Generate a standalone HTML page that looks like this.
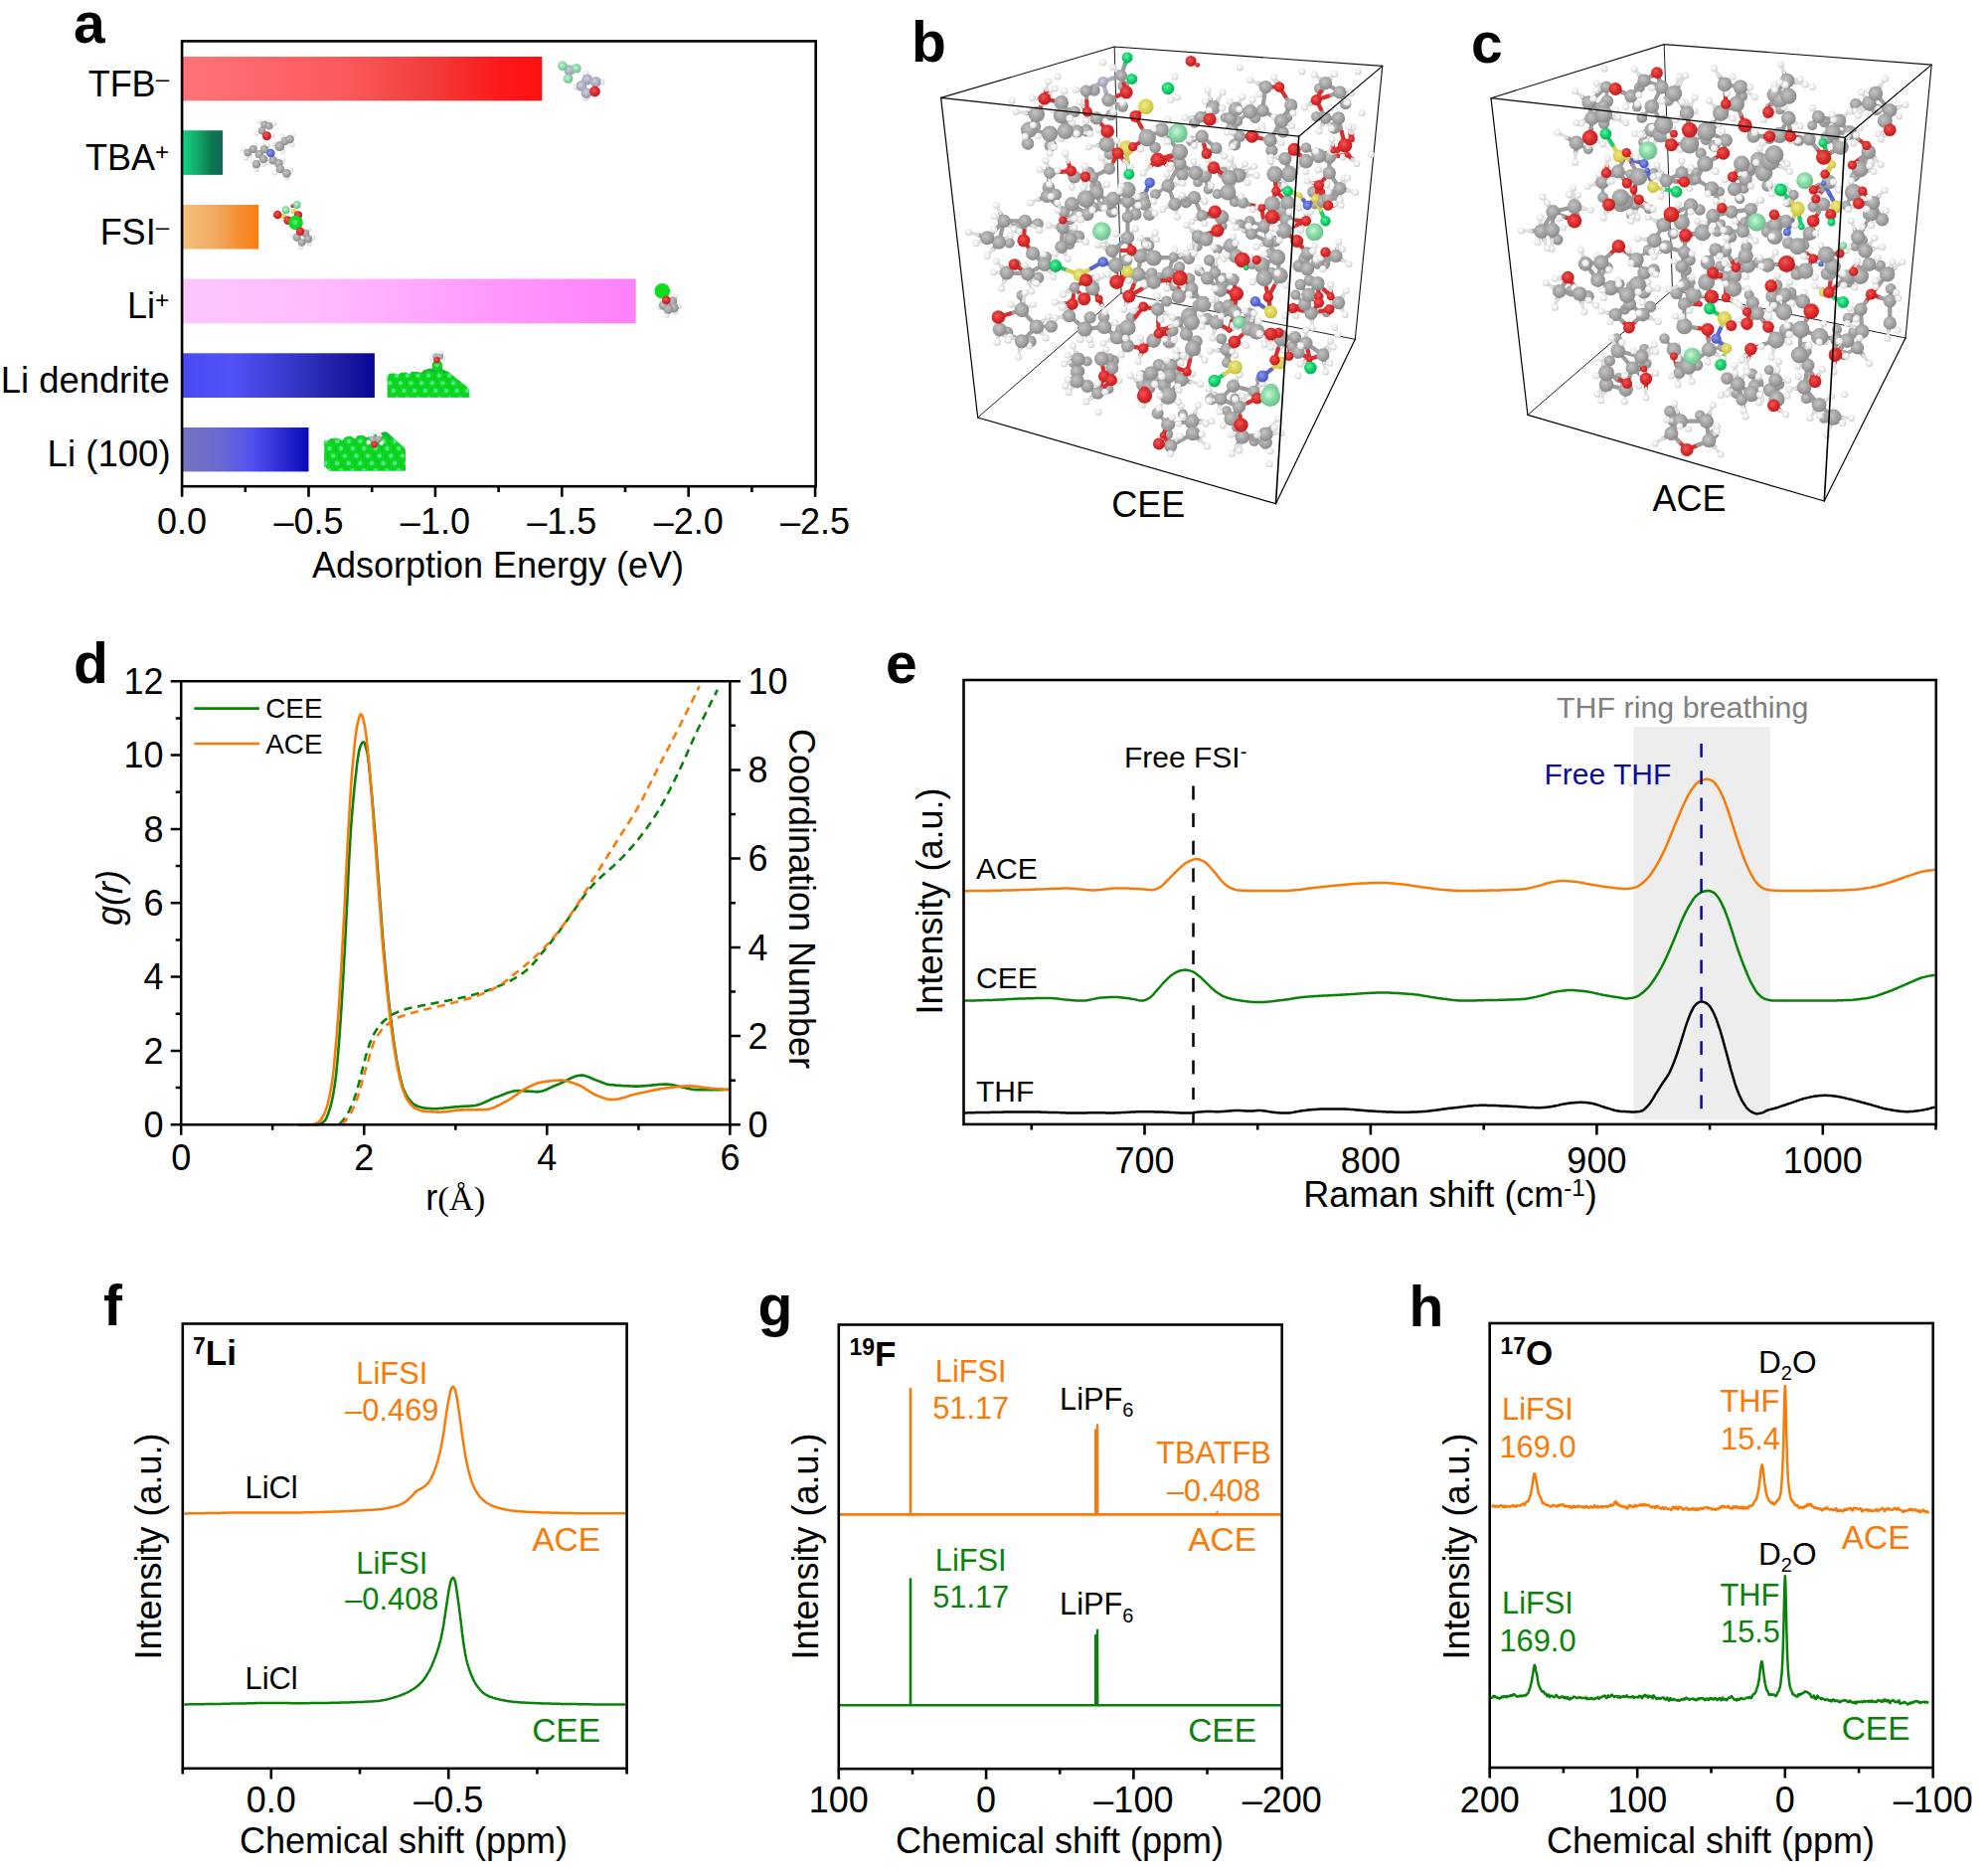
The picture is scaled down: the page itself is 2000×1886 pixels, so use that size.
<!DOCTYPE html>
<html lang="en">
<head>
<meta charset="utf-8">
<title>Figure</title>
<style>
html,body{margin:0;padding:0;background:#fff;}
body{width:2000px;height:1886px;overflow:hidden;}
svg{display:block;font-family:'Liberation Sans', sans-serif;}
</style>
</head>
<body>
<svg width="2000" height="1886" viewBox="0 0 2000 1886">
<rect width="2000" height="1886" fill="#fff"/>
<defs>
<linearGradient id="gTFB" x1="0" x2="1" y1="0" y2="0"><stop offset="0" stop-color="#ff7378"/><stop offset="0.45" stop-color="#fb5a5c"/><stop offset="0.7" stop-color="#f23a3a"/><stop offset="0.88" stop-color="#fd1a1a"/><stop offset="1" stop-color="#ff1010"/></linearGradient>
<linearGradient id="gTBA" x1="0" x2="1" y1="0" y2="0"><stop offset="0" stop-color="#12d684"/><stop offset="0.4" stop-color="#10a868"/><stop offset="0.7" stop-color="#0e7a50"/><stop offset="1" stop-color="#0e6858"/></linearGradient>
<linearGradient id="gFSI" x1="0" x2="1" y1="0" y2="0"><stop offset="0" stop-color="#f6c27e"/><stop offset="0.45" stop-color="#f2a860"/><stop offset="0.8" stop-color="#f58a28"/><stop offset="1" stop-color="#f87e10"/></linearGradient>
<linearGradient id="gLi" x1="0" x2="1" y1="0" y2="0"><stop offset="0" stop-color="#fdc6fd"/><stop offset="0.3" stop-color="#ffbcff"/><stop offset="0.7" stop-color="#ff98fc"/><stop offset="1" stop-color="#ff80fc"/></linearGradient>
<linearGradient id="gDen" x1="0" x2="1" y1="0" y2="0"><stop offset="0" stop-color="#4a4af2"/><stop offset="0.25" stop-color="#5252f8"/><stop offset="0.6" stop-color="#3434c6"/><stop offset="0.85" stop-color="#1a1aa0"/><stop offset="1" stop-color="#06069a"/></linearGradient>
<linearGradient id="gL100" x1="0" x2="1" y1="0" y2="0"><stop offset="0" stop-color="#7474c0"/><stop offset="0.3" stop-color="#6a6ad2"/><stop offset="0.55" stop-color="#5252f0"/><stop offset="0.8" stop-color="#2a2ad0"/><stop offset="1" stop-color="#0a0ab8"/></linearGradient>
</defs>
<rect x="183.1" y="57.0" width="362.2" height="44.3" fill="url(#gTFB)"/>
<rect x="183.1" y="131.2" width="40.9" height="44.7" fill="url(#gTBA)"/>
<rect x="183.1" y="206.0" width="77.1" height="44.5" fill="url(#gFSI)"/>
<rect x="183.1" y="280.5" width="456.5" height="44.8" fill="url(#gLi)"/>
<rect x="183.1" y="355.3" width="193.8" height="44.7" fill="url(#gDen)"/>
<rect x="183.1" y="430.0" width="127.4" height="44.4" fill="url(#gL100)"/>
<rect x="183.1" y="41.4" width="637.6" height="447.8" fill="none" stroke="#000" stroke-width="2.6"/>
<path d="M183.1 489.2L183.1 499.8M246.8 489.2L246.8 495.0M310.5 489.2L310.5 499.8M374.2 489.2L374.2 495.0M437.9 489.2L437.9 499.8M501.6 489.2L501.6 495.0M565.3 489.2L565.3 499.8M629.0 489.2L629.0 495.0M692.7 489.2L692.7 499.8M756.4 489.2L756.4 495.0M820.1 489.2L820.1 499.8" stroke="#000" stroke-width="2.6" fill="none"/>
<text x="183.1" y="537.2" font-size="36" text-anchor="middle">0.0</text>
<text x="310.5" y="537.2" font-size="36" text-anchor="middle">–0.5</text>
<text x="437.9" y="537.2" font-size="36" text-anchor="middle">–1.0</text>
<text x="565.3" y="537.2" font-size="36" text-anchor="middle">–1.5</text>
<text x="692.7" y="537.2" font-size="36" text-anchor="middle">–2.0</text>
<text x="820.1" y="537.2" font-size="36" text-anchor="middle">–2.5</text>
<text x="501.0" y="581.0" font-size="36" text-anchor="middle">Adsorption Energy (eV)</text>
<text x="170.0" y="96.6" font-size="36" text-anchor="end">TFB<tspan font-size="24" dy="-10">–</tspan></text>
<text x="170.0" y="171.0" font-size="36" text-anchor="end">TBA<tspan font-size="24" dy="-10">+</tspan></text>
<text x="170.0" y="245.6" font-size="36" text-anchor="end">FSI<tspan font-size="24" dy="-10">–</tspan></text>
<text x="170.0" y="320.0" font-size="36" text-anchor="end">Li<tspan font-size="24" dy="-10">+</tspan></text>
<text x="170.7" y="394.5" font-size="36.4" text-anchor="end">Li dendrite</text>
<text x="171.6" y="469.0" font-size="36.6" text-anchor="end">Li (100)</text>
<text x="74.0" y="43.0" font-size="57" font-weight="bold">a</text>
<circle cx="260.8" cy="122.0" r="2.5" fill="url(#aH)"/><circle cx="268.8" cy="122.0" r="2.5" fill="url(#aH)"/><circle cx="275.6" cy="124.8" r="2.5" fill="url(#aH)"/><circle cx="258.0" cy="134.0" r="2.5" fill="url(#aH)"/><circle cx="273.6" cy="136.4" r="2.5" fill="url(#aH)"/><circle cx="244.8" cy="150.0" r="2.5" fill="url(#aH)"/><circle cx="247.2" cy="158.8" r="2.5" fill="url(#aH)"/><circle cx="256.4" cy="145.6" r="2.5" fill="url(#aH)"/><circle cx="264.4" cy="146.4" r="2.5" fill="url(#aH)"/><circle cx="269.2" cy="146.8" r="2.5" fill="url(#aH)"/><circle cx="276.0" cy="144.4" r="2.5" fill="url(#aH)"/><circle cx="284.4" cy="136.8" r="2.5" fill="url(#aH)"/><circle cx="294.4" cy="136.0" r="2.5" fill="url(#aH)"/><circle cx="294.0" cy="145.2" r="2.5" fill="url(#aH)"/><circle cx="284.8" cy="152.0" r="2.5" fill="url(#aH)"/><circle cx="254.0" cy="162.0" r="2.5" fill="url(#aH)"/><circle cx="258.0" cy="170.4" r="2.5" fill="url(#aH)"/><circle cx="265.2" cy="165.2" r="2.5" fill="url(#aH)"/><circle cx="269.2" cy="163.6" r="2.5" fill="url(#aH)"/><circle cx="284.8" cy="160.8" r="2.5" fill="url(#aH)"/><circle cx="292.4" cy="171.2" r="2.5" fill="url(#aH)"/><circle cx="276.8" cy="174.0" r="2.5" fill="url(#aH)"/><circle cx="288.8" cy="178.8" r="2.5" fill="url(#aH)"/><circle cx="251.2" cy="156.0" r="2.5" fill="url(#aH)"/>
<circle cx="266.0" cy="125.2" r="3.8" fill="url(#aC)"/><circle cx="270.8" cy="126.8" r="3.8" fill="url(#aC)"/><circle cx="263.6" cy="131.6" r="3.8" fill="url(#aC)"/><circle cx="254.8" cy="150.0" r="4.1" fill="url(#aC)"/><circle cx="249.2" cy="153.6" r="3.8" fill="url(#aC)"/><circle cx="266.0" cy="150.4" r="4.1" fill="url(#aC)"/><circle cx="260.8" cy="155.2" r="4.1" fill="url(#aC)"/><circle cx="265.2" cy="160.0" r="4.3" fill="url(#aC)"/><circle cx="258.0" cy="165.2" r="4.1" fill="url(#aC)"/><circle cx="281.2" cy="147.2" r="4.9" fill="url(#aC)"/><circle cx="286.8" cy="142.0" r="4.3" fill="url(#aC)"/><circle cx="291.6" cy="140.0" r="4.3" fill="url(#aC)"/><circle cx="274.8" cy="161.2" r="4.3" fill="url(#aC)"/><circle cx="280.4" cy="164.4" r="4.3" fill="url(#aC)"/><circle cx="282.0" cy="170.0" r="4.3" fill="url(#aC)"/><circle cx="288.4" cy="174.4" r="4.3" fill="url(#aC)"/>
<circle cx="268.4" cy="136.8" r="4.5" fill="url(#aO)"/>
<circle cx="272.4" cy="154.0" r="4.3" fill="url(#aN)"/>
<circle cx="310.4" cy="230.4" r="2.5" fill="url(#aH)"/><circle cx="294.8" cy="237.2" r="2.5" fill="url(#aH)"/><circle cx="314.4" cy="239.2" r="2.5" fill="url(#aH)"/><circle cx="311.2" cy="245.2" r="2.5" fill="url(#aH)"/><circle cx="302.4" cy="248.8" r="2.5" fill="url(#aH)"/><circle cx="305.2" cy="242.8" r="2.5" fill="url(#aH)"/>
<circle cx="298.8" cy="238.8" r="4.1" fill="url(#aC)"/><circle cx="307.2" cy="234.8" r="4.1" fill="url(#aC)"/><circle cx="310.0" cy="240.4" r="4.1" fill="url(#aC)"/><circle cx="303.6" cy="244.0" r="3.8" fill="url(#aC)"/>
<circle cx="285.2" cy="217.2" r="2.7" fill="url(#aS)"/><circle cx="295.6" cy="212.4" r="2.7" fill="url(#aS)"/>
<circle cx="279.2" cy="216.0" r="4.3" fill="url(#aO)"/><circle cx="289.6" cy="221.6" r="4.3" fill="url(#aO)"/><circle cx="300.0" cy="216.4" r="4.1" fill="url(#aO)"/><circle cx="294.4" cy="207.2" r="1.9" fill="url(#aO)"/>
<circle cx="287.6" cy="211.2" r="3.9" fill="url(#aL)"/><circle cx="298.8" cy="206.0" r="3.9" fill="url(#aL)"/>
<circle cx="297.6" cy="224.0" r="7.3" fill="#10dc20"/>
<circle cx="296.8" cy="223.6" r="2.6" fill="#48e67c"/>
<circle cx="302.0" cy="232.8" r="4.3" fill="url(#aO)"/>
<circle cx="589.5" cy="74.1" r="3.2" fill="url(#aH)"/><circle cx="605.2" cy="82.4" r="3.2" fill="url(#aH)"/><circle cx="579.6" cy="87.2" r="3.2" fill="url(#aH)"/><circle cx="589.2" cy="98.4" r="3.2" fill="url(#aH)"/>
<circle cx="572.9" cy="70.7" r="5.4" fill="url(#aP)"/><circle cx="590.8" cy="80.0" r="5.4" fill="url(#aP)"/><circle cx="599.3" cy="82.4" r="5.4" fill="url(#aP)"/><circle cx="584.9" cy="86.4" r="5.4" fill="url(#aP)"/><circle cx="590.0" cy="93.6" r="5.4" fill="url(#aP)"/>
<circle cx="598.5" cy="92.0" r="5.4" fill="url(#aO)"/>
<circle cx="566.0" cy="66.4" r="4.8" fill="url(#aL)"/><circle cx="579.9" cy="68.8" r="4.8" fill="url(#aL)"/><circle cx="571.6" cy="79.2" r="4.8" fill="url(#aL)"/>
<circle cx="678.8" cy="299.2" r="3.0" fill="url(#aH)"/><circle cx="663.6" cy="308.8" r="3.0" fill="url(#aH)"/><circle cx="682.8" cy="308.0" r="3.0" fill="url(#aH)"/><circle cx="670.8" cy="316.8" r="3.0" fill="url(#aH)"/><circle cx="679.6" cy="313.6" r="3.0" fill="url(#aH)"/>
<circle cx="676.4" cy="303.2" r="4.8" fill="url(#aC)"/><circle cx="667.6" cy="307.2" r="4.8" fill="url(#aC)"/><circle cx="678.0" cy="309.6" r="4.8" fill="url(#aC)"/><circle cx="672.4" cy="311.2" r="4.8" fill="url(#aC)"/>
<circle cx="666.3" cy="292.8" r="7.8" fill="#10dc20"/>
<circle cx="670.3" cy="301.9" r="4.3" fill="url(#aO)"/>
<clipPath id="cpDen"><polygon points="389.7,378.5 391.9,375.8 396.9,375.5 400.5,377.1 403.3,374.9 408.2,374.6 411.9,376.2 414.1,374.0 419.6,373.7 423.2,374.9 426.8,372.1 431.3,370.8 434.8,370.3 435.0,366.3 437.7,364.3 442.2,364.3 445.1,366.7 445.1,371.2 451.3,374.0 458.5,380.3 467.6,387.1 472.1,392.5 472.3,399.8 389.7,399.8"/></clipPath><g clip-path="url(#cpDen)"><polygon points="389.7,378.5 391.9,375.8 396.9,375.5 400.5,377.1 403.3,374.9 408.2,374.6 411.9,376.2 414.1,374.0 419.6,373.7 423.2,374.9 426.8,372.1 431.3,370.8 434.8,370.3 435.0,366.3 437.7,364.3 442.2,364.3 445.1,366.7 445.1,371.2 451.3,374.0 458.5,380.3 467.6,387.1 472.1,392.5 472.3,399.8 389.7,399.8" fill="#12b440"/><circle cx="367.8" cy="378.0" r="5.3" fill="#0cd81c"/><circle cx="378.4" cy="378.0" r="5.3" fill="#0cd81c"/><circle cx="389.0" cy="378.0" r="5.3" fill="#0cd81c"/><circle cx="399.6" cy="378.0" r="5.3" fill="#0cd81c"/><circle cx="410.2" cy="378.0" r="5.3" fill="#0cd81c"/><circle cx="420.8" cy="378.0" r="5.3" fill="#0cd81c"/><circle cx="431.4" cy="378.0" r="5.3" fill="#0cd81c"/><circle cx="442.0" cy="378.0" r="5.3" fill="#0cd81c"/><circle cx="452.6" cy="378.0" r="5.3" fill="#0cd81c"/><circle cx="463.2" cy="378.0" r="5.3" fill="#0cd81c"/><circle cx="473.8" cy="378.0" r="5.3" fill="#0cd81c"/><circle cx="484.4" cy="378.0" r="5.3" fill="#0cd81c"/><circle cx="371.4" cy="385.6" r="5.3" fill="#0cd81c"/><circle cx="382.0" cy="385.6" r="5.3" fill="#0cd81c"/><circle cx="392.6" cy="385.6" r="5.3" fill="#0cd81c"/><circle cx="403.2" cy="385.6" r="5.3" fill="#0cd81c"/><circle cx="413.8" cy="385.6" r="5.3" fill="#0cd81c"/><circle cx="424.4" cy="385.6" r="5.3" fill="#0cd81c"/><circle cx="435.0" cy="385.6" r="5.3" fill="#0cd81c"/><circle cx="445.6" cy="385.6" r="5.3" fill="#0cd81c"/><circle cx="456.2" cy="385.6" r="5.3" fill="#0cd81c"/><circle cx="466.8" cy="385.6" r="5.3" fill="#0cd81c"/><circle cx="477.4" cy="385.6" r="5.3" fill="#0cd81c"/><circle cx="488.0" cy="385.6" r="5.3" fill="#0cd81c"/><circle cx="375.0" cy="393.2" r="5.3" fill="#0cd81c"/><circle cx="385.6" cy="393.2" r="5.3" fill="#0cd81c"/><circle cx="396.2" cy="393.2" r="5.3" fill="#0cd81c"/><circle cx="406.8" cy="393.2" r="5.3" fill="#0cd81c"/><circle cx="417.4" cy="393.2" r="5.3" fill="#0cd81c"/><circle cx="428.0" cy="393.2" r="5.3" fill="#0cd81c"/><circle cx="438.6" cy="393.2" r="5.3" fill="#0cd81c"/><circle cx="449.2" cy="393.2" r="5.3" fill="#0cd81c"/><circle cx="459.8" cy="393.2" r="5.3" fill="#0cd81c"/><circle cx="470.4" cy="393.2" r="5.3" fill="#0cd81c"/><circle cx="481.0" cy="393.2" r="5.3" fill="#0cd81c"/><circle cx="491.6" cy="393.2" r="5.3" fill="#0cd81c"/><circle cx="378.6" cy="400.8" r="5.3" fill="#0cd81c"/><circle cx="389.2" cy="400.8" r="5.3" fill="#0cd81c"/><circle cx="399.8" cy="400.8" r="5.3" fill="#0cd81c"/><circle cx="410.4" cy="400.8" r="5.3" fill="#0cd81c"/><circle cx="421.0" cy="400.8" r="5.3" fill="#0cd81c"/><circle cx="431.6" cy="400.8" r="5.3" fill="#0cd81c"/><circle cx="442.2" cy="400.8" r="5.3" fill="#0cd81c"/><circle cx="452.8" cy="400.8" r="5.3" fill="#0cd81c"/><circle cx="463.4" cy="400.8" r="5.3" fill="#0cd81c"/><circle cx="474.0" cy="400.8" r="5.3" fill="#0cd81c"/><circle cx="484.6" cy="400.8" r="5.3" fill="#0cd81c"/><circle cx="495.2" cy="400.8" r="5.3" fill="#0cd81c"/><circle cx="367.5" cy="377.7" r="2.2" fill="#52e486"/><circle cx="378.1" cy="377.7" r="2.2" fill="#52e486"/><circle cx="388.7" cy="377.7" r="2.2" fill="#52e486"/><circle cx="399.3" cy="377.7" r="2.2" fill="#52e486"/><circle cx="409.9" cy="377.7" r="2.2" fill="#52e486"/><circle cx="420.5" cy="377.7" r="2.2" fill="#52e486"/><circle cx="431.1" cy="377.7" r="2.2" fill="#52e486"/><circle cx="441.7" cy="377.7" r="2.2" fill="#52e486"/><circle cx="452.3" cy="377.7" r="2.2" fill="#52e486"/><circle cx="462.9" cy="377.7" r="2.2" fill="#52e486"/><circle cx="473.5" cy="377.7" r="2.2" fill="#52e486"/><circle cx="484.1" cy="377.7" r="2.2" fill="#52e486"/><circle cx="371.1" cy="385.3" r="2.2" fill="#52e486"/><circle cx="381.7" cy="385.3" r="2.2" fill="#52e486"/><circle cx="392.3" cy="385.3" r="2.2" fill="#52e486"/><circle cx="402.9" cy="385.3" r="2.2" fill="#52e486"/><circle cx="413.5" cy="385.3" r="2.2" fill="#52e486"/><circle cx="424.1" cy="385.3" r="2.2" fill="#52e486"/><circle cx="434.7" cy="385.3" r="2.2" fill="#52e486"/><circle cx="445.3" cy="385.3" r="2.2" fill="#52e486"/><circle cx="455.9" cy="385.3" r="2.2" fill="#52e486"/><circle cx="466.5" cy="385.3" r="2.2" fill="#52e486"/><circle cx="477.1" cy="385.3" r="2.2" fill="#52e486"/><circle cx="487.7" cy="385.3" r="2.2" fill="#52e486"/><circle cx="374.7" cy="392.9" r="2.2" fill="#52e486"/><circle cx="385.3" cy="392.9" r="2.2" fill="#52e486"/><circle cx="395.9" cy="392.9" r="2.2" fill="#52e486"/><circle cx="406.5" cy="392.9" r="2.2" fill="#52e486"/><circle cx="417.1" cy="392.9" r="2.2" fill="#52e486"/><circle cx="427.7" cy="392.9" r="2.2" fill="#52e486"/><circle cx="438.3" cy="392.9" r="2.2" fill="#52e486"/><circle cx="448.9" cy="392.9" r="2.2" fill="#52e486"/><circle cx="459.5" cy="392.9" r="2.2" fill="#52e486"/><circle cx="470.1" cy="392.9" r="2.2" fill="#52e486"/><circle cx="480.7" cy="392.9" r="2.2" fill="#52e486"/><circle cx="491.3" cy="392.9" r="2.2" fill="#52e486"/><circle cx="378.3" cy="400.5" r="2.2" fill="#52e486"/><circle cx="388.9" cy="400.5" r="2.2" fill="#52e486"/><circle cx="399.5" cy="400.5" r="2.2" fill="#52e486"/><circle cx="410.1" cy="400.5" r="2.2" fill="#52e486"/><circle cx="420.7" cy="400.5" r="2.2" fill="#52e486"/><circle cx="431.3" cy="400.5" r="2.2" fill="#52e486"/><circle cx="441.9" cy="400.5" r="2.2" fill="#52e486"/><circle cx="452.5" cy="400.5" r="2.2" fill="#52e486"/><circle cx="463.1" cy="400.5" r="2.2" fill="#52e486"/><circle cx="473.7" cy="400.5" r="2.2" fill="#52e486"/><circle cx="484.3" cy="400.5" r="2.2" fill="#52e486"/><circle cx="494.9" cy="400.5" r="2.2" fill="#52e486"/></g>
<clipPath id="cpL100"><polygon points="326.3,442.8 329.5,443.2 333.5,441.0 339.9,440.7 344.4,443.2 347.1,439.6 353.5,439.1 357.1,441.4 359.3,438.2 365.2,437.8 368.9,440.1 373.4,437.3 382.4,436.0 385.2,434.2 389.2,434.3 407.8,451.4 408.0,473.6 331.7,473.8 326.3,468.6"/></clipPath><g clip-path="url(#cpL100)"><polygon points="326.3,442.8 329.5,443.2 333.5,441.0 339.9,440.7 344.4,443.2 347.1,439.6 353.5,439.1 357.1,441.4 359.3,438.2 365.2,437.8 368.9,440.1 373.4,437.3 382.4,436.0 385.2,434.2 389.2,434.3 407.8,451.4 408.0,473.6 331.7,473.8 326.3,468.6" fill="#12b440"/><circle cx="304.8" cy="444.0" r="5.5" fill="#0cd81c"/><circle cx="316.4" cy="444.0" r="5.5" fill="#0cd81c"/><circle cx="328.0" cy="444.0" r="5.5" fill="#0cd81c"/><circle cx="339.6" cy="444.0" r="5.5" fill="#0cd81c"/><circle cx="351.2" cy="444.0" r="5.5" fill="#0cd81c"/><circle cx="362.8" cy="444.0" r="5.5" fill="#0cd81c"/><circle cx="374.4" cy="444.0" r="5.5" fill="#0cd81c"/><circle cx="386.0" cy="444.0" r="5.5" fill="#0cd81c"/><circle cx="397.6" cy="444.0" r="5.5" fill="#0cd81c"/><circle cx="409.2" cy="444.0" r="5.5" fill="#0cd81c"/><circle cx="420.8" cy="444.0" r="5.5" fill="#0cd81c"/><circle cx="432.4" cy="444.0" r="5.5" fill="#0cd81c"/><circle cx="308.6" cy="451.4" r="5.5" fill="#0cd81c"/><circle cx="320.2" cy="451.4" r="5.5" fill="#0cd81c"/><circle cx="331.8" cy="451.4" r="5.5" fill="#0cd81c"/><circle cx="343.4" cy="451.4" r="5.5" fill="#0cd81c"/><circle cx="355.0" cy="451.4" r="5.5" fill="#0cd81c"/><circle cx="366.6" cy="451.4" r="5.5" fill="#0cd81c"/><circle cx="378.2" cy="451.4" r="5.5" fill="#0cd81c"/><circle cx="389.8" cy="451.4" r="5.5" fill="#0cd81c"/><circle cx="401.4" cy="451.4" r="5.5" fill="#0cd81c"/><circle cx="413.0" cy="451.4" r="5.5" fill="#0cd81c"/><circle cx="424.6" cy="451.4" r="5.5" fill="#0cd81c"/><circle cx="436.2" cy="451.4" r="5.5" fill="#0cd81c"/><circle cx="312.4" cy="458.8" r="5.5" fill="#0cd81c"/><circle cx="324.0" cy="458.8" r="5.5" fill="#0cd81c"/><circle cx="335.6" cy="458.8" r="5.5" fill="#0cd81c"/><circle cx="347.2" cy="458.8" r="5.5" fill="#0cd81c"/><circle cx="358.8" cy="458.8" r="5.5" fill="#0cd81c"/><circle cx="370.4" cy="458.8" r="5.5" fill="#0cd81c"/><circle cx="382.0" cy="458.8" r="5.5" fill="#0cd81c"/><circle cx="393.6" cy="458.8" r="5.5" fill="#0cd81c"/><circle cx="405.2" cy="458.8" r="5.5" fill="#0cd81c"/><circle cx="416.8" cy="458.8" r="5.5" fill="#0cd81c"/><circle cx="428.4" cy="458.8" r="5.5" fill="#0cd81c"/><circle cx="440.0" cy="458.8" r="5.5" fill="#0cd81c"/><circle cx="316.2" cy="466.2" r="5.5" fill="#0cd81c"/><circle cx="327.8" cy="466.2" r="5.5" fill="#0cd81c"/><circle cx="339.4" cy="466.2" r="5.5" fill="#0cd81c"/><circle cx="351.0" cy="466.2" r="5.5" fill="#0cd81c"/><circle cx="362.6" cy="466.2" r="5.5" fill="#0cd81c"/><circle cx="374.2" cy="466.2" r="5.5" fill="#0cd81c"/><circle cx="385.8" cy="466.2" r="5.5" fill="#0cd81c"/><circle cx="397.4" cy="466.2" r="5.5" fill="#0cd81c"/><circle cx="409.0" cy="466.2" r="5.5" fill="#0cd81c"/><circle cx="420.6" cy="466.2" r="5.5" fill="#0cd81c"/><circle cx="432.2" cy="466.2" r="5.5" fill="#0cd81c"/><circle cx="443.8" cy="466.2" r="5.5" fill="#0cd81c"/><circle cx="320.0" cy="473.6" r="5.5" fill="#0cd81c"/><circle cx="331.6" cy="473.6" r="5.5" fill="#0cd81c"/><circle cx="343.2" cy="473.6" r="5.5" fill="#0cd81c"/><circle cx="354.8" cy="473.6" r="5.5" fill="#0cd81c"/><circle cx="366.4" cy="473.6" r="5.5" fill="#0cd81c"/><circle cx="378.0" cy="473.6" r="5.5" fill="#0cd81c"/><circle cx="389.6" cy="473.6" r="5.5" fill="#0cd81c"/><circle cx="401.2" cy="473.6" r="5.5" fill="#0cd81c"/><circle cx="412.8" cy="473.6" r="5.5" fill="#0cd81c"/><circle cx="424.4" cy="473.6" r="5.5" fill="#0cd81c"/><circle cx="436.0" cy="473.6" r="5.5" fill="#0cd81c"/><circle cx="447.6" cy="473.6" r="5.5" fill="#0cd81c"/><circle cx="304.5" cy="443.7" r="2.3" fill="#52e486"/><circle cx="316.1" cy="443.7" r="2.3" fill="#52e486"/><circle cx="327.7" cy="443.7" r="2.3" fill="#52e486"/><circle cx="339.3" cy="443.7" r="2.3" fill="#52e486"/><circle cx="350.9" cy="443.7" r="2.3" fill="#52e486"/><circle cx="362.5" cy="443.7" r="2.3" fill="#52e486"/><circle cx="374.1" cy="443.7" r="2.3" fill="#52e486"/><circle cx="385.7" cy="443.7" r="2.3" fill="#52e486"/><circle cx="397.3" cy="443.7" r="2.3" fill="#52e486"/><circle cx="408.9" cy="443.7" r="2.3" fill="#52e486"/><circle cx="420.5" cy="443.7" r="2.3" fill="#52e486"/><circle cx="432.1" cy="443.7" r="2.3" fill="#52e486"/><circle cx="308.3" cy="451.1" r="2.3" fill="#52e486"/><circle cx="319.9" cy="451.1" r="2.3" fill="#52e486"/><circle cx="331.5" cy="451.1" r="2.3" fill="#52e486"/><circle cx="343.1" cy="451.1" r="2.3" fill="#52e486"/><circle cx="354.7" cy="451.1" r="2.3" fill="#52e486"/><circle cx="366.3" cy="451.1" r="2.3" fill="#52e486"/><circle cx="377.9" cy="451.1" r="2.3" fill="#52e486"/><circle cx="389.5" cy="451.1" r="2.3" fill="#52e486"/><circle cx="401.1" cy="451.1" r="2.3" fill="#52e486"/><circle cx="412.7" cy="451.1" r="2.3" fill="#52e486"/><circle cx="424.3" cy="451.1" r="2.3" fill="#52e486"/><circle cx="435.9" cy="451.1" r="2.3" fill="#52e486"/><circle cx="312.1" cy="458.5" r="2.3" fill="#52e486"/><circle cx="323.7" cy="458.5" r="2.3" fill="#52e486"/><circle cx="335.3" cy="458.5" r="2.3" fill="#52e486"/><circle cx="346.9" cy="458.5" r="2.3" fill="#52e486"/><circle cx="358.5" cy="458.5" r="2.3" fill="#52e486"/><circle cx="370.1" cy="458.5" r="2.3" fill="#52e486"/><circle cx="381.7" cy="458.5" r="2.3" fill="#52e486"/><circle cx="393.3" cy="458.5" r="2.3" fill="#52e486"/><circle cx="404.9" cy="458.5" r="2.3" fill="#52e486"/><circle cx="416.5" cy="458.5" r="2.3" fill="#52e486"/><circle cx="428.1" cy="458.5" r="2.3" fill="#52e486"/><circle cx="439.7" cy="458.5" r="2.3" fill="#52e486"/><circle cx="315.9" cy="465.9" r="2.3" fill="#52e486"/><circle cx="327.5" cy="465.9" r="2.3" fill="#52e486"/><circle cx="339.1" cy="465.9" r="2.3" fill="#52e486"/><circle cx="350.7" cy="465.9" r="2.3" fill="#52e486"/><circle cx="362.3" cy="465.9" r="2.3" fill="#52e486"/><circle cx="373.9" cy="465.9" r="2.3" fill="#52e486"/><circle cx="385.5" cy="465.9" r="2.3" fill="#52e486"/><circle cx="397.1" cy="465.9" r="2.3" fill="#52e486"/><circle cx="408.7" cy="465.9" r="2.3" fill="#52e486"/><circle cx="420.3" cy="465.9" r="2.3" fill="#52e486"/><circle cx="431.9" cy="465.9" r="2.3" fill="#52e486"/><circle cx="443.5" cy="465.9" r="2.3" fill="#52e486"/><circle cx="319.7" cy="473.3" r="2.3" fill="#52e486"/><circle cx="331.3" cy="473.3" r="2.3" fill="#52e486"/><circle cx="342.9" cy="473.3" r="2.3" fill="#52e486"/><circle cx="354.5" cy="473.3" r="2.3" fill="#52e486"/><circle cx="366.1" cy="473.3" r="2.3" fill="#52e486"/><circle cx="377.7" cy="473.3" r="2.3" fill="#52e486"/><circle cx="389.3" cy="473.3" r="2.3" fill="#52e486"/><circle cx="400.9" cy="473.3" r="2.3" fill="#52e486"/><circle cx="412.5" cy="473.3" r="2.3" fill="#52e486"/><circle cx="424.1" cy="473.3" r="2.3" fill="#52e486"/><circle cx="435.7" cy="473.3" r="2.3" fill="#52e486"/><circle cx="447.3" cy="473.3" r="2.3" fill="#52e486"/></g>
<circle cx="439.9" cy="367.6" r="5.3" fill="#0cd81c"/><circle cx="439.6" cy="367.3" r="2.2" fill="#52e486"/>
<circle cx="436.8" cy="356.3" r="2.7" fill="url(#aH)"/><circle cx="444.0" cy="355.8" r="2.7" fill="url(#aH)"/><circle cx="434.0" cy="360.4" r="2.4" fill="url(#aH)"/><circle cx="445.8" cy="360.4" r="2.4" fill="url(#aH)"/>
<circle cx="438.6" cy="358.6" r="3.2" fill="url(#aC)"/><circle cx="442.7" cy="358.6" r="3.2" fill="url(#aC)"/>
<circle cx="439.5" cy="362.2" r="3.2" fill="url(#aO)"/>
<circle cx="373.8" cy="438.2" r="2.9" fill="url(#aH)"/><circle cx="381.5" cy="438.2" r="2.9" fill="url(#aH)"/><circle cx="370.7" cy="445.0" r="2.4" fill="url(#aH)"/><circle cx="383.8" cy="445.5" r="2.4" fill="url(#aH)"/>
<circle cx="375.2" cy="441.9" r="3.4" fill="url(#aC)"/><circle cx="380.6" cy="441.9" r="3.4" fill="url(#aC)"/>
<circle cx="376.6" cy="447.3" r="3.2" fill="url(#aO)"/>
<defs>
<radialGradient id="aC" cx="0.4" cy="0.38" r="0.68"><stop offset="0" stop-color="#c4c4c4"/><stop offset="0.55" stop-color="#a2a2a2"/><stop offset="1" stop-color="#848484"/></radialGradient>
<radialGradient id="aH" cx="0.42" cy="0.4" r="0.7"><stop offset="0" stop-color="#ffffff"/><stop offset="0.5" stop-color="#ececec"/><stop offset="1" stop-color="#c2c2c2"/></radialGradient>
<radialGradient id="aO" cx="0.4" cy="0.38" r="0.68"><stop offset="0" stop-color="#f25656"/><stop offset="0.5" stop-color="#dc2c2c"/><stop offset="1" stop-color="#b81c1c"/></radialGradient>
<radialGradient id="aF" cx="0.4" cy="0.38" r="0.68"><stop offset="0" stop-color="#5cf0a0"/><stop offset="0.5" stop-color="#14d26c"/><stop offset="1" stop-color="#08a854"/></radialGradient>
<radialGradient id="aL" cx="0.42" cy="0.4" r="0.68"><stop offset="0" stop-color="#c8f6d8"/><stop offset="0.5" stop-color="#86d8a4"/><stop offset="1" stop-color="#62b884"/></radialGradient>
<radialGradient id="aS" cx="0.42" cy="0.4" r="0.68"><stop offset="0" stop-color="#f0ea88"/><stop offset="0.6" stop-color="#d8d050"/><stop offset="1" stop-color="#c0b83c"/></radialGradient>
<radialGradient id="aN" cx="0.42" cy="0.4" r="0.68"><stop offset="0" stop-color="#8c98ec"/><stop offset="0.6" stop-color="#5868d0"/><stop offset="1" stop-color="#4050b0"/></radialGradient>
<radialGradient id="aP" cx="0.42" cy="0.4" r="0.68"><stop offset="0" stop-color="#d0d0e0"/><stop offset="0.6" stop-color="#a8a8c0"/><stop offset="1" stop-color="#9090a8"/></radialGradient>
</defs>
<path d="M1121.2 47.0L1128.0 294.8M1128.0 294.8L983.7 420.0M1128.0 294.8L1363.3 341.3" stroke="#222" stroke-width="1.0" fill="none" stroke-linecap="round"/>
<path d="M1121.2 47.0L1390.8 66.4M1390.8 66.4L1363.3 341.3M946.6 98.4L1121.2 47.0" stroke="#111" stroke-width="1.1" fill="none" stroke-linecap="round"/>
<path d="M1130.3 86.5L1128.0 75.8M1100.7 90.7L1092.6 91.5M1129.4 107.2L1114.9 100.6M1076.7 112.9L1067.8 103.2M1041.2 127.1L1042.9 115.0M1081.3 112.3L1067.8 116.3M1117.7 115.7L1103.1 118.9M1034.0 144.4L1035.1 130.7M1056.8 146.2L1056.0 134.6M1093.2 131.1L1083.5 132.0M1116.5 155.1L1113.6 145.1M1162.1 148.4L1154.1 138.6M1054.9 188.7L1056.0 173.9M1095.2 173.7L1080.9 177.8M1102.3 187.0L1099.2 177.8M1061.8 195.9L1053.4 197.4M1082.6 215.7L1078.3 205.3M1107.2 207.9L1103.1 193.5M1131.9 193.0L1120.1 200.0M1143.7 206.9L1150.2 198.7M1100.2 208.5L1093.9 215.7M1142.3 215.5L1134.5 218.3M1162.4 195.3L1175.0 186.9M1044.0 225.3L1031.2 222.3M1024.0 229.4L1010.2 222.3M1076.7 220.8L1070.4 213.1M1327.5 89.0L1333.5 83.6M1353.6 104.4L1347.9 92.8M1214.2 118.5L1220.4 108.5M1232.3 118.4L1243.2 109.8M1245.1 121.9L1257.6 112.4M1262.7 118.7L1270.1 111.1M1295.0 118.0L1298.8 105.9M1201.7 123.0L1207.9 117.6M1239.3 128.6L1238.0 118.9M1290.8 132.9L1289.0 121.6M1342.3 128.7L1346.6 118.9M1324.3 117.2L1333.5 118.9M1198.5 141.7L1209.2 137.2M1242.2 145.4L1247.2 137.2M1279.4 151.3L1277.9 141.2M1213.9 153.6L1223.6 149.0M1180.1 160.4L1187.0 152.9M1189.5 175.7L1187.0 164.7M1299.6 173.5L1292.9 159.5M1314.0 148.5L1326.9 156.9M1324.8 154.1L1337.4 158.2M1205.0 183.4L1202.7 173.9M1215.5 190.5L1211.9 176.5M1230.9 173.7L1245.9 176.5M1287.6 188.2L1282.5 175.2M1284.9 177.5L1296.9 175.2M1340.8 196.6L1347.9 189.6M1224.7 195.2L1235.4 193.5M1193.2 203.3L1201.4 198.7M1242.5 202.5L1250.4 203.9M1290.2 212.6L1295.6 203.9M1323.0 205.6L1336.1 200.0M1229.7 227.3L1228.9 218.3M1015.5 244.3L1005.0 243.8M1079.8 235.6L1069.1 228.8M1085.4 237.5L1076.9 240.5M1076.1 246.0L1067.8 248.4M1052.8 258.5L1039.0 254.9M1062.0 268.5L1050.8 266.0M1044.4 279.4L1033.8 275.2M1021.5 265.8L1012.9 274.5M1133.1 262.0L1122.7 266.7M1138.9 252.9L1134.5 239.2M1153.8 244.5L1147.6 257.5M1158.8 274.9L1145.0 275.9M1167.2 279.0L1160.6 283.7M1099.0 281.5L1099.2 290.2M1027.5 297.1L1027.9 311.8M1057.6 328.3L1042.9 328.8M1013.4 334.4L1005.7 331.4M1036.7 343.6L1027.9 343.2M1096.6 319.4L1091.3 330.8M1110.5 318.8L1110.9 328.8M1138.0 319.1L1134.5 329.5M1127.6 331.4L1124.0 339.3M1168.2 337.1L1160.6 342.6M1173.6 303.0L1164.6 311.2M1093.8 363.5L1084.8 361.5M1120.3 362.6L1108.3 360.9M1116.0 360.3L1118.8 370.0M1085.4 373.4L1083.5 383.1M1165.9 367.2L1158.0 375.3M1171.6 369.4L1176.3 377.9M1148.7 377.6L1148.9 387.0M1118.7 212.7L1116.2 203.9M1156.2 216.0L1151.5 205.2M1179.6 332.5L1176.3 343.9M1257.2 222.4L1272.0 227.5M1282.8 242.6L1291.6 232.0M1204.5 248.0L1205.3 237.9M1247.4 225.5L1258.9 235.3M1224.8 251.0L1238.0 247.1M1237.5 249.0L1243.2 257.5M1278.1 254.8L1285.1 258.9M1259.8 265.3L1269.4 266.7M1279.4 273.9L1287.7 277.2M1306.8 267.5L1315.2 254.9M1312.2 260.0L1315.2 270.6M1313.5 269.8L1325.6 264.1M1332.1 265.1L1343.9 257.5M1317.2 282.1L1325.6 285.0M1308.2 286.2L1316.5 296.8M1303.4 296.7L1312.6 305.9M1334.3 314.1L1346.6 304.6M1186.6 268.7L1175.2 274.5M1206.6 272.9L1214.5 279.8M1216.7 261.7L1222.3 274.5M1230.6 279.6L1240.6 281.1M1196.3 280.6L1198.8 290.2M1181.6 287.6L1185.7 298.1M1200.3 295.3L1210.5 305.9M1226.6 308.8L1235.4 307.2M1232.4 313.4L1241.9 313.8M1205.2 307.1L1196.2 317.7M1195.0 315.5L1198.8 324.2M1214.2 320.9L1223.6 324.2M1257.5 315.7L1256.3 330.8M1256.9 323.0L1264.2 333.4M1185.4 323.6L1193.5 336.0M1203.7 343.3L1200.1 350.4M1228.8 340.7L1234.1 351.7M1300.2 348.4L1306.0 354.3M1302.8 339.2L1313.9 345.2M1187.6 358.9L1177.8 367.4M1182.8 375.2L1188.3 381.8M1267.9 381.6L1261.6 393.6M1321.1 193.0L1330.9 202.6M1195.9 259.9L1180.5 258.9M1115.5 391.2L1104.4 395.5M1079.9 365.0L1083.5 373.9M1163.8 380.6L1155.4 389.6M1170.3 387.4L1175.0 398.1M1164.6 415.8L1175.0 426.9M1174.3 436.7L1177.7 448.5M1218.5 401.2L1228.2 401.4M1242.3 400.7L1246.5 409.2M1233.9 413.0L1238.7 421.0M1189.9 416.5L1199.4 423.6M1197.9 425.0L1200.1 436.0M1243.8 429.9L1249.8 439.3M1261.6 444.0L1273.3 445.2" stroke="#a4a4a4" stroke-width="3.6" stroke-linecap="round" fill="none"/>
<circle cx="1130.3" cy="86.5" r="5.8" fill="url(#aC)"/>
<circle cx="1100.7" cy="90.7" r="6.1" fill="url(#aC)"/>
<circle cx="1129.4" cy="107.2" r="5.6" fill="url(#aC)"/>
<circle cx="1076.7" cy="112.9" r="5.0" fill="url(#aC)"/>
<circle cx="1041.2" cy="127.1" r="6.0" fill="url(#aC)"/>
<circle cx="1081.3" cy="112.3" r="5.7" fill="url(#aC)"/>
<circle cx="1117.7" cy="115.7" r="5.6" fill="url(#aC)"/>
<circle cx="1034.0" cy="144.4" r="6.3" fill="url(#aC)"/>
<circle cx="1056.8" cy="146.2" r="6.3" fill="url(#aC)"/>
<circle cx="1093.2" cy="131.1" r="6.3" fill="url(#aC)"/>
<circle cx="1116.5" cy="155.1" r="5.6" fill="url(#aC)"/>
<circle cx="1162.1" cy="148.4" r="5.7" fill="url(#aC)"/>
<circle cx="1054.9" cy="188.7" r="6.4" fill="url(#aC)"/>
<circle cx="1095.2" cy="173.7" r="6.3" fill="url(#aC)"/>
<circle cx="1102.3" cy="187.0" r="6.1" fill="url(#aC)"/>
<circle cx="1061.8" cy="195.9" r="6.2" fill="url(#aC)"/>
<circle cx="1082.6" cy="215.7" r="5.0" fill="url(#aC)"/>
<circle cx="1107.2" cy="207.9" r="4.9" fill="url(#aC)"/>
<circle cx="1131.9" cy="193.0" r="5.3" fill="url(#aC)"/>
<circle cx="1143.7" cy="206.9" r="4.9" fill="url(#aC)"/>
<circle cx="1100.2" cy="208.5" r="5.5" fill="url(#aC)"/>
<circle cx="1142.3" cy="215.5" r="6.2" fill="url(#aC)"/>
<circle cx="1162.4" cy="195.3" r="5.4" fill="url(#aC)"/>
<circle cx="1044.0" cy="225.3" r="5.8" fill="url(#aC)"/>
<circle cx="1024.0" cy="229.4" r="5.6" fill="url(#aC)"/>
<circle cx="1076.7" cy="220.8" r="5.3" fill="url(#aC)"/>
<circle cx="1327.5" cy="89.0" r="5.5" fill="url(#aC)"/>
<circle cx="1353.6" cy="104.4" r="5.8" fill="url(#aC)"/>
<circle cx="1214.2" cy="118.5" r="5.9" fill="url(#aC)"/>
<circle cx="1232.3" cy="118.4" r="4.8" fill="url(#aC)"/>
<circle cx="1245.1" cy="121.9" r="5.2" fill="url(#aC)"/>
<circle cx="1262.7" cy="118.7" r="5.4" fill="url(#aC)"/>
<circle cx="1295.0" cy="118.0" r="5.3" fill="url(#aC)"/>
<circle cx="1201.7" cy="123.0" r="5.7" fill="url(#aC)"/>
<circle cx="1239.3" cy="128.6" r="6.1" fill="url(#aC)"/>
<circle cx="1290.8" cy="132.9" r="5.9" fill="url(#aC)"/>
<circle cx="1342.3" cy="128.7" r="6.1" fill="url(#aC)"/>
<circle cx="1324.3" cy="117.2" r="5.3" fill="url(#aC)"/>
<circle cx="1198.5" cy="141.7" r="5.2" fill="url(#aC)"/>
<circle cx="1242.2" cy="145.4" r="6.1" fill="url(#aC)"/>
<circle cx="1279.4" cy="151.3" r="6.1" fill="url(#aC)"/>
<circle cx="1213.9" cy="153.6" r="5.0" fill="url(#aC)"/>
<circle cx="1180.1" cy="160.4" r="5.4" fill="url(#aC)"/>
<circle cx="1189.5" cy="175.7" r="6.3" fill="url(#aC)"/>
<circle cx="1299.6" cy="173.5" r="6.2" fill="url(#aC)"/>
<circle cx="1314.0" cy="148.5" r="5.2" fill="url(#aC)"/>
<circle cx="1324.8" cy="154.1" r="5.6" fill="url(#aC)"/>
<circle cx="1205.0" cy="183.4" r="4.9" fill="url(#aC)"/>
<circle cx="1215.5" cy="190.5" r="4.9" fill="url(#aC)"/>
<circle cx="1230.9" cy="173.7" r="6.2" fill="url(#aC)"/>
<circle cx="1287.6" cy="188.2" r="5.1" fill="url(#aC)"/>
<circle cx="1284.9" cy="177.5" r="5.5" fill="url(#aC)"/>
<circle cx="1340.8" cy="196.6" r="6.2" fill="url(#aC)"/>
<circle cx="1224.7" cy="195.2" r="5.1" fill="url(#aC)"/>
<circle cx="1193.2" cy="203.3" r="6.1" fill="url(#aC)"/>
<circle cx="1242.5" cy="202.5" r="5.8" fill="url(#aC)"/>
<circle cx="1290.2" cy="212.6" r="5.6" fill="url(#aC)"/>
<circle cx="1323.0" cy="205.6" r="4.8" fill="url(#aC)"/>
<circle cx="1229.7" cy="227.3" r="4.9" fill="url(#aC)"/>
<circle cx="1015.5" cy="244.3" r="5.3" fill="url(#aC)"/>
<circle cx="1079.8" cy="235.6" r="5.4" fill="url(#aC)"/>
<circle cx="1085.4" cy="237.5" r="5.7" fill="url(#aC)"/>
<circle cx="1076.1" cy="246.0" r="5.1" fill="url(#aC)"/>
<circle cx="1052.8" cy="258.5" r="5.4" fill="url(#aC)"/>
<circle cx="1062.0" cy="268.5" r="5.4" fill="url(#aC)"/>
<circle cx="1044.4" cy="279.4" r="5.9" fill="url(#aC)"/>
<circle cx="1021.5" cy="265.8" r="5.9" fill="url(#aC)"/>
<circle cx="1133.1" cy="262.0" r="6.2" fill="url(#aC)"/>
<circle cx="1138.9" cy="252.9" r="5.2" fill="url(#aC)"/>
<circle cx="1153.8" cy="244.5" r="5.9" fill="url(#aC)"/>
<circle cx="1158.8" cy="274.9" r="5.7" fill="url(#aC)"/>
<circle cx="1167.2" cy="279.0" r="5.0" fill="url(#aC)"/>
<circle cx="1099.0" cy="281.5" r="5.0" fill="url(#aC)"/>
<circle cx="1027.5" cy="297.1" r="5.0" fill="url(#aC)"/>
<circle cx="1057.6" cy="328.3" r="6.3" fill="url(#aC)"/>
<circle cx="1013.4" cy="334.4" r="6.0" fill="url(#aC)"/>
<circle cx="1036.7" cy="343.6" r="6.0" fill="url(#aC)"/>
<circle cx="1096.6" cy="319.4" r="6.1" fill="url(#aC)"/>
<circle cx="1110.5" cy="318.8" r="5.8" fill="url(#aC)"/>
<circle cx="1138.0" cy="319.1" r="5.4" fill="url(#aC)"/>
<circle cx="1127.6" cy="331.4" r="5.6" fill="url(#aC)"/>
<circle cx="1168.2" cy="337.1" r="5.9" fill="url(#aC)"/>
<circle cx="1173.6" cy="303.0" r="5.6" fill="url(#aC)"/>
<circle cx="1093.8" cy="363.5" r="5.0" fill="url(#aC)"/>
<circle cx="1120.3" cy="362.6" r="5.5" fill="url(#aC)"/>
<circle cx="1116.0" cy="360.3" r="5.1" fill="url(#aC)"/>
<circle cx="1085.4" cy="373.4" r="5.9" fill="url(#aC)"/>
<circle cx="1165.9" cy="367.2" r="6.2" fill="url(#aC)"/>
<circle cx="1171.6" cy="369.4" r="4.8" fill="url(#aC)"/>
<circle cx="1148.7" cy="377.6" r="5.4" fill="url(#aC)"/>
<circle cx="1118.7" cy="212.7" r="6.4" fill="url(#aC)"/>
<circle cx="1156.2" cy="216.0" r="6.1" fill="url(#aC)"/>
<circle cx="1179.6" cy="332.5" r="6.0" fill="url(#aC)"/>
<circle cx="1257.2" cy="222.4" r="5.5" fill="url(#aC)"/>
<circle cx="1282.8" cy="242.6" r="5.9" fill="url(#aC)"/>
<circle cx="1204.5" cy="248.0" r="5.1" fill="url(#aC)"/>
<circle cx="1247.4" cy="225.5" r="5.2" fill="url(#aC)"/>
<circle cx="1224.8" cy="251.0" r="4.9" fill="url(#aC)"/>
<circle cx="1237.5" cy="249.0" r="5.4" fill="url(#aC)"/>
<circle cx="1278.1" cy="254.8" r="5.3" fill="url(#aC)"/>
<circle cx="1259.8" cy="265.3" r="5.7" fill="url(#aC)"/>
<circle cx="1279.4" cy="273.9" r="5.2" fill="url(#aC)"/>
<circle cx="1306.8" cy="267.5" r="6.3" fill="url(#aC)"/>
<circle cx="1312.2" cy="260.0" r="6.0" fill="url(#aC)"/>
<circle cx="1313.5" cy="269.8" r="5.8" fill="url(#aC)"/>
<circle cx="1332.1" cy="265.1" r="6.3" fill="url(#aC)"/>
<circle cx="1317.2" cy="282.1" r="5.6" fill="url(#aC)"/>
<circle cx="1308.2" cy="286.2" r="5.7" fill="url(#aC)"/>
<circle cx="1303.4" cy="296.7" r="5.1" fill="url(#aC)"/>
<circle cx="1334.3" cy="314.1" r="5.0" fill="url(#aC)"/>
<circle cx="1186.6" cy="268.7" r="5.7" fill="url(#aC)"/>
<circle cx="1206.6" cy="272.9" r="5.1" fill="url(#aC)"/>
<circle cx="1216.7" cy="261.7" r="5.7" fill="url(#aC)"/>
<circle cx="1230.6" cy="279.6" r="5.4" fill="url(#aC)"/>
<circle cx="1196.3" cy="280.6" r="6.0" fill="url(#aC)"/>
<circle cx="1181.6" cy="287.6" r="5.7" fill="url(#aC)"/>
<circle cx="1200.3" cy="295.3" r="5.0" fill="url(#aC)"/>
<circle cx="1226.6" cy="308.8" r="6.0" fill="url(#aC)"/>
<circle cx="1232.4" cy="313.4" r="5.5" fill="url(#aC)"/>
<circle cx="1205.2" cy="307.1" r="5.7" fill="url(#aC)"/>
<circle cx="1195.0" cy="315.5" r="5.6" fill="url(#aC)"/>
<circle cx="1214.2" cy="320.9" r="6.1" fill="url(#aC)"/>
<circle cx="1257.5" cy="315.7" r="6.3" fill="url(#aC)"/>
<circle cx="1256.9" cy="323.0" r="5.8" fill="url(#aC)"/>
<circle cx="1185.4" cy="323.6" r="5.6" fill="url(#aC)"/>
<circle cx="1203.7" cy="343.3" r="6.0" fill="url(#aC)"/>
<circle cx="1228.8" cy="340.7" r="5.5" fill="url(#aC)"/>
<circle cx="1300.2" cy="348.4" r="5.6" fill="url(#aC)"/>
<circle cx="1302.8" cy="339.2" r="6.3" fill="url(#aC)"/>
<circle cx="1187.6" cy="358.9" r="4.9" fill="url(#aC)"/>
<circle cx="1182.8" cy="375.2" r="5.7" fill="url(#aC)"/>
<circle cx="1267.9" cy="381.6" r="5.0" fill="url(#aC)"/>
<circle cx="1321.1" cy="193.0" r="6.0" fill="url(#aC)"/>
<circle cx="1195.9" cy="259.9" r="6.2" fill="url(#aC)"/>
<circle cx="1115.5" cy="391.2" r="5.0" fill="url(#aC)"/>
<circle cx="1079.9" cy="365.0" r="5.1" fill="url(#aC)"/>
<circle cx="1163.8" cy="380.6" r="5.5" fill="url(#aC)"/>
<circle cx="1170.3" cy="387.4" r="6.0" fill="url(#aC)"/>
<circle cx="1164.6" cy="415.8" r="6.0" fill="url(#aC)"/>
<circle cx="1174.3" cy="436.7" r="5.8" fill="url(#aC)"/>
<circle cx="1218.5" cy="401.2" r="6.1" fill="url(#aC)"/>
<circle cx="1242.3" cy="400.7" r="5.1" fill="url(#aC)"/>
<circle cx="1233.9" cy="413.0" r="4.8" fill="url(#aC)"/>
<circle cx="1189.9" cy="416.5" r="4.9" fill="url(#aC)"/>
<circle cx="1197.9" cy="425.0" r="5.9" fill="url(#aC)"/>
<circle cx="1243.8" cy="429.9" r="4.8" fill="url(#aC)"/>
<circle cx="1261.6" cy="444.0" r="5.1" fill="url(#aC)"/>
<path d="M1134.1 57.9L1131.0 66.8M1138.7 79.4L1133.3 77.6M1135.8 175.2L1134.5 162.1M1295.6 192.2L1301.4 194.1M1333.5 222.3L1328.3 211.1M1061.9 267.4L1074.0 271.9M1253.7 269.3L1251.7 265.4M1318.4 370.0L1318.1 365.4M1221.7 383.1L1232.1 376.2" stroke="#18d070" stroke-width="4.2" stroke-linecap="round" fill="none"/>
<path d="M1128.0 75.8L1131.0 66.8M1128.0 75.8L1133.3 77.6M1067.8 103.2L1059.3 101.3M1042.9 115.0L1046.9 107.2M1128.0 75.8L1130.6 84.3M1114.9 100.6L1124.0 96.7M1092.6 91.5L1093.3 101.9M1103.1 118.9L1098.5 115.7M1154.1 138.6L1148.2 127.8M1103.1 118.9L1108.7 125.5M1113.6 145.1L1113.9 138.6M1113.6 145.1L1119.1 149.7M1116.2 169.9L1120.4 162.1M1187.0 152.9L1175.8 156.9M1187.0 164.7L1175.8 162.7M1056.0 173.9L1066.8 172.9M1080.9 177.8L1079.2 174.8M1080.9 177.8L1086.4 177.8M1099.2 177.8L1095.6 177.8M1154.1 138.6L1146.9 143.1M1150.2 198.7L1153.5 191.2M1128.0 75.8L1118.8 79.0M1092.6 91.5L1101.1 86.9M1114.9 100.6L1112.3 91.5M1067.8 103.2L1067.8 109.8M1067.8 116.3L1067.8 109.8M1042.9 115.0L1039.0 122.9M1035.1 130.7L1039.0 122.9M1067.8 116.3L1069.8 124.2M1071.7 132.0L1069.8 124.2M1067.8 116.3L1075.6 124.2M1083.5 132.0L1075.6 124.2M1035.1 130.7L1045.6 132.7M1056.0 134.6L1045.6 132.7M1056.0 134.6L1063.9 133.3M1071.7 132.0L1063.9 133.3M1071.7 132.0L1077.6 132.0M1083.5 132.0L1077.6 132.0M1154.1 138.6L1161.3 134.6M1168.5 130.7L1161.3 134.6M1168.5 130.7L1177.7 141.8M1187.0 152.9L1177.7 141.8M1056.0 173.9L1054.7 185.6M1053.4 197.4L1054.7 185.6M1116.2 169.9L1107.7 173.9M1099.2 177.8L1107.7 173.9M1099.2 177.8L1101.1 185.6M1103.1 193.5L1101.1 185.6M1053.4 197.4L1061.9 205.3M1070.4 213.1L1061.9 205.3M1092.6 200.0L1085.4 202.6M1078.3 205.3L1085.4 202.6M1092.6 200.0L1097.9 196.8M1103.1 193.5L1097.9 196.8M1092.6 200.0L1093.3 207.9M1093.9 215.7L1093.3 207.9M1078.3 205.3L1086.1 210.5M1093.9 215.7L1086.1 210.5M1078.3 205.3L1074.3 209.2M1070.4 213.1L1074.3 209.2M1103.1 193.5L1109.6 198.7M1116.2 203.9L1109.6 198.7M1120.1 200.0L1127.3 195.4M1134.5 190.9L1127.3 195.4M1120.1 200.0L1127.3 201.3M1134.5 202.6L1127.3 201.3M1134.5 190.9L1134.5 196.8M1134.5 202.6L1134.5 196.8M1134.5 202.6L1142.3 200.7M1150.2 198.7L1142.3 200.7M1134.5 202.6L1134.5 210.5M1134.5 218.3L1134.5 210.5M1134.5 202.6L1125.3 203.3M1116.2 203.9L1125.3 203.3M1134.5 202.6L1143.0 203.9M1151.5 205.2L1143.0 203.9M1150.2 198.7L1150.8 202.0M1151.5 205.2L1150.8 202.0M1134.5 218.3L1134.5 228.8M1134.5 239.2L1134.5 228.8M1175.0 186.9L1181.0 175.8M1187.0 164.7L1181.0 175.8M1175.0 186.9L1178.4 196.1M1181.8 205.3L1178.4 196.1M1031.2 222.3L1020.7 222.3M1010.2 222.3L1020.7 222.3M1031.2 222.3L1030.5 232.1M1010.2 222.3L1001.7 230.7M993.2 239.2L1001.7 230.7M1010.2 222.3L1007.6 233.0M1005.0 243.8L1007.6 233.0M1070.4 213.1L1069.8 217.3M1273.3 87.5L1280.2 87.5M1298.8 105.9L1292.9 96.7M1333.5 83.6L1328.9 92.1M1347.9 92.8L1336.1 96.7M1333.5 118.9L1328.9 109.8M1220.4 108.5L1218.7 114.4M1207.9 117.6L1212.5 118.9M1247.2 137.2L1253.4 137.2M1277.9 141.2L1268.7 139.2M1292.9 159.5L1297.5 154.9M1313.9 162.1L1308.0 156.2M1346.6 118.9L1349.8 132.7M1326.9 156.9L1340.0 151.6M1337.4 158.2L1345.3 152.3M1209.2 137.2L1211.5 146.1M1223.6 149.0L1218.7 152.0M1211.9 176.5L1216.4 172.6M1236.7 179.1L1228.9 173.9M1337.4 173.9L1332.2 180.1M1336.1 200.0L1331.5 193.2M1330.9 202.6L1328.9 194.5M1282.5 175.2L1283.1 183.7M1279.9 205.3L1281.8 198.7M1295.6 203.9L1289.7 198.1M1336.1 200.0L1336.1 203.3M1330.9 202.6L1333.5 204.6M1228.9 218.3L1225.6 215.7M1209.2 217.0L1215.8 215.1M1279.9 205.3L1279.9 211.8M1272.0 227.5L1275.9 222.9M1294.2 220.9L1287.1 219.6M1291.6 232.0L1302.7 227.2M1294.2 220.9L1304.1 221.6M1250.4 203.9L1259.9 206.6M1279.9 205.3L1274.6 207.2M1272.0 227.5L1270.7 218.3M1187.0 152.9L1178.5 157.5M1187.0 164.7L1178.5 163.4M1337.4 158.2L1346.6 156.9M1326.9 156.9L1334.1 154.2M1337.4 158.2L1339.4 154.9M1273.3 87.5L1271.7 99.3M1270.1 111.1L1271.7 99.3M1333.5 83.6L1340.7 88.2M1347.9 92.8L1340.7 88.2M1220.4 108.5L1214.1 113.0M1207.9 117.6L1214.1 113.0M1243.2 109.8L1250.4 111.1M1257.6 112.4L1250.4 111.1M1243.2 109.8L1240.6 114.4M1238.0 118.9L1240.6 114.4M1257.6 112.4L1263.8 111.7M1270.1 111.1L1263.8 111.7M1270.1 111.1L1279.5 116.3M1289.0 121.6L1279.5 116.3M1298.8 105.9L1293.9 113.7M1289.0 121.6L1293.9 113.7M1238.0 118.9L1242.6 128.1M1247.2 137.2L1242.6 128.1M1289.0 121.6L1283.5 131.4M1277.9 141.2L1283.5 131.4M1346.6 118.9L1340.0 118.9M1333.5 118.9L1340.0 118.9M1209.2 137.2L1216.4 143.1M1223.6 149.0L1216.4 143.1M1187.0 152.9L1187.0 158.8M1187.0 164.7L1187.0 158.8M1187.0 164.7L1194.8 169.3M1202.7 173.9L1194.8 169.3M1292.9 159.5L1294.9 167.3M1296.9 175.2L1294.9 167.3M1313.9 162.1L1320.4 159.5M1326.9 156.9L1320.4 159.5M1326.9 156.9L1332.2 157.5M1337.4 158.2L1332.2 157.5M1337.4 158.2L1337.4 166.0M1337.4 173.9L1337.4 166.0M1202.7 173.9L1207.3 175.2M1211.9 176.5L1207.3 175.2M1236.7 179.1L1241.3 177.8M1245.9 176.5L1241.3 177.8M1236.7 179.1L1236.0 186.3M1235.4 193.5L1236.0 186.3M1245.9 176.5L1240.6 185.0M1235.4 193.5L1240.6 185.0M1282.5 175.2L1289.7 175.2M1296.9 175.2L1289.7 175.2M1337.4 173.9L1342.6 181.7M1347.9 189.6L1342.6 181.7M1347.9 189.6L1342.0 194.8M1336.1 200.0L1342.0 194.8M1235.4 193.5L1242.9 198.7M1250.4 203.9L1242.9 198.7M1201.4 198.7L1191.6 202.0M1181.8 205.3L1191.6 202.0M1201.4 198.7L1205.3 207.9M1209.2 217.0L1205.3 207.9M1279.9 205.3L1287.7 204.6M1295.6 203.9L1287.7 204.6M1228.9 218.3L1219.0 217.7M1209.2 217.0L1219.0 217.7M1228.9 218.3L1226.9 225.2M1039.0 254.9L1034.4 248.4M1033.8 275.2L1026.9 270.6M1012.9 274.5L1016.5 270.3M1099.2 290.2L1095.9 286.0M1080.9 288.9L1086.8 285.3M1122.7 266.7L1123.0 275.2M1145.0 275.9L1134.2 279.8M1145.0 275.9L1140.4 287.0M1160.6 283.7L1148.2 290.9M1099.2 290.2L1094.9 295.5M1080.9 288.9L1085.8 294.8M1080.9 288.9L1079.9 297.4M1075.6 317.7L1077.3 311.8M1134.5 329.5L1142.3 319.0M1164.6 311.2L1157.4 309.9M1027.9 311.8L1016.1 315.4M1005.7 331.4L1005.0 325.2M1118.8 252.3L1128.6 252.0M1134.5 239.2L1136.5 245.4M1147.6 257.5L1143.0 254.6M1069.1 228.8L1069.1 225.2M1160.6 342.6L1163.3 339.0M1164.6 311.2L1165.2 323.3M1176.3 343.9L1171.1 339.6M1134.5 347.8L1142.3 349.1M1160.6 342.6L1155.4 346.5M1108.3 360.9L1109.6 369.7M1118.8 370.0L1114.9 374.3M1104.4 395.5L1107.7 387.0M1118.8 370.0L1118.5 376.2M1104.4 395.5L1111.3 389.0M1158.0 375.3L1154.8 384.4M1148.9 387.0L1150.2 390.3M1099.2 290.2L1102.4 295.5M1160.6 283.7L1168.5 282.4M1175.2 274.5L1175.8 277.8M993.2 239.2L999.1 241.5M1005.0 243.8L999.1 241.5M1069.1 228.8L1073.0 234.7M1076.9 240.5L1073.0 234.7M1069.1 228.8L1068.4 238.6M1067.8 248.4L1068.4 238.6M1076.9 240.5L1072.4 244.5M1067.8 248.4L1072.4 244.5M1039.0 254.9L1044.9 260.5M1050.8 266.0L1044.9 260.5M1050.8 266.0L1042.3 270.6M1033.8 275.2L1042.3 270.6M1033.8 275.2L1023.3 274.9M1012.9 274.5L1023.3 274.9M1122.7 266.7L1120.8 259.5M1118.8 252.3L1120.8 259.5M1118.8 252.3L1126.6 245.8M1134.5 239.2L1126.6 245.8M1147.6 257.5L1154.1 258.5M1160.6 259.5L1154.1 258.5M1147.6 257.5L1146.3 266.7M1145.0 275.9L1146.3 266.7M1147.6 257.5L1151.5 252.3M1155.4 247.1L1151.5 252.3M1160.6 259.5L1158.0 253.3M1155.4 247.1L1158.0 253.3M1160.6 259.5L1170.6 259.2M1180.5 258.9L1170.6 259.2M1145.0 275.9L1152.8 279.8M1160.6 283.7L1152.8 279.8M1160.6 283.7L1167.9 279.1M1175.2 274.5L1167.9 279.1M1027.9 311.8L1035.4 320.3M1042.9 328.8L1035.4 320.3M1042.9 328.8L1035.4 336.0M1027.9 343.2L1035.4 336.0M1005.7 331.4L1016.8 337.3M1027.9 343.2L1016.8 337.3M1075.6 317.7L1083.5 324.2M1091.3 330.8L1083.5 324.2M1091.3 330.8L1101.1 329.8M1110.9 328.8L1101.1 329.8M1110.9 328.8L1117.5 334.1M1124.0 339.3L1117.5 334.1M1134.5 329.5L1129.3 334.4M1124.0 339.3L1129.3 334.4M1134.5 329.5L1134.5 338.6M1134.5 347.8L1134.5 338.6M1124.0 339.3L1129.3 343.5M1134.5 347.8L1129.3 343.5M1160.6 342.6L1165.3 337.3M1084.8 361.5L1084.1 372.3M1083.5 383.1L1084.1 372.3M1084.8 361.5L1084.1 367.7M1083.5 373.9L1084.1 367.7M1108.3 360.9L1113.6 365.4M1118.8 370.0L1113.6 365.4M1083.5 383.1L1088.7 385.7M1093.9 388.3L1088.7 385.7M1083.5 383.1L1083.5 378.5M1083.5 373.9L1083.5 378.5M1093.9 388.3L1099.2 391.9M1104.4 395.5L1099.2 391.9M1158.0 375.3L1153.5 381.1M1148.9 387.0L1153.5 381.1M1158.0 375.3L1156.7 382.4M1155.4 389.6L1156.7 382.4M1176.3 377.9L1177.1 372.6M1177.8 367.4L1177.1 372.6M1176.3 377.9L1182.3 379.8M1188.3 381.8L1182.3 379.8M1176.3 377.9L1175.7 388.0M1175.0 398.1L1175.7 388.0M1148.9 387.0L1150.2 392.6M1148.9 387.0L1152.1 388.3M1155.4 389.6L1152.1 388.3M1176.3 343.9L1173.2 338.0M1213.2 240.5L1219.0 236.3M1205.3 237.9L1215.1 235.0M1291.6 232.0L1298.2 237.3M1315.2 254.9L1309.9 248.7M1325.6 264.1L1329.6 258.9M1343.9 257.5L1338.7 255.6M1238.0 247.1L1243.9 254.3M1243.2 257.5L1246.5 259.5M1269.4 266.7L1266.8 264.1M1272.0 279.8L1268.1 270.6M1175.2 274.5L1181.1 277.2M1198.8 290.2L1192.9 285.0M1185.7 298.1L1186.3 288.9M1240.6 281.1L1242.3 288.3M1227.5 291.6L1235.7 293.5M1235.4 307.2L1239.6 301.4M1241.9 313.8L1242.9 304.6M1272.0 279.8L1274.0 289.3M1287.7 277.2L1281.8 288.0M1312.6 305.9L1306.7 307.9M1319.1 315.1L1309.9 312.5M1325.6 285.0L1326.3 291.6M1316.5 296.8L1321.7 297.4M1325.6 285.0L1332.2 291.6M1346.6 304.6L1342.6 301.4M1316.5 296.8L1321.7 300.7M1319.1 315.1L1323.0 309.9M1319.1 315.1L1328.3 313.1M1346.6 304.6L1342.0 307.9M1264.2 333.4L1271.4 334.7M1289.0 339.9L1283.8 338.0M1264.2 333.4L1275.3 334.1M1256.3 330.8L1249.1 337.3M1234.1 351.7L1238.0 347.8M1234.1 364.8L1238.0 354.3M1289.0 339.9L1285.7 351.1M1289.0 339.9L1292.9 349.1M1306.0 354.3L1301.4 356.3M1200.1 350.4L1197.1 362.2M1177.8 367.4L1186.0 370.7M1188.3 381.8L1191.3 377.9M1241.9 313.8L1239.3 322.9M1223.6 324.2L1230.2 328.2M1306.0 354.3L1311.9 357.6M1313.9 345.2L1315.8 353.0M1330.9 356.9L1324.3 358.9M1272.0 227.5L1265.5 231.4M1258.9 235.3L1265.5 231.4M1272.0 227.5L1274.0 235.3M1275.9 243.2L1274.0 235.3M1291.6 232.0L1292.9 226.5M1294.2 220.9L1292.9 226.5M1213.2 240.5L1209.2 239.2M1205.3 237.9L1209.2 239.2M1258.9 235.3L1267.4 239.2M1275.9 243.2L1267.4 239.2M1275.9 243.2L1280.5 251.0M1285.1 258.9L1280.5 251.0M1238.0 247.1L1240.6 252.3M1243.2 257.5L1240.6 252.3M1285.1 258.9L1277.2 262.8M1269.4 266.7L1277.2 262.8M1285.1 258.9L1286.4 268.0M1287.7 277.2L1286.4 268.0M1269.4 266.7L1270.7 273.2M1272.0 279.8L1270.7 273.2M1272.0 279.8L1279.9 278.5M1287.7 277.2L1279.9 278.5M1315.2 254.9L1315.2 262.8M1315.2 270.6L1315.2 262.8M1315.2 254.9L1320.4 259.5M1325.6 264.1L1320.4 259.5M1315.2 270.6L1320.4 267.4M1325.6 264.1L1320.4 267.4M1325.6 264.1L1334.8 260.8M1343.9 257.5L1334.8 260.8M1325.6 285.0L1321.1 290.9M1316.5 296.8L1321.1 290.9M1316.5 296.8L1314.5 301.4M1312.6 305.9L1314.5 301.4M1312.6 305.9L1315.8 310.5M1319.1 315.1L1315.8 310.5M1175.2 274.5L1177.8 266.7M1180.5 258.9L1177.8 266.7M1214.5 279.8L1218.4 277.2M1222.3 274.5L1218.4 277.2M1214.5 279.8L1221.0 285.7M1227.5 291.6L1221.0 285.7M1222.3 274.5L1224.9 283.0M1227.5 291.6L1224.9 283.0M1240.6 281.1L1234.1 286.3M1227.5 291.6L1234.1 286.3M1198.8 290.2L1192.2 294.2M1185.7 298.1L1192.2 294.2M1198.8 290.2L1204.7 298.1M1210.5 305.9L1204.7 298.1M1210.5 305.9L1203.4 311.8M1196.2 317.7L1203.4 311.8M1235.4 307.2L1238.7 310.5M1241.9 313.8L1238.7 310.5M1235.4 307.2L1229.5 315.7M1223.6 324.2L1229.5 315.7M1196.2 317.7L1197.5 321.0M1198.8 324.2L1197.5 321.0M1196.2 317.7L1194.8 326.9M1193.5 336.0L1194.8 326.9M1198.8 324.2L1196.2 330.1M1193.5 336.0L1196.2 330.1M1256.3 330.8L1260.2 332.1M1264.2 333.4L1260.2 332.1M1193.5 336.0L1196.8 343.2M1200.1 350.4L1196.8 343.2M1234.1 351.7L1234.1 358.3M1234.1 364.8L1234.1 358.3M1306.0 354.3L1309.9 349.8M1313.9 345.2L1309.9 349.8M1313.9 345.2L1322.4 351.1M1330.9 356.9L1322.4 351.1M1188.3 381.8L1181.7 390.0M1175.0 398.1L1181.7 390.0M1240.6 388.3L1251.1 390.9M1261.6 393.6L1251.1 390.9M1240.6 388.3L1234.4 394.9M1228.2 401.4L1234.4 394.9M1261.6 393.6L1263.2 397.2M1155.4 389.6L1153.5 393.9M1175.0 426.9L1170.5 436.7M1177.7 448.5L1171.8 447.5M1175.0 426.9L1172.5 432.5M1175.0 426.9L1187.2 425.3M1199.4 423.6L1187.2 425.3M1177.7 448.5L1173.8 443.2M1177.7 448.5L1188.9 442.3M1200.1 436.0L1188.9 442.3M1246.5 409.2L1247.5 418.4M1238.7 421.0L1243.6 424.3M1249.8 439.3L1249.1 433.4M1246.5 409.2L1255.7 405.0M1228.2 401.4L1237.4 405.3M1246.5 409.2L1237.4 405.3M1246.5 409.2L1242.6 415.1M1238.7 421.0L1242.6 415.1M1238.7 421.0L1244.2 430.2M1249.8 439.3L1244.2 430.2M1199.4 423.6L1199.8 429.8M1200.1 436.0L1199.8 429.8M1249.8 439.3L1261.6 438.0M1273.3 436.7L1261.6 438.0M1249.8 439.3L1261.6 442.3M1273.3 445.2L1261.6 442.3M1273.3 436.7L1273.3 441.0M1273.3 445.2L1273.3 441.0M1092.6 91.5L1087.4 90.8M1042.9 115.0L1032.5 113.7M1114.9 100.6L1117.5 106.5M1083.5 132.0L1090.0 133.3M1035.1 130.7L1033.1 134.0M1056.0 134.6L1056.0 144.4M1113.6 145.1L1104.4 146.4M1056.0 173.9L1054.1 167.7M1056.0 173.9L1050.8 172.2M1056.0 173.9L1059.9 172.6M1116.2 169.9L1112.3 164.4M1175.0 186.9L1174.4 181.1M1010.2 222.3L1006.3 214.4M1053.4 197.4L1044.9 200.7M1053.4 197.4L1055.4 197.4M1080.9 177.8L1079.6 183.0M1134.5 190.9L1131.2 188.9M1151.5 205.2L1156.1 203.9M1151.5 205.2L1156.7 209.8M1151.5 205.2L1148.2 205.9M1181.8 205.3L1175.8 207.9M1070.4 213.1L1067.1 212.4M1103.1 193.5L1108.3 189.6M1333.5 83.6L1327.9 79.4M1333.5 83.6L1338.1 79.0M1273.3 87.5L1265.5 83.9M1220.4 108.5L1217.7 99.6M1220.4 108.5L1225.3 100.6M1243.2 109.8L1246.5 103.6M1273.3 87.5L1270.1 91.1M1243.2 109.8L1240.3 105.9M1220.4 108.5L1216.4 105.2M1207.9 117.6L1200.1 118.0M1298.8 105.9L1299.8 109.8M1333.5 118.9L1330.2 125.5M1289.0 121.6L1294.2 124.2M1209.2 137.2L1205.3 141.8M1277.9 141.2L1283.5 142.5M1292.9 159.5L1285.7 158.8M1223.6 149.0L1227.5 152.9M1245.9 176.5L1241.9 168.0M1245.9 176.5L1249.1 170.6M1245.9 176.5L1253.7 171.9M1313.9 162.1L1313.9 167.3M1245.9 176.5L1255.0 176.5M1347.9 189.6L1351.8 184.3M1175.0 186.9L1182.3 185.6M1211.9 176.5L1215.1 181.7M1250.4 203.9L1249.5 200.7M1347.9 189.6L1355.7 191.5M1181.8 205.3L1183.1 211.8M993.2 239.2L983.8 236.3M993.2 239.2L996.5 235.0M1031.2 222.3L1038.4 226.8M1069.1 228.8L1061.9 227.8M1069.1 228.8L1075.0 228.8M1076.9 240.5L1084.8 241.9M1118.8 252.3L1111.6 249.4M1005.0 243.8L999.1 250.7M1012.9 274.5L1007.6 268.7M1067.8 248.4L1064.5 251.7M1067.8 248.4L1071.1 254.3M1039.0 254.9L1044.2 255.3M1033.8 275.2L1032.5 271.0M1050.8 266.0L1055.4 272.3M1012.9 274.5L1010.2 282.4M1033.8 275.2L1035.7 284.0M1027.9 311.8L1029.5 303.0M1042.9 328.8L1048.8 323.6M1075.6 317.7L1068.4 318.7M1042.9 328.8L1047.5 334.4M1027.9 343.2L1026.3 351.1M1027.9 343.2L1031.5 345.5M1084.8 361.5L1082.2 354.7M1091.3 330.8L1094.6 338.6M1124.0 339.3L1116.8 342.2M1084.8 361.5L1079.6 359.2M1084.8 361.5L1077.6 363.8M1083.5 383.1L1077.6 385.7M1134.5 347.8L1131.2 352.4M1148.9 387.0L1143.0 382.4M1177.8 367.4L1175.8 364.8M1093.9 215.7L1090.7 218.3M1116.2 203.9L1118.8 208.5M1116.2 203.9L1113.6 206.5M1134.5 239.2L1138.4 234.7M1134.5 239.2L1128.6 237.3M1155.4 247.1L1158.7 240.5M1155.4 247.1L1151.5 243.2M1155.4 247.1L1159.3 243.8M1160.6 283.7L1156.1 285.0M1099.2 290.2L1103.8 283.7M1134.5 329.5L1134.5 330.1M1205.3 237.9L1199.4 232.0M1209.2 217.0L1210.5 220.9M1205.3 237.9L1203.4 246.4M1180.5 258.9L1187.0 256.6M1180.5 258.9L1181.1 254.9M1222.3 274.5L1223.3 266.0M1214.5 279.8L1209.9 274.5M1198.8 290.2L1197.5 293.2M1240.6 281.1L1238.7 279.1M1272.0 279.8L1266.1 281.7M1227.5 291.6L1224.9 290.9M1343.9 257.5L1345.3 250.4M1343.9 257.5L1347.2 253.9M1343.9 257.5L1350.5 261.5M1346.6 304.6L1350.5 298.4M1346.6 304.6L1349.8 310.5M1330.9 356.9L1336.1 353.0M1330.9 356.9L1332.2 365.4M1330.9 356.9L1334.8 349.8M1319.1 315.1L1319.8 322.3M1256.3 330.8L1258.9 322.9M1241.9 313.8L1247.2 313.1M1223.6 324.2L1221.7 332.1M1198.8 324.2L1204.0 326.2M1234.1 351.7L1225.6 352.4M1177.8 367.4L1180.5 362.8M1200.1 350.4L1206.0 356.3M1177.8 367.4L1183.1 366.1M1188.3 381.8L1198.1 384.1M1228.2 401.4L1222.0 396.2M1164.6 311.2L1171.9 315.1M1294.2 220.9L1295.6 217.0M1238.0 247.1L1239.3 242.5M1258.9 235.3L1251.1 232.0M1258.9 235.3L1257.6 231.4M1295.6 203.9L1301.1 206.6M1287.7 277.2L1286.4 275.9M1325.6 264.1L1328.3 267.4M1313.9 345.2L1313.9 338.6M1313.9 345.2L1311.3 346.5M1083.5 383.1L1079.2 389.0M1104.4 395.5L1098.5 399.8M1104.4 395.5L1108.0 394.8M1175.0 398.1L1170.5 404.3M1177.7 448.5L1177.7 452.4M1175.0 398.1L1181.7 403.0M1199.4 423.6L1202.4 415.4M1246.5 409.2L1244.5 405.3M1175.0 426.9L1177.1 423.3M1199.4 423.6L1209.2 423.6M1200.1 436.0L1204.7 436.4M1200.1 436.0L1207.3 442.6M1249.8 439.3L1244.5 447.8M1273.3 445.2L1275.6 449.5M1273.3 436.7L1279.5 428.9M1273.3 436.7L1281.2 436.0M1128.0 75.8L1123.7 71.7M1128.0 75.8L1134.1 77.9M1067.8 103.2L1069.2 97.3M1035.1 130.7L1037.2 128.3M1083.5 132.0L1081.0 127.7M1067.8 116.3L1063.4 113.4M1035.1 130.7L1039.8 133.7M1071.7 132.0L1069.9 135.4M1056.0 134.6L1058.1 141.3M1067.8 116.3L1072.0 117.7M1083.5 132.0L1083.2 133.2M1113.6 145.1L1118.7 143.3M1168.5 130.7L1164.5 130.2M1168.5 130.7L1171.5 136.5M1168.5 130.7L1171.7 125.4M1056.0 173.9L1055.8 179.6M1093.9 215.7L1096.4 213.6M1093.9 215.7L1089.8 215.8M1092.6 200.0L1091.4 198.1M1150.2 198.7L1147.0 198.0M1134.5 190.9L1130.2 191.5M1010.2 222.3L1015.1 226.3M1010.2 222.3L1005.3 220.0M1070.4 213.1L1067.0 208.5M1347.9 92.8L1351.5 98.0M1347.9 92.8L1353.5 93.2M1257.6 112.4L1258.9 106.2M1243.2 109.8L1245.0 109.9M1289.0 121.6L1285.4 119.5M1220.4 108.5L1218.4 109.7M1247.2 137.2L1243.7 134.7M1220.4 108.5L1225.0 108.6M1333.5 118.9L1336.4 124.1M1333.5 118.9L1335.7 113.8M1209.2 137.2L1202.9 138.7M1247.2 137.2L1243.7 142.3M1247.2 137.2L1241.0 135.1M1296.9 175.2L1298.4 173.3M1326.9 156.9L1325.3 154.5M1326.9 156.9L1325.6 158.2M1211.9 176.5L1212.4 172.9M1202.7 173.9L1201.7 168.2M1202.7 173.9L1203.9 171.1M1235.4 193.5L1235.1 192.2M1236.7 179.1L1236.4 172.5M1245.9 176.5L1250.5 180.0M1296.9 175.2L1294.5 177.8M1282.5 175.2L1280.3 168.6M1313.9 162.1L1309.6 164.5M1337.4 173.9L1331.7 172.3M1347.9 189.6L1349.9 184.2M1236.7 179.1L1237.9 181.4M1181.8 205.3L1185.5 200.8M1201.4 198.7L1206.7 200.5M1295.6 203.9L1293.0 203.9M1347.9 189.6L1348.0 195.3M1228.9 218.3L1234.7 220.3M1209.2 217.0L1204.3 219.8M993.2 239.2L987.5 242.0M1005.0 243.8L1010.7 240.3M1033.8 275.2L1038.1 280.2M1012.9 274.5L1006.2 274.2M1118.8 252.3L1114.6 247.0M1155.4 247.1L1154.0 246.5M1147.6 257.5L1148.6 257.9M1155.4 247.1L1155.2 246.9M1145.0 275.9L1140.0 279.1M1080.9 288.9L1075.1 292.5M1027.9 311.8L1033.6 309.2M1027.9 311.8L1022.4 309.0M1005.7 331.4L1004.5 337.8M1027.9 343.2L1021.9 341.2M1005.7 331.4L1010.0 336.7M1091.3 330.8L1093.8 336.2M1091.3 330.8L1089.0 336.0M1110.9 328.8L1116.4 326.8M1134.5 347.8L1133.4 344.0M1176.3 343.9L1173.8 342.5M1164.6 311.2L1166.2 316.3M1164.6 311.2L1164.3 304.5M1108.3 360.9L1110.5 356.1M1148.9 387.0L1147.8 381.8M1176.3 377.9L1172.6 378.2M1188.3 381.8L1186.5 385.2M1155.4 389.6L1158.6 388.0M1176.3 343.9L1179.7 348.0M1275.9 243.2L1276.5 240.3M1294.2 220.9L1296.7 222.7M1272.0 227.5L1276.0 228.5M1291.6 232.0L1287.6 230.9M1213.2 240.5L1216.9 244.6M1205.3 237.9L1201.2 243.4M1275.9 243.2L1269.9 245.7M1291.6 232.0L1289.4 236.9M1291.6 232.0L1289.6 235.7M1243.2 257.5L1238.6 257.2M1238.0 247.1L1240.5 245.7M1243.2 257.5L1237.2 258.9M1272.0 279.8L1273.7 279.5M1287.7 277.2L1290.5 282.1M1325.6 264.1L1327.0 261.8M1315.2 254.9L1319.0 251.0M1325.6 264.1L1324.9 262.5M1315.2 254.9L1318.0 253.8M1222.3 274.5L1225.6 277.6M1210.5 305.9L1215.1 303.6M1227.5 291.6L1225.3 296.1M1198.8 324.2L1203.1 321.9M1241.9 313.8L1243.0 314.8M1223.6 324.2L1226.1 321.1M1210.5 305.9L1209.3 310.6M1198.8 324.2L1204.5 322.9M1264.2 333.4L1265.7 334.6M1264.2 333.4L1265.1 328.1M1176.3 343.9L1178.8 342.8M1200.1 350.4L1196.4 354.8M1200.1 350.4L1195.3 353.9M1330.9 356.9L1334.3 361.1M1188.3 381.8L1187.2 387.0M1240.6 388.3L1243.8 382.4M1246.5 409.2L1248.0 403.7M1261.6 393.6L1265.9 389.5M1234.1 351.7L1238.5 354.6M1234.1 351.7L1236.9 352.6M1336.1 200.0L1336.2 196.5M1083.5 383.1L1078.8 382.5M1148.9 387.0L1147.7 383.7M1175.0 398.1L1170.9 397.9M1175.0 398.1L1180.2 401.1M1175.0 426.9L1180.4 426.6M1228.2 401.4L1222.3 402.1M1261.6 393.6L1256.7 396.2M1228.2 401.4L1227.5 407.8M1238.7 421.0L1234.5 424.4M1199.4 423.6L1206.2 424.8M1199.4 423.6L1194.6 421.2M1177.7 448.5L1182.2 443.6M1249.8 439.3L1248.3 446.1M1249.8 439.3L1244.3 438.3M1273.3 436.7L1277.8 433.5M1273.3 436.7L1269.0 436.9" stroke="#9c9c9c" stroke-width="4.2" stroke-linecap="round" fill="none"/>
<path d="M1133.2 149.0L1134.5 162.1M1152.8 107.2L1147.6 112.1M1133.2 149.0L1128.9 151.6M1133.2 149.0L1136.5 148.4M1323.0 200.0L1325.0 193.2M1323.0 200.0L1329.6 203.3M1307.3 196.1L1301.4 194.1M1323.0 200.0L1328.3 211.1M1323.0 200.0L1319.1 203.3M1307.3 196.1L1311.3 201.3M1086.1 276.5L1089.4 279.1M1134.5 273.2L1128.9 278.5M1086.1 276.5L1074.0 271.9M1086.1 276.5L1097.9 270.0M1134.5 273.2L1122.1 268.3M1278.6 313.8L1277.2 306.3M1287.7 364.8L1285.1 363.5M1287.7 364.8L1292.3 361.5M1242.6 369.4L1232.1 376.2M1278.6 313.8L1270.7 308.6M1287.7 364.8L1278.9 371.7" stroke="#d8d050" stroke-width="4.2" stroke-linecap="round" fill="none"/>
<path d="M1050.8 99.3L1059.3 101.3M1050.8 99.3L1046.9 107.2M1133.2 92.8L1130.6 84.3M1133.2 92.8L1124.0 96.7M1093.9 112.4L1093.3 101.9M1093.9 112.4L1098.5 115.7M1142.3 117.0L1147.6 112.1M1142.3 117.0L1148.2 127.8M1114.2 132.0L1108.7 125.5M1114.2 132.0L1113.9 138.6M1124.7 154.2L1128.9 151.6M1124.7 154.2L1119.1 149.7M1124.7 154.2L1120.4 162.1M1164.6 160.8L1175.8 156.9M1164.6 160.8L1175.8 162.7M1077.6 171.9L1066.8 172.9M1077.6 171.9L1079.2 174.8M1092.0 177.8L1086.4 177.8M1092.0 177.8L1095.6 177.8M1139.7 147.7L1136.5 148.4M1139.7 147.7L1146.9 143.1M1029.9 241.9L1030.5 232.1M1069.1 221.6L1069.8 217.3M1287.1 87.5L1280.2 87.5M1287.1 87.5L1292.9 96.7M1324.3 100.6L1328.9 92.1M1324.3 100.6L1336.1 96.7M1324.3 100.6L1328.9 109.8M1217.1 120.2L1218.7 114.4M1217.1 120.2L1212.5 118.9M1259.6 137.2L1253.4 137.2M1259.6 137.2L1268.7 139.2M1302.1 150.3L1297.5 154.9M1302.1 150.3L1308.0 156.2M1353.1 146.4L1349.8 132.7M1353.1 146.4L1340.0 151.6M1353.1 146.4L1345.3 152.3M1213.8 154.9L1211.5 146.1M1213.8 154.9L1218.7 152.0M1221.0 168.6L1216.4 172.6M1221.0 168.6L1228.9 173.9M1326.9 186.3L1325.0 193.2M1326.9 186.3L1332.2 180.1M1326.9 186.3L1331.5 193.2M1326.9 186.3L1328.9 194.5M1283.8 192.2L1283.1 183.7M1283.8 192.2L1281.8 198.7M1283.8 192.2L1289.7 198.1M1336.1 206.6L1329.6 203.3M1336.1 206.6L1336.1 203.3M1336.1 206.6L1333.5 204.6M1222.3 213.1L1225.6 215.7M1222.3 213.1L1215.8 215.1M1279.9 218.3L1279.9 211.8M1279.9 218.3L1275.9 222.9M1279.9 218.3L1287.1 219.6M1313.9 222.3L1302.7 227.2M1313.9 222.3L1304.1 221.6M1269.4 209.2L1259.9 206.6M1269.4 209.2L1274.6 207.2M1269.4 209.2L1270.7 218.3M1170.0 162.1L1178.5 157.5M1170.0 162.1L1178.5 163.4M1355.7 155.6L1346.6 156.9M1341.3 151.6L1334.1 154.2M1341.3 151.6L1339.4 154.9M1224.9 232.0L1226.9 225.2M1029.9 241.9L1034.4 248.4M1020.1 266.0L1026.9 270.6M1020.1 266.0L1016.5 270.3M1092.6 281.7L1089.4 279.1M1092.6 281.7L1095.9 286.0M1092.6 281.7L1086.8 285.3M1123.4 283.7L1128.9 278.5M1123.4 283.7L1123.0 275.2M1123.4 283.7L1134.2 279.8M1135.8 298.1L1140.4 287.0M1135.8 298.1L1148.2 290.9M1090.7 300.7L1094.9 295.5M1090.7 300.7L1085.8 294.8M1078.9 305.9L1079.9 297.4M1078.9 305.9L1077.3 311.8M1150.2 308.6L1142.3 319.0M1150.2 308.6L1157.4 309.9M1004.4 319.0L1016.1 315.4M1004.4 319.0L1005.0 325.2M1138.4 251.7L1128.6 252.0M1138.4 251.7L1136.5 245.4M1138.4 251.7L1143.0 254.6M1069.1 221.6L1069.1 225.2M1165.9 335.4L1163.3 339.0M1165.9 335.4L1165.2 323.3M1165.9 335.4L1171.1 339.6M1150.2 350.4L1142.3 349.1M1150.2 350.4L1155.4 346.5M1110.9 378.5L1109.6 369.7M1110.9 378.5L1114.9 374.3M1110.9 378.5L1107.7 387.0M1118.1 382.4L1118.5 376.2M1118.1 382.4L1111.3 389.0M1151.5 393.6L1154.8 384.4M1151.5 393.6L1150.2 390.3M1105.7 300.7L1102.4 295.5M1176.3 281.1L1168.5 282.4M1176.3 281.1L1175.8 277.8M1170.0 332.1L1165.3 337.3M1151.5 398.1L1150.2 392.6M1170.0 332.1L1173.2 338.0M1224.9 232.0L1219.0 236.3M1224.9 232.0L1215.1 235.0M1304.7 242.5L1298.2 237.3M1304.7 242.5L1309.9 248.7M1333.5 253.6L1329.6 258.9M1333.5 253.6L1338.7 255.6M1249.8 261.5L1251.7 265.4M1249.8 261.5L1243.9 254.3M1249.8 261.5L1246.5 259.5M1264.2 261.5L1266.8 264.1M1264.2 261.5L1268.1 270.6M1187.0 279.8L1181.1 277.2M1187.0 279.8L1192.9 285.0M1187.0 279.8L1186.3 288.9M1243.9 295.5L1242.3 288.3M1243.9 295.5L1235.7 293.5M1243.9 295.5L1239.6 301.4M1243.9 295.5L1242.9 304.6M1275.9 298.7L1277.2 306.3M1275.9 298.7L1274.0 289.3M1275.9 298.7L1281.8 288.0M1300.8 309.9L1306.7 307.9M1300.8 309.9L1309.9 312.5M1326.9 298.1L1326.3 291.6M1326.9 298.1L1321.7 297.4M1338.7 298.1L1332.2 291.6M1338.7 298.1L1342.6 301.4M1326.9 304.6L1321.7 300.7M1326.9 304.6L1323.0 309.9M1337.4 311.2L1328.3 313.1M1337.4 311.2L1342.0 307.9M1278.6 336.0L1271.4 334.7M1278.6 336.0L1283.8 338.0M1286.4 334.7L1275.3 334.1M1241.9 343.9L1249.1 337.3M1241.9 343.9L1238.0 347.8M1241.9 343.9L1238.0 354.3M1282.5 362.2L1285.1 363.5M1282.5 362.2L1285.7 351.1M1296.9 358.3L1292.3 361.5M1296.9 358.3L1292.9 349.1M1296.9 358.3L1301.4 356.3M1194.2 373.9L1197.1 362.2M1194.2 373.9L1186.0 370.7M1194.2 373.9L1191.3 377.9M1236.7 332.1L1239.3 322.9M1236.7 332.1L1230.2 328.2M1317.8 360.9L1318.1 365.4M1317.8 360.9L1311.9 357.6M1317.8 360.9L1315.8 353.0M1317.8 360.9L1324.3 358.9M1264.8 400.7L1263.2 397.2M1151.5 398.1L1153.5 393.9M1165.9 446.5L1170.5 436.7M1165.9 446.5L1171.8 447.5M1170.0 438.0L1172.5 432.5M1170.0 438.0L1173.8 443.2M1248.5 427.5L1247.5 418.4M1248.5 427.5L1243.6 424.3M1248.5 427.5L1249.1 433.4M1264.8 400.7L1255.7 405.0M1050.8 99.3L1052.7 90.5M1050.8 99.3L1056.0 94.1M1050.8 99.3L1044.6 99.0M1093.9 112.4L1090.0 107.5M1133.2 92.8L1131.2 98.0M1093.9 112.4L1093.3 117.0M1114.2 132.0L1110.0 131.4M1077.6 171.9L1074.7 163.1M1092.0 177.8L1091.7 172.6M1124.7 154.2L1130.9 161.4M1164.6 160.8L1157.4 167.3M1287.1 87.5L1284.4 82.6M1359.6 139.9L1360.3 134.0M1259.6 137.2L1264.5 132.0M1341.3 151.6L1340.7 145.7M1355.7 155.6L1360.3 160.1M1170.0 162.1L1173.9 164.1M1326.9 186.3L1321.1 184.0M1336.1 206.6L1342.6 206.6M1269.4 209.2L1264.8 209.8M1313.9 222.3L1313.9 217.7M1078.9 305.9L1070.1 305.0M1135.8 298.1L1133.2 304.6M1150.2 308.6L1145.0 310.5M1105.7 300.7L1108.7 307.2M1150.2 350.4L1147.6 356.9M1176.3 281.1L1175.0 285.7M1123.4 283.7L1119.1 279.8M1150.2 350.4L1148.9 345.2M1187.0 279.8L1188.3 283.0M1338.7 298.1L1338.7 292.2M1300.8 309.9L1302.1 313.8M1300.8 309.9L1296.9 313.8M1236.7 332.1L1238.7 329.5M1241.9 343.9L1242.6 343.9M1241.9 343.9L1247.8 345.8M1278.6 336.0L1275.3 341.3M1170.0 332.1L1176.5 328.8M1313.9 222.3L1311.3 226.8M1313.9 222.3L1316.2 217.7M1326.9 304.6L1326.3 303.6M1337.4 311.2L1336.8 307.9M1151.5 398.1L1150.5 402.7M1118.1 382.4L1122.1 382.4M1170.0 438.0L1168.6 439.6M1050.8 99.3L1049.4 101.3M1139.7 147.7L1143.7 148.7M1092.0 177.8L1091.7 182.3M1092.0 177.8L1090.9 183.2M1069.1 221.6L1075.0 220.8M1029.9 241.9L1027.6 237.2M1217.1 120.2L1219.9 120.5M1324.3 100.6L1318.4 104.3M1359.6 139.9L1358.2 133.7M1259.6 137.2L1265.0 134.1M1213.8 154.9L1214.6 157.6M1170.0 162.1L1173.6 165.7M1341.3 151.6L1339.8 151.7M1341.3 151.6L1340.6 152.1M1355.7 155.6L1353.4 156.7M1283.8 192.2L1288.0 189.3M1326.9 186.3L1330.8 186.0M1269.4 209.2L1267.8 208.7M1224.9 232.0L1224.7 230.5M1123.4 283.7L1122.0 280.7M1138.4 251.7L1136.7 255.9M1092.6 281.7L1097.9 280.3M1090.7 300.7L1089.0 299.6M1078.9 305.9L1073.8 307.4M1110.9 378.5L1107.7 382.1M1264.2 261.5L1268.1 258.7M1264.2 261.5L1261.1 260.2M1326.9 304.6L1326.9 304.1M1187.0 279.8L1184.9 282.2M1236.7 332.1L1240.6 330.4M1278.6 336.0L1278.6 342.6M1296.9 358.3L1294.3 355.2M1241.9 343.9L1242.4 343.4M1317.8 360.9L1313.0 363.4M1194.2 373.9L1196.7 374.9M1336.1 206.6L1339.3 205.6" stroke="#d83030" stroke-width="4.2" stroke-linecap="round" fill="none"/>
<path d="M1156.7 183.7L1153.5 191.2M1315.2 206.6L1319.1 203.3M1315.2 206.6L1311.3 201.3M1109.6 263.4L1097.9 270.0M1109.6 263.4L1122.1 268.3M1262.9 303.3L1270.7 308.6M1270.1 378.5L1278.9 371.7" stroke="#5868d0" stroke-width="4.2" stroke-linecap="round" fill="none"/>
<path d="M1109.6 82.3L1118.8 79.0M1109.6 82.3L1101.1 86.9M1109.6 82.3L1112.3 91.5" stroke="#b0b0c4" stroke-width="4.2" stroke-linecap="round" fill="none"/>
<path d="M1054.7 81.7L1052.7 90.5M1061.3 88.9L1056.0 94.1M1082.2 90.2L1087.4 90.8M1038.4 98.7L1044.6 99.0M1086.1 102.6L1090.0 107.5M1129.3 103.2L1131.2 98.0M1022.0 112.4L1032.5 113.7M1120.1 112.4L1117.5 106.5M1092.6 121.6L1093.3 117.0M1096.6 134.6L1090.0 133.3M1105.7 130.7L1110.0 131.4M1031.2 137.2L1033.1 134.0M1056.0 154.2L1056.0 144.4M1071.7 154.2L1074.7 163.1M1095.3 147.7L1104.4 146.4M1052.1 161.4L1054.1 167.7M1045.6 170.6L1050.8 172.2M1063.9 171.3L1059.9 172.6M1091.3 167.3L1091.7 172.6M1108.3 158.8L1112.3 164.4M1137.1 168.6L1130.9 161.4M1150.2 173.9L1157.4 167.3M1173.7 175.2L1174.4 181.1M1002.4 206.6L1006.3 214.4M1036.4 203.9L1044.9 200.7M1057.3 197.4L1055.4 197.4M1078.3 188.3L1079.6 183.0M1128.0 186.9L1131.2 188.9M1160.6 202.6L1156.1 203.9M1162.0 214.4L1156.7 209.8M1145.0 206.6L1148.2 205.9M1169.8 210.5L1175.8 207.9M1063.9 211.8L1067.1 212.4M1113.6 185.6L1108.3 189.6M1322.4 75.1L1327.9 79.4M1342.6 74.5L1338.1 79.0M1281.8 77.7L1284.4 82.6M1257.6 80.4L1265.5 83.9M1215.1 90.8L1217.7 99.6M1230.2 92.8L1225.3 100.6M1249.8 97.4L1246.5 103.6M1266.8 94.7L1270.1 91.1M1237.4 101.9L1240.3 105.9M1212.5 101.9L1216.4 105.2M1192.2 118.3L1200.1 118.0M1300.8 113.7L1299.8 109.8M1326.9 132.0L1330.2 125.5M1360.9 128.1L1360.3 134.0M1299.5 126.8L1294.2 124.2M1269.4 126.8L1264.5 132.0M1201.4 146.4L1205.3 141.8M1289.0 143.8L1283.5 142.5M1340.0 139.9L1340.7 145.7M1278.6 158.2L1285.7 158.8M1231.5 156.9L1227.5 152.9M1238.0 159.5L1241.9 168.0M1252.4 164.7L1249.1 170.6M1261.6 167.3L1253.7 171.9M1364.9 164.7L1360.3 160.1M1313.9 172.6L1313.9 167.3M1177.8 166.0L1173.9 164.1M1315.2 181.7L1321.1 184.0M1264.2 176.5L1255.0 176.5M1355.7 179.1L1351.8 184.3M1189.6 184.3L1182.3 185.6M1218.4 186.9L1215.1 181.7M1248.5 197.4L1249.5 200.7M1363.6 193.5L1355.7 191.5M1349.2 206.6L1342.6 206.6M1260.2 210.5L1264.8 209.8M1184.4 218.3L1183.1 211.8M1313.9 213.1L1313.9 217.7M974.3 233.4L983.8 236.3M999.8 230.7L996.5 235.0M1045.6 231.4L1038.4 226.8M1054.7 226.8L1061.9 227.8M1080.9 228.8L1075.0 228.8M1092.6 243.2L1084.8 241.9M1104.4 246.4L1111.6 249.4M993.2 257.5L999.1 250.7M1002.4 262.8L1007.6 268.7M1061.3 254.9L1064.5 251.7M1074.3 260.2L1071.1 254.3M1049.5 255.6L1044.2 255.3M1031.2 266.7L1032.5 271.0M1059.9 278.5L1055.4 272.3M1007.6 290.2L1010.2 282.4M1037.7 292.9L1035.7 284.0M1031.2 294.2L1029.5 303.0M1061.3 304.0L1070.1 305.0M1054.7 318.4L1048.8 323.6M1061.3 319.7L1068.4 318.7M1052.1 339.9L1047.5 334.4M1024.6 358.9L1026.3 351.1M1035.1 347.8L1031.5 345.5M1130.6 311.2L1133.2 304.6M1139.7 312.5L1145.0 310.5M1111.6 313.8L1108.7 307.2M1079.6 347.8L1082.2 354.7M1097.9 346.5L1094.6 338.6M1109.6 345.2L1116.8 342.2M1074.3 356.9L1079.6 359.2M1070.4 366.1L1077.6 363.8M1071.7 388.3L1077.6 385.7M1128.0 356.9L1131.2 352.4M1137.1 377.9L1143.0 382.4M1145.0 363.5L1147.6 356.9M1173.7 362.2L1175.8 364.8M1087.4 220.9L1090.7 218.3M1121.4 213.1L1118.8 208.5M1110.9 209.2L1113.6 206.5M1142.3 230.1L1138.4 234.7M1122.7 235.3L1128.6 237.3M1162.0 234.0L1158.7 240.5M1147.6 239.2L1151.5 243.2M1163.3 240.5L1159.3 243.8M1173.7 290.2L1175.0 285.7M1151.5 286.3L1156.1 285.0M1108.3 277.2L1103.8 283.7M1114.9 275.9L1119.1 279.8M1134.5 330.8L1134.5 330.1M1147.6 339.9L1148.9 345.2M1193.5 226.2L1199.4 232.0M1211.9 224.8L1210.5 220.9M1201.4 254.9L1203.4 246.4M1193.5 254.3L1187.0 256.6M1181.8 251.0L1181.1 254.9M1224.3 257.5L1223.3 266.0M1205.3 269.3L1209.9 274.5M1189.6 286.3L1188.3 283.0M1196.2 296.1L1197.5 293.2M1236.7 277.2L1238.7 279.1M1260.2 283.7L1266.1 281.7M1222.3 290.2L1224.9 290.9M1346.6 243.2L1345.3 250.4M1350.5 250.4L1347.2 253.9M1357.0 265.4L1350.5 261.5M1338.7 286.3L1338.7 292.2M1354.4 292.2L1350.5 298.4M1353.1 316.4L1349.8 310.5M1341.3 349.1L1336.1 353.0M1333.5 373.9L1332.2 365.4M1338.7 342.6L1334.8 349.8M1320.4 329.5L1319.8 322.3M1303.4 317.7L1302.1 313.8M1261.6 315.1L1258.9 322.9M1252.4 312.5L1247.2 313.1M1292.9 317.7L1296.9 313.8M1240.6 326.9L1238.7 329.5M1243.2 343.9L1242.6 343.9M1219.7 339.9L1221.7 332.1M1209.2 328.2L1204.0 326.2M1217.1 353.0L1225.6 352.4M1253.7 347.8L1247.8 345.8M1272.0 346.5L1275.3 341.3M1183.1 358.3L1180.5 362.8M1211.9 362.2L1206.0 356.3M1188.3 364.8L1183.1 366.1M1207.9 386.4L1198.1 384.1M1215.8 390.9L1222.0 396.2M1183.1 325.6L1176.5 328.8M1179.2 319.0L1171.9 315.1M1296.9 213.1L1295.6 217.0M1308.6 231.4L1311.3 226.8M1240.6 237.9L1239.3 242.5M1243.2 228.8L1251.1 232.0M1256.3 227.5L1257.6 231.4M1306.7 209.2L1301.1 206.6M1318.4 213.1L1316.2 217.7M1285.1 274.5L1286.4 275.9M1330.9 270.6L1328.3 267.4M1325.6 302.7L1326.3 303.6M1336.1 304.6L1336.8 307.9M1313.9 332.1L1313.9 338.6M1308.6 347.8L1311.3 346.5M1075.0 394.8L1079.2 389.0M1092.6 404.0L1098.5 399.8M1111.6 394.2L1108.0 394.8M1149.5 407.3L1150.5 402.7M1165.9 410.5L1170.5 404.3M1126.0 382.4L1122.1 382.4M1167.2 441.3L1168.6 439.6M1177.7 456.3L1177.7 452.4M1188.3 407.9L1181.7 403.0M1205.3 407.3L1202.4 415.4M1242.6 401.4L1244.5 405.3M1179.2 419.7L1177.1 423.3M1219.0 423.6L1209.2 423.6M1209.2 436.7L1204.7 436.4M1214.5 449.1L1207.3 442.6M1239.3 456.3L1244.5 447.8M1277.9 453.7L1275.6 449.5M1285.7 421.0L1279.5 428.9M1289.0 435.4L1281.2 436.0M1119.5 67.6L1123.7 71.7M1140.3 80.0L1134.1 77.9M1070.6 91.5L1069.2 97.3M1039.4 125.8L1037.2 128.3M1048.0 103.3L1049.4 101.3M1078.5 123.5L1081.0 127.7M1059.0 110.6L1063.4 113.4M1044.4 136.7L1039.8 133.7M1068.1 138.9L1069.9 135.4M1060.3 147.9L1058.1 141.3M1076.2 119.1L1072.0 117.7M1083.0 134.5L1083.2 133.2M1123.8 141.5L1118.7 143.3M1160.5 129.7L1164.5 130.2M1147.6 149.7L1143.7 148.7M1174.5 142.4L1171.5 136.5M1174.9 120.0L1171.7 125.4M1091.4 186.9L1091.7 182.3M1055.6 185.4L1055.8 179.6M1098.9 211.4L1096.4 213.6M1089.7 188.5L1090.9 183.2M1085.6 215.9L1089.8 215.8M1090.2 196.2L1091.4 198.1M1143.8 197.4L1147.0 198.0M1126.0 192.1L1130.2 191.5M1081.0 219.9L1075.0 220.8M1025.2 232.5L1027.6 237.2M1020.0 230.4L1015.1 226.3M1000.4 217.7L1005.3 220.0M1063.7 204.0L1067.0 208.5M1355.2 103.2L1351.5 98.0M1359.1 93.6L1353.5 93.2M1222.7 120.7L1219.9 120.5M1260.1 100.0L1258.9 106.2M1246.7 109.9L1245.0 109.9M1281.8 117.5L1285.4 119.5M1312.6 107.9L1318.4 104.3M1216.4 110.9L1218.4 109.7M1240.3 132.1L1243.7 134.7M1229.7 108.7L1225.0 108.6M1339.4 129.3L1336.4 124.1M1356.9 127.6L1358.2 133.7M1337.9 108.6L1335.7 113.8M1196.5 140.2L1202.9 138.7M1240.2 147.3L1243.7 142.3M1234.8 133.0L1241.0 135.1M1270.4 131.0L1265.0 134.1M1215.4 160.3L1214.6 157.6M1177.2 169.3L1173.6 165.7M1299.9 171.3L1298.4 173.3M1323.7 152.2L1325.3 154.5M1338.2 151.7L1339.8 151.7M1339.9 152.5L1340.6 152.1M1324.3 159.5L1325.6 158.2M1351.1 157.9L1353.4 156.7M1212.9 169.4L1212.4 172.9M1200.7 162.5L1201.7 168.2M1205.0 168.3L1203.9 171.1M1234.7 191.0L1235.1 192.2M1236.0 166.0L1236.4 172.5M1255.1 183.5L1250.5 180.0M1292.2 180.3L1294.5 177.8M1278.2 161.9L1280.3 168.6M1305.3 166.9L1309.6 164.5M1292.3 186.4L1288.0 189.3M1326.1 170.8L1331.7 172.3M1334.7 185.7L1330.8 186.0M1351.9 178.8L1349.9 184.2M1239.1 183.6L1237.9 181.4M1189.2 196.3L1185.5 200.8M1212.0 202.2L1206.7 200.5M1266.3 208.2L1267.8 208.7M1290.4 203.9L1293.0 203.9M1348.1 201.0L1348.0 195.3M1240.6 222.3L1234.7 220.3M1224.6 228.9L1224.7 230.5M1199.3 222.6L1204.3 219.8M981.8 244.7L987.5 242.0M1016.4 236.9L1010.7 240.3M1042.4 285.1L1038.1 280.2M999.5 273.8L1006.2 274.2M1120.7 277.6L1122.0 280.7M1110.3 241.6L1114.6 247.0M1135.0 260.1L1136.7 255.9M1152.5 245.9L1154.0 246.5M1149.6 258.2L1148.6 257.9M1155.0 246.7L1155.2 246.9M1135.1 282.3L1140.0 279.1M1103.1 278.8L1097.9 280.3M1087.4 298.5L1089.0 299.6M1069.4 296.0L1075.1 292.5M1039.4 306.5L1033.6 309.2M1016.8 306.2L1022.4 309.0M1003.2 344.2L1004.5 337.8M1015.9 339.1L1021.9 341.2M1014.3 341.9L1010.0 336.7M1068.7 308.9L1073.8 307.4M1096.3 341.5L1093.8 336.2M1086.7 341.3L1089.0 336.0M1121.8 324.8L1116.4 326.8M1132.3 340.2L1133.4 344.0M1171.3 341.2L1173.8 342.5M1167.9 321.4L1166.2 316.3M1164.0 297.7L1164.3 304.5M1112.7 351.3L1110.5 356.1M1104.4 385.7L1107.7 382.1M1146.7 376.5L1147.8 381.8M1168.9 378.6L1172.6 378.2M1184.8 388.6L1186.5 385.2M1161.7 386.4L1158.6 388.0M1183.0 352.2L1179.7 348.0M1277.0 237.4L1276.5 240.3M1299.2 224.5L1296.7 222.7M1280.1 229.5L1276.0 228.5M1283.5 229.8L1287.6 230.9M1220.6 248.6L1216.9 244.6M1197.1 248.9L1201.2 243.4M1263.9 248.2L1269.9 245.7M1287.2 241.7L1289.4 236.9M1287.6 239.5L1289.6 235.7M1233.9 256.8L1238.6 257.2M1243.1 244.3L1240.5 245.7M1231.2 260.3L1237.2 258.9M1272.0 256.0L1268.1 258.7M1258.0 259.0L1261.1 260.2M1275.3 279.2L1273.7 279.5M1293.3 287.1L1290.5 282.1M1328.3 259.5L1327.0 261.8M1322.8 247.1L1319.0 251.0M1324.3 260.9L1324.9 262.5M1320.8 252.7L1318.0 253.8M1326.8 303.6L1326.9 304.1M1182.9 284.6L1184.9 282.2M1228.8 280.6L1225.6 277.6M1219.6 301.3L1215.1 303.6M1223.0 300.7L1225.3 296.1M1207.4 319.5L1203.1 321.9M1244.2 315.8L1243.0 314.8M1228.5 318.0L1226.1 321.1M1208.0 315.2L1209.3 310.6M1210.3 321.6L1204.5 322.9M1244.5 328.6L1240.6 330.4M1267.2 335.8L1265.7 334.6M1266.0 322.9L1265.1 328.1M1278.6 349.2L1278.6 342.6M1291.8 352.1L1294.3 355.2M1181.3 341.7L1178.8 342.8M1192.6 359.2L1196.4 354.8M1190.6 357.4L1195.3 353.9M1243.0 342.8L1242.4 343.4M1308.2 365.9L1313.0 363.4M1337.8 365.2L1334.3 361.1M1186.1 392.2L1187.2 387.0M1199.2 375.9L1196.7 374.9M1247.0 376.5L1243.8 382.4M1249.5 398.2L1248.0 403.7M1270.2 385.5L1265.9 389.5M1243.0 357.5L1238.5 354.6M1239.7 353.5L1236.9 352.6M1342.4 204.7L1339.3 205.6M1336.4 192.9L1336.2 196.5M1074.1 381.8L1078.8 382.5M1146.6 380.4L1147.7 383.7M1166.8 397.6L1170.9 397.9M1185.5 404.2L1180.2 401.1M1185.8 426.3L1180.4 426.6M1216.3 402.9L1222.3 402.1M1251.9 398.9L1256.7 396.2M1226.9 414.2L1227.5 407.8M1230.3 427.8L1234.5 424.4M1213.0 425.9L1206.2 424.8M1189.8 418.8L1194.6 421.2M1186.8 438.7L1182.2 443.6M1246.8 452.9L1248.3 446.1M1238.7 437.3L1244.3 438.3M1282.2 430.2L1277.8 433.5M1264.8 437.2L1269.0 436.9" stroke="#dedede" stroke-width="3.4" stroke-linecap="round" fill="none"/>
<circle cx="1180.5" cy="258.9" r="5.1" fill="url(#aC)"/>
<circle cx="1234.1" cy="364.8" r="5.1" fill="url(#aC)"/>
<circle cx="1080.9" cy="288.9" r="5.1" fill="url(#aC)"/>
<circle cx="1134.5" cy="218.3" r="5.9" fill="url(#aC)"/>
<circle cx="1148.9" cy="387.0" r="5.9" fill="url(#aC)"/>
<circle cx="1155.4" cy="247.1" r="5.9" fill="url(#aC)"/>
<circle cx="1247.2" cy="137.2" r="5.9" fill="url(#aC)"/>
<circle cx="1222.3" cy="274.5" r="5.9" fill="url(#aC)"/>
<circle cx="1056.0" cy="173.9" r="5.9" fill="url(#aC)"/>
<circle cx="1099.2" cy="177.8" r="5.9" fill="url(#aC)"/>
<circle cx="1070.4" cy="213.1" r="5.9" fill="url(#aC)"/>
<circle cx="1150.2" cy="198.7" r="5.9" fill="url(#aC)"/>
<circle cx="1261.6" cy="393.6" r="5.9" fill="url(#aC)"/>
<circle cx="1092.6" cy="91.5" r="5.9" fill="url(#aC)"/>
<circle cx="1333.5" cy="118.9" r="5.9" fill="url(#aC)"/>
<circle cx="1128.0" cy="75.8" r="5.9" fill="url(#aC)"/>
<circle cx="1116.2" cy="169.9" r="5.9" fill="url(#aC)"/>
<circle cx="1209.2" cy="217.0" r="5.9" fill="url(#aC)"/>
<circle cx="1223.6" cy="149.0" r="5.9" fill="url(#aC)"/>
<circle cx="1235.4" cy="307.2" r="5.9" fill="url(#aC)"/>
<circle cx="1250.4" cy="203.9" r="5.9" fill="url(#aC)"/>
<circle cx="1207.9" cy="117.6" r="5.9" fill="url(#aC)"/>
<circle cx="1275.9" cy="243.2" r="5.9" fill="url(#aC)"/>
<circle cx="1258.9" cy="235.3" r="5.9" fill="url(#aC)"/>
<circle cx="1228.2" cy="401.4" r="6.2" fill="url(#aC)"/>
<circle cx="1240.6" cy="281.1" r="6.2" fill="url(#aC)"/>
<circle cx="1104.4" cy="395.5" r="6.2" fill="url(#aC)"/>
<circle cx="1044.4" cy="136.7" r="3.3" fill="url(#aH)"/>
<circle cx="1240.6" cy="222.3" r="3.3" fill="url(#aH)"/>
<circle cx="1080.9" cy="177.8" r="6.6" fill="url(#aC)"/>
<circle cx="1346.6" cy="304.6" r="6.6" fill="url(#aC)"/>
<circle cx="1093.9" cy="215.7" r="6.6" fill="url(#aC)"/>
<circle cx="1083.5" cy="132.0" r="6.6" fill="url(#aC)"/>
<circle cx="1347.9" cy="92.8" r="6.6" fill="url(#aC)"/>
<circle cx="1337.4" cy="173.9" r="6.6" fill="url(#aC)"/>
<circle cx="1076.9" cy="240.5" r="6.6" fill="url(#aC)"/>
<circle cx="1134.5" cy="239.2" r="6.6" fill="url(#aC)"/>
<circle cx="1347.9" cy="189.6" r="6.6" fill="url(#aC)"/>
<circle cx="1164.6" cy="311.2" r="6.6" fill="url(#aC)"/>
<circle cx="1234.1" cy="351.7" r="6.6" fill="url(#aC)"/>
<circle cx="1134.5" cy="347.8" r="6.6" fill="url(#aC)"/>
<circle cx="1010.2" cy="222.3" r="6.6" fill="url(#aC)"/>
<circle cx="1319.1" cy="315.1" r="6.6" fill="url(#aC)"/>
<circle cx="1083.5" cy="373.9" r="6.6" fill="url(#aC)"/>
<circle cx="1069.1" cy="228.8" r="6.6" fill="url(#aC)"/>
<circle cx="1151.5" cy="205.2" r="6.6" fill="url(#aC)"/>
<circle cx="1053.4" cy="197.4" r="6.6" fill="url(#aC)"/>
<circle cx="1067.8" cy="248.4" r="6.6" fill="url(#aC)"/>
<circle cx="1325.6" cy="264.1" r="6.6" fill="url(#aC)"/>
<circle cx="1176.3" cy="343.9" r="6.6" fill="url(#aC)"/>
<circle cx="1103.1" cy="118.9" r="6.6" fill="url(#aC)"/>
<circle cx="1294.2" cy="220.9" r="6.6" fill="url(#aC)"/>
<circle cx="1031.2" cy="222.3" r="6.6" fill="url(#aC)"/>
<circle cx="1346.6" cy="118.9" r="6.6" fill="url(#aC)"/>
<circle cx="1201.4" cy="198.7" r="6.6" fill="url(#aC)"/>
<circle cx="1134.5" cy="202.6" r="6.6" fill="url(#aC)"/>
<circle cx="1114.9" cy="100.6" r="6.6" fill="url(#aC)"/>
<circle cx="1333.5" cy="83.6" r="6.6" fill="url(#aC)"/>
<circle cx="1298.8" cy="105.9" r="6.6" fill="url(#aC)"/>
<circle cx="1187.0" cy="164.7" r="6.6" fill="url(#aC)"/>
<circle cx="1238.0" cy="118.9" r="6.6" fill="url(#aC)"/>
<circle cx="1240.6" cy="388.3" r="6.6" fill="url(#aC)"/>
<circle cx="1313.9" cy="345.2" r="6.6" fill="url(#aC)"/>
<circle cx="1315.2" cy="254.9" r="6.6" fill="url(#aC)"/>
<circle cx="1273.3" cy="87.5" r="6.6" fill="url(#aC)"/>
<circle cx="1181.8" cy="205.3" r="6.6" fill="url(#aC)"/>
<circle cx="1343.9" cy="257.5" r="6.6" fill="url(#aC)"/>
<circle cx="1193.5" cy="336.0" r="6.6" fill="url(#aC)"/>
<circle cx="1277.9" cy="141.2" r="6.6" fill="url(#aC)"/>
<circle cx="1246.5" cy="409.2" r="6.6" fill="url(#aC)"/>
<circle cx="1118.8" cy="370.0" r="6.6" fill="url(#aC)"/>
<circle cx="1292.9" cy="159.5" r="6.6" fill="url(#aC)"/>
<circle cx="1209.2" cy="137.2" r="6.6" fill="url(#aC)"/>
<circle cx="1306.0" cy="354.3" r="6.6" fill="url(#aC)"/>
<circle cx="1330.9" cy="356.9" r="6.6" fill="url(#aC)"/>
<circle cx="1093.9" cy="388.3" r="6.6" fill="url(#aC)"/>
<circle cx="1273.3" cy="445.2" r="6.6" fill="url(#aC)"/>
<circle cx="1118.8" cy="252.3" r="6.6" fill="url(#aC)"/>
<circle cx="1177.7" cy="448.5" r="6.6" fill="url(#aC)"/>
<circle cx="1270.1" cy="111.1" r="6.6" fill="url(#aC)"/>
<circle cx="1214.5" cy="279.8" r="6.6" fill="url(#aC)"/>
<circle cx="1337.4" cy="158.2" r="6.6" fill="url(#aC)"/>
<circle cx="1272.0" cy="227.5" r="6.6" fill="url(#aC)"/>
<circle cx="1312.6" cy="305.9" r="6.6" fill="url(#aC)"/>
<circle cx="1330.9" cy="202.6" r="6.6" fill="url(#aC)"/>
<circle cx="1198.8" cy="290.2" r="6.6" fill="url(#aC)"/>
<circle cx="1175.0" cy="186.9" r="6.6" fill="url(#aC)"/>
<circle cx="1205.3" cy="237.9" r="6.6" fill="url(#aC)"/>
<circle cx="1075.6" cy="317.7" r="6.6" fill="url(#aC)"/>
<circle cx="1175.2" cy="274.5" r="6.6" fill="url(#aC)"/>
<circle cx="1177.8" cy="367.4" r="6.6" fill="url(#aC)"/>
<circle cx="1336.1" cy="200.0" r="6.6" fill="url(#aC)"/>
<circle cx="1085.6" cy="215.9" r="3.3" fill="url(#aH)"/>
<circle cx="1016.4" cy="236.9" r="3.4" fill="url(#aH)"/>
<circle cx="1278.6" cy="349.2" r="3.5" fill="url(#aH)"/>
<circle cx="1290.4" cy="203.9" r="3.4" fill="url(#aH)"/>
<circle cx="1142.3" cy="230.1" r="3.5" fill="url(#aH)"/>
<circle cx="1035.1" cy="347.8" r="3.5" fill="url(#aH)"/>
<circle cx="1222.7" cy="120.7" r="3.5" fill="url(#aH)"/>
<circle cx="1079.6" cy="347.8" r="3.5" fill="url(#aH)"/>
<circle cx="1095.3" cy="147.7" r="3.5" fill="url(#aH)"/>
<circle cx="1236.7" cy="277.2" r="3.5" fill="url(#aH)"/>
<circle cx="1360.9" cy="128.1" r="3.5" fill="url(#aH)"/>
<circle cx="1239.1" cy="183.6" r="3.4" fill="url(#aH)"/>
<circle cx="1074.3" cy="356.9" r="3.5" fill="url(#aH)"/>
<circle cx="1091.4" cy="186.9" r="3.4" fill="url(#aH)"/>
<circle cx="1309.9" cy="71.9" r="3.5" fill="url(#aH)"/>
<circle cx="1119.5" cy="67.6" r="3.4" fill="url(#aH)"/>
<circle cx="993.2" cy="257.5" r="3.5" fill="url(#aH)"/>
<circle cx="1234.7" cy="191.0" r="3.5" fill="url(#aH)"/>
<circle cx="1299.9" cy="171.3" r="3.7" fill="url(#aH)"/>
<circle cx="1049.5" cy="255.6" r="3.5" fill="url(#aH)"/>
<circle cx="1342.4" cy="204.7" r="3.3" fill="url(#aH)"/>
<circle cx="1350.5" cy="250.4" r="3.5" fill="url(#aH)"/>
<circle cx="1054.7" cy="226.8" r="3.5" fill="url(#aH)"/>
<circle cx="1151.5" cy="286.3" r="3.5" fill="url(#aH)"/>
<circle cx="1313.9" cy="213.1" r="3.5" fill="url(#aH)"/>
<circle cx="1128.0" cy="356.9" r="3.5" fill="url(#aH)"/>
<circle cx="1205.0" cy="168.3" r="3.7" fill="url(#aH)"/>
<circle cx="1340.0" cy="139.9" r="3.5" fill="url(#aH)"/>
<circle cx="1275.3" cy="279.2" r="3.7" fill="url(#aH)"/>
<circle cx="1215.1" cy="90.8" r="3.5" fill="url(#aH)"/>
<circle cx="1086.1" cy="102.6" r="3.5" fill="url(#aH)"/>
<circle cx="1070.4" cy="366.1" r="3.5" fill="url(#aH)"/>
<circle cx="1098.9" cy="211.4" r="3.6" fill="url(#aH)"/>
<circle cx="1183.0" cy="352.2" r="3.7" fill="url(#aH)"/>
<circle cx="1139.7" cy="312.5" r="3.5" fill="url(#aH)"/>
<circle cx="1181.8" cy="251.0" r="3.5" fill="url(#aH)"/>
<circle cx="1346.6" cy="243.2" r="3.5" fill="url(#aH)"/>
<circle cx="1038.4" cy="98.7" r="3.5" fill="url(#aH)"/>
<circle cx="1338.2" cy="151.7" r="3.5" fill="url(#aH)"/>
<circle cx="1086.7" cy="341.3" r="3.8" fill="url(#aH)"/>
<circle cx="1078.3" cy="188.3" r="3.5" fill="url(#aH)"/>
<circle cx="1300.8" cy="113.7" r="3.5" fill="url(#aH)"/>
<circle cx="1212.5" cy="101.9" r="3.5" fill="url(#aH)"/>
<circle cx="1033.8" cy="275.2" r="7.0" fill="url(#aC)"/>
<circle cx="1175.0" cy="426.9" r="7.0" fill="url(#aC)"/>
<circle cx="1005.0" cy="243.8" r="7.0" fill="url(#aC)"/>
<circle cx="1325.6" cy="285.0" r="7.0" fill="url(#aC)"/>
<circle cx="1027.9" cy="343.2" r="7.0" fill="url(#aC)"/>
<circle cx="1084.8" cy="361.5" r="7.0" fill="url(#aC)"/>
<circle cx="1199.4" cy="423.6" r="7.0" fill="url(#aC)"/>
<circle cx="1241.9" cy="313.8" r="7.0" fill="url(#aC)"/>
<circle cx="1005.7" cy="331.4" r="7.0" fill="url(#aC)"/>
<circle cx="1315.2" cy="270.6" r="7.0" fill="url(#aC)"/>
<circle cx="1039.0" cy="254.9" r="7.0" fill="url(#aC)"/>
<circle cx="1050.8" cy="266.0" r="7.0" fill="url(#aC)"/>
<circle cx="1012.9" cy="274.5" r="7.0" fill="url(#aC)"/>
<circle cx="993.2" cy="239.2" r="7.0" fill="url(#aC)"/>
<circle cx="1158.0" cy="375.3" r="7.0" fill="url(#aC)"/>
<circle cx="1351.9" cy="178.8" r="3.4" fill="url(#aH)"/>
<circle cx="1097.9" cy="346.5" r="3.5" fill="url(#aH)"/>
<circle cx="1048.0" cy="103.3" r="3.5" fill="url(#aH)"/>
<circle cx="1137.1" cy="168.6" r="3.5" fill="url(#aH)"/>
<circle cx="1325.6" cy="302.7" r="3.5" fill="url(#aH)"/>
<circle cx="1243.0" cy="357.5" r="3.4" fill="url(#aH)"/>
<circle cx="1165.9" cy="410.5" r="3.5" fill="url(#aH)"/>
<circle cx="1068.1" cy="138.9" r="3.8" fill="url(#aH)"/>
<circle cx="1278.6" cy="158.2" r="3.5" fill="url(#aH)"/>
<circle cx="1324.3" cy="159.5" r="3.5" fill="url(#aH)"/>
<circle cx="1239.7" cy="353.5" r="3.3" fill="url(#aH)"/>
<circle cx="1189.6" cy="286.3" r="3.5" fill="url(#aH)"/>
<circle cx="1003.2" cy="344.2" r="3.8" fill="url(#aH)"/>
<circle cx="1264.2" cy="176.5" r="3.5" fill="url(#aH)"/>
<circle cx="1096.6" cy="134.6" r="3.5" fill="url(#aH)"/>
<circle cx="1092.6" cy="121.6" r="3.5" fill="url(#aH)"/>
<circle cx="1348.1" cy="201.0" r="3.5" fill="url(#aH)"/>
<circle cx="1201.4" cy="254.9" r="3.5" fill="url(#aH)"/>
<circle cx="1108.3" cy="277.2" r="3.5" fill="url(#aH)"/>
<circle cx="1083.0" cy="134.5" r="3.6" fill="url(#aH)"/>
<circle cx="1244.2" cy="315.8" r="3.7" fill="url(#aH)"/>
<circle cx="1071.7" cy="154.2" r="3.5" fill="url(#aH)"/>
<circle cx="1339.4" cy="129.3" r="3.5" fill="url(#aH)"/>
<circle cx="1052.1" cy="161.4" r="3.5" fill="url(#aH)"/>
<circle cx="1292.3" cy="186.4" r="3.6" fill="url(#aH)"/>
<circle cx="1189.2" cy="196.3" r="3.4" fill="url(#aH)"/>
<circle cx="1045.6" cy="231.4" r="3.5" fill="url(#aH)"/>
<circle cx="1122.7" cy="235.3" r="3.5" fill="url(#aH)"/>
<circle cx="1278.2" cy="161.9" r="3.8" fill="url(#aH)"/>
<circle cx="1364.9" cy="164.7" r="3.5" fill="url(#aH)"/>
<circle cx="1266.8" cy="94.7" r="3.5" fill="url(#aH)"/>
<circle cx="1200.7" cy="162.5" r="3.6" fill="url(#aH)"/>
<circle cx="1305.3" cy="166.9" r="3.4" fill="url(#aH)"/>
<circle cx="1231.2" cy="260.3" r="3.5" fill="url(#aH)"/>
<circle cx="1167.9" cy="321.4" r="3.6" fill="url(#aH)"/>
<circle cx="1163.3" cy="240.5" r="3.5" fill="url(#aH)"/>
<circle cx="1281.8" cy="117.5" r="3.4" fill="url(#aH)"/>
<circle cx="1149.6" cy="258.2" r="3.4" fill="url(#aH)"/>
<circle cx="1137.1" cy="377.9" r="3.5" fill="url(#aH)"/>
<circle cx="1059.9" cy="278.5" r="3.5" fill="url(#aH)"/>
<circle cx="1162.0" cy="214.4" r="3.5" fill="url(#aH)"/>
<circle cx="1281.8" cy="77.7" r="3.5" fill="url(#aH)"/>
<circle cx="1109.6" cy="345.2" r="3.5" fill="url(#aH)"/>
<circle cx="1313.9" cy="162.1" r="7.3" fill="url(#aC)"/>
<circle cx="1116.2" cy="203.9" r="7.3" fill="url(#aC)"/>
<circle cx="1295.6" cy="203.9" r="7.3" fill="url(#aC)"/>
<circle cx="1078.3" cy="205.3" r="7.3" fill="url(#aC)"/>
<circle cx="1168.5" cy="130.7" r="7.3" fill="url(#aC)"/>
<circle cx="1099.2" cy="290.2" r="7.3" fill="url(#aC)"/>
<circle cx="1238.0" cy="247.1" r="7.3" fill="url(#aC)"/>
<circle cx="1223.6" cy="324.2" r="7.3" fill="url(#aC)"/>
<circle cx="1243.2" cy="257.5" r="7.3" fill="url(#aC)"/>
<circle cx="1228.9" cy="218.3" r="7.3" fill="url(#aC)"/>
<circle cx="1289.0" cy="121.6" r="7.3" fill="url(#aC)"/>
<circle cx="1042.9" cy="328.8" r="7.3" fill="url(#aC)"/>
<circle cx="1227.5" cy="291.6" r="7.3" fill="url(#aC)"/>
<circle cx="1108.3" cy="360.9" r="7.3" fill="url(#aC)"/>
<circle cx="1211.9" cy="176.5" r="7.3" fill="url(#aC)"/>
<circle cx="1145.0" cy="275.9" r="7.3" fill="url(#aC)"/>
<circle cx="1257.6" cy="112.4" r="7.3" fill="url(#aC)"/>
<circle cx="1155.4" cy="389.6" r="7.3" fill="url(#aC)"/>
<circle cx="1316.5" cy="296.8" r="7.3" fill="url(#aC)"/>
<circle cx="1067.8" cy="103.2" r="7.3" fill="url(#aC)"/>
<circle cx="1160.6" cy="342.6" r="7.3" fill="url(#aC)"/>
<circle cx="1120.1" cy="200.0" r="7.3" fill="url(#aC)"/>
<circle cx="1220.4" cy="108.5" r="7.3" fill="url(#aC)"/>
<circle cx="1147.6" cy="257.5" r="7.3" fill="url(#aC)"/>
<circle cx="1160.6" cy="283.7" r="7.3" fill="url(#aC)"/>
<circle cx="1188.3" cy="381.8" r="7.3" fill="url(#aC)"/>
<circle cx="1245.9" cy="176.5" r="7.3" fill="url(#aC)"/>
<circle cx="1185.7" cy="298.1" r="7.3" fill="url(#aC)"/>
<circle cx="1238.7" cy="421.0" r="7.3" fill="url(#aC)"/>
<circle cx="1202.7" cy="173.9" r="7.3" fill="url(#aC)"/>
<circle cx="1256.3" cy="330.8" r="7.3" fill="url(#aC)"/>
<circle cx="1103.1" cy="193.5" r="7.3" fill="url(#aC)"/>
<circle cx="1243.2" cy="109.8" r="7.3" fill="url(#aC)"/>
<circle cx="1249.8" cy="439.3" r="7.3" fill="url(#aC)"/>
<circle cx="1027.9" cy="311.8" r="7.3" fill="url(#aC)"/>
<circle cx="1326.9" cy="156.9" r="7.3" fill="url(#aC)"/>
<circle cx="1213.2" cy="240.5" r="7.3" fill="url(#aC)"/>
<circle cx="1176.3" cy="377.9" r="7.3" fill="url(#aC)"/>
<circle cx="1110.9" cy="328.8" r="7.3" fill="url(#aC)"/>
<circle cx="1200.1" cy="436.0" r="7.3" fill="url(#aC)"/>
<circle cx="1124.0" cy="339.3" r="7.3" fill="url(#aC)"/>
<circle cx="1273.3" cy="436.7" r="7.3" fill="url(#aC)"/>
<circle cx="1083.5" cy="383.1" r="7.3" fill="url(#aC)"/>
<circle cx="1164.0" cy="297.7" r="3.6" fill="url(#aH)"/>
<circle cx="1243.2" cy="228.8" r="3.5" fill="url(#aH)"/>
<circle cx="1061.3" cy="254.9" r="3.5" fill="url(#aH)"/>
<circle cx="1342.6" cy="329.5" r="3.5" fill="url(#aH)"/>
<circle cx="1183.1" cy="325.6" r="3.5" fill="url(#aH)"/>
<circle cx="1277.2" cy="466.8" r="3.5" fill="url(#aH)"/>
<circle cx="1211.9" cy="224.8" r="3.5" fill="url(#aH)"/>
<circle cx="1197.1" cy="248.9" r="3.3" fill="url(#aH)"/>
<circle cx="1108.3" cy="158.8" r="3.5" fill="url(#aH)"/>
<circle cx="1162.0" cy="234.0" r="3.5" fill="url(#aH)"/>
<circle cx="1289.0" cy="435.4" r="3.5" fill="url(#aH)"/>
<circle cx="1248.5" cy="197.4" r="3.5" fill="url(#aH)"/>
<circle cx="1207.4" cy="319.5" r="3.4" fill="url(#aH)"/>
<circle cx="1230.2" cy="92.8" r="3.5" fill="url(#aH)"/>
<circle cx="1318.4" cy="213.1" r="3.5" fill="url(#aH)"/>
<circle cx="1244.5" cy="328.6" r="3.6" fill="url(#aH)"/>
<circle cx="1199.3" cy="222.6" r="3.3" fill="url(#aH)"/>
<circle cx="1185.8" cy="426.3" r="3.3" fill="url(#aH)"/>
<circle cx="1337.8" cy="365.2" r="3.5" fill="url(#aH)"/>
<circle cx="1147.6" cy="239.2" r="3.5" fill="url(#aH)"/>
<circle cx="1366.2" cy="71.9" r="3.5" fill="url(#aH)"/>
<circle cx="1025.2" cy="232.5" r="3.3" fill="url(#aH)"/>
<circle cx="1171.3" cy="341.2" r="3.4" fill="url(#aH)"/>
<circle cx="1111.6" cy="313.8" r="3.5" fill="url(#aH)"/>
<circle cx="1188.3" cy="407.9" r="3.5" fill="url(#aH)"/>
<circle cx="1246.8" cy="452.9" r="3.6" fill="url(#aH)"/>
<circle cx="1229.7" cy="108.7" r="3.7" fill="url(#aH)"/>
<circle cx="1215.4" cy="160.3" r="3.5" fill="url(#aH)"/>
<circle cx="1075.0" cy="394.8" r="3.5" fill="url(#aH)"/>
<circle cx="1140.3" cy="80.0" r="3.4" fill="url(#aH)"/>
<circle cx="1114.9" cy="275.9" r="3.5" fill="url(#aH)"/>
<circle cx="1277.0" cy="237.4" r="3.7" fill="url(#aH)"/>
<circle cx="1208.0" cy="315.2" r="3.5" fill="url(#aH)"/>
<circle cx="1238.7" cy="437.3" r="3.4" fill="url(#aH)"/>
<circle cx="1322.4" cy="75.1" r="3.5" fill="url(#aH)"/>
<circle cx="1207.9" cy="386.4" r="3.5" fill="url(#aH)"/>
<circle cx="1134.5" cy="330.8" r="3.5" fill="url(#aH)"/>
<circle cx="1355.2" cy="103.2" r="3.6" fill="url(#aH)"/>
<circle cx="1249.8" cy="97.4" r="3.5" fill="url(#aH)"/>
<circle cx="1356.9" cy="127.6" r="3.6" fill="url(#aH)"/>
<circle cx="1285.7" cy="421.0" r="3.5" fill="url(#aH)"/>
<circle cx="974.3" cy="233.4" r="3.5" fill="url(#aH)"/>
<circle cx="981.8" cy="244.7" r="3.6" fill="url(#aH)"/>
<circle cx="1126.0" cy="382.4" r="3.5" fill="url(#aH)"/>
<circle cx="1322.8" cy="247.1" r="3.3" fill="url(#aH)"/>
<circle cx="1337.9" cy="108.6" r="3.6" fill="url(#aH)"/>
<circle cx="1211.9" cy="362.2" r="3.5" fill="url(#aH)"/>
<circle cx="1239.3" cy="456.3" r="3.5" fill="url(#aH)"/>
<circle cx="1078.5" cy="123.5" r="3.8" fill="url(#aH)"/>
<circle cx="1091.3" cy="330.8" r="7.6" fill="url(#aC)"/>
<circle cx="1122.7" cy="266.7" r="7.6" fill="url(#aC)"/>
<circle cx="1016.8" cy="306.2" r="3.5" fill="url(#aH)"/>
<circle cx="1320.4" cy="329.5" r="3.5" fill="url(#aH)"/>
<circle cx="1181.8" cy="77.1" r="3.5" fill="url(#aH)"/>
<circle cx="1055.6" cy="185.4" r="3.4" fill="url(#aH)"/>
<circle cx="1324.3" cy="260.9" r="3.8" fill="url(#aH)"/>
<circle cx="1092.6" cy="243.2" r="3.5" fill="url(#aH)"/>
<circle cx="1220.6" cy="248.6" r="3.4" fill="url(#aH)"/>
<circle cx="1145.0" cy="363.5" r="3.5" fill="url(#aH)"/>
<circle cx="1345.9" cy="336.7" r="3.5" fill="url(#aH)"/>
<circle cx="1292.2" cy="180.3" r="3.7" fill="url(#aH)"/>
<circle cx="1287.6" cy="239.5" r="3.7" fill="url(#aH)"/>
<circle cx="1160.5" cy="129.7" r="3.5" fill="url(#aH)"/>
<circle cx="1147.6" cy="339.9" r="3.5" fill="url(#aH)"/>
<circle cx="1240.2" cy="147.3" r="3.3" fill="url(#aH)"/>
<circle cx="1179.2" cy="319.0" r="3.5" fill="url(#aH)"/>
<circle cx="999.8" cy="230.7" r="3.5" fill="url(#aH)"/>
<circle cx="1231.5" cy="156.9" r="3.5" fill="url(#aH)"/>
<circle cx="1109.6" cy="62.7" r="3.5" fill="url(#aH)"/>
<circle cx="1312.6" cy="107.9" r="3.4" fill="url(#aH)"/>
<circle cx="1224.6" cy="228.9" r="3.7" fill="url(#aH)"/>
<circle cx="1054.7" cy="318.4" r="3.5" fill="url(#aH)"/>
<circle cx="1063.7" cy="204.0" r="3.3" fill="url(#aH)"/>
<circle cx="1260.2" cy="210.5" r="3.5" fill="url(#aH)"/>
<circle cx="1260.1" cy="100.0" r="3.7" fill="url(#aH)"/>
<circle cx="1277.9" cy="453.7" r="3.5" fill="url(#aH)"/>
<circle cx="1045.6" cy="170.6" r="3.5" fill="url(#aH)"/>
<circle cx="1113.6" cy="185.6" r="3.5" fill="url(#aH)"/>
<circle cx="1242.6" cy="401.4" r="3.5" fill="url(#aH)"/>
<circle cx="1129.3" cy="103.2" r="3.5" fill="url(#aH)"/>
<circle cx="1379.3" cy="155.6" r="3.5" fill="url(#aH)"/>
<circle cx="1174.9" cy="120.0" r="3.8" fill="url(#aH)"/>
<circle cx="1081.0" cy="219.9" r="3.7" fill="url(#aH)"/>
<circle cx="1024.6" cy="358.9" r="3.5" fill="url(#aH)"/>
<circle cx="1216.4" cy="110.9" r="3.5" fill="url(#aH)"/>
<circle cx="1015.9" cy="339.1" r="3.5" fill="url(#aH)"/>
<circle cx="1155.0" cy="246.7" r="3.6" fill="url(#aH)"/>
<circle cx="1121.4" cy="213.1" r="3.5" fill="url(#aH)"/>
<circle cx="1145.0" cy="206.6" r="3.5" fill="url(#aH)"/>
<circle cx="1061.3" cy="304.0" r="3.5" fill="url(#aH)"/>
<circle cx="1105.7" cy="130.7" r="3.5" fill="url(#aH)"/>
<circle cx="1299.2" cy="224.5" r="3.8" fill="url(#aH)"/>
<circle cx="1260.2" cy="283.7" r="3.5" fill="url(#aH)"/>
<circle cx="1226.9" cy="414.2" r="3.4" fill="url(#aH)"/>
<circle cx="1022.0" cy="112.4" r="3.5" fill="url(#aH)"/>
<circle cx="1306.7" cy="209.2" r="3.5" fill="url(#aH)"/>
<circle cx="1253.7" cy="347.8" r="3.5" fill="url(#aH)"/>
<circle cx="1213.0" cy="425.9" r="3.6" fill="url(#aH)"/>
<circle cx="1247.0" cy="376.5" r="3.8" fill="url(#aH)"/>
<circle cx="1342.6" cy="74.5" r="3.5" fill="url(#aH)"/>
<circle cx="1210.3" cy="321.6" r="3.8" fill="url(#aH)"/>
<circle cx="1031.2" cy="294.2" r="3.5" fill="url(#aH)"/>
<circle cx="1054.7" cy="81.7" r="3.5" fill="url(#aH)"/>
<circle cx="1216.3" cy="402.9" r="3.7" fill="url(#aH)"/>
<circle cx="1243.2" cy="343.9" r="3.5" fill="url(#aH)"/>
<circle cx="1212.9" cy="169.4" r="3.3" fill="url(#aH)"/>
<circle cx="1189.8" cy="418.8" r="3.4" fill="url(#aH)"/>
<circle cx="1103.1" cy="278.8" r="3.8" fill="url(#aH)"/>
<circle cx="1326.9" cy="132.0" r="3.5" fill="url(#aH)"/>
<circle cx="1258.0" cy="259.0" r="3.7" fill="url(#aH)"/>
<circle cx="1184.4" cy="98.0" r="3.5" fill="url(#aH)"/>
<circle cx="1061.3" cy="88.9" r="3.5" fill="url(#aH)"/>
<circle cx="1252.4" cy="312.5" r="3.5" fill="url(#aH)"/>
<circle cx="1143.8" cy="197.4" r="3.7" fill="url(#aH)"/>
<circle cx="1059.0" cy="110.6" r="3.3" fill="url(#aH)"/>
<circle cx="1105.1" cy="414.5" r="3.5" fill="url(#aH)"/>
<circle cx="1212.0" cy="202.2" r="3.7" fill="url(#aH)"/>
<circle cx="1236.0" cy="166.0" r="3.4" fill="url(#aH)"/>
<circle cx="1192.2" cy="118.3" r="3.5" fill="url(#aH)"/>
<circle cx="1036.4" cy="203.9" r="3.5" fill="url(#aH)"/>
<circle cx="1349.2" cy="206.6" r="3.5" fill="url(#aH)"/>
<circle cx="1112.7" cy="351.3" r="3.4" fill="url(#aH)"/>
<circle cx="1181.3" cy="341.7" r="3.7" fill="url(#aH)"/>
<circle cx="1074.1" cy="381.8" r="3.5" fill="url(#aH)"/>
<circle cx="1251.9" cy="398.9" r="3.5" fill="url(#aH)"/>
<circle cx="1177.8" cy="166.0" r="3.5" fill="url(#aH)"/>
<circle cx="1247.2" cy="67.9" r="3.5" fill="url(#aH)"/>
<circle cx="1042.9" cy="115.0" r="8.1" fill="url(#aC)"/>
<circle cx="1134.5" cy="329.5" r="8.1" fill="url(#aC)"/>
<circle cx="1279.9" cy="205.3" r="8.1" fill="url(#aC)"/>
<circle cx="1236.7" cy="179.1" r="8.1" fill="url(#aC)"/>
<circle cx="1056.0" cy="134.6" r="8.1" fill="url(#aC)"/>
<circle cx="1196.2" cy="317.7" r="8.1" fill="url(#aC)"/>
<circle cx="1160.6" cy="259.5" r="8.1" fill="url(#aC)"/>
<circle cx="1035.1" cy="130.7" r="8.1" fill="url(#aC)"/>
<circle cx="1287.7" cy="277.2" r="8.1" fill="url(#aC)"/>
<circle cx="1113.6" cy="145.1" r="8.1" fill="url(#aC)"/>
<circle cx="1269.4" cy="266.7" r="8.1" fill="url(#aC)"/>
<circle cx="1198.8" cy="324.2" r="8.1" fill="url(#aC)"/>
<circle cx="1296.9" cy="175.2" r="8.1" fill="url(#aC)"/>
<circle cx="1187.0" cy="152.9" r="8.1" fill="url(#aC)"/>
<circle cx="1289.0" cy="339.9" r="8.1" fill="url(#aC)"/>
<circle cx="1134.5" cy="190.9" r="8.1" fill="url(#aC)"/>
<circle cx="1235.4" cy="193.5" r="8.1" fill="url(#aC)"/>
<circle cx="1264.2" cy="333.4" r="8.1" fill="url(#aC)"/>
<circle cx="1282.5" cy="175.2" r="8.1" fill="url(#aC)"/>
<circle cx="1200.1" cy="350.4" r="8.1" fill="url(#aC)"/>
<circle cx="1067.8" cy="116.3" r="8.1" fill="url(#aC)"/>
<circle cx="1210.5" cy="305.9" r="8.1" fill="url(#aC)"/>
<circle cx="1291.6" cy="232.0" r="8.1" fill="url(#aC)"/>
<circle cx="1071.7" cy="132.0" r="8.1" fill="url(#aC)"/>
<circle cx="1285.1" cy="258.9" r="8.1" fill="url(#aC)"/>
<circle cx="1052.1" cy="339.9" r="3.5" fill="url(#aH)"/>
<circle cx="1135.1" cy="282.3" r="3.5" fill="url(#aH)"/>
<circle cx="1037.7" cy="292.9" r="3.5" fill="url(#aH)"/>
<circle cx="1002.4" cy="262.8" r="3.5" fill="url(#aH)"/>
<circle cx="1308.2" cy="365.9" r="3.6" fill="url(#aH)"/>
<circle cx="1147.6" cy="149.7" r="3.8" fill="url(#aH)"/>
<circle cx="1261.6" cy="167.3" r="3.5" fill="url(#aH)"/>
<circle cx="1287.2" cy="241.7" r="3.5" fill="url(#aH)"/>
<circle cx="1007.6" cy="290.2" r="3.5" fill="url(#aH)"/>
<circle cx="1341.3" cy="349.1" r="3.5" fill="url(#aH)"/>
<circle cx="1002.4" cy="206.6" r="3.5" fill="url(#aH)"/>
<circle cx="1173.7" cy="290.2" r="3.5" fill="url(#aH)"/>
<circle cx="1090.2" cy="196.2" r="3.6" fill="url(#aH)"/>
<circle cx="1185.5" cy="404.2" r="3.7" fill="url(#aH)"/>
<circle cx="1192.6" cy="359.2" r="3.6" fill="url(#aH)"/>
<circle cx="1266.0" cy="322.9" r="3.7" fill="url(#aH)"/>
<circle cx="1296.9" cy="213.1" r="3.5" fill="url(#aH)"/>
<circle cx="1353.1" cy="316.4" r="3.5" fill="url(#aH)"/>
<circle cx="1219.7" cy="339.9" r="3.5" fill="url(#aH)"/>
<circle cx="1132.3" cy="340.2" r="3.4" fill="url(#aH)"/>
<circle cx="1120.7" cy="277.6" r="3.3" fill="url(#aH)"/>
<circle cx="1082.2" cy="90.2" r="3.5" fill="url(#aH)"/>
<circle cx="1330.9" cy="270.6" r="3.5" fill="url(#aH)"/>
<circle cx="1355.7" cy="179.1" r="3.5" fill="url(#aH)"/>
<circle cx="1196.5" cy="140.2" r="3.3" fill="url(#aH)"/>
<circle cx="999.5" cy="273.8" r="3.6" fill="url(#aH)"/>
<circle cx="1237.4" cy="101.9" r="3.5" fill="url(#aH)"/>
<circle cx="1068.7" cy="308.9" r="3.8" fill="url(#aH)"/>
<circle cx="1217.1" cy="353.0" r="3.5" fill="url(#aH)"/>
<circle cx="1188.3" cy="364.8" r="3.5" fill="url(#aH)"/>
<circle cx="1269.4" cy="126.8" r="3.5" fill="url(#aH)"/>
<circle cx="1149.5" cy="407.3" r="3.5" fill="url(#aH)"/>
<circle cx="1222.3" cy="290.2" r="3.5" fill="url(#aH)"/>
<circle cx="1063.9" cy="171.3" r="3.5" fill="url(#aH)"/>
<circle cx="1285.1" cy="274.5" r="3.5" fill="url(#aH)"/>
<circle cx="1338.7" cy="342.6" r="3.5" fill="url(#aH)"/>
<circle cx="1201.4" cy="146.4" r="3.5" fill="url(#aH)"/>
<circle cx="1339.9" cy="152.5" r="3.8" fill="url(#aH)"/>
<circle cx="1209.2" cy="436.7" r="3.5" fill="url(#aH)"/>
<circle cx="1205.3" cy="269.3" r="3.5" fill="url(#aH)"/>
<circle cx="1243.1" cy="244.3" r="3.6" fill="url(#aH)"/>
<circle cx="1313.9" cy="172.6" r="3.5" fill="url(#aH)"/>
<circle cx="1326.1" cy="170.8" r="3.7" fill="url(#aH)"/>
<circle cx="1214.5" cy="449.1" r="3.5" fill="url(#aH)"/>
<circle cx="1196.2" cy="296.1" r="3.5" fill="url(#aH)"/>
<circle cx="1183.1" cy="358.3" r="3.5" fill="url(#aH)"/>
<circle cx="1087.4" cy="298.5" r="3.6" fill="url(#aH)"/>
<circle cx="1243.0" cy="342.8" r="3.4" fill="url(#aH)"/>
<circle cx="1370.1" cy="113.7" r="3.5" fill="url(#aH)"/>
<circle cx="1000.4" cy="217.7" r="3.3" fill="url(#aH)"/>
<circle cx="1228.8" cy="280.6" r="3.5" fill="url(#aH)"/>
<circle cx="1359.1" cy="93.6" r="3.8" fill="url(#aH)"/>
<circle cx="1223.0" cy="300.7" r="3.7" fill="url(#aH)"/>
<circle cx="1039.4" cy="125.8" r="3.4" fill="url(#aH)"/>
<circle cx="1152.5" cy="245.9" r="3.5" fill="url(#aH)"/>
<circle cx="1326.8" cy="303.6" r="3.5" fill="url(#aH)"/>
<circle cx="1063.9" cy="211.8" r="3.5" fill="url(#aH)"/>
<circle cx="1074.3" cy="260.2" r="3.5" fill="url(#aH)"/>
<circle cx="1018.1" cy="101.3" r="3.5" fill="url(#aH)"/>
<circle cx="1308.6" cy="347.8" r="3.5" fill="url(#aH)"/>
<circle cx="1130.6" cy="311.2" r="3.5" fill="url(#aH)"/>
<circle cx="1104.4" cy="385.7" r="3.4" fill="url(#aH)"/>
<circle cx="1270.4" cy="131.0" r="3.4" fill="url(#aH)"/>
<circle cx="1061.3" cy="319.7" r="3.5" fill="url(#aH)"/>
<circle cx="1313.9" cy="332.1" r="3.5" fill="url(#aH)"/>
<circle cx="1280.1" cy="229.5" r="3.4" fill="url(#aH)"/>
<circle cx="1039.4" cy="306.5" r="3.3" fill="url(#aH)"/>
<circle cx="1272.0" cy="279.8" r="8.5" fill="url(#aC)"/>
<circle cx="1293.3" cy="287.1" r="3.4" fill="url(#aH)"/>
<circle cx="1252.4" cy="164.7" r="3.5" fill="url(#aH)"/>
<circle cx="1186.8" cy="438.7" r="3.6" fill="url(#aH)"/>
<circle cx="1246.7" cy="109.9" r="3.4" fill="url(#aH)"/>
<circle cx="1199.2" cy="375.9" r="3.7" fill="url(#aH)"/>
<circle cx="1173.7" cy="362.2" r="3.5" fill="url(#aH)"/>
<circle cx="1177.2" cy="169.3" r="3.4" fill="url(#aH)"/>
<circle cx="1219.0" cy="423.6" r="3.5" fill="url(#aH)"/>
<circle cx="1306.0" cy="377.9" r="3.5" fill="url(#aH)"/>
<circle cx="1161.7" cy="386.4" r="3.6" fill="url(#aH)"/>
<circle cx="1267.2" cy="335.8" r="3.7" fill="url(#aH)"/>
<circle cx="1255.1" cy="183.5" r="3.5" fill="url(#aH)"/>
<circle cx="1169.8" cy="210.5" r="3.5" fill="url(#aH)"/>
<circle cx="1354.4" cy="292.2" r="3.5" fill="url(#aH)"/>
<circle cx="1177.8" cy="100.6" r="3.5" fill="url(#aH)"/>
<circle cx="1056.0" cy="154.2" r="3.5" fill="url(#aH)"/>
<circle cx="1351.1" cy="157.9" r="3.4" fill="url(#aH)"/>
<circle cx="1205.3" cy="407.3" r="3.5" fill="url(#aH)"/>
<circle cx="1063.9" cy="77.1" r="3.5" fill="url(#aH)"/>
<circle cx="1209.2" cy="328.2" r="3.5" fill="url(#aH)"/>
<circle cx="1146.7" cy="376.5" r="3.6" fill="url(#aH)"/>
<circle cx="1167.2" cy="441.3" r="3.5" fill="url(#aH)"/>
<circle cx="1263.9" cy="248.2" r="3.8" fill="url(#aH)"/>
<circle cx="1150.2" cy="173.9" r="3.5" fill="url(#aH)"/>
<circle cx="1338.7" cy="286.3" r="3.5" fill="url(#aH)"/>
<circle cx="1249.5" cy="398.2" r="3.4" fill="url(#aH)"/>
<circle cx="1042.4" cy="285.1" r="3.7" fill="url(#aH)"/>
<circle cx="1020.0" cy="230.4" r="3.4" fill="url(#aH)"/>
<circle cx="1184.4" cy="218.3" r="3.5" fill="url(#aH)"/>
<circle cx="1240.6" cy="237.9" r="3.5" fill="url(#aH)"/>
<circle cx="1240.6" cy="326.9" r="3.5" fill="url(#aH)"/>
<circle cx="1264.8" cy="437.2" r="3.7" fill="url(#aH)"/>
<circle cx="1328.3" cy="259.5" r="3.5" fill="url(#aH)"/>
<circle cx="1031.2" cy="266.7" r="3.5" fill="url(#aH)"/>
<circle cx="1177.7" cy="456.3" r="3.5" fill="url(#aH)"/>
<circle cx="1303.4" cy="317.7" r="3.5" fill="url(#aH)"/>
<circle cx="1184.8" cy="388.6" r="3.4" fill="url(#aH)"/>
<circle cx="1135.0" cy="260.1" r="3.8" fill="url(#aH)"/>
<circle cx="1186.1" cy="392.2" r="3.6" fill="url(#aH)"/>
<circle cx="1173.7" cy="175.2" r="3.5" fill="url(#aH)"/>
<circle cx="1292.9" cy="317.7" r="3.5" fill="url(#aH)"/>
<circle cx="1272.0" cy="346.5" r="3.5" fill="url(#aH)"/>
<circle cx="1308.6" cy="231.4" r="3.5" fill="url(#aH)"/>
<circle cx="1070.6" cy="91.5" r="3.8" fill="url(#aH)"/>
<circle cx="1111.6" cy="394.2" r="3.5" fill="url(#aH)"/>
<circle cx="1104.4" cy="246.4" r="3.5" fill="url(#aH)"/>
<circle cx="1092.6" cy="200.0" r="8.8" fill="url(#aC)"/>
<circle cx="1154.1" cy="138.6" r="8.8" fill="url(#aC)"/>
<circle cx="1175.0" cy="398.1" r="8.8" fill="url(#aC)"/>
<circle cx="1110.9" cy="209.2" r="3.5" fill="url(#aH)"/>
<circle cx="1323.7" cy="152.2" r="3.6" fill="url(#aH)"/>
<circle cx="1080.9" cy="228.8" r="3.5" fill="url(#aH)"/>
<circle cx="1289.0" cy="143.8" r="3.5" fill="url(#aH)"/>
<circle cx="1234.8" cy="133.0" r="3.5" fill="url(#aH)"/>
<circle cx="1233.9" cy="256.8" r="3.5" fill="url(#aH)"/>
<circle cx="1014.3" cy="341.9" r="3.8" fill="url(#aH)"/>
<circle cx="1069.4" cy="296.0" r="3.7" fill="url(#aH)"/>
<circle cx="1128.0" cy="186.9" r="3.5" fill="url(#aH)"/>
<circle cx="1126.0" cy="192.1" r="3.7" fill="url(#aH)"/>
<circle cx="1272.0" cy="256.0" r="3.4" fill="url(#aH)"/>
<circle cx="1121.8" cy="324.8" r="3.5" fill="url(#aH)"/>
<circle cx="1182.9" cy="284.6" r="3.5" fill="url(#aH)"/>
<circle cx="1190.6" cy="357.4" r="3.6" fill="url(#aH)"/>
<circle cx="1060.3" cy="147.9" r="3.5" fill="url(#aH)"/>
<circle cx="1291.8" cy="352.1" r="3.7" fill="url(#aH)"/>
<circle cx="1110.3" cy="241.6" r="3.8" fill="url(#aH)"/>
<circle cx="1363.6" cy="193.5" r="3.5" fill="url(#aH)"/>
<circle cx="1315.2" cy="181.7" r="3.5" fill="url(#aH)"/>
<circle cx="1123.8" cy="141.5" r="3.4" fill="url(#aH)"/>
<circle cx="1087.4" cy="220.9" r="3.5" fill="url(#aH)"/>
<circle cx="1057.3" cy="197.4" r="3.5" fill="url(#aH)"/>
<circle cx="1091.3" cy="167.3" r="3.5" fill="url(#aH)"/>
<circle cx="1336.4" cy="192.9" r="3.4" fill="url(#aH)"/>
<circle cx="1096.3" cy="341.5" r="3.7" fill="url(#aH)"/>
<circle cx="1333.5" cy="373.9" r="3.5" fill="url(#aH)"/>
<circle cx="1224.3" cy="257.5" r="3.5" fill="url(#aH)"/>
<circle cx="1160.6" cy="202.6" r="3.5" fill="url(#aH)"/>
<circle cx="1193.5" cy="226.2" r="3.5" fill="url(#aH)"/>
<circle cx="1071.7" cy="388.3" r="3.5" fill="url(#aH)"/>
<circle cx="1283.5" cy="229.8" r="3.4" fill="url(#aH)"/>
<circle cx="1092.6" cy="404.0" r="3.5" fill="url(#aH)"/>
<circle cx="1228.5" cy="318.0" r="3.4" fill="url(#aH)"/>
<circle cx="1219.6" cy="301.3" r="3.8" fill="url(#aH)"/>
<circle cx="1031.2" cy="137.2" r="3.5" fill="url(#aH)"/>
<circle cx="1166.8" cy="397.6" r="3.6" fill="url(#aH)"/>
<circle cx="1266.3" cy="208.2" r="3.7" fill="url(#aH)"/>
<circle cx="1357.0" cy="265.4" r="3.5" fill="url(#aH)"/>
<circle cx="1120.1" cy="112.4" r="3.5" fill="url(#aH)"/>
<circle cx="1076.2" cy="119.1" r="3.8" fill="url(#aH)"/>
<circle cx="1257.6" cy="80.4" r="3.5" fill="url(#aH)"/>
<circle cx="1270.2" cy="385.5" r="3.5" fill="url(#aH)"/>
<circle cx="1261.6" cy="315.1" r="3.5" fill="url(#aH)"/>
<circle cx="1256.3" cy="227.5" r="3.5" fill="url(#aH)"/>
<circle cx="1215.8" cy="390.9" r="3.5" fill="url(#aH)"/>
<circle cx="1193.5" cy="254.3" r="3.5" fill="url(#aH)"/>
<circle cx="1238.0" cy="159.5" r="3.5" fill="url(#aH)"/>
<circle cx="1174.5" cy="142.4" r="3.7" fill="url(#aH)"/>
<circle cx="1320.8" cy="252.7" r="3.7" fill="url(#aH)"/>
<circle cx="1240.3" cy="132.1" r="3.6" fill="url(#aH)"/>
<circle cx="1189.6" cy="184.3" r="3.5" fill="url(#aH)"/>
<circle cx="1089.7" cy="188.5" r="3.5" fill="url(#aH)"/>
<circle cx="1299.5" cy="126.8" r="3.5" fill="url(#aH)"/>
<circle cx="1146.6" cy="380.4" r="3.5" fill="url(#aH)"/>
<circle cx="1336.1" cy="304.6" r="3.5" fill="url(#aH)"/>
<circle cx="1334.7" cy="185.7" r="3.7" fill="url(#aH)"/>
<circle cx="1282.2" cy="430.2" r="3.6" fill="url(#aH)"/>
<circle cx="1179.2" cy="419.7" r="3.5" fill="url(#aH)"/>
<circle cx="1218.4" cy="186.9" r="3.5" fill="url(#aH)"/>
<circle cx="1230.3" cy="427.8" r="3.6" fill="url(#aH)"/>
<circle cx="1168.9" cy="378.6" r="3.8" fill="url(#aH)"/>
<circle cx="1109.6" cy="82.3" r="5.2" fill="url(#aP)"/>
<circle cx="1307.3" cy="196.1" r="2.9" fill="url(#aS)"/>
<circle cx="1323.0" cy="200.0" r="3.9" fill="url(#aS)"/>
<circle cx="1134.5" cy="273.2" r="5.9" fill="url(#aS)"/>
<circle cx="1086.1" cy="276.5" r="6.5" fill="url(#aS)"/>
<circle cx="1278.6" cy="313.8" r="6.5" fill="url(#aS)"/>
<circle cx="1287.7" cy="364.8" r="6.5" fill="url(#aS)"/>
<circle cx="1242.6" cy="369.4" r="7.2" fill="url(#aS)"/>
<circle cx="1152.8" cy="107.2" r="7.8" fill="url(#aS)"/>
<circle cx="1133.2" cy="149.0" r="7.8" fill="url(#aS)"/>
<circle cx="1315.2" cy="206.6" r="4.6" fill="url(#aN)"/>
<circle cx="1156.7" cy="183.7" r="5.2" fill="url(#aN)"/>
<circle cx="1109.6" cy="263.4" r="5.2" fill="url(#aN)"/>
<circle cx="1262.9" cy="303.3" r="5.2" fill="url(#aN)"/>
<circle cx="1270.1" cy="378.5" r="5.9" fill="url(#aN)"/>
<circle cx="1204.7" cy="65.3" r="2.4" fill="url(#aO)"/>
<circle cx="1176.3" cy="281.1" r="2.6" fill="url(#aO)"/>
<circle cx="1236.7" cy="332.1" r="2.6" fill="url(#aO)"/>
<circle cx="1317.8" cy="360.9" r="2.6" fill="url(#aO)"/>
<circle cx="1355.7" cy="155.6" r="2.9" fill="url(#aO)"/>
<circle cx="1341.3" cy="151.6" r="2.9" fill="url(#aO)"/>
<circle cx="1359.6" cy="139.9" r="3.3" fill="url(#aO)"/>
<circle cx="1170.0" cy="332.1" r="3.3" fill="url(#aO)"/>
<circle cx="1170.0" cy="438.0" r="3.3" fill="url(#aO)"/>
<circle cx="1269.4" cy="209.2" r="3.9" fill="url(#aO)"/>
<circle cx="1170.0" cy="162.1" r="3.9" fill="url(#aO)"/>
<circle cx="1069.1" cy="221.6" r="3.9" fill="url(#aO)"/>
<circle cx="1105.7" cy="300.7" r="3.9" fill="url(#aO)"/>
<circle cx="1338.7" cy="298.1" r="3.9" fill="url(#aO)"/>
<circle cx="1139.7" cy="147.7" r="4.6" fill="url(#aO)"/>
<circle cx="1283.8" cy="192.2" r="4.6" fill="url(#aO)"/>
<circle cx="1264.2" cy="261.5" r="4.6" fill="url(#aO)"/>
<circle cx="1326.9" cy="298.1" r="4.6" fill="url(#aO)"/>
<circle cx="1296.9" cy="358.3" r="4.6" fill="url(#aO)"/>
<circle cx="1194.2" cy="373.9" r="4.6" fill="url(#aO)"/>
<circle cx="1093.9" cy="112.4" r="5.0" fill="url(#aO)"/>
<circle cx="1150.2" cy="308.6" r="5.0" fill="url(#aO)"/>
<circle cx="1337.4" cy="311.2" r="5.0" fill="url(#aO)"/>
<circle cx="1092.0" cy="177.8" r="5.2" fill="url(#aO)"/>
<circle cx="1287.1" cy="87.5" r="5.2" fill="url(#aO)"/>
<circle cx="1213.8" cy="154.9" r="5.2" fill="url(#aO)"/>
<circle cx="1326.9" cy="186.3" r="5.2" fill="url(#aO)"/>
<circle cx="1336.1" cy="206.6" r="5.2" fill="url(#aO)"/>
<circle cx="1313.9" cy="222.3" r="5.2" fill="url(#aO)"/>
<circle cx="1138.4" cy="251.7" r="5.2" fill="url(#aO)"/>
<circle cx="1165.9" cy="335.4" r="5.2" fill="url(#aO)"/>
<circle cx="1150.2" cy="350.4" r="5.2" fill="url(#aO)"/>
<circle cx="1151.5" cy="393.6" r="5.2" fill="url(#aO)"/>
<circle cx="1333.5" cy="253.6" r="5.2" fill="url(#aO)"/>
<circle cx="1275.9" cy="298.7" r="5.2" fill="url(#aO)"/>
<circle cx="1300.8" cy="309.9" r="5.2" fill="url(#aO)"/>
<circle cx="1326.9" cy="304.6" r="5.2" fill="url(#aO)"/>
<circle cx="1286.4" cy="334.7" r="5.2" fill="url(#aO)"/>
<circle cx="1282.5" cy="362.2" r="5.2" fill="url(#aO)"/>
<circle cx="1077.6" cy="171.9" r="5.5" fill="url(#aO)"/>
<circle cx="1198.1" cy="61.4" r="5.5" fill="url(#aO)"/>
<circle cx="1324.3" cy="100.6" r="5.5" fill="url(#aO)"/>
<circle cx="1020.1" cy="266.0" r="5.5" fill="url(#aO)"/>
<circle cx="1142.3" cy="117.0" r="5.9" fill="url(#aO)"/>
<circle cx="1124.7" cy="154.2" r="5.9" fill="url(#aO)"/>
<circle cx="1078.9" cy="305.9" r="5.9" fill="url(#aO)"/>
<circle cx="1110.9" cy="378.5" r="5.9" fill="url(#aO)"/>
<circle cx="1118.1" cy="382.4" r="5.9" fill="url(#aO)"/>
<circle cx="1165.9" cy="446.5" r="5.9" fill="url(#aO)"/>
<circle cx="1264.8" cy="400.7" r="5.9" fill="url(#aO)"/>
<circle cx="1050.8" cy="99.3" r="6.3" fill="url(#aO)"/>
<circle cx="1221.0" cy="168.6" r="6.3" fill="url(#aO)"/>
<circle cx="1241.9" cy="343.9" r="6.3" fill="url(#aO)"/>
<circle cx="1133.2" cy="92.8" r="6.5" fill="url(#aO)"/>
<circle cx="1217.1" cy="120.2" r="6.5" fill="url(#aO)"/>
<circle cx="1259.6" cy="137.2" r="6.5" fill="url(#aO)"/>
<circle cx="1302.1" cy="150.3" r="6.5" fill="url(#aO)"/>
<circle cx="1222.3" cy="213.1" r="6.5" fill="url(#aO)"/>
<circle cx="1029.9" cy="241.9" r="6.5" fill="url(#aO)"/>
<circle cx="1092.6" cy="281.7" r="6.5" fill="url(#aO)"/>
<circle cx="1135.8" cy="298.1" r="6.5" fill="url(#aO)"/>
<circle cx="1090.7" cy="300.7" r="6.5" fill="url(#aO)"/>
<circle cx="1224.9" cy="232.0" r="6.5" fill="url(#aO)"/>
<circle cx="1304.7" cy="242.5" r="6.5" fill="url(#aO)"/>
<circle cx="1278.6" cy="336.0" r="6.5" fill="url(#aO)"/>
<circle cx="1114.2" cy="132.0" r="6.8" fill="url(#aO)"/>
<circle cx="1004.4" cy="319.0" r="6.8" fill="url(#aO)"/>
<circle cx="1164.6" cy="160.8" r="7.2" fill="url(#aO)"/>
<circle cx="1353.1" cy="146.4" r="7.2" fill="url(#aO)"/>
<circle cx="1279.9" cy="218.3" r="7.2" fill="url(#aO)"/>
<circle cx="1123.4" cy="283.7" r="7.2" fill="url(#aO)"/>
<circle cx="1243.9" cy="295.5" r="7.2" fill="url(#aO)"/>
<circle cx="1248.5" cy="427.5" r="7.2" fill="url(#aO)"/>
<circle cx="1151.5" cy="398.1" r="7.6" fill="url(#aO)"/>
<circle cx="1249.8" cy="261.5" r="7.8" fill="url(#aO)"/>
<circle cx="1187.0" cy="279.8" r="7.8" fill="url(#aO)"/>
<circle cx="1253.7" cy="269.3" r="2.6" fill="url(#aF)"/>
<circle cx="1295.6" cy="192.2" r="5.2" fill="url(#aF)"/>
<circle cx="1333.5" cy="222.3" r="5.2" fill="url(#aF)"/>
<circle cx="1134.1" cy="57.9" r="5.5" fill="url(#aF)"/>
<circle cx="1138.7" cy="79.4" r="5.5" fill="url(#aF)"/>
<circle cx="1135.8" cy="175.2" r="5.5" fill="url(#aF)"/>
<circle cx="1175.0" cy="88.9" r="6.3" fill="url(#aF)"/>
<circle cx="1061.9" cy="267.4" r="6.3" fill="url(#aF)"/>
<circle cx="1318.4" cy="370.0" r="6.3" fill="url(#aF)"/>
<circle cx="1221.7" cy="383.1" r="6.3" fill="url(#aF)"/>
<circle cx="1246.5" cy="324.2" r="6.5" fill="url(#aL)"/>
<circle cx="1278.6" cy="393.6" r="7.8" fill="url(#aL)"/>
<circle cx="1322.4" cy="233.4" r="8.9" fill="url(#aL)"/>
<circle cx="1108.3" cy="232.7" r="9.4" fill="url(#aL)"/>
<circle cx="1185.0" cy="134.0" r="9.8" fill="url(#aL)"/>
<circle cx="1277.9" cy="398.8" r="10.2" fill="url(#aL)"/>
<path d="M946.6 98.4L1306.7 137.2M1283.5 506.7L983.7 420.0M983.7 420.0L946.6 98.4M1390.8 66.4L1306.7 137.2M1363.3 341.3L1283.5 506.7" stroke="#000" stroke-width="1.2" fill="none" stroke-linecap="round"/>
<path d="M1306.7 137.2L1283.5 506.7" stroke="#000" stroke-width="1.6" fill="none" stroke-linecap="round"/>
<path d="M1674.2 44.6L1682.5 291.6M1682.5 291.6L1536.9 417.3M1682.5 291.6L1917.0 340.0" stroke="#222" stroke-width="1.0" fill="none" stroke-linecap="round"/>
<path d="M1674.2 44.6L1943.2 65.1M1943.2 65.1L1917.0 340.0M1500.0 98.7L1674.2 44.6" stroke="#111" stroke-width="1.1" fill="none" stroke-linecap="round"/>
<path d="M1616.8 101.9L1616.0 87.5M1649.3 87.8L1653.9 81.0M1678.5 101.1L1684.0 94.1M1646.8 107.8L1640.9 96.7M1613.4 106.2L1598.4 103.2M1613.6 124.1L1613.4 115.0M1614.2 110.8L1601.6 118.9M1651.9 118.4L1661.8 107.2M1674.2 135.1L1673.6 125.5M1653.4 143.3L1661.8 130.7M1680.0 135.7L1670.9 134.6M1716.3 140.0L1716.7 132.0M1711.1 154.1L1699.7 145.1M1597.8 150.4L1585.9 143.8M1723.1 126.1L1731.1 113.7M1640.2 175.0L1627.8 172.6M1663.9 174.2L1648.7 177.8M1612.6 198.5L1612.1 183.0M1643.3 204.6L1630.4 198.7M1640.9 216.0L1634.3 202.6M1703.0 180.3L1691.9 173.9M1706.7 173.5L1715.4 164.7M1730.0 192.8L1722.0 189.6M1584.7 217.1L1584.0 207.9M1709.9 211.0L1701.0 206.6M1731.1 225.3L1723.3 217.0M1658.7 210.1L1644.8 205.3M1724.6 146.8L1736.3 141.2M1751.9 96.7L1750.9 87.5M1794.5 96.6L1798.0 81.0M1781.3 108.7L1784.9 95.4M1790.6 109.8L1791.5 100.6M1823.1 126.3L1829.4 117.6M1835.4 122.9L1850.3 121.6M1866.9 104.7L1880.4 103.9M1881.3 106.5L1886.9 94.1M1887.8 110.8L1901.3 111.1M1837.1 137.9L1843.8 133.3M1849.5 136.6L1860.8 133.3M1809.5 141.2L1820.2 139.9M1779.8 138.9L1790.2 135.9M1838.2 139.6L1851.6 147.7M1877.7 167.5L1879.8 152.9M1773.5 163.2L1784.9 155.6M1769.2 166.6L1781.0 162.1M1760.5 172.0L1769.2 160.8M1760.4 169.1L1752.2 164.7M1778.0 186.9L1774.5 173.9M1754.4 190.1L1756.2 180.4M1865.9 177.7L1871.3 169.9M1830.8 189.4L1839.9 183.0M1857.1 206.6L1864.7 193.5M1750.3 200.2L1745.0 190.2M1799.6 202.8L1804.5 196.1M1824.2 207.8L1834.6 205.3M1755.8 223.9L1761.4 210.5M1879.5 215.7L1884.3 203.9M1785.1 232.0L1796.7 222.3M1563.3 235.4L1550.6 232.7M1567.0 241.0L1561.7 231.4M1645.8 201.6L1630.4 205.2M1617.1 269.1L1607.5 281.7M1658.4 251.4L1646.1 261.5M1628.7 285.7L1620.6 289.6M1655.2 274.4L1647.4 286.3M1663.7 271.6L1653.9 274.5M1641.0 287.5L1636.9 296.8M1580.7 292.7L1568.9 292.9M1597.8 298.0L1589.2 295.5M1634.6 311.3L1625.2 316.4M1660.2 308.6L1652.6 316.4M1637.5 296.1L1639.6 305.9M1694.9 239.4L1694.5 253.6M1683.1 235.1L1673.6 226.2M1727.6 233.2L1712.8 234.0M1734.2 253.0L1725.9 251.0M1699.8 261.5L1691.9 268.0M1722.1 272.5L1716.7 283.7M1699.7 284.7L1703.6 296.8M1695.8 271.8L1694.5 286.3M1686.5 294.7L1694.5 305.9M1674.5 340.5L1684.0 351.7M1732.8 348.9L1719.3 351.7M1707.5 367.2L1698.4 368.7M1626.6 340.1L1627.8 353.0M1654.1 350.8L1651.3 358.9M1656.6 365.7L1642.2 370.0M1619.4 362.9L1616.0 375.3M1628.6 380.0L1635.6 391.6M1741.8 238.1L1736.3 252.3M1730.4 267.6L1736.3 278.5M1776.8 228.5L1785.6 226.2M1777.6 232.9L1785.6 237.9M1815.5 246.8L1820.9 234.7M1799.2 244.3L1808.5 247.7M1823.5 260.4L1837.2 256.2M1838.1 275.2L1843.8 268.0M1807.8 275.4L1816.3 272.6M1757.1 248.5L1756.2 257.5M1748.6 264.3L1758.8 267.4M1769.7 263.9L1778.4 266.7M1752.2 268.2L1745.0 277.2M1746.0 277.9L1743.7 290.2M1787.4 298.8L1795.4 296.8M1787.4 287.1L1783.0 298.1M1801.5 294.4L1813.7 303.3M1759.7 296.6L1763.4 304.6M1785.7 307.4L1794.7 313.8M1759.4 309.5L1767.9 315.1M1800.2 328.9L1811.7 331.4M1795.7 331.7L1786.9 341.9M1815.6 349.7L1810.4 356.9M1817.6 353.6L1818.9 367.4M1866.2 247.9L1869.3 238.6M1873.8 241.7L1876.5 252.3M1867.5 271.2L1880.4 266.0M1859.6 283.0L1871.9 277.8M1842.5 276.4L1858.2 278.5M1892.1 266.7L1898.7 275.9M1902.2 290.5L1901.3 302.7M1859.5 320.0L1871.9 311.2M1864.8 333.9L1873.2 333.4M1846.9 341.7L1858.2 342.6M1854.8 357.2L1868.6 349.8M1779.7 372.1L1786.2 382.4M1737.5 380.5L1748.3 386.4M1819.4 381.0L1815.0 389.6M1762.8 376.0L1765.3 388.3M1738.3 232.0L1753.5 232.7M1848.0 331.5L1847.7 341.3M1680.3 413.8L1690.6 423.6M1710.3 417.8L1716.7 423.6M1682.8 423.5L1681.4 436.0M1724.3 436.4L1719.3 443.2M1689.6 366.4L1689.3 375.2M1768.2 385.4L1762.0 396.2M1786.1 380.7L1781.0 392.2M1789.4 385.9L1787.5 401.4M1817.2 400.6L1830.1 407.3M1835.1 420.5L1844.4 419.7M1747.2 395.2L1752.2 402.0" stroke="#a4a4a4" stroke-width="3.6" stroke-linecap="round" fill="none"/>
<circle cx="1616.8" cy="101.9" r="6.3" fill="url(#aC)"/>
<circle cx="1649.3" cy="87.8" r="5.5" fill="url(#aC)"/>
<circle cx="1678.5" cy="101.1" r="5.6" fill="url(#aC)"/>
<circle cx="1646.8" cy="107.8" r="4.8" fill="url(#aC)"/>
<circle cx="1613.4" cy="106.2" r="6.0" fill="url(#aC)"/>
<circle cx="1613.6" cy="124.1" r="5.8" fill="url(#aC)"/>
<circle cx="1614.2" cy="110.8" r="5.1" fill="url(#aC)"/>
<circle cx="1651.9" cy="118.4" r="5.3" fill="url(#aC)"/>
<circle cx="1674.2" cy="135.1" r="6.3" fill="url(#aC)"/>
<circle cx="1653.4" cy="143.3" r="5.3" fill="url(#aC)"/>
<circle cx="1680.0" cy="135.7" r="4.9" fill="url(#aC)"/>
<circle cx="1716.3" cy="140.0" r="5.9" fill="url(#aC)"/>
<circle cx="1711.1" cy="154.1" r="5.6" fill="url(#aC)"/>
<circle cx="1597.8" cy="150.4" r="4.9" fill="url(#aC)"/>
<circle cx="1723.1" cy="126.1" r="4.8" fill="url(#aC)"/>
<circle cx="1640.2" cy="175.0" r="4.8" fill="url(#aC)"/>
<circle cx="1663.9" cy="174.2" r="5.1" fill="url(#aC)"/>
<circle cx="1612.6" cy="198.5" r="5.4" fill="url(#aC)"/>
<circle cx="1643.3" cy="204.6" r="5.0" fill="url(#aC)"/>
<circle cx="1640.9" cy="216.0" r="4.9" fill="url(#aC)"/>
<circle cx="1703.0" cy="180.3" r="6.3" fill="url(#aC)"/>
<circle cx="1706.7" cy="173.5" r="5.3" fill="url(#aC)"/>
<circle cx="1730.0" cy="192.8" r="5.0" fill="url(#aC)"/>
<circle cx="1584.7" cy="217.1" r="4.9" fill="url(#aC)"/>
<circle cx="1709.9" cy="211.0" r="5.8" fill="url(#aC)"/>
<circle cx="1731.1" cy="225.3" r="4.9" fill="url(#aC)"/>
<circle cx="1658.7" cy="210.1" r="5.0" fill="url(#aC)"/>
<circle cx="1724.6" cy="146.8" r="6.1" fill="url(#aC)"/>
<circle cx="1751.9" cy="96.7" r="6.2" fill="url(#aC)"/>
<circle cx="1794.5" cy="96.6" r="6.2" fill="url(#aC)"/>
<circle cx="1781.3" cy="108.7" r="5.6" fill="url(#aC)"/>
<circle cx="1790.6" cy="109.8" r="5.4" fill="url(#aC)"/>
<circle cx="1823.1" cy="126.3" r="4.9" fill="url(#aC)"/>
<circle cx="1835.4" cy="122.9" r="5.4" fill="url(#aC)"/>
<circle cx="1866.9" cy="104.7" r="5.9" fill="url(#aC)"/>
<circle cx="1881.3" cy="106.5" r="5.2" fill="url(#aC)"/>
<circle cx="1887.8" cy="110.8" r="5.3" fill="url(#aC)"/>
<circle cx="1837.1" cy="137.9" r="5.7" fill="url(#aC)"/>
<circle cx="1849.5" cy="136.6" r="6.1" fill="url(#aC)"/>
<circle cx="1809.5" cy="141.2" r="5.8" fill="url(#aC)"/>
<circle cx="1779.8" cy="138.9" r="6.1" fill="url(#aC)"/>
<circle cx="1838.2" cy="139.6" r="5.6" fill="url(#aC)"/>
<circle cx="1877.7" cy="167.5" r="6.3" fill="url(#aC)"/>
<circle cx="1773.5" cy="163.2" r="6.0" fill="url(#aC)"/>
<circle cx="1769.2" cy="166.6" r="5.9" fill="url(#aC)"/>
<circle cx="1760.5" cy="172.0" r="5.8" fill="url(#aC)"/>
<circle cx="1760.4" cy="169.1" r="5.5" fill="url(#aC)"/>
<circle cx="1778.0" cy="186.9" r="5.8" fill="url(#aC)"/>
<circle cx="1754.4" cy="190.1" r="4.9" fill="url(#aC)"/>
<circle cx="1865.9" cy="177.7" r="5.1" fill="url(#aC)"/>
<circle cx="1830.8" cy="189.4" r="5.8" fill="url(#aC)"/>
<circle cx="1857.1" cy="206.6" r="4.8" fill="url(#aC)"/>
<circle cx="1750.3" cy="200.2" r="5.0" fill="url(#aC)"/>
<circle cx="1799.6" cy="202.8" r="5.8" fill="url(#aC)"/>
<circle cx="1824.2" cy="207.8" r="5.7" fill="url(#aC)"/>
<circle cx="1755.8" cy="223.9" r="5.8" fill="url(#aC)"/>
<circle cx="1879.5" cy="215.7" r="5.7" fill="url(#aC)"/>
<circle cx="1785.1" cy="232.0" r="4.8" fill="url(#aC)"/>
<circle cx="1563.3" cy="235.4" r="5.0" fill="url(#aC)"/>
<circle cx="1567.0" cy="241.0" r="5.5" fill="url(#aC)"/>
<circle cx="1645.8" cy="201.6" r="5.4" fill="url(#aC)"/>
<circle cx="1617.1" cy="269.1" r="5.6" fill="url(#aC)"/>
<circle cx="1658.4" cy="251.4" r="5.6" fill="url(#aC)"/>
<circle cx="1628.7" cy="285.7" r="5.8" fill="url(#aC)"/>
<circle cx="1655.2" cy="274.4" r="6.1" fill="url(#aC)"/>
<circle cx="1663.7" cy="271.6" r="6.3" fill="url(#aC)"/>
<circle cx="1641.0" cy="287.5" r="5.0" fill="url(#aC)"/>
<circle cx="1580.7" cy="292.7" r="5.8" fill="url(#aC)"/>
<circle cx="1597.8" cy="298.0" r="6.0" fill="url(#aC)"/>
<circle cx="1634.6" cy="311.3" r="5.3" fill="url(#aC)"/>
<circle cx="1660.2" cy="308.6" r="6.0" fill="url(#aC)"/>
<circle cx="1637.5" cy="296.1" r="5.5" fill="url(#aC)"/>
<circle cx="1694.9" cy="239.4" r="5.5" fill="url(#aC)"/>
<circle cx="1683.1" cy="235.1" r="5.6" fill="url(#aC)"/>
<circle cx="1727.6" cy="233.2" r="5.1" fill="url(#aC)"/>
<circle cx="1734.2" cy="253.0" r="6.1" fill="url(#aC)"/>
<circle cx="1699.8" cy="261.5" r="6.0" fill="url(#aC)"/>
<circle cx="1722.1" cy="272.5" r="5.6" fill="url(#aC)"/>
<circle cx="1699.7" cy="284.7" r="6.1" fill="url(#aC)"/>
<circle cx="1695.8" cy="271.8" r="6.1" fill="url(#aC)"/>
<circle cx="1686.5" cy="294.7" r="6.4" fill="url(#aC)"/>
<circle cx="1674.5" cy="340.5" r="5.2" fill="url(#aC)"/>
<circle cx="1732.8" cy="348.9" r="5.0" fill="url(#aC)"/>
<circle cx="1707.5" cy="367.2" r="5.8" fill="url(#aC)"/>
<circle cx="1626.6" cy="340.1" r="4.9" fill="url(#aC)"/>
<circle cx="1654.1" cy="350.8" r="4.9" fill="url(#aC)"/>
<circle cx="1656.6" cy="365.7" r="5.0" fill="url(#aC)"/>
<circle cx="1619.4" cy="362.9" r="5.6" fill="url(#aC)"/>
<circle cx="1628.6" cy="380.0" r="5.0" fill="url(#aC)"/>
<circle cx="1741.8" cy="238.1" r="5.7" fill="url(#aC)"/>
<circle cx="1730.4" cy="267.6" r="5.2" fill="url(#aC)"/>
<circle cx="1776.8" cy="228.5" r="5.2" fill="url(#aC)"/>
<circle cx="1777.6" cy="232.9" r="5.9" fill="url(#aC)"/>
<circle cx="1815.5" cy="246.8" r="4.9" fill="url(#aC)"/>
<circle cx="1799.2" cy="244.3" r="6.2" fill="url(#aC)"/>
<circle cx="1823.5" cy="260.4" r="4.8" fill="url(#aC)"/>
<circle cx="1838.1" cy="275.2" r="6.3" fill="url(#aC)"/>
<circle cx="1807.8" cy="275.4" r="6.4" fill="url(#aC)"/>
<circle cx="1757.1" cy="248.5" r="5.8" fill="url(#aC)"/>
<circle cx="1748.6" cy="264.3" r="5.8" fill="url(#aC)"/>
<circle cx="1769.7" cy="263.9" r="6.1" fill="url(#aC)"/>
<circle cx="1752.2" cy="268.2" r="6.2" fill="url(#aC)"/>
<circle cx="1746.0" cy="277.9" r="6.0" fill="url(#aC)"/>
<circle cx="1787.4" cy="298.8" r="5.1" fill="url(#aC)"/>
<circle cx="1787.4" cy="287.1" r="6.0" fill="url(#aC)"/>
<circle cx="1801.5" cy="294.4" r="5.8" fill="url(#aC)"/>
<circle cx="1759.7" cy="296.6" r="5.0" fill="url(#aC)"/>
<circle cx="1785.7" cy="307.4" r="6.2" fill="url(#aC)"/>
<circle cx="1759.4" cy="309.5" r="5.1" fill="url(#aC)"/>
<circle cx="1800.2" cy="328.9" r="4.9" fill="url(#aC)"/>
<circle cx="1795.7" cy="331.7" r="5.9" fill="url(#aC)"/>
<circle cx="1815.6" cy="349.7" r="5.9" fill="url(#aC)"/>
<circle cx="1817.6" cy="353.6" r="5.1" fill="url(#aC)"/>
<circle cx="1866.2" cy="247.9" r="4.9" fill="url(#aC)"/>
<circle cx="1873.8" cy="241.7" r="5.3" fill="url(#aC)"/>
<circle cx="1867.5" cy="271.2" r="5.9" fill="url(#aC)"/>
<circle cx="1859.6" cy="283.0" r="6.3" fill="url(#aC)"/>
<circle cx="1842.5" cy="276.4" r="4.8" fill="url(#aC)"/>
<circle cx="1892.1" cy="266.7" r="4.9" fill="url(#aC)"/>
<circle cx="1902.2" cy="290.5" r="5.4" fill="url(#aC)"/>
<circle cx="1859.5" cy="320.0" r="5.6" fill="url(#aC)"/>
<circle cx="1864.8" cy="333.9" r="5.4" fill="url(#aC)"/>
<circle cx="1846.9" cy="341.7" r="5.3" fill="url(#aC)"/>
<circle cx="1854.8" cy="357.2" r="5.1" fill="url(#aC)"/>
<circle cx="1779.7" cy="372.1" r="4.9" fill="url(#aC)"/>
<circle cx="1737.5" cy="380.5" r="6.3" fill="url(#aC)"/>
<circle cx="1819.4" cy="381.0" r="4.8" fill="url(#aC)"/>
<circle cx="1762.8" cy="376.0" r="5.4" fill="url(#aC)"/>
<circle cx="1738.3" cy="232.0" r="5.3" fill="url(#aC)"/>
<circle cx="1848.0" cy="331.5" r="5.0" fill="url(#aC)"/>
<circle cx="1680.3" cy="413.8" r="6.1" fill="url(#aC)"/>
<circle cx="1710.3" cy="417.8" r="5.2" fill="url(#aC)"/>
<circle cx="1682.8" cy="423.5" r="5.2" fill="url(#aC)"/>
<circle cx="1724.3" cy="436.4" r="5.1" fill="url(#aC)"/>
<circle cx="1689.6" cy="366.4" r="5.5" fill="url(#aC)"/>
<circle cx="1768.2" cy="385.4" r="6.2" fill="url(#aC)"/>
<circle cx="1786.1" cy="380.7" r="5.5" fill="url(#aC)"/>
<circle cx="1789.4" cy="385.9" r="6.0" fill="url(#aC)"/>
<circle cx="1817.2" cy="400.6" r="5.4" fill="url(#aC)"/>
<circle cx="1835.1" cy="420.5" r="5.2" fill="url(#aC)"/>
<circle cx="1747.2" cy="395.2" r="6.0" fill="url(#aC)"/>
<path d="M1667.0 73.2L1660.5 77.1M1667.0 73.2L1669.3 80.4M1625.2 89.5L1620.6 88.5M1625.2 89.5L1633.0 93.1M1599.7 138.6L1600.7 128.7M1599.7 138.6L1592.8 141.2M1699.7 130.7L1698.4 122.2M1699.7 130.7L1708.2 131.4M1699.7 130.7L1699.7 137.9M1681.4 145.7L1676.2 140.2M1681.4 145.7L1690.6 145.4M1636.3 153.6L1632.7 155.2M1636.3 153.6L1632.0 163.1M1636.3 153.6L1642.5 165.7M1616.0 173.9L1621.9 173.2M1616.0 173.9L1614.1 178.4M1636.9 184.3L1632.4 178.4M1636.9 184.3L1642.8 181.1M1694.5 183.0L1685.3 182.4M1694.5 183.0L1693.2 178.4M1694.5 183.0L1700.4 181.7M1648.7 200.7L1641.5 201.7M1648.7 200.7L1646.8 203.0M1618.6 205.9L1624.5 202.3M1618.6 205.9L1624.5 205.6M1681.4 215.7L1691.2 211.1M1681.4 215.7L1677.5 220.9M1681.4 215.7L1686.6 219.6M1584.0 222.3L1584.0 215.1M1584.0 222.3L1573.2 217.7M1736.3 104.5L1735.7 94.7M1736.3 104.5L1733.7 109.1M1736.3 104.5L1741.7 104.5M1733.7 154.2L1724.6 159.5M1733.7 154.2L1735.0 147.7M1732.4 209.2L1727.2 199.4M1732.4 209.2L1727.8 213.1M1732.4 209.2L1737.1 211.1M1684.0 134.6L1678.8 130.1M1684.0 134.6L1677.5 134.6M1643.5 190.9L1646.1 184.3M1643.5 190.9L1644.1 198.1M1779.0 113.0L1782.0 104.2M1779.0 113.0L1785.3 106.8M1755.5 126.1L1751.3 115.3M1755.5 126.1L1759.8 131.7M1780.4 137.2L1785.3 136.6M1780.4 137.2L1772.2 137.2M1801.3 137.2L1800.3 128.1M1801.3 137.2L1810.8 138.6M1801.3 137.2L1795.7 136.6M1901.3 130.7L1901.3 120.9M1901.3 130.7L1898.7 126.1M1877.8 146.4L1869.3 139.9M1877.8 146.4L1878.8 149.7M1834.6 158.2L1838.9 161.8M1834.6 158.2L1827.4 149.0M1834.6 158.2L1843.1 152.9M1863.4 166.0L1871.6 159.5M1863.4 166.0L1867.3 168.0M1743.1 177.8L1747.7 171.3M1743.1 177.8L1749.6 179.1M1743.1 177.8L1744.1 184.0M1835.9 175.2L1839.5 170.3M1835.9 175.2L1837.9 179.1M1824.2 190.9L1832.0 186.9M1824.2 190.9L1829.4 198.1M1826.8 200.0L1833.3 191.5M1826.8 200.0L1830.7 202.6M1873.9 192.2L1869.3 192.8M1873.9 192.2L1879.1 198.1M1869.9 204.6L1867.3 199.0M1869.9 204.6L1877.1 204.3M1841.8 215.7L1844.8 211.8M1841.8 215.7L1838.2 210.5M1824.2 222.3L1829.4 213.8M1824.2 222.3L1822.5 228.5M1784.9 215.7L1790.8 219.0M1784.9 215.7L1785.3 220.9M1628.4 247.7L1619.6 255.9M1628.4 247.7L1637.3 254.6M1577.4 279.1L1573.2 286.0M1577.4 279.1L1583.3 287.3M1638.9 329.5L1632.0 322.9M1638.9 329.5L1645.8 322.9M1723.3 274.5L1720.6 269.3M1723.3 274.5L1720.0 279.1M1722.0 298.7L1719.3 291.2M1722.0 298.7L1712.8 297.8M1718.0 331.4L1706.3 329.8M1718.0 331.4L1718.7 341.6M1655.9 381.1L1653.6 370.0M1655.9 381.1L1649.0 375.6M1636.9 385.7L1639.6 377.9M1636.9 385.7L1626.5 380.5M1636.9 385.7L1636.3 388.7M1695.8 236.6L1695.1 245.1M1695.8 236.6L1693.8 230.1M1695.8 236.6L1704.3 235.3M1736.3 299.4L1736.3 288.9M1736.3 299.4L1740.0 294.8M1684.0 358.3L1684.0 355.0M1684.0 358.3L1691.2 363.5M1684.0 358.3L1686.6 366.7M1710.2 305.9L1706.9 301.4M1710.2 305.9L1702.3 305.9M1741.8 327.5L1738.4 323.9M1730.0 277.2L1723.4 280.4M1653.9 371.3L1652.6 365.1M1653.9 371.3L1648.1 370.7M1746.3 269.3L1741.3 260.8M1730.0 277.2L1733.2 277.8M1797.4 265.4L1806.8 269.0M1797.4 265.4L1787.9 266.0M1781.7 287.6L1788.5 292.2M1781.7 287.6L1782.3 292.9M1839.9 294.2L1837.2 294.2M1839.9 294.2L1841.8 281.1M1839.9 294.2L1849.0 286.3M1882.4 296.1L1890.5 286.0M1882.4 296.1L1891.8 299.4M1882.4 296.1L1877.1 303.6M1822.2 313.1L1818.0 308.2M1822.2 313.1L1817.0 322.3M1746.3 269.3L1751.3 263.4M1746.3 269.3L1752.6 268.3M1746.3 269.3L1745.7 273.2M1757.5 325.6L1760.4 315.1M1757.5 325.6L1762.7 320.3M1779.0 328.8L1773.5 322.0M1779.0 328.8L1783.0 335.4M1761.4 351.1L1774.1 346.5M1846.4 356.9L1852.3 349.8M1846.4 356.9L1847.1 349.1M1826.1 383.8L1822.5 375.6M1826.1 383.8L1820.6 386.7M1864.7 273.2L1868.3 275.5M1864.7 273.2L1861.4 275.9M1851.0 254.9L1844.1 255.6M1851.0 254.9L1847.4 261.5M1757.5 313.8L1760.4 309.2M1757.5 313.8L1762.7 314.4M1824.2 260.2L1828.1 262.8M1824.2 260.2L1816.3 253.9M1824.2 260.2L1830.7 258.2M1824.2 260.2L1820.2 266.4M1697.1 452.4L1689.3 444.2M1697.1 452.4L1708.2 447.8M1784.3 407.9L1782.6 400.1M1784.3 407.9L1785.9 404.7M1699.7 130.7L1703.6 133.0M1599.7 138.6L1606.2 141.8M1616.0 173.9L1616.7 166.7M1636.3 153.6L1641.2 155.9M1616.0 173.9L1612.1 174.5M1618.6 205.9L1619.9 203.0M1618.6 205.9L1616.0 212.4M1648.7 200.7L1653.3 204.3M1648.7 200.7L1655.9 205.6M1694.5 183.0L1697.1 186.3M1732.4 209.2L1732.4 205.9M1681.4 215.7L1683.4 213.8M1733.7 154.2L1729.1 151.6M1779.0 113.0L1776.8 116.6M1901.3 130.7L1895.4 132.7M1901.3 130.7L1896.8 135.3M1801.3 137.2L1804.9 139.2M1780.4 137.2L1776.8 140.5M1869.9 204.6L1864.7 207.5M1826.8 200.0L1828.1 198.7M1655.9 381.1L1660.8 378.2M1684.0 358.3L1686.0 359.6M1864.7 273.2L1866.7 268.0M1781.7 287.6L1784.9 282.4M1839.9 294.2L1832.7 290.9M1882.4 296.1L1884.7 292.2M1757.5 313.8L1753.5 310.2M1757.5 325.6L1753.5 323.6M1761.4 351.1L1766.6 349.8M1761.4 351.1L1756.8 356.6M1846.4 356.9L1852.0 357.6M1761.4 351.1L1759.1 360.2M1826.1 383.8L1829.7 377.5M1846.4 356.9L1845.7 365.4M1851.0 254.9L1853.9 253.6M1824.2 260.2L1819.3 258.9M1655.9 381.1L1655.9 390.6M1784.3 407.9L1790.5 412.5M1684.0 134.6L1681.9 135.8M1684.0 134.6L1683.2 132.2M1681.4 145.7L1685.9 148.0M1599.7 138.6L1598.9 142.5M1599.7 138.6L1597.2 137.2M1618.6 205.9L1620.1 205.5M1618.6 205.9L1621.2 204.6M1732.4 209.2L1729.3 205.7M1681.4 215.7L1685.0 210.7M1779.0 113.0L1781.2 111.6M1801.3 137.2L1801.6 139.5M1869.9 204.6L1868.7 204.7M1743.1 177.8L1739.2 179.3M1841.8 215.7L1844.0 212.9M1628.4 247.7L1633.4 249.5M1577.4 279.1L1571.0 279.6M1695.8 236.6L1689.9 235.4M1681.4 215.7L1680.2 214.9M1722.0 298.7L1718.1 296.6M1684.0 358.3L1689.2 357.2M1653.9 371.3L1653.2 373.7M1636.9 385.7L1635.7 381.7M1655.9 381.1L1652.5 384.8M1746.3 269.3L1740.8 267.1M1824.2 222.3L1824.1 222.4M1797.4 265.4L1799.4 262.3M1851.0 254.9L1849.8 257.4M1824.2 260.2L1828.2 262.6M1736.3 299.4L1741.4 301.6M1779.0 328.8L1779.1 323.9M1779.0 328.8L1779.1 330.3M1851.0 254.9L1855.1 251.6" stroke="#d83030" stroke-width="4.2" stroke-linecap="round" fill="none"/>
<path d="M1653.9 81.0L1660.5 77.1M1671.6 87.5L1669.3 80.4M1616.0 87.5L1620.6 88.5M1640.9 96.7L1633.0 93.1M1601.6 118.9L1600.7 128.7M1585.9 143.8L1592.8 141.2M1697.1 113.7L1698.4 122.2M1716.7 132.0L1708.2 131.4M1699.7 145.1L1699.7 137.9M1670.9 134.6L1676.2 140.2M1699.7 145.1L1690.6 145.4M1627.8 172.6L1632.0 163.1M1648.7 177.8L1642.5 165.7M1627.8 172.6L1621.9 173.2M1612.1 183.0L1614.1 178.4M1627.8 172.6L1632.4 178.4M1648.7 177.8L1642.8 181.1M1676.2 181.7L1685.3 182.4M1691.9 173.9L1693.2 178.4M1706.3 180.4L1700.4 181.7M1634.3 202.6L1641.5 201.7M1644.8 205.3L1646.8 203.0M1630.4 198.7L1624.5 202.3M1630.4 205.2L1624.5 205.6M1701.0 206.6L1691.2 211.1M1673.6 226.2L1677.5 220.9M1691.9 223.5L1686.6 219.6M1584.0 207.9L1584.0 215.1M1562.4 213.1L1573.2 217.7M1735.0 84.9L1735.7 94.7M1731.1 113.7L1733.7 109.1M1747.0 104.5L1741.7 104.5M1715.4 164.7L1724.6 159.5M1736.3 141.2L1735.0 147.7M1722.0 189.6L1727.2 199.4M1723.3 217.0L1727.8 213.1M1741.8 213.1L1737.1 211.1M1673.6 125.5L1678.8 130.1M1670.9 134.6L1677.5 134.6M1648.7 177.8L1646.1 184.3M1644.8 205.3L1644.1 198.1M1616.0 87.5L1607.2 95.4M1598.4 103.2L1607.2 95.4M1653.9 81.0L1662.8 84.3M1671.6 87.5L1662.8 84.3M1653.9 81.0L1647.4 88.9M1640.9 96.7L1647.4 88.9M1671.6 87.5L1677.8 90.8M1684.0 94.1L1677.8 90.8M1671.6 87.5L1666.7 97.4M1661.8 107.2L1666.7 97.4M1684.0 94.1L1690.6 103.9M1697.1 113.7L1690.6 103.9M1598.4 103.2L1605.9 109.1M1613.4 115.0L1605.9 109.1M1598.4 103.2L1600.0 111.1M1601.6 118.9L1600.0 111.1M1613.4 115.0L1607.5 117.0M1601.6 118.9L1607.5 117.0M1661.8 107.2L1667.7 116.3M1673.6 125.5L1667.7 116.3M1673.6 125.5L1667.7 128.1M1661.8 130.7L1667.7 128.1M1673.6 125.5L1672.3 130.1M1670.9 134.6L1672.3 130.1M1661.8 130.7L1666.4 132.7M1670.9 134.6L1666.4 132.7M1716.7 132.0L1708.2 138.6M1699.7 145.1L1708.2 138.6M1716.7 132.0L1726.5 136.6M1736.3 141.2L1726.5 136.6M1735.0 84.9L1743.0 86.2M1750.9 87.5L1743.0 86.2M1731.1 113.7L1739.1 109.1M1747.0 104.5L1739.1 109.1M1627.8 172.6L1619.9 177.8M1612.1 183.0L1619.9 177.8M1630.4 198.7L1630.4 202.0M1630.4 205.2L1630.4 202.0M1634.3 202.6L1639.6 203.9M1644.8 205.3L1639.6 203.9M1676.2 181.7L1684.0 177.8M1691.9 173.9L1684.0 177.8M1691.9 173.9L1699.1 177.1M1706.3 180.4L1699.1 177.1M1715.4 164.7L1710.8 172.6M1706.3 180.4L1710.8 172.6M1722.0 189.6L1714.1 185.0M1706.3 180.4L1714.1 185.0M1584.0 207.9L1573.2 210.5M1562.4 213.1L1573.2 210.5M1562.4 213.1L1556.5 222.9M1550.6 232.7L1556.5 222.9M1562.4 213.1L1562.1 222.2M1561.7 231.4L1562.1 222.2M1701.0 206.6L1696.5 215.1M1691.9 223.5L1696.5 215.1M1723.3 217.0L1732.5 215.1M1741.8 213.1L1732.5 215.1M1723.3 217.0L1718.0 225.5M1712.8 234.0L1718.0 225.5M1784.9 95.4L1782.0 104.2M1791.5 100.6L1785.3 106.8M1747.0 104.5L1751.3 115.3M1764.0 137.2L1759.8 131.7M1790.2 135.9L1785.3 136.6M1764.0 137.2L1772.2 137.2M1799.3 118.9L1800.3 128.1M1820.2 139.9L1810.8 138.6M1790.2 135.9L1795.7 136.6M1901.3 111.1L1901.3 120.9M1896.1 121.6L1898.7 126.1M1860.8 133.3L1869.3 139.9M1879.8 152.9L1878.8 149.7M1820.2 139.9L1827.4 149.0M1851.6 147.7L1843.1 152.9M1879.8 152.9L1871.6 159.5M1871.3 169.9L1867.3 168.0M1752.2 164.7L1747.7 171.3M1756.2 180.4L1749.6 179.1M1745.0 190.2L1744.1 184.0M1839.9 183.0L1837.9 179.1M1839.9 183.0L1832.0 186.9M1834.6 205.3L1829.4 198.1M1839.9 183.0L1833.3 191.5M1834.6 205.3L1830.7 202.6M1864.7 193.5L1869.3 192.8M1884.3 203.9L1879.1 198.1M1864.7 193.5L1867.3 199.0M1884.3 203.9L1877.1 204.3M1834.6 205.3L1838.2 210.5M1834.6 205.3L1829.4 213.8M1820.9 234.7L1822.5 228.5M1796.7 222.3L1790.8 219.0M1785.6 226.2L1785.3 220.9M1750.9 87.5L1749.0 96.0M1747.0 104.5L1749.0 96.0M1798.0 81.0L1798.7 88.9M1799.3 96.7L1798.7 88.9M1798.0 81.0L1791.5 88.2M1784.9 95.4L1791.5 88.2M1799.3 96.7L1792.1 96.0M1784.9 95.4L1792.1 96.0M1799.3 96.7L1795.4 98.7M1791.5 100.6L1795.4 98.7M1784.9 95.4L1788.2 98.0M1791.5 100.6L1788.2 98.0M1799.3 118.9L1794.7 127.4M1790.2 135.9L1794.7 127.4M1829.4 117.6L1839.9 119.6M1850.3 121.6L1839.9 119.6M1829.4 117.6L1836.6 125.5M1843.8 133.3L1836.6 125.5M1850.3 121.6L1847.1 127.4M1843.8 133.3L1847.1 127.4M1850.3 121.6L1855.6 127.4M1860.8 133.3L1855.6 127.4M1880.4 103.9L1883.7 99.0M1886.9 94.1L1883.7 99.0M1880.4 103.9L1890.9 107.5M1901.3 111.1L1890.9 107.5M1886.9 94.1L1894.1 102.6M1901.3 111.1L1894.1 102.6M1901.3 111.1L1898.7 116.3M1896.1 121.6L1898.7 116.3M1843.8 133.3L1852.3 133.3M1860.8 133.3L1852.3 133.3M1843.8 133.3L1847.7 140.5M1851.6 147.7L1847.7 140.5M1860.8 133.3L1856.2 140.5M1851.6 147.7L1856.2 140.5M1879.8 152.9L1875.5 161.4M1871.3 169.9L1875.5 161.4M1784.9 155.6L1783.0 158.8M1781.0 162.1L1783.0 158.8M1784.9 155.6L1777.1 158.2M1769.2 160.8L1777.1 158.2M1781.0 162.1L1775.1 161.4M1769.2 160.8L1775.1 161.4M1781.0 162.1L1777.7 168.0M1774.5 173.9L1777.7 168.0M1769.2 160.8L1771.9 167.3M1774.5 173.9L1771.9 167.3M1752.2 164.7L1754.2 172.6M1756.2 180.4L1754.2 172.6M1756.2 180.4L1750.6 185.3M1745.0 190.2L1750.6 185.3M1741.8 213.1L1751.6 211.8M1761.4 210.5L1751.6 211.8M1741.8 213.1L1747.7 222.9M1753.5 232.7L1747.7 222.9M1761.4 210.5L1757.5 221.6M1753.5 232.7L1757.5 221.6M1884.3 203.9L1883.7 209.8M1883.0 215.7L1883.7 209.8M1884.3 203.9L1888.9 212.4M1893.5 220.9L1888.9 212.4M1883.0 215.7L1888.3 218.3M1893.5 220.9L1888.3 218.3M1883.0 215.7L1876.2 227.2M1869.3 238.6L1876.2 227.2M1796.7 222.3L1791.1 224.2M1785.6 226.2L1791.1 224.2M1796.7 222.3L1791.1 230.1M1785.6 237.9L1791.1 230.1M1610.8 264.1L1619.6 255.9M1646.1 261.5L1637.3 254.6M1568.9 292.9L1573.2 286.0M1589.2 295.5L1583.3 287.3M1625.2 316.4L1632.0 322.9M1652.6 316.4L1645.8 322.9M1718.0 264.1L1720.6 269.3M1716.7 283.7L1720.0 279.1M1716.7 283.7L1719.3 291.2M1703.6 296.8L1712.8 297.8M1694.5 328.2L1706.3 329.8M1719.3 351.7L1718.7 341.6M1651.3 358.9L1653.6 370.0M1642.2 370.0L1649.0 375.6M1642.2 370.0L1639.6 377.9M1616.0 375.3L1626.5 380.5M1635.6 391.6L1636.3 388.7M1694.5 253.6L1695.1 245.1M1691.9 223.5L1693.8 230.1M1712.8 234.0L1704.3 235.3M1736.3 278.5L1736.3 288.9M1743.7 290.2L1740.0 294.8M1684.0 351.7L1684.0 355.0M1698.4 368.7L1691.2 363.5M1689.3 375.2L1686.6 366.7M1703.6 296.8L1706.9 301.4M1694.5 305.9L1702.3 305.9M1550.6 232.7L1556.2 232.0M1561.7 231.4L1556.2 232.0M1595.1 265.4L1602.9 264.7M1610.8 264.1L1602.9 264.7M1595.1 265.4L1601.3 273.6M1607.5 281.7L1601.3 273.6M1610.8 264.1L1609.2 272.9M1607.5 281.7L1609.2 272.9M1607.5 281.7L1614.1 285.7M1620.6 289.6L1614.1 285.7M1646.1 261.5L1650.0 268.0M1653.9 274.5L1650.0 268.0M1620.6 289.6L1628.8 293.2M1636.9 296.8L1628.8 293.2M1647.4 286.3L1650.7 280.4M1653.9 274.5L1650.7 280.4M1647.4 286.3L1642.2 291.6M1636.9 296.8L1642.2 291.6M1647.4 286.3L1650.7 289.9M1653.9 293.5L1650.7 289.9M1636.9 296.8L1645.4 295.1M1653.9 293.5L1645.4 295.1M1636.9 296.8L1638.3 301.4M1639.6 305.9L1638.3 301.4M1568.9 292.9L1579.1 294.2M1589.2 295.5L1579.1 294.2M1625.2 316.4L1632.4 311.2M1639.6 305.9L1632.4 311.2M1652.6 316.4L1646.1 311.2M1639.6 305.9L1646.1 311.2M1664.4 241.9L1670.3 245.1M1676.2 248.4L1670.3 245.1M1664.4 241.9L1669.0 234.0M1673.6 226.2L1669.0 234.0M1676.2 248.4L1685.3 251.0M1694.5 253.6L1685.3 251.0M1694.5 253.6L1693.2 260.8M1691.9 268.0L1693.2 260.8M1725.9 251.0L1722.0 257.5M1718.0 264.1L1722.0 257.5M1725.9 251.0L1731.1 251.7M1736.3 252.3L1731.1 251.7M1691.9 268.0L1693.2 277.2M1694.5 286.3L1693.2 277.2M1716.7 283.7L1723.4 280.4M1703.6 296.8L1699.1 291.6M1694.5 286.3L1699.1 291.6M1703.6 296.8L1699.1 301.4M1694.5 305.9L1699.1 301.4M1694.5 305.9L1694.5 317.1M1694.5 328.2L1694.5 317.1M1684.0 351.7L1691.2 360.2M1698.4 368.7L1691.2 360.2M1719.3 351.7L1708.9 360.2M1698.4 368.7L1708.9 360.2M1698.4 368.7L1693.8 372.0M1689.3 375.2L1693.8 372.0M1627.8 353.0L1639.6 356.0M1651.3 358.9L1639.6 356.0M1627.8 353.0L1635.0 361.5M1642.2 370.0L1635.0 361.5M1651.3 358.9L1646.8 364.5M1642.2 370.0L1646.8 364.5M1651.3 358.9L1652.6 365.1M1642.2 370.0L1648.1 370.7M1616.0 375.3L1616.0 381.1M1616.0 387.0L1616.0 381.1M1616.0 387.0L1625.8 389.3M1635.6 391.6L1625.8 389.3M1736.3 252.3L1741.3 260.8M1736.3 278.5L1733.2 277.8M1736.3 278.5L1740.7 277.8M1745.0 277.2L1740.7 277.8M1816.3 272.6L1806.8 269.0M1778.4 266.7L1787.9 266.0M1795.4 296.8L1788.5 292.2M1783.0 298.1L1782.3 292.9M1843.8 268.0L1841.8 281.1M1858.2 278.5L1849.0 286.3M1898.7 275.9L1890.5 286.0M1901.3 302.7L1891.8 299.4M1871.9 311.2L1877.1 303.6M1813.7 303.3L1818.0 308.2M1811.7 331.4L1817.0 322.3M1756.2 257.5L1751.3 263.4M1758.8 267.4L1752.6 268.3M1745.0 277.2L1745.7 273.2M1763.4 304.6L1760.4 315.1M1767.9 315.1L1762.7 320.3M1767.9 315.1L1773.5 322.0M1786.9 341.9L1783.0 335.4M1786.9 341.9L1774.1 346.5M1858.2 342.6L1852.3 349.8M1847.7 341.3L1847.1 349.1M1818.9 367.4L1822.5 375.6M1815.0 389.6L1820.6 386.7M1871.9 277.8L1868.3 275.5M1858.2 278.5L1861.4 275.9M1837.2 256.2L1844.1 255.6M1843.8 268.0L1847.4 261.5M1763.4 304.6L1760.4 309.2M1767.9 315.1L1762.7 314.4M1808.5 247.7L1816.3 253.9M1837.2 256.2L1830.7 258.2M1816.3 272.6L1820.2 266.4M1785.6 226.2L1785.6 232.0M1785.6 237.9L1785.6 232.0M1820.9 234.7L1814.7 241.2M1808.5 247.7L1814.7 241.2M1837.2 256.2L1840.5 262.1M1843.8 268.0L1840.5 262.1M1756.2 257.5L1757.5 262.5M1758.8 267.4L1757.5 262.5M1758.8 267.4L1768.6 267.0M1778.4 266.7L1768.6 267.0M1745.0 277.2L1744.4 283.7M1743.7 290.2L1744.4 283.7M1795.4 296.8L1789.2 297.4M1783.0 298.1L1789.2 297.4M1795.4 296.8L1804.5 300.1M1813.7 303.3L1804.5 300.1M1795.4 296.8L1795.1 305.3M1794.7 313.8L1795.1 305.3M1783.0 298.1L1788.9 305.9M1794.7 313.8L1788.9 305.9M1763.4 304.6L1765.6 309.9M1767.9 315.1L1765.6 309.9M1811.7 331.4L1821.2 335.0M1830.7 338.6L1821.2 335.0M1811.7 331.4L1799.3 336.7M1786.9 341.9L1799.3 336.7M1811.7 331.4L1811.1 344.2M1810.4 356.9L1811.1 344.2M1830.7 338.6L1839.2 339.9M1847.7 341.3L1839.2 339.9M1810.4 356.9L1814.7 362.2M1818.9 367.4L1814.7 362.2M1818.9 367.4L1817.0 378.5M1815.0 389.6L1817.0 378.5M1869.3 238.6L1872.9 245.4M1876.5 252.3L1872.9 245.4M1876.5 252.3L1878.4 259.2M1880.4 266.0L1878.4 259.2M1880.4 266.0L1876.2 271.9M1871.9 277.8L1876.2 271.9M1880.4 266.0L1889.6 271.0M1898.7 275.9L1889.6 271.0M1871.9 277.8L1865.0 278.1M1858.2 278.5L1865.0 278.1M1901.3 302.7L1901.3 313.8M1901.3 324.9L1901.3 313.8M1871.9 311.2L1872.6 322.3M1873.2 333.4L1872.6 322.3M1873.2 333.4L1865.7 338.0M1858.2 342.6L1865.7 338.0M1873.2 333.4L1870.9 341.6M1868.6 349.8L1870.9 341.6M1858.2 342.6L1863.4 346.2M1868.6 349.8L1863.4 346.2M1858.2 342.6L1852.9 341.9M1847.7 341.3L1852.9 341.9M1786.2 382.4L1783.6 387.3M1781.0 392.2L1783.6 387.3M1786.2 382.4L1786.9 391.9M1787.5 401.4L1786.9 391.9M1748.3 386.4L1755.2 391.3M1762.0 396.2L1755.2 391.3M1748.3 386.4L1750.3 394.2M1752.2 402.0L1750.3 394.2M1815.0 389.6L1822.5 398.5M1830.1 407.3L1822.5 398.5M1765.3 388.3L1763.7 392.2M1762.0 396.2L1763.7 392.2M1765.3 388.3L1773.2 390.3M1781.0 392.2L1773.2 390.3M1681.4 436.0L1689.3 444.2M1719.3 443.2L1708.2 447.8M1690.6 423.6L1703.6 423.6M1716.7 423.6L1703.6 423.6M1690.6 423.6L1686.0 429.8M1681.4 436.0L1686.0 429.8M1716.7 423.6L1718.0 433.4M1719.3 443.2L1718.0 433.4M1781.0 392.2L1782.6 400.1M1787.5 401.4L1785.9 404.7M1762.0 396.2L1757.1 399.1M1752.2 402.0L1757.1 399.1M1781.0 392.2L1784.3 396.8M1787.5 401.4L1784.3 396.8M1830.1 407.3L1837.2 413.5M1844.4 419.7L1837.2 413.5M1653.9 81.0L1649.0 75.1M1684.0 94.1L1689.9 84.9M1684.0 94.1L1686.6 85.6M1735.0 84.9L1729.8 76.8M1598.4 103.2L1591.5 97.4M1616.0 87.5L1610.8 89.2M1598.4 103.2L1600.7 101.3M1671.6 87.5L1666.7 87.9M1640.9 96.7L1644.8 96.0M1697.1 113.7L1701.0 105.9M1731.1 113.7L1725.2 107.5M1640.9 96.7L1644.1 100.6M1640.9 96.7L1638.3 101.9M1661.8 107.2L1667.0 104.5M1697.1 113.7L1701.0 112.7M1601.6 118.9L1593.8 121.2M1613.4 115.0L1624.5 119.3M1613.4 115.0L1620.6 116.3M1585.9 143.8L1576.5 138.6M1661.8 130.7L1653.3 132.7M1670.9 134.6L1665.7 141.8M1585.9 143.8L1585.3 153.6M1676.2 181.7L1671.6 173.9M1691.9 173.9L1691.9 168.0M1691.9 173.9L1696.5 171.3M1612.1 183.0L1604.6 185.3M1676.2 181.7L1669.6 179.8M1676.2 181.7L1672.3 179.1M1584.0 207.9L1583.3 198.4M1562.4 213.1L1557.2 205.6M1584.0 207.9L1592.2 209.5M1550.6 232.7L1550.0 225.8M1676.2 181.7L1673.6 189.6M1722.0 189.6L1720.0 192.2M1644.8 205.3L1643.5 211.8M1701.0 206.6L1701.0 209.8M1673.6 226.2L1665.7 222.2M1736.3 141.2L1732.4 141.8M1798.0 81.0L1794.7 72.8M1735.0 84.9L1739.1 81.0M1798.0 81.0L1804.5 80.4M1798.0 81.0L1807.2 83.0M1784.9 95.4L1784.9 90.2M1750.9 87.5L1755.8 87.5M1750.9 87.5L1758.1 92.5M1735.0 84.9L1736.4 89.5M1886.9 94.1L1891.8 86.6M1880.4 103.9L1876.5 98.3M1886.9 94.1L1883.7 92.5M1901.3 111.1L1909.2 108.1M1901.3 111.1L1905.9 114.0M1829.4 117.6L1826.5 113.0M1850.3 121.6L1846.7 118.3M1880.4 103.9L1874.8 110.1M1850.3 121.6L1855.6 116.6M1880.4 103.9L1873.2 107.8M1731.1 113.7L1737.1 116.3M1799.3 118.9L1797.4 120.2M1799.3 118.9L1805.2 122.9M1860.8 133.3L1864.1 134.6M1764.0 137.2L1764.7 135.3M1736.3 141.2L1734.5 136.6M1769.2 160.8L1769.9 154.9M1879.8 152.9L1886.0 159.2M1871.3 169.9L1878.1 171.3M1784.9 155.6L1791.5 160.1M1781.0 162.1L1790.8 167.3M1769.2 160.8L1767.9 162.1M1756.2 180.4L1755.5 177.8M1756.2 180.4L1758.8 183.7M1774.5 173.9L1778.4 184.3M1839.9 183.0L1842.2 183.0M1884.3 203.9L1890.2 197.4M1884.3 203.9L1882.4 201.3M1761.4 210.5L1766.6 205.9M1804.5 196.1L1800.6 200.0M1883.0 215.7L1880.4 213.1M1893.5 220.9L1895.4 216.4M1869.3 238.6L1865.7 230.4M1745.0 190.2L1747.3 194.5M1562.4 213.1L1559.5 208.5M1550.6 232.7L1540.5 232.4M1562.4 213.1L1565.7 216.4M1550.6 232.7L1553.6 241.2M1561.7 231.4L1561.4 240.9M1644.8 205.3L1642.8 213.7M1644.8 205.3L1645.8 212.1M1595.1 265.4L1592.8 258.2M1610.8 264.1L1608.2 260.5M1595.1 265.4L1595.1 265.1M1610.8 264.1L1614.7 267.7M1568.9 292.9L1562.1 288.6M1589.2 295.5L1586.6 292.5M1568.9 292.9L1566.6 301.0M1589.2 295.5L1591.5 304.6M1589.2 295.5L1597.4 301.4M1620.6 289.6L1617.0 294.5M1620.6 289.6L1624.2 285.7M1664.4 241.9L1655.9 240.9M1664.4 241.9L1663.1 247.7M1676.2 248.4L1670.3 253.3M1646.1 261.5L1643.5 263.1M1653.9 274.5L1657.9 273.6M1653.9 274.5L1659.8 275.2M1653.9 274.5L1655.9 279.1M1653.9 293.5L1660.8 291.9M1694.5 286.3L1686.6 288.6M1653.9 293.5L1653.3 298.7M1625.2 316.4L1618.0 314.8M1625.2 316.4L1622.6 320.0M1652.6 316.4L1650.7 315.7M1652.6 316.4L1660.5 320.0M1627.8 353.0L1624.5 346.5M1627.8 353.0L1629.8 348.8M1651.3 358.9L1657.9 352.7M1651.3 358.9L1658.5 356.3M1616.0 375.3L1613.4 367.7M1616.0 375.3L1610.8 376.6M1651.3 358.9L1647.4 356.0M1689.3 375.2L1685.3 376.6M1689.3 375.2L1688.6 381.1M1698.4 368.7L1700.4 376.2M1719.3 351.7L1718.7 357.9M1719.3 351.7L1726.5 356.3M1691.9 268.0L1688.0 265.4M1694.5 286.3L1698.4 282.7M1694.5 286.3L1692.5 286.3M1703.6 296.8L1705.6 292.5M1694.5 328.2L1689.9 322.9M1694.5 328.2L1693.2 323.3M1694.5 305.9L1697.1 309.2M1718.0 264.1L1716.7 262.8M1723.3 217.0L1728.5 224.2M1712.8 234.0L1717.4 232.7M1712.8 234.0L1710.2 228.1M1694.5 253.6L1698.4 254.3M1869.3 238.6L1871.3 233.4M1876.5 252.3L1881.1 245.8M1876.5 252.3L1885.0 250.4M1898.7 275.9L1901.3 269.6M1898.7 275.9L1906.2 269.6M1778.4 266.7L1782.3 260.2M1778.4 266.7L1774.5 262.8M1753.5 232.7L1759.8 237.3M1753.5 232.7L1754.5 237.3M1736.3 252.3L1737.1 250.0M1795.4 296.8L1798.0 290.2M1813.7 303.3L1814.4 298.7M1743.7 290.2L1750.9 290.2M1901.3 302.7L1904.6 298.4M1901.3 302.7L1905.6 301.4M1783.0 298.1L1783.6 302.7M1795.4 296.8L1792.8 298.4M1871.9 311.2L1866.7 310.8M1794.7 313.8L1796.4 320.7M1830.7 338.6L1832.7 332.1M1873.2 333.4L1865.7 329.5M1871.9 311.2L1869.6 316.1M1901.3 324.9L1905.3 328.5M1901.3 324.9L1900.0 332.7M1786.9 341.9L1784.6 350.7M1830.7 338.6L1830.4 341.3M1847.7 341.3L1849.0 342.2M1873.2 333.4L1871.9 336.7M1868.6 349.8L1874.5 357.6M1786.2 382.4L1787.9 373.0M1748.3 386.4L1746.7 376.9M1765.3 388.3L1767.3 383.4M1786.2 382.4L1792.5 382.4M1818.9 367.4L1813.7 368.1M1858.2 278.5L1856.5 282.7M1871.9 277.8L1869.0 283.4M1820.9 234.7L1823.8 234.7M1796.7 222.3L1801.3 224.5M1785.6 237.9L1791.1 237.3M1741.8 213.1L1743.7 217.7M1616.0 387.0L1613.4 394.9M1635.6 391.6L1635.0 397.8M1690.6 423.6L1687.6 414.8M1716.7 423.6L1720.0 415.4M1690.6 423.6L1683.7 423.0M1681.4 436.0L1673.2 441.0M1719.3 443.2L1725.2 450.1M1719.3 443.2L1723.3 438.7M1748.3 386.4L1739.7 391.9M1748.3 386.4L1747.0 380.8M1748.3 386.4L1752.9 380.1M1786.2 382.4L1787.2 377.2M1815.0 389.6L1807.5 390.6M1787.5 401.4L1792.8 399.8M1815.0 389.6L1812.1 384.1M1748.3 386.4L1743.1 391.3M1752.2 402.0L1754.2 410.5M1752.2 402.0L1753.2 407.6M1830.1 407.3L1825.5 413.8M1844.4 419.7L1853.6 420.0M1844.4 419.7L1841.2 428.5M1830.1 407.3L1836.3 403.0M1616.0 87.5L1611.1 85.7M1684.0 94.1L1688.0 98.4M1613.4 115.0L1619.4 113.0M1601.6 118.9L1596.3 121.5M1613.4 115.0L1613.8 117.5M1697.1 113.7L1696.3 108.3M1697.1 113.7L1691.5 117.1M1661.8 130.7L1659.0 137.0M1661.8 130.7L1656.3 133.1M1661.8 130.7L1661.9 129.6M1731.1 113.7L1730.2 119.2M1612.1 183.0L1615.9 182.9M1612.1 183.0L1616.6 182.4M1648.7 177.8L1652.3 172.1M1715.4 164.7L1720.7 168.5M1584.0 207.9L1581.2 201.7M1584.0 207.9L1585.8 202.3M1712.8 234.0L1713.6 229.2M1791.5 100.6L1793.1 104.1M1798.0 81.0L1796.9 83.2M1798.0 81.0L1794.2 81.9M1784.9 95.4L1785.2 92.6M1880.4 103.9L1885.2 106.7M1851.6 147.7L1852.7 143.6M1850.3 121.6L1847.4 120.9M1860.8 133.3L1866.0 130.9M1860.8 133.3L1862.8 138.7M1860.8 133.3L1859.7 135.0M1879.8 152.9L1881.3 158.9M1871.3 169.9L1876.0 168.4M1774.5 173.9L1773.6 171.2M1774.5 173.9L1777.3 179.6M1879.8 152.9L1880.8 158.1M1839.9 183.0L1844.9 187.1M1864.7 193.5L1863.4 187.7M1804.5 196.1L1800.1 191.2M1761.4 210.5L1766.1 206.0M1883.0 215.7L1882.7 221.1M1550.6 232.7L1548.8 238.1M1561.7 231.4L1567.2 230.2M1644.8 205.3L1642.3 209.4M1620.6 289.6L1616.3 290.8M1653.9 293.5L1656.3 292.2M1653.9 293.5L1651.0 293.6M1620.6 289.6L1624.6 287.8M1589.2 295.5L1593.7 298.8M1676.2 248.4L1674.9 248.2M1725.9 251.0L1728.1 254.4M1719.3 351.7L1713.1 353.4M1616.0 387.0L1611.5 391.6M1736.3 252.3L1736.7 245.8M1743.7 290.2L1744.6 288.4M1785.6 237.9L1784.0 238.0M1837.2 256.2L1834.5 251.6M1858.2 278.5L1856.0 276.7M1816.3 272.6L1821.2 275.8M1778.4 266.7L1775.2 267.2M1758.8 267.4L1757.6 272.8M1736.3 278.5L1736.1 282.0M1813.7 303.3L1808.4 304.3M1767.9 315.1L1774.1 313.3M1811.7 331.4L1806.0 333.9M1786.9 341.9L1793.4 342.9M1810.4 356.9L1815.1 352.2M1880.4 266.0L1884.7 262.6M1898.7 275.9L1892.6 279.1M1762.0 396.2L1764.9 398.1M1830.7 338.6L1833.6 341.0M1690.6 423.6L1694.5 427.5M1716.7 423.6L1722.0 426.3M1690.6 423.6L1690.2 426.1M1716.7 423.6L1721.3 427.3M1762.0 396.2L1765.8 400.4M1765.3 388.3L1768.6 390.2M1762.0 396.2L1766.4 396.7M1762.0 396.2L1766.9 398.9M1830.1 407.3L1830.3 412.7M1844.4 419.7L1849.0 422.6" stroke="#9c9c9c" stroke-width="4.2" stroke-linecap="round" fill="none"/>
<path d="M1629.1 156.9L1632.7 155.2M1629.1 156.9L1622.2 145.7M1663.1 188.3L1674.9 190.5M1629.1 156.9L1641.5 160.8M1663.1 188.3L1658.5 176.5M1663.1 188.3L1660.2 179.8M1843.1 165.4L1838.9 161.8M1843.1 165.4L1839.5 170.3M1847.7 207.9L1844.8 211.8M1808.5 209.8L1800.0 200.4M1843.1 165.4L1838.6 154.6M1847.7 207.9L1845.1 215.7M1808.5 209.8L1810.4 219.0M1808.5 209.8L1803.2 221.6M1847.7 207.9L1841.2 196.1M1847.7 207.9L1843.8 200.7M1843.1 165.4L1838.9 174.8M1735.0 320.3L1727.5 315.4M1737.0 350.4L1734.1 358.6M1735.0 320.3L1730.8 330.5M1735.0 320.3L1738.4 323.9M1737.0 350.4L1731.8 345.5M1834.6 294.2L1837.2 294.2M1834.6 294.2L1844.4 299.1" stroke="#d8d050" stroke-width="4.2" stroke-linecap="round" fill="none"/>
<path d="M1615.4 134.6L1622.2 145.7M1686.6 192.8L1674.9 190.5M1791.5 190.9L1800.0 200.4M1834.0 143.8L1838.6 154.6M1842.5 223.6L1845.1 215.7M1812.4 228.1L1810.4 219.0M1720.0 310.5L1727.5 315.4M1731.1 366.8L1734.1 358.6M1854.2 304.0L1844.4 299.1" stroke="#18d070" stroke-width="4.2" stroke-linecap="round" fill="none"/>
<path d="M1653.9 164.7L1641.5 160.8M1653.9 164.7L1658.5 176.5M1657.2 171.3L1660.2 179.8M1798.0 233.4L1803.2 221.6M1834.6 184.3L1841.2 196.1M1839.9 193.5L1843.8 200.7M1834.6 184.3L1838.9 174.8M1726.5 340.6L1730.8 330.5M1726.5 340.6L1731.8 345.5M1832.0 265.4L1828.1 262.8" stroke="#5868d0" stroke-width="4.2" stroke-linecap="round" fill="none"/>
<path d="M1644.1 69.2L1649.0 75.1M1695.8 75.8L1689.9 84.9M1689.3 77.1L1686.6 85.6M1724.6 68.6L1729.8 76.8M1584.6 91.5L1591.5 97.4M1605.6 90.8L1610.8 89.2M1602.9 99.3L1600.7 101.3M1661.8 88.2L1666.7 87.9M1648.7 95.4L1644.8 96.0M1705.0 98.0L1701.0 105.9M1719.3 101.3L1725.2 107.5M1647.4 104.5L1644.1 100.6M1635.6 107.2L1638.3 101.9M1672.3 101.9L1667.0 104.5M1705.0 111.7L1701.0 112.7M1585.9 123.5L1593.8 121.2M1635.6 123.5L1624.5 119.3M1627.8 117.6L1620.6 116.3M1567.0 133.3L1576.5 138.6M1644.8 134.6L1653.3 132.7M1707.6 135.3L1703.6 133.0M1660.5 149.0L1665.7 141.8M1612.7 145.1L1606.2 141.8M1584.6 163.4L1585.3 153.6M1617.3 159.5L1616.7 166.7M1646.1 158.2L1641.2 155.9M1667.0 166.0L1671.6 173.9M1691.9 162.1L1691.9 168.0M1701.0 168.6L1696.5 171.3M1608.2 175.2L1612.1 174.5M1597.1 187.6L1604.6 185.3M1663.1 177.8L1669.6 179.8M1668.3 176.5L1672.3 179.1M1582.7 188.9L1583.3 198.4M1551.9 198.1L1557.2 205.6M1600.3 211.1L1592.2 209.5M1621.3 200.0L1619.9 203.0M1613.4 219.0L1616.0 212.4M1549.3 219.0L1550.0 225.8M1657.9 207.9L1653.3 204.3M1663.1 210.5L1655.9 205.6M1670.9 197.4L1673.6 189.6M1699.7 189.6L1697.1 186.3M1718.0 194.8L1720.0 192.2M1642.2 218.3L1643.5 211.8M1732.4 202.6L1732.4 205.9M1685.3 211.8L1683.4 213.8M1701.0 213.1L1701.0 209.8M1657.9 218.3L1665.7 222.2M1724.6 149.0L1729.1 151.6M1728.5 142.5L1732.4 141.8M1791.5 64.7L1794.7 72.8M1743.1 77.1L1739.1 81.0M1811.1 79.7L1804.5 80.4M1816.3 84.9L1807.2 83.0M1784.9 84.9L1784.9 90.2M1760.7 87.5L1755.8 87.5M1765.3 97.4L1758.1 92.5M1737.8 94.1L1736.4 89.5M1896.8 79.0L1891.8 86.6M1872.6 92.8L1876.5 98.3M1880.4 90.8L1883.7 92.5M1917.0 105.2L1909.2 108.1M1910.5 117.0L1905.9 114.0M1823.5 108.5L1826.5 113.0M1843.1 115.0L1846.7 118.3M1869.3 116.3L1874.8 110.1M1860.8 111.7L1855.6 116.6M1866.0 111.7L1873.2 107.8M1774.5 120.2L1776.8 116.6M1743.1 118.9L1737.1 116.3M1795.4 121.6L1797.4 120.2M1811.1 126.8L1805.2 122.9M1889.6 134.6L1895.4 132.7M1867.3 135.9L1864.1 134.6M1892.2 139.9L1896.8 135.3M1808.5 141.2L1804.9 139.2M1765.3 133.3L1764.7 135.3M1732.6 132.0L1734.5 136.6M1773.2 143.8L1776.8 140.5M1770.5 149.0L1769.9 154.9M1892.2 165.4L1886.0 159.2M1885.0 172.6L1878.1 171.3M1798.0 164.7L1791.5 160.1M1800.6 172.6L1790.8 167.3M1766.6 163.4L1767.9 162.1M1754.8 175.2L1755.5 177.8M1761.4 186.9L1758.8 183.7M1782.3 194.8L1778.4 184.3M1844.4 183.0L1842.2 183.0M1896.1 190.9L1890.2 197.4M1880.4 198.7L1882.4 201.3M1771.9 201.3L1766.6 205.9M1796.7 203.9L1800.6 200.0M1859.5 210.5L1864.7 207.5M1877.8 210.5L1880.4 213.1M1897.4 211.8L1895.4 216.4M1862.1 222.3L1865.7 230.4M1829.4 197.4L1828.1 198.7M1749.6 198.7L1747.3 194.5M1556.5 203.9L1559.5 208.5M1530.4 232.0L1540.5 232.4M1568.9 219.6L1565.7 216.4M1556.5 249.7L1553.6 241.2M1561.1 250.4L1561.4 240.9M1640.9 222.2L1642.8 213.7M1646.8 219.0L1645.8 212.1M1590.5 251.0L1592.8 258.2M1605.6 256.9L1608.2 260.5M1595.1 264.7L1595.1 265.1M1618.6 271.3L1614.7 267.7M1555.2 284.4L1562.1 288.6M1584.0 289.6L1586.6 292.5M1564.4 309.2L1566.6 301.0M1593.8 313.8L1591.5 304.6M1605.6 307.2L1597.4 301.4M1613.4 299.4L1617.0 294.5M1627.8 281.7L1624.2 285.7M1647.4 239.9L1655.9 240.9M1661.8 253.6L1663.1 247.7M1664.4 258.2L1670.3 253.3M1640.9 264.7L1643.5 263.1M1661.8 272.6L1657.9 273.6M1665.7 275.9L1659.8 275.2M1657.9 283.7L1655.9 279.1M1667.7 290.2L1660.8 291.9M1678.8 290.9L1686.6 288.6M1652.6 304.0L1653.3 298.7M1610.8 313.1L1618.0 314.8M1619.9 323.6L1622.6 320.0M1648.7 315.1L1650.7 315.7M1668.3 323.6L1660.5 320.0M1621.3 339.9L1624.5 346.5M1631.7 344.5L1629.8 348.8M1664.4 346.5L1657.9 352.7M1665.7 353.7L1658.5 356.3M1610.8 360.2L1613.4 367.7M1605.6 377.9L1610.8 376.6M1643.5 353.0L1647.4 356.0M1665.7 375.3L1660.8 378.2M1688.0 360.9L1686.0 359.6M1681.4 377.9L1685.3 376.6M1688.0 387.0L1688.6 381.1M1702.3 383.8L1700.4 376.2M1718.0 364.1L1718.7 357.9M1733.7 360.9L1726.5 356.3M1684.0 262.8L1688.0 265.4M1702.3 279.1L1698.4 282.7M1690.6 286.3L1692.5 286.3M1707.6 288.3L1705.6 292.5M1685.3 317.7L1689.9 322.9M1691.9 318.4L1693.2 323.3M1699.7 312.5L1697.1 309.2M1715.4 261.5L1716.7 262.8M1733.7 231.4L1728.5 224.2M1722.0 231.4L1717.4 232.7M1707.6 222.2L1710.2 228.1M1702.3 254.9L1698.4 254.3M1873.2 228.1L1871.3 233.4M1885.6 239.2L1881.1 245.8M1893.5 248.4L1885.0 250.4M1868.6 262.8L1866.7 268.0M1903.9 263.4L1901.3 269.6M1913.8 263.4L1906.2 269.6M1786.2 253.6L1782.3 260.2M1770.5 258.9L1774.5 262.8M1766.0 241.9L1759.8 237.3M1755.5 241.9L1754.5 237.3M1737.8 247.7L1737.1 250.0M1788.2 277.2L1784.9 282.4M1800.6 283.7L1798.0 290.2M1825.5 287.6L1832.7 290.9M1815.0 294.2L1814.4 298.7M1758.1 290.2L1750.9 290.2M1886.9 288.3L1884.7 292.2M1907.9 294.2L1904.6 298.4M1909.8 300.1L1905.6 301.4M1749.6 306.6L1753.5 310.2M1784.3 307.2L1783.6 302.7M1790.2 300.1L1792.8 298.4M1861.4 310.5L1866.7 310.8M1749.6 321.6L1753.5 323.6M1798.0 327.5L1796.4 320.7M1834.6 325.6L1832.7 332.1M1858.2 325.6L1865.7 329.5M1867.3 321.0L1869.6 316.1M1909.2 332.1L1905.3 328.5M1898.7 340.6L1900.0 332.7M1771.9 348.4L1766.6 349.8M1782.3 359.6L1784.6 350.7M1752.2 362.2L1756.8 356.6M1830.1 343.9L1830.4 341.3M1850.3 343.2L1849.0 342.2M1870.6 339.9L1871.9 336.7M1880.4 365.4L1874.5 357.6M1857.5 358.3L1852.0 357.6M1789.5 363.5L1787.9 373.0M1745.0 367.4L1746.7 376.9M1756.8 369.4L1759.1 360.2M1769.2 378.5L1767.3 383.4M1798.7 382.4L1792.5 382.4M1808.5 368.7L1813.7 368.1M1833.3 371.3L1829.7 377.5M1845.1 373.9L1845.7 365.4M1854.9 287.0L1856.5 282.7M1866.0 288.9L1869.0 283.4M1856.9 252.3L1853.9 253.6M1814.4 257.5L1819.3 258.9M1826.8 234.7L1823.8 234.7M1805.9 226.8L1801.3 224.5M1796.7 236.6L1791.1 237.3M1745.7 222.2L1743.7 217.7M1610.8 402.7L1613.4 394.9M1634.3 404.0L1635.0 397.8M1655.9 400.1L1655.9 390.6M1684.7 406.0L1687.6 414.8M1723.3 407.3L1720.0 415.4M1676.8 422.3L1683.7 423.0M1665.1 445.9L1673.2 441.0M1731.1 457.0L1725.2 450.1M1727.2 434.1L1723.3 438.7M1731.1 397.5L1739.7 391.9M1745.7 375.2L1747.0 380.8M1757.5 373.9L1752.9 380.1M1788.2 372.0L1787.2 377.2M1800.0 391.6L1807.5 390.6M1798.0 398.1L1792.8 399.8M1809.1 378.5L1812.1 384.1M1737.8 396.2L1743.1 391.3M1756.2 419.0L1754.2 410.5M1754.2 413.2L1753.2 407.6M1796.7 417.1L1790.5 412.5M1820.9 420.4L1825.5 413.8M1862.7 420.4L1853.6 420.0M1837.9 437.4L1841.2 428.5M1842.5 398.8L1836.3 403.0M1606.1 83.8L1611.1 85.7M1692.1 102.7L1688.0 98.4M1625.4 111.0L1619.4 113.0M1591.0 124.0L1596.3 121.5M1614.1 119.9L1613.8 117.5M1695.5 103.0L1696.3 108.3M1679.7 136.9L1681.9 135.8M1685.9 120.5L1691.5 117.1M1656.2 143.2L1659.0 137.0M1650.8 135.5L1656.3 133.1M1682.3 129.8L1683.2 132.2M1662.0 128.5L1661.9 129.6M1690.4 150.3L1685.9 148.0M1598.2 146.4L1598.9 142.5M1594.7 135.8L1597.2 137.2M1729.2 124.7L1730.2 119.2M1619.6 182.8L1615.9 182.9M1621.0 181.7L1616.6 182.4M1656.0 166.4L1652.3 172.1M1621.5 205.1L1620.1 205.5M1623.7 203.3L1621.2 204.6M1726.0 172.3L1720.7 168.5M1726.1 202.2L1729.3 205.7M1578.4 195.5L1581.2 201.7M1587.7 196.6L1585.8 202.3M1688.5 205.6L1685.0 210.7M1714.4 224.5L1713.6 229.2M1794.8 107.7L1793.1 104.1M1795.9 85.3L1796.9 83.2M1790.4 82.8L1794.2 81.9M1785.5 89.8L1785.2 92.6M1783.3 110.2L1781.2 111.6M1889.9 109.5L1885.2 106.7M1853.8 139.4L1852.7 143.6M1844.6 120.3L1847.4 120.9M1871.1 128.4L1866.0 130.9M1802.0 141.7L1801.6 139.5M1864.8 144.1L1862.8 138.7M1858.5 136.6L1859.7 135.0M1882.9 164.8L1881.3 158.9M1880.7 166.8L1876.0 168.4M1772.8 168.6L1773.6 171.2M1780.0 185.4L1777.3 179.6M1881.9 163.2L1880.8 158.1M1849.9 191.2L1844.9 187.1M1862.2 182.0L1863.4 187.7M1867.4 204.7L1868.7 204.7M1735.2 180.7L1739.2 179.3M1795.7 186.3L1800.1 191.2M1846.2 210.0L1844.0 212.9M1770.8 201.5L1766.1 206.0M1882.5 226.5L1882.7 221.1M1546.9 243.6L1548.8 238.1M1572.7 229.1L1567.2 230.2M1639.7 213.5L1642.3 209.4M1612.0 292.0L1616.3 290.8M1638.3 251.2L1633.4 249.5M1658.7 290.9L1656.3 292.2M1648.1 293.7L1651.0 293.6M1628.5 285.9L1624.6 287.8M1564.5 280.2L1571.0 279.6M1598.2 302.1L1593.7 298.8M1673.6 247.9L1674.9 248.2M1684.0 234.2L1689.9 235.4M1679.0 214.0L1680.2 214.9M1730.3 257.7L1728.1 254.4M1714.2 294.4L1718.1 296.6M1694.3 356.1L1689.2 357.2M1706.9 355.0L1713.1 353.4M1652.5 376.0L1653.2 373.7M1634.5 377.7L1635.7 381.7M1606.9 396.2L1611.5 391.6M1649.1 388.4L1652.5 384.8M1737.1 239.3L1736.7 245.8M1745.4 286.6L1744.6 288.4M1735.3 264.8L1740.8 267.1M1782.5 238.0L1784.0 238.0M1823.9 222.5L1824.1 222.4M1801.5 259.2L1799.4 262.3M1848.6 260.0L1849.8 257.4M1831.8 246.9L1834.5 251.6M1853.8 274.9L1856.0 276.7M1832.3 265.0L1828.2 262.6M1826.2 279.0L1821.2 275.8M1771.9 267.8L1775.2 267.2M1756.4 278.3L1757.6 272.8M1735.9 285.4L1736.1 282.0M1746.5 303.9L1741.4 301.6M1803.1 305.2L1808.4 304.3M1780.3 311.5L1774.1 313.3M1779.2 319.0L1779.1 323.9M1800.2 336.5L1806.0 333.9M1779.1 331.8L1779.1 330.3M1799.9 343.9L1793.4 342.9M1819.9 347.4L1815.1 352.2M1859.2 248.3L1855.1 251.6M1889.0 259.1L1884.7 262.6M1886.4 282.4L1892.6 279.1M1767.8 400.0L1764.9 398.1M1836.4 343.4L1833.6 341.0M1698.5 431.4L1694.5 427.5M1727.3 428.9L1722.0 426.3M1689.8 428.7L1690.2 426.1M1725.9 431.0L1721.3 427.3M1769.5 404.7L1765.8 400.4M1771.8 392.1L1768.6 390.2M1770.7 397.2L1766.4 396.7M1771.8 401.7L1766.9 398.9M1830.6 418.1L1830.3 412.7M1853.6 425.5L1849.0 422.6" stroke="#dedede" stroke-width="3.4" stroke-linecap="round" fill="none"/>
<circle cx="1706.3" cy="180.4" r="5.1" fill="url(#aC)"/>
<circle cx="1804.5" cy="196.1" r="5.1" fill="url(#aC)"/>
<circle cx="1736.3" cy="278.5" r="5.9" fill="url(#aC)"/>
<circle cx="1689.3" cy="375.2" r="5.9" fill="url(#aC)"/>
<circle cx="1752.2" cy="402.0" r="5.9" fill="url(#aC)"/>
<circle cx="1616.0" cy="87.5" r="5.9" fill="url(#aC)"/>
<circle cx="1644.8" cy="205.3" r="5.9" fill="url(#aC)"/>
<circle cx="1736.3" cy="252.3" r="5.9" fill="url(#aC)"/>
<circle cx="1847.7" cy="341.3" r="6.6" fill="url(#aC)"/>
<circle cx="1818.9" cy="367.4" r="6.6" fill="url(#aC)"/>
<circle cx="1676.2" cy="181.7" r="6.6" fill="url(#aC)"/>
<circle cx="1901.3" cy="324.9" r="6.6" fill="url(#aC)"/>
<circle cx="1820.2" cy="139.9" r="6.6" fill="url(#aC)"/>
<circle cx="1868.6" cy="349.8" r="6.6" fill="url(#aC)"/>
<circle cx="1694.5" cy="305.9" r="6.6" fill="url(#aC)"/>
<circle cx="1829.4" cy="117.6" r="6.6" fill="url(#aC)"/>
<circle cx="1834.6" cy="205.3" r="6.6" fill="url(#aC)"/>
<circle cx="1764.0" cy="137.2" r="6.6" fill="url(#aC)"/>
<circle cx="1639.6" cy="305.9" r="6.6" fill="url(#aC)"/>
<circle cx="1756.2" cy="180.4" r="6.6" fill="url(#aC)"/>
<circle cx="1741.8" cy="213.1" r="6.6" fill="url(#aC)"/>
<circle cx="1625.2" cy="316.4" r="6.6" fill="url(#aC)"/>
<circle cx="1691.9" cy="173.9" r="6.6" fill="url(#aC)"/>
<circle cx="1736.3" cy="141.2" r="6.6" fill="url(#aC)"/>
<circle cx="1653.9" cy="274.5" r="6.6" fill="url(#aC)"/>
<circle cx="1694.5" cy="286.3" r="6.6" fill="url(#aC)"/>
<circle cx="1753.5" cy="232.7" r="6.6" fill="url(#aC)"/>
<circle cx="1642.2" cy="370.0" r="6.6" fill="url(#aC)"/>
<circle cx="1783.0" cy="298.1" r="6.6" fill="url(#aC)"/>
<circle cx="1901.3" cy="302.7" r="6.6" fill="url(#aC)"/>
<circle cx="1691.9" cy="268.0" r="6.6" fill="url(#aC)"/>
<circle cx="1763.4" cy="304.6" r="6.6" fill="url(#aC)"/>
<circle cx="1653.9" cy="81.0" r="6.6" fill="url(#aC)"/>
<circle cx="1694.5" cy="253.6" r="6.6" fill="url(#aC)"/>
<circle cx="1871.9" cy="311.2" r="6.6" fill="url(#aC)"/>
<circle cx="1893.5" cy="220.9" r="6.6" fill="url(#aC)"/>
<circle cx="1765.3" cy="388.3" r="6.6" fill="url(#aC)"/>
<circle cx="1761.4" cy="210.5" r="6.6" fill="url(#aC)"/>
<circle cx="1640.9" cy="96.7" r="6.6" fill="url(#aC)"/>
<circle cx="1883.0" cy="215.7" r="6.6" fill="url(#aC)"/>
<circle cx="1725.9" cy="251.0" r="6.6" fill="url(#aC)"/>
<circle cx="1796.7" cy="222.3" r="6.6" fill="url(#aC)"/>
<circle cx="1779.1" cy="331.8" r="3.3" fill="url(#aH)"/>
<circle cx="1634.3" cy="404.0" r="3.5" fill="url(#aH)"/>
<circle cx="1614.1" cy="69.2" r="3.5" fill="url(#aH)"/>
<circle cx="1769.2" cy="378.5" r="3.5" fill="url(#aH)"/>
<circle cx="1567.0" cy="133.3" r="3.5" fill="url(#aH)"/>
<circle cx="1808.5" cy="368.7" r="3.5" fill="url(#aH)"/>
<circle cx="1754.8" cy="175.2" r="3.5" fill="url(#aH)"/>
<circle cx="1600.3" cy="211.1" r="3.5" fill="url(#aH)"/>
<circle cx="1627.8" cy="281.7" r="3.5" fill="url(#aH)"/>
<circle cx="1646.8" cy="219.0" r="3.5" fill="url(#aH)"/>
<circle cx="1880.4" cy="90.8" r="3.5" fill="url(#aH)"/>
<circle cx="1794.8" cy="107.7" r="3.5" fill="url(#aH)"/>
<circle cx="1771.8" cy="392.1" r="3.4" fill="url(#aH)"/>
<circle cx="1795.7" cy="186.3" r="3.4" fill="url(#aH)"/>
<circle cx="1695.8" cy="75.8" r="3.5" fill="url(#aH)"/>
<circle cx="1811.1" cy="79.7" r="3.5" fill="url(#aH)"/>
<circle cx="1737.8" cy="94.1" r="3.5" fill="url(#aH)"/>
<circle cx="1688.0" cy="387.0" r="3.5" fill="url(#aH)"/>
<circle cx="1657.9" cy="283.7" r="3.5" fill="url(#aH)"/>
<circle cx="1745.0" cy="367.4" r="3.5" fill="url(#aH)"/>
<circle cx="1866.0" cy="111.7" r="3.5" fill="url(#aH)"/>
<circle cx="1867.4" cy="204.7" r="3.4" fill="url(#aH)"/>
<circle cx="1799.9" cy="343.9" r="3.5" fill="url(#aH)"/>
<circle cx="1621.3" cy="339.9" r="3.5" fill="url(#aH)"/>
<circle cx="1668.3" cy="176.5" r="3.5" fill="url(#aH)"/>
<circle cx="1745.7" cy="375.2" r="3.5" fill="url(#aH)"/>
<circle cx="1802.0" cy="141.7" r="3.6" fill="url(#aH)"/>
<circle cx="1597.1" cy="187.6" r="3.5" fill="url(#aH)"/>
<circle cx="1625.4" cy="111.0" r="3.4" fill="url(#aH)"/>
<circle cx="1699.7" cy="312.5" r="3.5" fill="url(#aH)"/>
<circle cx="1798.0" cy="327.5" r="3.5" fill="url(#aH)"/>
<circle cx="1882.9" cy="164.8" r="3.7" fill="url(#aH)"/>
<circle cx="1678.8" cy="290.9" r="3.5" fill="url(#aH)"/>
<circle cx="1587.7" cy="196.6" r="3.3" fill="url(#aH)"/>
<circle cx="1765.3" cy="97.4" r="3.5" fill="url(#aH)"/>
<circle cx="1584.0" cy="289.6" r="3.5" fill="url(#aH)"/>
<circle cx="1614.1" cy="119.9" r="3.7" fill="url(#aH)"/>
<circle cx="1627.8" cy="117.6" r="3.5" fill="url(#aH)"/>
<circle cx="1909.8" cy="300.1" r="3.5" fill="url(#aH)"/>
<circle cx="1873.2" cy="228.1" r="3.5" fill="url(#aH)"/>
<circle cx="1795.4" cy="121.6" r="3.5" fill="url(#aH)"/>
<circle cx="1665.7" cy="353.7" r="3.5" fill="url(#aH)"/>
<circle cx="1745.0" cy="190.2" r="7.0" fill="url(#aC)"/>
<circle cx="1671.6" cy="87.5" r="7.0" fill="url(#aC)"/>
<circle cx="1676.2" cy="248.4" r="7.0" fill="url(#aC)"/>
<circle cx="1598.4" cy="103.2" r="7.0" fill="url(#aC)"/>
<circle cx="1568.9" cy="292.9" r="7.0" fill="url(#aC)"/>
<circle cx="1781.0" cy="392.2" r="7.0" fill="url(#aC)"/>
<circle cx="1681.4" cy="436.0" r="7.0" fill="url(#aC)"/>
<circle cx="1880.4" cy="266.0" r="7.0" fill="url(#aC)"/>
<circle cx="1850.3" cy="121.6" r="7.0" fill="url(#aC)"/>
<circle cx="1653.9" cy="293.5" r="7.0" fill="url(#aC)"/>
<circle cx="1901.3" cy="111.1" r="7.0" fill="url(#aC)"/>
<circle cx="1627.8" cy="172.6" r="7.0" fill="url(#aC)"/>
<circle cx="1786.2" cy="382.4" r="7.0" fill="url(#aC)"/>
<circle cx="1719.3" cy="443.2" r="7.0" fill="url(#aC)"/>
<circle cx="1612.1" cy="183.0" r="7.0" fill="url(#aC)"/>
<circle cx="1723.3" cy="217.0" r="7.0" fill="url(#aC)"/>
<circle cx="1652.6" cy="316.4" r="7.0" fill="url(#aC)"/>
<circle cx="1884.3" cy="203.9" r="7.0" fill="url(#aC)"/>
<circle cx="1562.4" cy="213.1" r="7.0" fill="url(#aC)"/>
<circle cx="1767.9" cy="315.1" r="7.0" fill="url(#aC)"/>
<circle cx="1881.9" cy="163.2" r="3.5" fill="url(#aH)"/>
<circle cx="1896.1" cy="190.9" r="3.5" fill="url(#aH)"/>
<circle cx="1819.9" cy="347.4" r="3.8" fill="url(#aH)"/>
<circle cx="1656.0" cy="166.4" r="3.6" fill="url(#aH)"/>
<circle cx="1685.3" cy="211.8" r="3.5" fill="url(#aH)"/>
<circle cx="1635.6" cy="123.5" r="3.5" fill="url(#aH)"/>
<circle cx="1608.2" cy="175.2" r="3.5" fill="url(#aH)"/>
<circle cx="1688.5" cy="205.6" r="3.4" fill="url(#aH)"/>
<circle cx="1555.2" cy="284.4" r="3.5" fill="url(#aH)"/>
<circle cx="1598.2" cy="146.4" r="3.5" fill="url(#aH)"/>
<circle cx="1913.8" cy="263.4" r="3.5" fill="url(#aH)"/>
<circle cx="1869.3" cy="116.3" r="3.5" fill="url(#aH)"/>
<circle cx="1621.3" cy="200.0" r="3.5" fill="url(#aH)"/>
<circle cx="1728.5" cy="142.5" r="3.5" fill="url(#aH)"/>
<circle cx="1782.3" cy="359.6" r="3.5" fill="url(#aH)"/>
<circle cx="1731.1" cy="457.0" r="3.5" fill="url(#aH)"/>
<circle cx="1623.7" cy="203.3" r="3.4" fill="url(#aH)"/>
<circle cx="1903.9" cy="263.4" r="3.5" fill="url(#aH)"/>
<circle cx="1829.4" cy="197.4" r="3.5" fill="url(#aH)"/>
<circle cx="1705.0" cy="111.7" r="3.5" fill="url(#aH)"/>
<circle cx="1820.9" cy="420.4" r="3.5" fill="url(#aH)"/>
<circle cx="1858.2" cy="325.6" r="3.5" fill="url(#aH)"/>
<circle cx="1770.5" cy="149.0" r="3.5" fill="url(#aH)"/>
<circle cx="1723.3" cy="407.3" r="3.5" fill="url(#aH)"/>
<circle cx="1648.7" cy="315.1" r="3.5" fill="url(#aH)"/>
<circle cx="1826.2" cy="279.0" r="3.7" fill="url(#aH)"/>
<circle cx="1689.3" cy="77.1" r="3.5" fill="url(#aH)"/>
<circle cx="1694.3" cy="356.1" r="3.5" fill="url(#aH)"/>
<circle cx="1886.9" cy="288.3" r="3.5" fill="url(#aH)"/>
<circle cx="1743.1" cy="77.1" r="3.5" fill="url(#aH)"/>
<circle cx="1815.0" cy="294.2" r="3.5" fill="url(#aH)"/>
<circle cx="1606.9" cy="396.2" r="3.5" fill="url(#aH)"/>
<circle cx="1862.2" cy="182.0" r="3.7" fill="url(#aH)"/>
<circle cx="1767.8" cy="400.0" r="3.4" fill="url(#aH)"/>
<circle cx="1749.6" cy="198.7" r="3.5" fill="url(#aH)"/>
<circle cx="1846.2" cy="210.0" r="3.7" fill="url(#aH)"/>
<circle cx="1605.6" cy="256.9" r="3.5" fill="url(#aH)"/>
<circle cx="1880.4" cy="103.9" r="7.3" fill="url(#aC)"/>
<circle cx="1896.1" cy="121.6" r="7.3" fill="url(#aC)"/>
<circle cx="1661.8" cy="130.7" r="7.3" fill="url(#aC)"/>
<circle cx="1697.1" cy="113.7" r="7.3" fill="url(#aC)"/>
<circle cx="1735.0" cy="84.9" r="7.3" fill="url(#aC)"/>
<circle cx="1798.0" cy="81.0" r="7.3" fill="url(#aC)"/>
<circle cx="1858.2" cy="342.6" r="7.3" fill="url(#aC)"/>
<circle cx="1690.6" cy="423.6" r="7.3" fill="url(#aC)"/>
<circle cx="1585.9" cy="143.8" r="7.3" fill="url(#aC)"/>
<circle cx="1589.2" cy="295.5" r="7.3" fill="url(#aC)"/>
<circle cx="1795.4" cy="296.8" r="7.3" fill="url(#aC)"/>
<circle cx="1684.0" cy="351.7" r="7.3" fill="url(#aC)"/>
<circle cx="1886.9" cy="94.1" r="7.3" fill="url(#aC)"/>
<circle cx="1815.0" cy="389.6" r="7.3" fill="url(#aC)"/>
<circle cx="1635.6" cy="391.6" r="7.3" fill="url(#aC)"/>
<circle cx="1873.2" cy="333.4" r="7.3" fill="url(#aC)"/>
<circle cx="1719.3" cy="351.7" r="7.3" fill="url(#aC)"/>
<circle cx="1716.7" cy="423.6" r="7.3" fill="url(#aC)"/>
<circle cx="1627.8" cy="353.0" r="7.3" fill="url(#aC)"/>
<circle cx="1778.4" cy="266.7" r="7.3" fill="url(#aC)"/>
<circle cx="1616.0" cy="387.0" r="7.3" fill="url(#aC)"/>
<circle cx="1701.0" cy="206.6" r="7.3" fill="url(#aC)"/>
<circle cx="1799.3" cy="118.9" r="7.3" fill="url(#aC)"/>
<circle cx="1584.0" cy="207.9" r="7.3" fill="url(#aC)"/>
<circle cx="1830.1" cy="407.3" r="7.3" fill="url(#aC)"/>
<circle cx="1820.9" cy="234.7" r="7.3" fill="url(#aC)"/>
<circle cx="1745.0" cy="277.2" r="7.3" fill="url(#aC)"/>
<circle cx="1813.7" cy="303.3" r="7.3" fill="url(#aC)"/>
<circle cx="1750.9" cy="87.5" r="7.3" fill="url(#aC)"/>
<circle cx="1860.8" cy="133.3" r="7.3" fill="url(#aC)"/>
<circle cx="1784.9" cy="95.4" r="7.3" fill="url(#aC)"/>
<circle cx="1879.8" cy="152.9" r="7.3" fill="url(#aC)"/>
<circle cx="1673.6" cy="226.2" r="7.3" fill="url(#aC)"/>
<circle cx="1785.6" cy="226.2" r="7.3" fill="url(#aC)"/>
<circle cx="1839.9" cy="183.0" r="7.3" fill="url(#aC)"/>
<circle cx="1858.2" cy="278.5" r="7.3" fill="url(#aC)"/>
<circle cx="1722.0" cy="189.6" r="7.3" fill="url(#aC)"/>
<circle cx="1791.5" cy="100.6" r="7.3" fill="url(#aC)"/>
<circle cx="1550.6" cy="232.7" r="7.3" fill="url(#aC)"/>
<circle cx="1561.7" cy="231.4" r="7.3" fill="url(#aC)"/>
<circle cx="1607.5" cy="281.7" r="7.3" fill="url(#aC)"/>
<circle cx="1651.3" cy="358.9" r="7.3" fill="url(#aC)"/>
<circle cx="1664.4" cy="241.9" r="7.3" fill="url(#aC)"/>
<circle cx="1758.8" cy="267.4" r="7.3" fill="url(#aC)"/>
<circle cx="1718.0" cy="264.1" r="7.3" fill="url(#aC)"/>
<circle cx="1876.5" cy="252.3" r="7.3" fill="url(#aC)"/>
<circle cx="1595.1" cy="265.4" r="7.3" fill="url(#aC)"/>
<circle cx="1601.6" cy="118.9" r="7.3" fill="url(#aC)"/>
<circle cx="1661.8" cy="107.2" r="7.3" fill="url(#aC)"/>
<circle cx="1869.3" cy="238.6" r="7.3" fill="url(#aC)"/>
<circle cx="1748.3" cy="386.4" r="7.3" fill="url(#aC)"/>
<circle cx="1803.1" cy="305.2" r="3.4" fill="url(#aH)"/>
<circle cx="1621.5" cy="205.1" r="3.7" fill="url(#aH)"/>
<circle cx="1643.5" cy="353.0" r="3.5" fill="url(#aH)"/>
<circle cx="1593.8" cy="313.8" r="3.5" fill="url(#aH)"/>
<circle cx="1849.9" cy="191.2" r="3.6" fill="url(#aH)"/>
<circle cx="1690.4" cy="150.3" r="3.8" fill="url(#aH)"/>
<circle cx="1830.6" cy="418.1" r="3.7" fill="url(#aH)"/>
<circle cx="1610.8" cy="402.7" r="3.5" fill="url(#aH)"/>
<circle cx="1771.8" cy="401.7" r="3.4" fill="url(#aH)"/>
<circle cx="1647.4" cy="104.5" r="3.5" fill="url(#aH)"/>
<circle cx="1556.5" cy="203.9" r="3.5" fill="url(#aH)"/>
<circle cx="1568.9" cy="219.6" r="3.5" fill="url(#aH)"/>
<circle cx="1771.9" cy="348.4" r="3.5" fill="url(#aH)"/>
<circle cx="1860.8" cy="111.7" r="3.5" fill="url(#aH)"/>
<circle cx="1857.5" cy="358.3" r="3.5" fill="url(#aH)"/>
<circle cx="1769.5" cy="404.7" r="3.8" fill="url(#aH)"/>
<circle cx="1729.2" cy="124.7" r="3.6" fill="url(#aH)"/>
<circle cx="1735.3" cy="264.8" r="3.5" fill="url(#aH)"/>
<circle cx="1796.7" cy="203.9" r="3.5" fill="url(#aH)"/>
<circle cx="1691.9" cy="162.1" r="3.5" fill="url(#aH)"/>
<circle cx="1853.8" cy="274.9" r="3.8" fill="url(#aH)"/>
<circle cx="1800.6" cy="283.7" r="3.5" fill="url(#aH)"/>
<circle cx="1718.0" cy="194.8" r="3.5" fill="url(#aH)"/>
<circle cx="1668.3" cy="323.6" r="3.5" fill="url(#aH)"/>
<circle cx="1642.2" cy="218.3" r="3.5" fill="url(#aH)"/>
<circle cx="1784.3" cy="307.2" r="3.5" fill="url(#aH)"/>
<circle cx="1590.5" cy="251.0" r="3.5" fill="url(#aH)"/>
<circle cx="1610.8" cy="360.2" r="3.5" fill="url(#aH)"/>
<circle cx="1859.5" cy="210.5" r="3.5" fill="url(#aH)"/>
<circle cx="1735.2" cy="180.7" r="3.4" fill="url(#aH)"/>
<circle cx="1870.6" cy="339.9" r="3.5" fill="url(#aH)"/>
<circle cx="1657.9" cy="218.3" r="3.5" fill="url(#aH)"/>
<circle cx="1774.5" cy="120.2" r="3.5" fill="url(#aH)"/>
<circle cx="1702.3" cy="383.8" r="3.5" fill="url(#aH)"/>
<circle cx="1788.2" cy="372.0" r="3.5" fill="url(#aH)"/>
<circle cx="1737.8" cy="247.7" r="3.5" fill="url(#aH)"/>
<circle cx="1866.0" cy="288.9" r="3.5" fill="url(#aH)"/>
<circle cx="1733.7" cy="231.4" r="3.5" fill="url(#aH)"/>
<circle cx="1619.9" cy="323.6" r="3.5" fill="url(#aH)"/>
<circle cx="1882.5" cy="226.5" r="3.8" fill="url(#aH)"/>
<circle cx="1689.8" cy="428.7" r="3.3" fill="url(#aH)"/>
<circle cx="1707.6" cy="135.3" r="3.5" fill="url(#aH)"/>
<circle cx="1755.5" cy="241.9" r="3.5" fill="url(#aH)"/>
<circle cx="1647.4" cy="239.9" r="3.5" fill="url(#aH)"/>
<circle cx="1907.9" cy="294.2" r="3.5" fill="url(#aH)"/>
<circle cx="1756.2" cy="257.5" r="7.6" fill="url(#aC)"/>
<circle cx="1610.8" cy="264.1" r="7.6" fill="url(#aC)"/>
<circle cx="1646.1" cy="261.5" r="7.6" fill="url(#aC)"/>
<circle cx="1620.6" cy="289.6" r="7.6" fill="url(#aC)"/>
<circle cx="1898.7" cy="275.9" r="7.6" fill="url(#aC)"/>
<circle cx="1602.9" cy="99.3" r="3.5" fill="url(#aH)"/>
<circle cx="1745.7" cy="222.2" r="3.5" fill="url(#aH)"/>
<circle cx="1714.2" cy="294.4" r="3.4" fill="url(#aH)"/>
<circle cx="1745.4" cy="286.6" r="3.5" fill="url(#aH)"/>
<circle cx="1771.9" cy="267.8" r="3.5" fill="url(#aH)"/>
<circle cx="1771.9" cy="201.3" r="3.5" fill="url(#aH)"/>
<circle cx="1733.7" cy="360.9" r="3.5" fill="url(#aH)"/>
<circle cx="1910.5" cy="117.0" r="3.5" fill="url(#aH)"/>
<circle cx="1610.8" cy="313.1" r="3.5" fill="url(#aH)"/>
<circle cx="1684.0" cy="262.8" r="3.5" fill="url(#aH)"/>
<circle cx="1788.2" cy="277.2" r="3.5" fill="url(#aH)"/>
<circle cx="1661.8" cy="272.6" r="3.5" fill="url(#aH)"/>
<circle cx="1699.7" cy="189.6" r="3.5" fill="url(#aH)"/>
<circle cx="1867.3" cy="321.0" r="3.5" fill="url(#aH)"/>
<circle cx="1688.0" cy="360.9" r="3.5" fill="url(#aH)"/>
<circle cx="1854.9" cy="287.0" r="3.5" fill="url(#aH)"/>
<circle cx="1737.1" cy="239.3" r="3.4" fill="url(#aH)"/>
<circle cx="1667.7" cy="290.2" r="3.5" fill="url(#aH)"/>
<circle cx="1639.7" cy="213.5" r="3.6" fill="url(#aH)"/>
<circle cx="1756.4" cy="278.3" r="3.5" fill="url(#aH)"/>
<circle cx="1798.7" cy="382.4" r="3.5" fill="url(#aH)"/>
<circle cx="1761.4" cy="186.9" r="3.5" fill="url(#aH)"/>
<circle cx="1811.1" cy="126.8" r="3.5" fill="url(#aH)"/>
<circle cx="1702.3" cy="254.9" r="3.5" fill="url(#aH)"/>
<circle cx="1885.6" cy="239.2" r="3.5" fill="url(#aH)"/>
<circle cx="1572.7" cy="229.1" r="3.3" fill="url(#aH)"/>
<circle cx="1844.4" cy="183.0" r="3.5" fill="url(#aH)"/>
<circle cx="1726.1" cy="202.2" r="3.5" fill="url(#aH)"/>
<circle cx="1664.4" cy="346.5" r="3.5" fill="url(#aH)"/>
<circle cx="1831.8" cy="246.9" r="3.4" fill="url(#aH)"/>
<circle cx="1612.7" cy="145.1" r="3.5" fill="url(#aH)"/>
<circle cx="1855.6" cy="396.8" r="3.5" fill="url(#aH)"/>
<circle cx="1706.9" cy="355.0" r="3.7" fill="url(#aH)"/>
<circle cx="1658.7" cy="290.9" r="3.7" fill="url(#aH)"/>
<circle cx="1754.2" cy="413.2" r="3.5" fill="url(#aH)"/>
<circle cx="1760.7" cy="87.5" r="3.5" fill="url(#aH)"/>
<circle cx="1871.1" cy="128.4" r="3.7" fill="url(#aH)"/>
<circle cx="1701.0" cy="213.1" r="3.5" fill="url(#aH)"/>
<circle cx="1732.4" cy="202.6" r="3.5" fill="url(#aH)"/>
<circle cx="1679.0" cy="214.0" r="3.7" fill="url(#aH)"/>
<circle cx="1564.5" cy="280.2" r="3.5" fill="url(#aH)"/>
<circle cx="1673.6" cy="247.9" r="3.6" fill="url(#aH)"/>
<circle cx="1917.0" cy="105.2" r="3.5" fill="url(#aH)"/>
<circle cx="1844.6" cy="120.3" r="3.5" fill="url(#aH)"/>
<circle cx="1765.3" cy="133.3" r="3.5" fill="url(#aH)"/>
<circle cx="1892.2" cy="165.4" r="3.5" fill="url(#aH)"/>
<circle cx="1766.0" cy="241.9" r="3.5" fill="url(#aH)"/>
<circle cx="1816.3" cy="84.9" r="3.5" fill="url(#aH)"/>
<circle cx="1897.4" cy="211.8" r="3.5" fill="url(#aH)"/>
<circle cx="1714.4" cy="224.5" r="3.3" fill="url(#aH)"/>
<circle cx="1872.6" cy="92.8" r="3.5" fill="url(#aH)"/>
<circle cx="1613.4" cy="219.0" r="3.5" fill="url(#aH)"/>
<circle cx="1862.1" cy="222.3" r="3.5" fill="url(#aH)"/>
<circle cx="1752.2" cy="362.2" r="3.5" fill="url(#aH)"/>
<circle cx="1832.3" cy="265.0" r="3.8" fill="url(#aH)"/>
<circle cx="1848.6" cy="260.0" r="3.4" fill="url(#aH)"/>
<circle cx="1646.1" cy="158.2" r="3.5" fill="url(#aH)"/>
<circle cx="1661.8" cy="88.2" r="3.5" fill="url(#aH)"/>
<circle cx="1648.7" cy="95.4" r="3.5" fill="url(#aH)"/>
<circle cx="1636.9" cy="296.8" r="8.1" fill="url(#aC)"/>
<circle cx="1790.2" cy="135.9" r="8.1" fill="url(#aC)"/>
<circle cx="1694.5" cy="328.2" r="8.1" fill="url(#aC)"/>
<circle cx="1787.5" cy="401.4" r="8.1" fill="url(#aC)"/>
<circle cx="1684.0" cy="94.1" r="8.1" fill="url(#aC)"/>
<circle cx="1844.4" cy="419.7" r="8.1" fill="url(#aC)"/>
<circle cx="1843.8" cy="133.3" r="8.1" fill="url(#aC)"/>
<circle cx="1691.9" cy="223.5" r="8.1" fill="url(#aC)"/>
<circle cx="1785.6" cy="237.9" r="8.1" fill="url(#aC)"/>
<circle cx="1703.6" cy="296.8" r="8.1" fill="url(#aC)"/>
<circle cx="1871.9" cy="277.8" r="8.1" fill="url(#aC)"/>
<circle cx="1752.2" cy="164.7" r="8.1" fill="url(#aC)"/>
<circle cx="1762.0" cy="396.2" r="8.1" fill="url(#aC)"/>
<circle cx="1851.6" cy="147.7" r="8.1" fill="url(#aC)"/>
<circle cx="1731.1" cy="113.7" r="8.1" fill="url(#aC)"/>
<circle cx="1799.3" cy="96.7" r="8.1" fill="url(#aC)"/>
<circle cx="1715.4" cy="164.7" r="8.1" fill="url(#aC)"/>
<circle cx="1747.0" cy="104.5" r="8.1" fill="url(#aC)"/>
<circle cx="1630.4" cy="205.2" r="8.1" fill="url(#aC)"/>
<circle cx="1698.4" cy="368.7" r="8.1" fill="url(#aC)"/>
<circle cx="1616.0" cy="375.3" r="8.1" fill="url(#aC)"/>
<circle cx="1769.2" cy="160.8" r="8.1" fill="url(#aC)"/>
<circle cx="1843.8" cy="268.0" r="8.1" fill="url(#aC)"/>
<circle cx="1816.3" cy="272.6" r="8.1" fill="url(#aC)"/>
<circle cx="1801.5" cy="259.2" r="3.6" fill="url(#aH)"/>
<circle cx="1685.3" cy="317.7" r="3.5" fill="url(#aH)"/>
<circle cx="1672.3" cy="101.9" r="3.5" fill="url(#aH)"/>
<circle cx="1655.9" cy="400.1" r="3.5" fill="url(#aH)"/>
<circle cx="1649.1" cy="388.4" r="3.3" fill="url(#aH)"/>
<circle cx="1868.6" cy="262.8" r="3.5" fill="url(#aH)"/>
<circle cx="1800.6" cy="172.6" r="3.5" fill="url(#aH)"/>
<circle cx="1613.4" cy="299.4" r="3.5" fill="url(#aH)"/>
<circle cx="1551.9" cy="198.1" r="3.5" fill="url(#aH)"/>
<circle cx="1715.4" cy="261.5" r="3.5" fill="url(#aH)"/>
<circle cx="1809.1" cy="378.5" r="3.5" fill="url(#aH)"/>
<circle cx="1770.5" cy="258.9" r="3.5" fill="url(#aH)"/>
<circle cx="1756.8" cy="369.4" r="3.5" fill="url(#aH)"/>
<circle cx="1670.9" cy="197.4" r="3.5" fill="url(#aH)"/>
<circle cx="1591.0" cy="124.0" r="3.5" fill="url(#aH)"/>
<circle cx="1561.1" cy="250.4" r="3.5" fill="url(#aH)"/>
<circle cx="1640.9" cy="264.7" r="3.5" fill="url(#aH)"/>
<circle cx="1862.7" cy="420.4" r="3.5" fill="url(#aH)"/>
<circle cx="1707.6" cy="222.2" r="3.5" fill="url(#aH)"/>
<circle cx="1578.4" cy="195.5" r="3.6" fill="url(#aH)"/>
<circle cx="1834.6" cy="325.6" r="3.5" fill="url(#aH)"/>
<circle cx="1595.1" cy="264.7" r="3.5" fill="url(#aH)"/>
<circle cx="1893.5" cy="248.4" r="3.5" fill="url(#aH)"/>
<circle cx="1823.5" cy="87.5" r="3.5" fill="url(#aH)"/>
<circle cx="1758.1" cy="290.2" r="3.5" fill="url(#aH)"/>
<circle cx="1660.5" cy="149.0" r="3.5" fill="url(#aH)"/>
<circle cx="1842.5" cy="398.8" r="3.5" fill="url(#aH)"/>
<circle cx="1779.2" cy="319.0" r="3.7" fill="url(#aH)"/>
<circle cx="1867.3" cy="135.9" r="3.5" fill="url(#aH)"/>
<circle cx="1598.2" cy="302.1" r="3.4" fill="url(#aH)"/>
<circle cx="1724.6" cy="149.0" r="3.5" fill="url(#aH)"/>
<circle cx="1749.6" cy="321.6" r="3.5" fill="url(#aH)"/>
<circle cx="1707.6" cy="288.3" r="3.5" fill="url(#aH)"/>
<circle cx="1701.0" cy="168.6" r="3.5" fill="url(#aH)"/>
<circle cx="1676.8" cy="422.3" r="3.5" fill="url(#aH)"/>
<circle cx="1833.3" cy="371.3" r="3.5" fill="url(#aH)"/>
<circle cx="1617.3" cy="159.5" r="3.5" fill="url(#aH)"/>
<circle cx="1795.9" cy="85.3" r="3.8" fill="url(#aH)"/>
<circle cx="1628.5" cy="285.9" r="3.4" fill="url(#aH)"/>
<circle cx="1791.5" cy="64.7" r="3.5" fill="url(#aH)"/>
<circle cx="1858.5" cy="136.6" r="3.6" fill="url(#aH)"/>
<circle cx="1889.0" cy="259.1" r="3.7" fill="url(#aH)"/>
<circle cx="1644.1" cy="69.2" r="3.5" fill="url(#aH)"/>
<circle cx="1631.7" cy="344.5" r="3.5" fill="url(#aH)"/>
<circle cx="1783.3" cy="110.2" r="3.6" fill="url(#aH)"/>
<circle cx="1719.3" cy="101.3" r="3.5" fill="url(#aH)"/>
<circle cx="1766.6" cy="163.4" r="3.5" fill="url(#aH)"/>
<circle cx="1770.8" cy="201.5" r="3.5" fill="url(#aH)"/>
<circle cx="1780.3" cy="311.5" r="3.6" fill="url(#aH)"/>
<circle cx="1661.8" cy="253.6" r="3.5" fill="url(#aH)"/>
<circle cx="1656.2" cy="143.2" r="3.5" fill="url(#aH)"/>
<circle cx="1681.4" cy="377.9" r="3.5" fill="url(#aH)"/>
<circle cx="1618.6" cy="271.3" r="3.5" fill="url(#aH)"/>
<circle cx="1682.3" cy="129.8" r="3.8" fill="url(#aH)"/>
<circle cx="1657.9" cy="207.9" r="3.5" fill="url(#aH)"/>
<circle cx="1691.9" cy="318.4" r="3.5" fill="url(#aH)"/>
<circle cx="1685.9" cy="120.5" r="3.4" fill="url(#aH)"/>
<circle cx="1556.5" cy="249.7" r="3.5" fill="url(#aH)"/>
<circle cx="1724.6" cy="68.6" r="3.5" fill="url(#aH)"/>
<circle cx="1871.3" cy="169.9" r="8.5" fill="url(#aC)"/>
<circle cx="1837.2" cy="256.2" r="8.5" fill="url(#aC)"/>
<circle cx="1716.7" cy="283.7" r="8.5" fill="url(#aC)"/>
<circle cx="1786.9" cy="341.9" r="8.5" fill="url(#aC)"/>
<circle cx="1647.4" cy="286.3" r="8.5" fill="url(#aC)"/>
<circle cx="1712.8" cy="234.0" r="8.5" fill="url(#aC)"/>
<circle cx="1808.5" cy="247.7" r="8.5" fill="url(#aC)"/>
<circle cx="1810.4" cy="356.9" r="8.5" fill="url(#aC)"/>
<circle cx="1794.7" cy="313.8" r="8.5" fill="url(#aC)"/>
<circle cx="1743.7" cy="290.2" r="8.5" fill="url(#aC)"/>
<circle cx="1664.4" cy="258.2" r="3.5" fill="url(#aH)"/>
<circle cx="1826.8" cy="234.7" r="3.5" fill="url(#aH)"/>
<circle cx="1836.4" cy="343.4" r="3.6" fill="url(#aH)"/>
<circle cx="1845.1" cy="373.9" r="3.5" fill="url(#aH)"/>
<circle cx="1663.1" cy="177.8" r="3.5" fill="url(#aH)"/>
<circle cx="1889.6" cy="134.6" r="3.5" fill="url(#aH)"/>
<circle cx="1634.5" cy="377.7" r="3.6" fill="url(#aH)"/>
<circle cx="1695.5" cy="103.0" r="3.6" fill="url(#aH)"/>
<circle cx="1635.6" cy="107.2" r="3.5" fill="url(#aH)"/>
<circle cx="1564.4" cy="309.2" r="3.5" fill="url(#aH)"/>
<circle cx="1770.7" cy="397.2" r="3.7" fill="url(#aH)"/>
<circle cx="1885.0" cy="172.6" r="3.5" fill="url(#aH)"/>
<circle cx="1667.0" cy="166.0" r="3.5" fill="url(#aH)"/>
<circle cx="1784.9" cy="84.9" r="3.5" fill="url(#aH)"/>
<circle cx="1582.7" cy="188.9" r="3.5" fill="url(#aH)"/>
<circle cx="1584.6" cy="163.4" r="3.5" fill="url(#aH)"/>
<circle cx="1530.4" cy="232.0" r="3.5" fill="url(#aH)"/>
<circle cx="1746.5" cy="303.9" r="3.5" fill="url(#aH)"/>
<circle cx="1757.5" cy="373.9" r="3.5" fill="url(#aH)"/>
<circle cx="1823.9" cy="222.5" r="3.4" fill="url(#aH)"/>
<circle cx="1782.3" cy="194.8" r="3.5" fill="url(#aH)"/>
<circle cx="1773.2" cy="143.8" r="3.5" fill="url(#aH)"/>
<circle cx="1864.8" cy="144.1" r="3.6" fill="url(#aH)"/>
<circle cx="1662.0" cy="128.5" r="3.7" fill="url(#aH)"/>
<circle cx="1549.3" cy="219.0" r="3.5" fill="url(#aH)"/>
<circle cx="1756.2" cy="419.0" r="3.5" fill="url(#aH)"/>
<circle cx="1796.7" cy="236.6" r="3.5" fill="url(#aH)"/>
<circle cx="1790.4" cy="82.8" r="3.6" fill="url(#aH)"/>
<circle cx="1772.8" cy="168.6" r="3.5" fill="url(#aH)"/>
<circle cx="1859.2" cy="248.3" r="3.7" fill="url(#aH)"/>
<circle cx="1638.3" cy="251.2" r="3.7" fill="url(#aH)"/>
<circle cx="1790.2" cy="300.1" r="3.5" fill="url(#aH)"/>
<circle cx="1864.7" cy="193.5" r="8.8" fill="url(#aC)"/>
<circle cx="1811.7" cy="331.4" r="8.8" fill="url(#aC)"/>
<circle cx="1830.7" cy="338.6" r="8.8" fill="url(#aC)"/>
<circle cx="1774.5" cy="173.9" r="8.8" fill="url(#aC)"/>
<circle cx="1634.3" cy="202.6" r="8.8" fill="url(#aC)"/>
<circle cx="1670.9" cy="134.6" r="8.8" fill="url(#aC)"/>
<circle cx="1630.4" cy="198.7" r="8.8" fill="url(#aC)"/>
<circle cx="1648.7" cy="177.8" r="8.8" fill="url(#aC)"/>
<circle cx="1613.4" cy="115.0" r="8.8" fill="url(#aC)"/>
<circle cx="1880.7" cy="166.8" r="3.6" fill="url(#aH)"/>
<circle cx="1909.2" cy="332.1" r="3.5" fill="url(#aH)"/>
<circle cx="1684.7" cy="406.0" r="3.5" fill="url(#aH)"/>
<circle cx="1722.0" cy="231.4" r="3.5" fill="url(#aH)"/>
<circle cx="1898.7" cy="340.6" r="3.5" fill="url(#aH)"/>
<circle cx="1665.1" cy="445.9" r="3.5" fill="url(#aH)"/>
<circle cx="1585.9" cy="123.5" r="3.5" fill="url(#aH)"/>
<circle cx="1880.4" cy="198.7" r="3.5" fill="url(#aH)"/>
<circle cx="1665.7" cy="275.9" r="3.5" fill="url(#aH)"/>
<circle cx="1594.7" cy="135.8" r="3.4" fill="url(#aH)"/>
<circle cx="1786.2" cy="253.6" r="3.5" fill="url(#aH)"/>
<circle cx="1584.6" cy="91.5" r="3.5" fill="url(#aH)"/>
<circle cx="1808.5" cy="141.2" r="3.5" fill="url(#aH)"/>
<circle cx="1743.1" cy="118.9" r="3.5" fill="url(#aH)"/>
<circle cx="1725.9" cy="431.0" r="3.6" fill="url(#aH)"/>
<circle cx="1731.1" cy="397.5" r="3.5" fill="url(#aH)"/>
<circle cx="1612.0" cy="292.0" r="3.6" fill="url(#aH)"/>
<circle cx="1619.6" cy="182.8" r="3.4" fill="url(#aH)"/>
<circle cx="1727.3" cy="428.9" r="3.7" fill="url(#aH)"/>
<circle cx="1644.8" cy="134.6" r="3.5" fill="url(#aH)"/>
<circle cx="1785.5" cy="89.8" r="3.7" fill="url(#aH)"/>
<circle cx="1698.5" cy="431.4" r="3.5" fill="url(#aH)"/>
<circle cx="1837.9" cy="437.4" r="3.5" fill="url(#aH)"/>
<circle cx="1705.0" cy="98.0" r="3.5" fill="url(#aH)"/>
<circle cx="1663.1" cy="210.5" r="3.5" fill="url(#aH)"/>
<circle cx="1800.0" cy="391.6" r="3.5" fill="url(#aH)"/>
<circle cx="1737.8" cy="396.2" r="3.5" fill="url(#aH)"/>
<circle cx="1730.3" cy="257.7" r="3.6" fill="url(#aH)"/>
<circle cx="1749.6" cy="306.6" r="3.5" fill="url(#aH)"/>
<circle cx="1782.5" cy="238.0" r="3.6" fill="url(#aH)"/>
<circle cx="1665.7" cy="375.3" r="3.5" fill="url(#aH)"/>
<circle cx="1640.9" cy="222.2" r="3.5" fill="url(#aH)"/>
<circle cx="1798.0" cy="164.7" r="3.5" fill="url(#aH)"/>
<circle cx="1605.6" cy="90.8" r="3.5" fill="url(#aH)"/>
<circle cx="1800.2" cy="336.5" r="3.8" fill="url(#aH)"/>
<circle cx="1735.9" cy="285.4" r="3.3" fill="url(#aH)"/>
<circle cx="1718.0" cy="364.1" r="3.5" fill="url(#aH)"/>
<circle cx="1814.4" cy="257.5" r="3.5" fill="url(#aH)"/>
<circle cx="1830.1" cy="343.9" r="3.5" fill="url(#aH)"/>
<circle cx="1606.1" cy="83.8" r="3.3" fill="url(#aH)"/>
<circle cx="1896.8" cy="79.0" r="3.5" fill="url(#aH)"/>
<circle cx="1889.9" cy="109.5" r="3.3" fill="url(#aH)"/>
<circle cx="1850.3" cy="343.2" r="3.5" fill="url(#aH)"/>
<circle cx="1877.8" cy="210.5" r="3.5" fill="url(#aH)"/>
<circle cx="1605.6" cy="307.2" r="3.5" fill="url(#aH)"/>
<circle cx="1861.4" cy="310.5" r="3.5" fill="url(#aH)"/>
<circle cx="1856.9" cy="252.3" r="3.5" fill="url(#aH)"/>
<circle cx="1652.5" cy="376.0" r="3.6" fill="url(#aH)"/>
<circle cx="1805.9" cy="226.8" r="3.5" fill="url(#aH)"/>
<circle cx="1880.4" cy="365.4" r="3.5" fill="url(#aH)"/>
<circle cx="1843.1" cy="115.0" r="3.5" fill="url(#aH)"/>
<circle cx="1732.6" cy="132.0" r="3.5" fill="url(#aH)"/>
<circle cx="1796.7" cy="417.1" r="3.5" fill="url(#aH)"/>
<circle cx="1702.3" cy="279.1" r="3.5" fill="url(#aH)"/>
<circle cx="1690.6" cy="286.3" r="3.5" fill="url(#aH)"/>
<circle cx="1648.1" cy="293.7" r="3.7" fill="url(#aH)"/>
<circle cx="1692.1" cy="102.7" r="3.7" fill="url(#aH)"/>
<circle cx="1789.5" cy="363.5" r="3.5" fill="url(#aH)"/>
<circle cx="1727.2" cy="434.1" r="3.5" fill="url(#aH)"/>
<circle cx="1546.9" cy="243.6" r="3.6" fill="url(#aH)"/>
<circle cx="1684.0" cy="234.2" r="3.7" fill="url(#aH)"/>
<circle cx="1679.7" cy="136.9" r="3.5" fill="url(#aH)"/>
<circle cx="1650.8" cy="135.5" r="3.7" fill="url(#aH)"/>
<circle cx="1892.2" cy="139.9" r="3.5" fill="url(#aH)"/>
<circle cx="1798.0" cy="398.1" r="3.5" fill="url(#aH)"/>
<circle cx="1853.8" cy="139.4" r="3.6" fill="url(#aH)"/>
<circle cx="1605.6" cy="377.9" r="3.5" fill="url(#aH)"/>
<circle cx="1825.5" cy="287.6" r="3.5" fill="url(#aH)"/>
<circle cx="1823.5" cy="108.5" r="3.5" fill="url(#aH)"/>
<circle cx="1652.6" cy="304.0" r="3.5" fill="url(#aH)"/>
<circle cx="1886.4" cy="282.4" r="3.8" fill="url(#aH)"/>
<circle cx="1780.0" cy="185.4" r="3.7" fill="url(#aH)"/>
<circle cx="1853.6" cy="425.5" r="3.6" fill="url(#aH)"/>
<circle cx="1621.0" cy="181.7" r="3.8" fill="url(#aH)"/>
<circle cx="1726.0" cy="172.3" r="3.8" fill="url(#aH)"/>
<circle cx="1699.7" cy="145.1" r="9.5" fill="url(#aC)"/>
<circle cx="1781.0" cy="162.1" r="9.5" fill="url(#aC)"/>
<circle cx="1716.7" cy="132.0" r="9.5" fill="url(#aC)"/>
<circle cx="1784.9" cy="155.6" r="9.5" fill="url(#aC)"/>
<circle cx="1673.6" cy="125.5" r="9.5" fill="url(#aC)"/>
<circle cx="1843.1" cy="165.4" r="3.9" fill="url(#aS)"/>
<circle cx="1834.6" cy="294.2" r="4.6" fill="url(#aS)"/>
<circle cx="1737.0" cy="350.4" r="5.2" fill="url(#aS)"/>
<circle cx="1663.1" cy="188.3" r="5.9" fill="url(#aS)"/>
<circle cx="1629.1" cy="156.9" r="6.5" fill="url(#aS)"/>
<circle cx="1847.7" cy="207.9" r="6.5" fill="url(#aS)"/>
<circle cx="1808.5" cy="209.8" r="7.2" fill="url(#aS)"/>
<circle cx="1735.0" cy="320.3" r="7.2" fill="url(#aS)"/>
<circle cx="1839.9" cy="193.5" r="2.0" fill="url(#aN)"/>
<circle cx="1657.2" cy="171.3" r="2.6" fill="url(#aN)"/>
<circle cx="1834.6" cy="184.3" r="2.6" fill="url(#aN)"/>
<circle cx="1832.0" cy="265.4" r="2.6" fill="url(#aN)"/>
<circle cx="1798.0" cy="233.4" r="3.9" fill="url(#aN)"/>
<circle cx="1653.9" cy="164.7" r="4.6" fill="url(#aN)"/>
<circle cx="1726.5" cy="340.6" r="5.2" fill="url(#aN)"/>
<circle cx="1710.2" cy="305.9" r="2.6" fill="url(#aO)"/>
<circle cx="1730.0" cy="277.2" r="3.3" fill="url(#aO)"/>
<circle cx="1653.9" cy="371.3" r="3.3" fill="url(#aO)"/>
<circle cx="1684.0" cy="134.6" r="3.9" fill="url(#aO)"/>
<circle cx="1643.5" cy="190.9" r="3.9" fill="url(#aO)"/>
<circle cx="1684.0" cy="358.3" r="3.9" fill="url(#aO)"/>
<circle cx="1636.3" cy="153.6" r="4.6" fill="url(#aO)"/>
<circle cx="1877.8" cy="146.4" r="4.6" fill="url(#aO)"/>
<circle cx="1863.4" cy="166.0" r="4.6" fill="url(#aO)"/>
<circle cx="1835.9" cy="175.2" r="4.6" fill="url(#aO)"/>
<circle cx="1824.2" cy="190.9" r="4.6" fill="url(#aO)"/>
<circle cx="1826.8" cy="200.0" r="4.6" fill="url(#aO)"/>
<circle cx="1873.9" cy="192.2" r="4.6" fill="url(#aO)"/>
<circle cx="1736.3" cy="299.4" r="4.6" fill="url(#aO)"/>
<circle cx="1746.3" cy="269.3" r="4.6" fill="url(#aO)"/>
<circle cx="1864.7" cy="273.2" r="4.6" fill="url(#aO)"/>
<circle cx="1851.0" cy="254.9" r="4.6" fill="url(#aO)"/>
<circle cx="1757.5" cy="313.8" r="4.6" fill="url(#aO)"/>
<circle cx="1824.2" cy="260.2" r="4.6" fill="url(#aO)"/>
<circle cx="1616.0" cy="173.9" r="5.2" fill="url(#aO)"/>
<circle cx="1636.9" cy="184.3" r="5.2" fill="url(#aO)"/>
<circle cx="1648.7" cy="200.7" r="5.2" fill="url(#aO)"/>
<circle cx="1736.3" cy="104.5" r="5.2" fill="url(#aO)"/>
<circle cx="1732.4" cy="209.2" r="5.2" fill="url(#aO)"/>
<circle cx="1743.1" cy="177.8" r="5.2" fill="url(#aO)"/>
<circle cx="1784.9" cy="215.7" r="5.2" fill="url(#aO)"/>
<circle cx="1636.9" cy="385.7" r="5.2" fill="url(#aO)"/>
<circle cx="1694.5" cy="183.0" r="5.5" fill="url(#aO)"/>
<circle cx="1841.8" cy="215.7" r="5.5" fill="url(#aO)"/>
<circle cx="1882.4" cy="296.1" r="5.5" fill="url(#aO)"/>
<circle cx="1741.8" cy="327.5" r="5.5" fill="url(#aO)"/>
<circle cx="1667.0" cy="73.2" r="5.9" fill="url(#aO)"/>
<circle cx="1779.0" cy="113.0" r="5.9" fill="url(#aO)"/>
<circle cx="1780.4" cy="137.2" r="5.9" fill="url(#aO)"/>
<circle cx="1801.3" cy="137.2" r="5.9" fill="url(#aO)"/>
<circle cx="1869.9" cy="204.6" r="5.9" fill="url(#aO)"/>
<circle cx="1638.9" cy="329.5" r="5.9" fill="url(#aO)"/>
<circle cx="1723.3" cy="274.5" r="5.9" fill="url(#aO)"/>
<circle cx="1839.9" cy="294.2" r="5.9" fill="url(#aO)"/>
<circle cx="1779.0" cy="328.8" r="5.9" fill="url(#aO)"/>
<circle cx="1901.3" cy="130.7" r="6.3" fill="url(#aO)"/>
<circle cx="1824.2" cy="222.3" r="6.3" fill="url(#aO)"/>
<circle cx="1577.4" cy="279.1" r="6.3" fill="url(#aO)"/>
<circle cx="1655.9" cy="381.1" r="6.3" fill="url(#aO)"/>
<circle cx="1781.7" cy="287.6" r="6.3" fill="url(#aO)"/>
<circle cx="1757.5" cy="325.6" r="6.3" fill="url(#aO)"/>
<circle cx="1761.4" cy="351.1" r="6.3" fill="url(#aO)"/>
<circle cx="1826.1" cy="383.8" r="6.3" fill="url(#aO)"/>
<circle cx="1784.3" cy="407.9" r="6.3" fill="url(#aO)"/>
<circle cx="1625.2" cy="89.5" r="6.5" fill="url(#aO)"/>
<circle cx="1681.4" cy="145.7" r="6.5" fill="url(#aO)"/>
<circle cx="1618.6" cy="205.9" r="6.5" fill="url(#aO)"/>
<circle cx="1733.7" cy="154.2" r="6.5" fill="url(#aO)"/>
<circle cx="1718.0" cy="331.4" r="6.5" fill="url(#aO)"/>
<circle cx="1695.8" cy="236.6" r="6.5" fill="url(#aO)"/>
<circle cx="1697.1" cy="452.4" r="6.5" fill="url(#aO)"/>
<circle cx="1628.4" cy="247.7" r="6.8" fill="url(#aO)"/>
<circle cx="1846.4" cy="356.9" r="6.8" fill="url(#aO)"/>
<circle cx="1584.0" cy="222.3" r="7.2" fill="url(#aO)"/>
<circle cx="1755.5" cy="126.1" r="7.2" fill="url(#aO)"/>
<circle cx="1722.0" cy="298.7" r="7.2" fill="url(#aO)"/>
<circle cx="1834.6" cy="158.2" r="7.6" fill="url(#aO)"/>
<circle cx="1599.7" cy="138.6" r="7.8" fill="url(#aO)"/>
<circle cx="1699.7" cy="130.7" r="7.8" fill="url(#aO)"/>
<circle cx="1681.4" cy="215.7" r="7.8" fill="url(#aO)"/>
<circle cx="1822.2" cy="313.1" r="7.8" fill="url(#aO)"/>
<circle cx="1797.4" cy="265.4" r="8.5" fill="url(#aO)"/>
<circle cx="1812.4" cy="228.1" r="3.3" fill="url(#aF)"/>
<circle cx="1842.5" cy="223.6" r="3.9" fill="url(#aF)"/>
<circle cx="1834.0" cy="143.8" r="4.6" fill="url(#aF)"/>
<circle cx="1615.4" cy="134.6" r="5.9" fill="url(#aF)"/>
<circle cx="1686.6" cy="192.8" r="5.9" fill="url(#aF)"/>
<circle cx="1720.0" cy="310.5" r="5.9" fill="url(#aF)"/>
<circle cx="1731.1" cy="366.8" r="5.9" fill="url(#aF)"/>
<circle cx="1854.2" cy="304.0" r="5.9" fill="url(#aF)"/>
<circle cx="1791.5" cy="190.9" r="6.5" fill="url(#aF)"/>
<circle cx="1854.2" cy="247.1" r="3.9" fill="url(#aL)"/>
<circle cx="1815.7" cy="181.7" r="8.5" fill="url(#aL)"/>
<circle cx="1702.3" cy="358.3" r="8.5" fill="url(#aL)"/>
<circle cx="1767.3" cy="223.6" r="9.2" fill="url(#aL)"/>
<circle cx="1657.9" cy="151.6" r="9.4" fill="url(#aL)"/>
<path d="M1500.0 98.7L1856.2 138.3M1835.3 504.0L1536.9 417.3M1536.9 417.3L1500.0 98.7M1943.2 65.1L1856.2 138.3M1917.0 340.0L1835.3 504.0" stroke="#000" stroke-width="1.2" fill="none" stroke-linecap="round"/>
<path d="M1856.2 138.3L1835.3 504.0" stroke="#000" stroke-width="1.6" fill="none" stroke-linecap="round"/>
<text x="1155.2" y="519.8" font-size="36" text-anchor="middle">CEE</text>
<text x="1699.5" y="514.2" font-size="36" text-anchor="middle">ACE</text>
<text x="917.0" y="62.0" font-size="57" font-weight="bold">b</text>
<text x="1480.0" y="62.6" font-size="57" font-weight="bold">c</text>
<polyline points="341.6,1130.6 343.1,1129.3 344.5,1127.7 346.0,1125.8 347.5,1123.7 348.9,1121.4 350.4,1118.9 351.9,1116.1 353.3,1112.8 354.8,1109.3 356.3,1105.4 357.7,1101.2 359.2,1096.3 360.7,1090.9 362.2,1085.4 363.6,1079.6 365.1,1073.5 366.6,1067.7 368.0,1062.5 369.5,1057.4 371.0,1052.7 372.4,1048.5 373.9,1045.0 375.4,1041.8 376.8,1038.9 378.3,1036.4 379.8,1034.2 381.2,1032.3 382.7,1030.5 384.2,1029.0 385.6,1027.5 387.1,1026.2 388.6,1024.9 390.0,1023.7 391.5,1022.6 393.0,1021.5 394.4,1020.6 395.9,1019.8 397.4,1019.1 398.9,1018.5 400.3,1017.8 401.8,1017.2 403.3,1016.7 404.7,1016.2 406.2,1015.7 407.7,1015.3 409.1,1014.8 410.6,1014.4 412.1,1014.1 413.5,1013.7 415.0,1013.4 416.5,1013.0 417.9,1012.7 419.4,1012.4 420.9,1012.2 422.3,1011.9 423.8,1011.6 425.3,1011.3 426.7,1011.1 428.2,1010.8 429.7,1010.5 431.1,1010.2 432.6,1009.9 434.1,1009.6 435.5,1009.4 437.0,1009.1 438.5,1008.8 440.0,1008.5 441.4,1008.2 442.9,1008.0 444.4,1007.7 445.8,1007.4 447.3,1007.1 448.8,1006.8 450.2,1006.6 451.7,1006.3 453.2,1006.0 454.6,1005.7 456.1,1005.4 457.6,1005.1 459.0,1004.8 460.5,1004.4 462.0,1004.1 463.4,1003.8 464.9,1003.4 466.4,1003.1 467.8,1002.8 469.3,1002.4 470.8,1002.1 472.2,1001.7 473.7,1001.3 475.2,1000.9 476.7,1000.6 478.1,1000.1 479.6,999.7 481.1,999.3 482.5,998.9 484.0,998.4 485.5,997.9 486.9,997.5 488.4,997.0 489.9,996.5 491.3,995.9 492.8,995.4 494.3,994.9 495.7,994.3 497.2,993.7 498.7,993.1 500.1,992.5 501.6,991.9 503.1,991.3 504.5,990.7 506.0,990.0 507.5,989.4 508.9,988.7 510.4,988.0 511.9,987.2 513.4,986.5 514.8,985.7 516.3,984.9 517.8,984.1 519.2,983.2 520.7,982.3 522.2,981.4 523.6,980.5 525.1,979.4 526.6,978.4 528.0,977.3 529.5,976.1 531.0,974.8 532.4,973.5 533.9,972.1 535.4,970.6 536.8,968.9 538.3,967.2 539.8,965.4 541.2,963.5 542.7,961.7 544.2,959.8 545.6,958.1 547.1,956.3 548.6,954.5 550.0,952.7 551.5,950.9 553.0,949.1 554.5,947.3 555.9,945.4 557.4,943.5 558.9,941.6 560.3,939.7 561.8,937.8 563.3,935.8 564.7,933.8 566.2,931.7 567.7,929.7 569.1,927.6 570.6,925.5 572.1,923.4 573.5,921.3 575.0,919.2 576.5,917.1 577.9,915.0 579.4,912.9 580.9,910.8 582.3,908.7 583.8,906.5 585.3,904.4 586.7,902.2 588.2,900.2 589.7,898.2 591.2,896.3 592.6,894.5 594.1,892.8 595.6,891.2 597.0,889.6 598.5,888.0 600.0,886.5 601.4,885.1 602.9,883.7 604.4,882.3 605.8,881.0 607.3,879.7 608.8,878.5 610.2,877.2 611.7,875.9 613.2,874.6 614.6,873.3 616.1,872.0 617.6,870.7 619.0,869.3 620.5,868.0 622.0,866.5 623.4,865.1 624.9,863.6 626.4,862.1 627.9,860.5 629.3,859.0 630.8,857.4 632.3,855.8 633.7,854.1 635.2,852.5 636.7,850.8 638.1,849.0 639.6,847.3 641.1,845.5 642.5,843.7 644.0,841.8 645.5,839.9 646.9,838.0 648.4,836.1 649.9,834.1 651.3,832.1 652.8,830.0 654.3,827.9 655.7,825.7 657.2,823.5 658.7,821.3 660.1,819.0 661.6,816.7 663.1,814.2 664.5,811.7 666.0,809.2 667.5,806.5 669.0,803.8 670.4,801.0 671.9,798.2 673.4,795.4 674.8,792.5 676.3,789.5 677.8,786.6 679.2,783.6 680.7,780.6 682.2,777.6 683.6,774.6 685.1,771.4 686.6,768.2 688.0,765.0 689.5,761.7 691.0,758.4 692.4,755.0 693.9,751.7 695.4,748.4 696.8,745.1 698.3,741.8 699.8,738.6 701.2,735.5 702.7,732.4 704.2,729.3 705.7,726.2 707.1,723.2 708.6,720.2 710.1,717.2 711.5,714.2 713.0,711.2 714.5,708.3 715.9,705.4 717.4,702.5 718.9,699.6 720.3,696.7 721.8,693.9" fill="none" stroke="#0a820a" stroke-width="2.6" stroke-linejoin="round" stroke-dasharray="8.2 5.6"/>
<polyline points="344.0,1130.6 345.4,1129.6 346.8,1128.2 348.2,1126.6 349.6,1124.7 350.9,1122.7 352.3,1120.5 353.7,1118.2 355.1,1115.4 356.5,1112.3 357.9,1108.8 359.3,1105.1 360.7,1101.1 362.1,1096.4 363.4,1091.3 364.8,1086.2 366.2,1081.4 367.6,1076.4 369.0,1071.6 370.4,1066.8 371.8,1062.0 373.2,1057.1 374.6,1052.6 375.9,1048.9 377.3,1046.0 378.7,1043.4 380.1,1041.2 381.5,1039.2 382.9,1037.4 384.3,1035.7 385.7,1034.2 387.1,1032.8 388.4,1031.6 389.8,1030.4 391.2,1029.3 392.6,1028.2 394.0,1027.3 395.4,1026.3 396.8,1025.5 398.2,1024.7 399.6,1024.0 400.9,1023.4 402.3,1022.8 403.7,1022.2 405.1,1021.7 406.5,1021.3 407.9,1020.8 409.3,1020.4 410.7,1020.0 412.1,1019.6 413.4,1019.2 414.8,1018.8 416.2,1018.4 417.6,1018.0 419.0,1017.7 420.4,1017.3 421.8,1016.9 423.2,1016.6 424.6,1016.3 425.9,1015.9 427.3,1015.6 428.7,1015.3 430.1,1014.9 431.5,1014.6 432.9,1014.3 434.3,1013.9 435.7,1013.6 437.0,1013.2 438.4,1012.9 439.8,1012.6 441.2,1012.2 442.6,1011.9 444.0,1011.6 445.4,1011.2 446.8,1010.9 448.2,1010.6 449.5,1010.2 450.9,1009.9 452.3,1009.5 453.7,1009.2 455.1,1008.8 456.5,1008.5 457.9,1008.1 459.3,1007.8 460.7,1007.4 462.0,1007.0 463.4,1006.6 464.8,1006.2 466.2,1005.9 467.6,1005.5 469.0,1005.1 470.4,1004.7 471.8,1004.3 473.2,1003.9 474.5,1003.5 475.9,1003.0 477.3,1002.6 478.7,1002.1 480.1,1001.6 481.5,1001.1 482.9,1000.6 484.3,1000.1 485.7,999.5 487.0,998.9 488.4,998.4 489.8,997.7 491.2,997.1 492.6,996.5 494.0,995.8 495.4,995.1 496.8,994.4 498.2,993.7 499.5,992.9 500.9,992.2 502.3,991.3 503.7,990.4 505.1,989.5 506.5,988.5 507.9,987.5 509.3,986.4 510.7,985.3 512.0,984.2 513.4,983.1 514.8,982.0 516.2,980.8 517.6,979.7 519.0,978.6 520.4,977.5 521.8,976.4 523.2,975.3 524.5,974.1 525.9,973.0 527.3,971.9 528.7,970.7 530.1,969.5 531.5,968.4 532.9,967.1 534.3,965.9 535.7,964.7 537.0,963.5 538.4,962.2 539.8,960.9 541.2,959.6 542.6,958.3 544.0,956.9 545.4,955.5 546.8,954.1 548.2,952.6 549.5,951.1 550.9,949.6 552.3,948.1 553.7,946.5 555.1,944.9 556.5,943.3 557.9,941.7 559.3,940.0 560.7,938.3 562.0,936.5 563.4,934.7 564.8,932.9 566.2,931.1 567.6,929.2 569.0,927.2 570.4,925.3 571.8,923.3 573.2,921.3 574.5,919.3 575.9,917.2 577.3,915.1 578.7,913.1 580.1,911.0 581.5,908.9 582.9,906.7 584.3,904.5 585.7,902.2 587.0,900.0 588.4,897.7 589.8,895.4 591.2,893.2 592.6,890.9 594.0,888.7 595.4,886.5 596.8,884.3 598.2,882.1 599.5,879.9 600.9,877.7 602.3,875.5 603.7,873.2 605.1,871.0 606.5,868.8 607.9,866.6 609.3,864.3 610.7,862.1 612.0,859.9 613.4,857.7 614.8,855.4 616.2,853.2 617.6,851.0 619.0,848.8 620.4,846.5 621.8,844.3 623.1,842.1 624.5,839.9 625.9,837.8 627.3,835.6 628.7,833.5 630.1,831.3 631.5,829.1 632.9,827.0 634.3,824.8 635.6,822.5 637.0,820.2 638.4,817.9 639.8,815.6 641.2,813.2 642.6,810.7 644.0,808.1 645.4,805.5 646.8,802.9 648.1,800.2 649.5,797.4 650.9,794.7 652.3,791.9 653.7,789.1 655.1,786.3 656.5,783.5 657.9,780.7 659.3,777.9 660.6,775.2 662.0,772.5 663.4,769.8 664.8,767.1 666.2,764.4 667.6,761.7 669.0,759.0 670.4,756.3 671.8,753.7 673.1,751.0 674.5,748.3 675.9,745.6 677.3,742.9 678.7,740.2 680.1,737.5 681.5,734.7 682.9,732.0 684.3,729.3 685.6,726.5 687.0,723.7 688.4,721.0 689.8,718.2 691.2,715.4 692.6,712.7 694.0,709.9 695.4,707.1 696.8,704.3 698.1,701.5 699.5,698.7 700.9,695.8 702.3,693.0 703.7,690.2" fill="none" stroke="#f87a08" stroke-width="2.6" stroke-linejoin="round" stroke-dasharray="8.2 5.6"/>
<polyline points="300.0,1131.3 300.9,1131.3 301.7,1131.3 302.6,1131.3 303.5,1131.3 304.3,1131.3 305.2,1131.3 306.1,1131.3 307.0,1131.3 307.8,1131.3 308.7,1131.3 309.6,1131.3 310.4,1131.3 311.3,1131.3 312.2,1131.3 313.0,1131.3 313.9,1131.3 314.8,1131.3 315.7,1131.3 316.5,1131.3 317.4,1131.3 318.3,1131.2 319.1,1131.1 320.0,1131.0 320.9,1130.8 321.7,1130.6 322.6,1130.2 323.5,1129.8 324.3,1129.2 325.2,1128.6 326.1,1127.9 327.0,1127.0 327.8,1125.6 328.7,1123.8 329.6,1121.8 330.4,1119.4 331.3,1116.9 332.2,1114.2 333.0,1111.1 333.9,1107.4 334.8,1103.0 335.7,1098.2 336.5,1092.7 337.4,1086.8 338.3,1079.7 339.1,1070.9 340.0,1061.0 340.9,1050.4 341.7,1039.1 342.6,1026.8 343.5,1013.5 344.3,999.6 345.2,984.6 346.1,968.7 347.0,952.1 347.8,935.3 348.7,918.1 349.6,899.5 350.4,880.6 351.3,862.8 352.2,847.2 353.0,834.2 353.9,822.2 354.8,811.3 355.7,801.3 356.5,792.3 357.4,784.3 358.3,776.6 359.1,769.2 360.0,762.6 360.9,757.1 361.7,753.2 362.6,750.8 363.5,748.7 364.3,747.2 365.2,746.3 366.1,746.5 367.0,748.0 367.8,750.6 368.7,753.9 369.6,757.7 370.4,763.7 371.3,771.3 372.2,779.8 373.0,788.4 373.9,797.4 374.8,807.2 375.6,817.5 376.5,828.1 377.4,838.9 378.3,850.3 379.1,862.1 380.0,874.2 380.9,886.2 381.7,898.0 382.6,909.6 383.5,921.4 384.3,933.1 385.2,944.5 386.1,955.2 387.0,965.2 387.8,974.6 388.7,983.6 389.6,992.2 390.4,1000.4 391.3,1008.3 392.2,1016.0 393.0,1023.4 393.9,1030.5 394.8,1037.3 395.6,1043.7 396.5,1049.8 397.4,1055.6 398.3,1061.2 399.1,1066.4 400.0,1071.3 400.9,1075.8 401.7,1079.8 402.6,1083.7 403.5,1087.3 404.3,1090.5 405.2,1093.4 406.1,1095.7 407.0,1097.8 407.8,1099.7 408.7,1101.4 409.6,1102.9 410.4,1104.2 411.3,1105.4 412.2,1106.5 413.0,1107.5 413.9,1108.5 414.8,1109.4 415.6,1110.2 416.5,1110.9 417.4,1111.5 418.3,1111.9 419.1,1112.3 420.0,1112.6 420.9,1113.0 421.7,1113.2 422.6,1113.5 423.5,1113.8 424.3,1114.0 425.2,1114.2 426.1,1114.4 427.0,1114.5 427.8,1114.6 428.7,1114.7 429.6,1114.8 430.4,1114.9 431.3,1115.0 432.2,1115.0 433.0,1115.1 433.9,1115.1 434.8,1115.2 435.6,1115.2 436.5,1115.2 437.4,1115.2 438.3,1115.2 439.1,1115.1 440.0,1115.1 440.9,1115.0 441.7,1115.0 442.6,1114.9 443.5,1114.9 444.3,1114.8 445.2,1114.7 446.1,1114.6 447.0,1114.5 447.8,1114.4 448.7,1114.4 449.6,1114.3 450.4,1114.2 451.3,1114.1 452.2,1114.0 453.0,1113.9 453.9,1113.8 454.8,1113.7 455.6,1113.6 456.5,1113.5 457.4,1113.4 458.3,1113.4 459.1,1113.3 460.0,1113.2 460.9,1113.2 461.7,1113.1 462.6,1113.0 463.5,1113.0 464.3,1113.0 465.2,1112.9 466.1,1112.9 467.0,1112.8 467.8,1112.8 468.7,1112.7 469.6,1112.7 470.4,1112.6 471.3,1112.6 472.2,1112.5 473.0,1112.5 473.9,1112.4 474.8,1112.3 475.6,1112.3 476.5,1112.2 477.4,1112.1 478.3,1111.9 479.1,1111.7 480.0,1111.5 480.9,1111.3 481.7,1111.0 482.6,1110.7 483.5,1110.4 484.3,1110.1 485.2,1109.7 486.1,1109.4 487.0,1109.0 487.8,1108.6 488.7,1108.2 489.6,1107.8 490.4,1107.4 491.3,1107.0 492.2,1106.6 493.0,1106.2 493.9,1105.8 494.8,1105.4 495.6,1105.0 496.5,1104.6 497.4,1104.3 498.3,1103.9 499.1,1103.6 500.0,1103.3 500.9,1103.0 501.7,1102.7 502.6,1102.4 503.5,1102.0 504.3,1101.7 505.2,1101.3 506.1,1101.0 507.0,1100.7 507.8,1100.3 508.7,1100.0 509.6,1099.6 510.4,1099.3 511.3,1099.0 512.2,1098.7 513.0,1098.4 513.9,1098.2 514.8,1097.9 515.6,1097.7 516.5,1097.5 517.4,1097.4 518.3,1097.2 519.1,1097.2 520.0,1097.1 520.9,1097.1 521.7,1097.1 522.6,1097.1 523.5,1097.2 524.3,1097.2 525.2,1097.2 526.1,1097.3 526.9,1097.3 527.8,1097.4 528.7,1097.5 529.6,1097.5 530.4,1097.6 531.3,1097.6 532.2,1097.7 533.0,1097.8 533.9,1097.8 534.8,1097.9 535.6,1097.9 536.5,1098.0 537.4,1098.0 538.3,1098.1 539.1,1098.1 540.0,1098.1 540.9,1098.1 541.7,1098.1 542.6,1098.0 543.5,1097.9 544.3,1097.7 545.2,1097.5 546.1,1097.2 546.9,1097.0 547.8,1096.7 548.7,1096.3 549.6,1096.0 550.4,1095.6 551.3,1095.2 552.2,1094.8 553.0,1094.4 553.9,1094.0 554.8,1093.6 555.6,1093.2 556.5,1092.8 557.4,1092.4 558.3,1092.0 559.1,1091.7 560.0,1091.3 560.9,1091.0 561.7,1090.6 562.6,1090.3 563.5,1089.9 564.3,1089.5 565.2,1089.1 566.1,1088.7 566.9,1088.2 567.8,1087.8 568.7,1087.3 569.6,1086.9 570.4,1086.4 571.3,1086.0 572.2,1085.5 573.0,1085.1 573.9,1084.7 574.8,1084.3 575.6,1083.9 576.5,1083.5 577.4,1083.2 578.3,1082.9 579.1,1082.6 580.0,1082.3 580.9,1082.1 581.7,1081.9 582.6,1081.8 583.5,1081.7 584.3,1081.6 585.2,1081.6 586.1,1081.6 586.9,1081.8 587.8,1081.9 588.7,1082.1 589.6,1082.4 590.4,1082.6 591.3,1083.0 592.2,1083.3 593.0,1083.6 593.9,1084.0 594.8,1084.4 595.6,1084.8 596.5,1085.2 597.4,1085.6 598.3,1086.0 599.1,1086.3 600.0,1086.6 600.9,1087.0 601.7,1087.3 602.6,1087.6 603.5,1087.9 604.3,1088.2 605.2,1088.6 606.1,1088.9 606.9,1089.3 607.8,1089.6 608.7,1089.9 609.6,1090.2 610.4,1090.5 611.3,1090.7 612.2,1090.9 613.0,1091.0 613.9,1091.1 614.8,1091.2 615.6,1091.3 616.5,1091.3 617.4,1091.4 618.3,1091.5 619.1,1091.6 620.0,1091.7 620.9,1091.7 621.7,1091.8 622.6,1091.9 623.5,1091.9 624.3,1092.0 625.2,1092.0 626.1,1092.1 626.9,1092.2 627.8,1092.2 628.7,1092.3 629.6,1092.3 630.4,1092.3 631.3,1092.4 632.2,1092.4 633.0,1092.4 633.9,1092.5 634.8,1092.5 635.6,1092.5 636.5,1092.5 637.4,1092.6 638.3,1092.6 639.1,1092.6 640.0,1092.6 640.9,1092.6 641.7,1092.6 642.6,1092.6 643.5,1092.6 644.3,1092.5 645.2,1092.5 646.1,1092.4 646.9,1092.4 647.8,1092.3 648.7,1092.3 649.6,1092.2 650.4,1092.1 651.3,1092.0 652.2,1091.9 653.0,1091.8 653.9,1091.8 654.8,1091.7 655.6,1091.6 656.5,1091.5 657.4,1091.4 658.3,1091.3 659.1,1091.2 660.0,1091.1 660.9,1091.0 661.7,1091.0 662.6,1090.9 663.5,1090.8 664.3,1090.8 665.2,1090.7 666.1,1090.7 666.9,1090.6 667.8,1090.6 668.7,1090.6 669.6,1090.6 670.4,1090.6 671.3,1090.6 672.2,1090.7 673.0,1090.8 673.9,1090.9 674.8,1091.0 675.6,1091.1 676.5,1091.3 677.4,1091.4 678.2,1091.6 679.1,1091.8 680.0,1092.0 680.9,1092.2 681.7,1092.4 682.6,1092.6 683.5,1092.8 684.3,1093.0 685.2,1093.2 686.1,1093.5 686.9,1093.7 687.8,1093.9 688.7,1094.1 689.6,1094.3 690.4,1094.5 691.3,1094.7 692.2,1094.9 693.0,1095.1 693.9,1095.3 694.8,1095.4 695.6,1095.6 696.5,1095.7 697.4,1095.8 698.2,1095.9 699.1,1096.0 700.0,1096.1 700.9,1096.1 701.7,1096.1 702.6,1096.1 703.5,1096.1 704.3,1096.1 705.2,1096.1 706.1,1096.1 706.9,1096.1 707.8,1096.1 708.7,1096.1 709.6,1096.1 710.4,1096.1 711.3,1096.1 712.2,1096.1 713.0,1096.1 713.9,1096.1 714.8,1096.1 715.6,1096.1 716.5,1096.1 717.4,1096.1 718.2,1096.1 719.1,1096.1 720.0,1096.1 720.9,1096.1 721.7,1096.1 722.6,1096.1 723.5,1096.1 724.3,1096.1 725.2,1096.1 726.1,1096.1 726.9,1096.1 727.8,1096.0 728.7,1096.0 729.6,1096.0 730.4,1096.0 731.3,1096.0 732.2,1096.0 733.0,1096.0 733.9,1096.0" fill="none" stroke="#0a820a" stroke-width="2.6" stroke-linejoin="round" />
<polyline points="300.0,1131.3 300.9,1131.3 301.7,1131.3 302.6,1131.3 303.5,1131.3 304.3,1131.3 305.2,1131.3 306.1,1131.3 307.0,1131.3 307.8,1131.3 308.7,1131.3 309.6,1131.3 310.4,1131.3 311.3,1131.3 312.2,1131.2 313.0,1131.1 313.9,1131.0 314.8,1130.9 315.7,1130.7 316.5,1130.4 317.4,1130.1 318.3,1129.7 319.1,1129.3 320.0,1128.8 320.9,1128.2 321.7,1127.6 322.6,1126.7 323.5,1125.5 324.3,1124.0 325.2,1122.4 326.1,1120.5 327.0,1118.5 327.8,1116.3 328.7,1114.0 329.6,1111.1 330.4,1107.8 331.3,1103.9 332.2,1099.4 333.0,1094.5 333.9,1089.2 334.8,1083.2 335.7,1075.7 336.5,1066.7 337.4,1057.0 338.3,1047.0 339.1,1036.4 340.0,1025.0 340.9,1012.8 341.7,999.9 342.6,985.9 343.5,970.9 344.3,955.2 345.2,939.1 346.1,922.6 347.0,905.0 347.8,886.7 348.7,868.6 349.6,851.5 350.4,836.0 351.3,820.8 352.2,806.2 353.0,792.4 353.9,780.0 354.8,769.4 355.7,760.0 356.5,751.1 357.4,743.0 358.3,736.1 359.1,730.6 360.0,726.8 360.9,723.3 361.7,720.5 362.6,718.7 363.5,718.4 364.3,719.9 365.2,722.7 366.1,726.4 367.0,730.3 367.8,735.6 368.7,742.5 369.6,750.5 370.4,759.3 371.3,768.5 372.2,777.9 373.0,788.5 373.9,799.9 374.8,811.9 375.6,823.9 376.5,835.6 377.4,847.2 378.3,859.0 379.1,870.9 380.0,882.7 380.9,894.4 381.7,906.0 382.6,917.7 383.5,929.5 384.3,941.0 385.2,952.0 386.1,962.2 387.0,971.7 387.8,980.8 388.7,989.5 389.6,997.9 390.4,1005.9 391.3,1013.6 392.2,1021.1 393.0,1028.3 393.9,1035.2 394.8,1041.8 395.6,1047.9 396.5,1053.8 397.4,1059.4 398.3,1064.8 399.1,1069.8 400.0,1074.4 400.9,1078.6 401.7,1082.6 402.6,1086.4 403.5,1089.8 404.3,1092.9 405.2,1095.6 406.1,1098.1 407.0,1100.3 407.8,1102.3 408.7,1104.1 409.6,1105.7 410.4,1107.0 411.3,1108.3 412.2,1109.5 413.0,1110.6 413.9,1111.6 414.8,1112.5 415.6,1113.2 416.5,1113.9 417.4,1114.4 418.3,1114.9 419.1,1115.3 420.0,1115.7 420.9,1116.1 421.7,1116.4 422.6,1116.7 423.5,1117.0 424.3,1117.3 425.2,1117.5 426.1,1117.6 427.0,1117.7 427.8,1117.8 428.7,1117.9 429.6,1118.0 430.4,1118.1 431.3,1118.1 432.2,1118.2 433.0,1118.3 433.9,1118.3 434.8,1118.4 435.6,1118.4 436.5,1118.5 437.4,1118.5 438.3,1118.5 439.1,1118.6 440.0,1118.6 440.9,1118.6 441.7,1118.6 442.6,1118.6 443.5,1118.6 444.3,1118.5 445.2,1118.5 446.1,1118.4 447.0,1118.4 447.8,1118.3 448.7,1118.2 449.6,1118.1 450.4,1118.0 451.3,1117.8 452.2,1117.7 453.0,1117.6 453.9,1117.5 454.8,1117.4 455.6,1117.2 456.5,1117.1 457.4,1117.0 458.3,1116.9 459.1,1116.8 460.0,1116.7 460.9,1116.6 461.7,1116.5 462.6,1116.5 463.5,1116.4 464.3,1116.4 465.2,1116.4 466.1,1116.4 467.0,1116.3 467.8,1116.3 468.7,1116.3 469.6,1116.3 470.4,1116.3 471.3,1116.3 472.2,1116.3 473.0,1116.2 473.9,1116.2 474.8,1116.2 475.6,1116.2 476.5,1116.2 477.4,1116.2 478.3,1116.2 479.1,1116.2 480.0,1116.2 480.9,1116.2 481.7,1116.1 482.6,1116.1 483.5,1116.1 484.3,1116.1 485.2,1116.1 486.1,1116.1 487.0,1116.0 487.8,1116.0 488.7,1116.0 489.6,1115.9 490.4,1115.8 491.3,1115.7 492.2,1115.5 493.0,1115.3 493.9,1115.0 494.8,1114.8 495.6,1114.5 496.5,1114.1 497.4,1113.8 498.3,1113.4 499.1,1113.0 500.0,1112.6 500.9,1112.2 501.7,1111.7 502.6,1111.3 503.5,1110.8 504.3,1110.4 505.2,1109.9 506.1,1109.4 507.0,1109.0 507.8,1108.5 508.7,1108.0 509.6,1107.6 510.4,1107.1 511.3,1106.7 512.2,1106.2 513.0,1105.7 513.9,1105.1 514.8,1104.5 515.6,1103.9 516.5,1103.3 517.4,1102.7 518.3,1102.0 519.1,1101.4 520.0,1100.7 520.9,1100.1 521.7,1099.4 522.6,1098.8 523.5,1098.2 524.3,1097.6 525.2,1097.0 526.1,1096.5 526.9,1095.9 527.8,1095.5 528.7,1095.0 529.6,1094.6 530.4,1094.1 531.3,1093.7 532.2,1093.3 533.0,1092.8 533.9,1092.4 534.8,1092.0 535.6,1091.6 536.5,1091.2 537.4,1090.8 538.3,1090.5 539.1,1090.1 540.0,1089.8 540.9,1089.5 541.7,1089.3 542.6,1089.0 543.5,1088.8 544.3,1088.7 545.2,1088.5 546.1,1088.4 546.9,1088.2 547.8,1088.1 548.7,1088.0 549.6,1087.9 550.4,1087.7 551.3,1087.6 552.2,1087.5 553.0,1087.4 553.9,1087.3 554.8,1087.2 555.6,1087.1 556.5,1087.0 557.4,1086.9 558.3,1086.9 559.1,1086.8 560.0,1086.8 560.9,1086.7 561.7,1086.7 562.6,1086.6 563.5,1086.6 564.3,1086.6 565.2,1086.6 566.1,1086.6 566.9,1086.7 567.8,1086.8 568.7,1087.0 569.6,1087.1 570.4,1087.3 571.3,1087.6 572.2,1087.8 573.0,1088.1 573.9,1088.4 574.8,1088.7 575.6,1089.0 576.5,1089.3 577.4,1089.6 578.3,1090.0 579.1,1090.3 580.0,1090.6 580.9,1090.9 581.7,1091.3 582.6,1091.6 583.5,1092.0 584.3,1092.5 585.2,1092.9 586.1,1093.4 586.9,1093.9 587.8,1094.5 588.7,1095.0 589.6,1095.6 590.4,1096.1 591.3,1096.7 592.2,1097.3 593.0,1097.8 593.9,1098.4 594.8,1098.9 595.6,1099.4 596.5,1099.9 597.4,1100.4 598.3,1100.8 599.1,1101.3 600.0,1101.7 600.9,1102.0 601.7,1102.3 602.6,1102.7 603.5,1103.0 604.3,1103.3 605.2,1103.7 606.1,1104.0 606.9,1104.3 607.8,1104.6 608.7,1104.9 609.6,1105.2 610.4,1105.4 611.3,1105.6 612.2,1105.8 613.0,1105.9 613.9,1106.0 614.8,1106.1 615.6,1106.1 616.5,1106.1 617.4,1106.0 618.3,1105.9 619.1,1105.8 620.0,1105.7 620.9,1105.6 621.7,1105.4 622.6,1105.2 623.5,1105.1 624.3,1104.8 625.2,1104.6 626.1,1104.4 626.9,1104.2 627.8,1103.9 628.7,1103.7 629.6,1103.4 630.4,1103.1 631.3,1102.9 632.2,1102.6 633.0,1102.3 633.9,1102.1 634.8,1101.8 635.6,1101.6 636.5,1101.3 637.4,1101.1 638.3,1100.8 639.1,1100.6 640.0,1100.4 640.9,1100.2 641.7,1100.0 642.6,1099.8 643.5,1099.6 644.3,1099.4 645.2,1099.3 646.1,1099.1 646.9,1098.9 647.8,1098.7 648.7,1098.5 649.6,1098.3 650.4,1098.1 651.3,1097.9 652.2,1097.7 653.0,1097.5 653.9,1097.4 654.8,1097.2 655.6,1097.0 656.5,1096.8 657.4,1096.6 658.3,1096.5 659.1,1096.3 660.0,1096.1 660.9,1096.0 661.7,1095.8 662.6,1095.6 663.5,1095.5 664.3,1095.3 665.2,1095.2 666.1,1095.1 666.9,1094.9 667.8,1094.8 668.7,1094.7 669.6,1094.6 670.4,1094.5 671.3,1094.4 672.2,1094.3 673.0,1094.2 673.9,1094.0 674.8,1093.9 675.6,1093.8 676.5,1093.7 677.4,1093.6 678.2,1093.5 679.1,1093.4 680.0,1093.3 680.9,1093.2 681.7,1093.1 682.6,1093.0 683.5,1092.9 684.3,1092.9 685.2,1092.8 686.1,1092.7 686.9,1092.6 687.8,1092.6 688.7,1092.5 689.6,1092.5 690.4,1092.5 691.3,1092.4 692.2,1092.4 693.0,1092.4 693.9,1092.4 694.8,1092.4 695.6,1092.4 696.5,1092.5 697.4,1092.6 698.2,1092.6 699.1,1092.7 700.0,1092.8 700.9,1092.9 701.7,1093.0 702.6,1093.1 703.5,1093.3 704.3,1093.4 705.2,1093.5 706.1,1093.6 706.9,1093.8 707.8,1093.9 708.7,1094.0 709.6,1094.1 710.4,1094.2 711.3,1094.3 712.2,1094.4 713.0,1094.5 713.9,1094.6 714.8,1094.7 715.6,1094.8 716.5,1094.8 717.4,1094.9 718.2,1095.0 719.1,1095.0 720.0,1095.1 720.9,1095.2 721.7,1095.2 722.6,1095.3 723.5,1095.4 724.3,1095.4 725.2,1095.5 726.1,1095.5 726.9,1095.6 727.8,1095.7 728.7,1095.7 729.6,1095.8 730.4,1095.8 731.3,1095.9 732.2,1095.9 733.0,1096.0 733.9,1096.0" fill="none" stroke="#f87a08" stroke-width="2.6" stroke-linejoin="round" />
<rect x="182.2" y="685.2" width="552.2" height="446.1" fill="none" stroke="#000" stroke-width="2.5"/>
<path d="M171.7 1131.3L182.2 1131.3M176.7 1094.1L182.2 1094.1M171.7 1057.0L182.2 1057.0M176.7 1019.8L182.2 1019.8M171.7 982.6L182.2 982.6M176.7 945.4L182.2 945.4M171.7 908.2L182.2 908.2M176.7 871.1L182.2 871.1M171.7 833.9L182.2 833.9M176.7 796.7L182.2 796.7M171.7 759.6L182.2 759.6M176.7 722.4L182.2 722.4M171.7 685.2L182.2 685.2M734.4 1131.3L744.9 1131.3M734.4 1086.7L739.9 1086.7M734.4 1042.1L744.9 1042.1M734.4 997.5L739.9 997.5M734.4 952.9L744.9 952.9M734.4 908.2L739.9 908.2M734.4 863.6L744.9 863.6M734.4 819.0L739.9 819.0M734.4 774.4L744.9 774.4M734.4 729.8L739.9 729.8M734.4 685.2L744.9 685.2M182.2 1131.3L182.2 1141.8M274.2 1131.3L274.2 1136.8M366.3 1131.3L366.3 1141.8M458.3 1131.3L458.3 1136.8M550.3 1131.3L550.3 1141.8M642.4 1131.3L642.4 1136.8M734.4 1131.3L734.4 1141.8" stroke="#000" stroke-width="2.5" fill="none"/>
<text x="164.5" y="1143.9" font-size="36" text-anchor="end">0</text>
<text x="164.5" y="1069.5" font-size="36" text-anchor="end">2</text>
<text x="164.5" y="995.2" font-size="36" text-anchor="end">4</text>
<text x="164.5" y="920.9" font-size="36" text-anchor="end">6</text>
<text x="164.5" y="846.5" font-size="36" text-anchor="end">8</text>
<text x="164.5" y="772.2" font-size="36" text-anchor="end">10</text>
<text x="164.5" y="697.8" font-size="36" text-anchor="end">12</text>
<text x="752.5" y="1143.9" font-size="36">0</text>
<text x="752.5" y="1054.7" font-size="36">2</text>
<text x="752.5" y="965.5" font-size="36">4</text>
<text x="752.5" y="876.2" font-size="36">6</text>
<text x="752.5" y="787.0" font-size="36">8</text>
<text x="752.5" y="697.8" font-size="36">10</text>
<text x="182.2" y="1177.0" font-size="36" text-anchor="middle">0</text>
<text x="366.3" y="1177.0" font-size="36" text-anchor="middle">2</text>
<text x="550.3" y="1177.0" font-size="36" text-anchor="middle">4</text>
<text x="734.4" y="1177.0" font-size="36" text-anchor="middle">6</text>
<text x="122.5" y="903.0" font-size="36" text-anchor="middle" font-style="italic" transform="rotate(-90 122.5 903.0)">g(r)</text>
<text x="793.5" y="904.0" font-size="36" text-anchor="middle" transform="rotate(90 793.5 904.0)">Coordination Number</text>
<text x="458.3" y="1216.8" font-size="36" text-anchor="middle">r<tspan font-family="'Liberation Serif', serif" font-size="34.5">(Å)</tspan></text>
<line x1="195.3" y1="712.6" x2="260.9" y2="712.6" stroke="#0a820a" stroke-width="2.6" />
<line x1="195.3" y1="748.0" x2="260.9" y2="748.0" stroke="#f87a08" stroke-width="2.6" />
<text x="267.3" y="722.2" font-size="27.8">CEE</text>
<text x="267.3" y="757.6" font-size="27.8">ACE</text>
<text x="74.0" y="687.2" font-size="57" font-weight="bold">d</text>
<rect x="1643.4" y="731" width="137.4" height="395.2" fill="#ededed"/>
<polyline points="970.5,1119.4 971.9,1119.4 973.3,1119.3 974.7,1119.3 976.1,1119.3 977.5,1119.2 978.9,1119.2 980.3,1119.2 981.7,1119.1 983.1,1119.1 984.5,1119.1 985.9,1119.1 987.3,1119.0 988.7,1119.0 990.0,1119.0 991.4,1118.9 992.8,1118.9 994.2,1118.9 995.6,1118.9 997.0,1118.8 998.4,1118.8 999.8,1118.8 1001.2,1118.8 1002.6,1118.8 1004.0,1118.7 1005.4,1118.7 1006.8,1118.7 1008.2,1118.7 1009.6,1118.6 1011.0,1118.6 1012.4,1118.6 1013.8,1118.6 1015.2,1118.5 1016.6,1118.5 1018.0,1118.5 1019.4,1118.5 1020.8,1118.5 1022.2,1118.4 1023.6,1118.4 1025.0,1118.4 1026.4,1118.4 1027.7,1118.4 1029.1,1118.4 1030.5,1118.4 1031.9,1118.4 1033.3,1118.4 1034.7,1118.4 1036.1,1118.4 1037.5,1118.5 1038.9,1118.5 1040.3,1118.5 1041.7,1118.5 1043.1,1118.6 1044.5,1118.6 1045.9,1118.6 1047.3,1118.7 1048.7,1118.7 1050.1,1118.7 1051.5,1118.8 1052.9,1118.8 1054.3,1118.9 1055.7,1118.9 1057.1,1118.9 1058.5,1119.0 1059.9,1119.0 1061.3,1119.0 1062.7,1119.1 1064.1,1119.1 1065.4,1119.1 1066.8,1119.2 1068.2,1119.2 1069.6,1119.3 1071.0,1119.3 1072.4,1119.4 1073.8,1119.4 1075.2,1119.4 1076.6,1119.5 1078.0,1119.5 1079.4,1119.5 1080.8,1119.6 1082.2,1119.6 1083.6,1119.6 1085.0,1119.6 1086.4,1119.6 1087.8,1119.6 1089.2,1119.5 1090.6,1119.5 1092.0,1119.4 1093.4,1119.4 1094.8,1119.3 1096.2,1119.3 1097.6,1119.2 1099.0,1119.2 1100.4,1119.2 1101.8,1119.2 1103.1,1119.2 1104.5,1119.2 1105.9,1119.3 1107.3,1119.3 1108.7,1119.3 1110.1,1119.3 1111.5,1119.3 1112.9,1119.4 1114.3,1119.4 1115.7,1119.4 1117.1,1119.4 1118.5,1119.4 1119.9,1119.4 1121.3,1119.4 1122.7,1119.3 1124.1,1119.3 1125.5,1119.2 1126.9,1119.2 1128.3,1119.1 1129.7,1119.0 1131.1,1119.0 1132.5,1118.9 1133.9,1118.8 1135.3,1118.7 1136.7,1118.7 1138.1,1118.6 1139.4,1118.5 1140.8,1118.4 1142.2,1118.4 1143.6,1118.3 1145.0,1118.3 1146.4,1118.2 1147.8,1118.2 1149.2,1118.2 1150.6,1118.2 1152.0,1118.2 1153.4,1118.2 1154.8,1118.2 1156.2,1118.3 1157.6,1118.3 1159.0,1118.3 1160.4,1118.3 1161.8,1118.4 1163.2,1118.4 1164.6,1118.5 1166.0,1118.5 1167.4,1118.6 1168.8,1118.6 1170.2,1118.6 1171.6,1118.7 1173.0,1118.7 1174.4,1118.8 1175.8,1118.8 1177.1,1118.9 1178.5,1118.9 1179.9,1119.0 1181.3,1119.1 1182.7,1119.2 1184.1,1119.2 1185.5,1119.3 1186.9,1119.4 1188.3,1119.4 1189.7,1119.5 1191.1,1119.5 1192.5,1119.6 1193.9,1119.6 1195.3,1119.6 1196.7,1119.5 1198.1,1119.4 1199.5,1119.3 1200.9,1119.1 1202.3,1118.9 1203.7,1118.7 1205.1,1118.6 1206.5,1118.5 1207.9,1118.4 1209.3,1118.3 1210.7,1118.2 1212.1,1118.1 1213.5,1118.0 1214.8,1118.0 1216.2,1118.0 1217.6,1118.0 1219.0,1118.1 1220.4,1118.1 1221.8,1118.2 1223.2,1118.2 1224.6,1118.2 1226.0,1118.2 1227.4,1118.2 1228.8,1118.1 1230.2,1118.0 1231.6,1117.9 1233.0,1117.8 1234.4,1117.7 1235.8,1117.5 1237.2,1117.4 1238.6,1117.3 1240.0,1117.2 1241.4,1117.1 1242.8,1117.0 1244.2,1117.0 1245.6,1117.0 1247.0,1117.0 1248.4,1117.1 1249.8,1117.2 1251.2,1117.3 1252.5,1117.4 1253.9,1117.5 1255.3,1117.6 1256.7,1117.6 1258.1,1117.6 1259.5,1117.5 1260.9,1117.4 1262.3,1117.3 1263.7,1117.2 1265.1,1117.1 1266.5,1117.0 1267.9,1117.0 1269.3,1117.0 1270.7,1117.2 1272.1,1117.4 1273.5,1117.6 1274.9,1117.9 1276.3,1118.1 1277.7,1118.4 1279.1,1118.6 1280.5,1118.8 1281.9,1119.0 1283.3,1119.1 1284.7,1119.2 1286.1,1119.3 1287.5,1119.4 1288.9,1119.4 1290.2,1119.5 1291.6,1119.5 1293.0,1119.6 1294.4,1119.6 1295.8,1119.6 1297.2,1119.5 1298.6,1119.3 1300.0,1119.1 1301.4,1118.8 1302.8,1118.5 1304.2,1118.2 1305.6,1117.9 1307.0,1117.7 1308.4,1117.4 1309.8,1117.2 1311.2,1117.1 1312.6,1116.9 1314.0,1116.8 1315.4,1116.6 1316.8,1116.5 1318.2,1116.3 1319.6,1116.2 1321.0,1116.1 1322.4,1116.0 1323.8,1115.9 1325.2,1115.8 1326.6,1115.7 1327.9,1115.6 1329.3,1115.6 1330.7,1115.6 1332.1,1115.6 1333.5,1115.6 1334.9,1115.6 1336.3,1115.6 1337.7,1115.6 1339.1,1115.6 1340.5,1115.6 1341.9,1115.6 1343.3,1115.6 1344.7,1115.6 1346.1,1115.6 1347.5,1115.6 1348.9,1115.6 1350.3,1115.6 1351.7,1115.6 1353.1,1115.6 1354.5,1115.7 1355.9,1115.8 1357.3,1115.8 1358.7,1115.9 1360.1,1116.0 1361.5,1116.1 1362.9,1116.2 1364.3,1116.4 1365.6,1116.5 1367.0,1116.6 1368.4,1116.7 1369.8,1116.8 1371.2,1117.0 1372.6,1117.1 1374.0,1117.2 1375.4,1117.3 1376.8,1117.4 1378.2,1117.5 1379.6,1117.6 1381.0,1117.6 1382.4,1117.7 1383.8,1117.8 1385.2,1117.9 1386.6,1117.9 1388.0,1118.0 1389.4,1118.1 1390.8,1118.2 1392.2,1118.2 1393.6,1118.3 1395.0,1118.4 1396.4,1118.4 1397.8,1118.5 1399.2,1118.5 1400.6,1118.6 1402.0,1118.6 1403.3,1118.7 1404.7,1118.7 1406.1,1118.8 1407.5,1118.8 1408.9,1118.8 1410.3,1118.8 1411.7,1118.8 1413.1,1118.8 1414.5,1118.8 1415.9,1118.7 1417.3,1118.7 1418.7,1118.7 1420.1,1118.6 1421.5,1118.6 1422.9,1118.5 1424.3,1118.5 1425.7,1118.4 1427.1,1118.3 1428.5,1118.3 1429.9,1118.2 1431.3,1118.1 1432.7,1118.0 1434.1,1117.9 1435.5,1117.8 1436.9,1117.6 1438.3,1117.5 1439.7,1117.3 1441.0,1117.1 1442.4,1117.0 1443.8,1116.8 1445.2,1116.6 1446.6,1116.4 1448.0,1116.2 1449.4,1116.0 1450.8,1115.8 1452.2,1115.6 1453.6,1115.4 1455.0,1115.2 1456.4,1115.0 1457.8,1114.8 1459.2,1114.7 1460.6,1114.5 1462.0,1114.4 1463.4,1114.2 1464.8,1114.1 1466.2,1113.9 1467.6,1113.7 1469.0,1113.6 1470.4,1113.4 1471.8,1113.3 1473.2,1113.1 1474.6,1112.9 1476.0,1112.8 1477.3,1112.6 1478.7,1112.5 1480.1,1112.4 1481.5,1112.2 1482.9,1112.1 1484.3,1112.0 1485.7,1112.0 1487.1,1111.9 1488.5,1111.8 1489.9,1111.8 1491.3,1111.8 1492.7,1111.8 1494.1,1111.8 1495.5,1111.8 1496.9,1111.9 1498.3,1111.9 1499.7,1111.9 1501.1,1112.0 1502.5,1112.0 1503.9,1112.1 1505.3,1112.1 1506.7,1112.2 1508.1,1112.3 1509.5,1112.3 1510.9,1112.4 1512.3,1112.4 1513.7,1112.5 1515.0,1112.6 1516.4,1112.6 1517.8,1112.7 1519.2,1112.8 1520.6,1112.8 1522.0,1112.9 1523.4,1113.0 1524.8,1113.0 1526.2,1113.1 1527.6,1113.2 1529.0,1113.3 1530.4,1113.4 1531.8,1113.5 1533.2,1113.6 1534.6,1113.7 1536.0,1113.8 1537.4,1113.9 1538.8,1113.9 1540.2,1114.0 1541.6,1114.1 1543.0,1114.1 1544.4,1114.2 1545.8,1114.2 1547.2,1114.2 1548.6,1114.2 1550.0,1114.2 1551.4,1114.1 1552.7,1114.0 1554.1,1113.9 1555.5,1113.7 1556.9,1113.6 1558.3,1113.4 1559.7,1113.2 1561.1,1113.1 1562.5,1112.8 1563.9,1112.5 1565.3,1112.2 1566.7,1111.9 1568.1,1111.6 1569.5,1111.2 1570.9,1110.9 1572.3,1110.6 1573.7,1110.4 1575.1,1110.2 1576.5,1110.0 1577.9,1109.8 1579.3,1109.6 1580.7,1109.5 1582.1,1109.3 1583.5,1109.2 1584.9,1109.0 1586.3,1108.9 1587.7,1108.9 1589.1,1108.8 1590.4,1108.8 1591.8,1108.8 1593.2,1108.9 1594.6,1109.0 1596.0,1109.1 1597.4,1109.3 1598.8,1109.5 1600.2,1109.6 1601.6,1109.9 1603.0,1110.2 1604.4,1110.5 1605.8,1111.0 1607.2,1111.4 1608.6,1111.9 1610.0,1112.4 1611.4,1112.9 1612.8,1113.3 1614.2,1113.8 1615.6,1114.2 1617.0,1114.6 1618.4,1115.0 1619.8,1115.4 1621.2,1115.9 1622.6,1116.3 1624.0,1116.7 1625.4,1117.0 1626.8,1117.4 1628.1,1117.6 1629.5,1117.8 1630.9,1117.9 1632.3,1118.0 1633.7,1118.0 1635.1,1118.1 1636.5,1118.2 1637.9,1118.3 1639.3,1118.3 1640.7,1118.4 1642.1,1118.4 1643.5,1118.4 1644.9,1118.4 1646.3,1118.3 1647.7,1118.2 1649.1,1118.0 1650.5,1117.7 1651.9,1117.3 1653.3,1116.5 1654.7,1115.4 1656.1,1114.0 1657.5,1112.6 1658.9,1111.0 1660.3,1109.2 1661.7,1107.0 1663.1,1104.8 1664.5,1102.5 1665.8,1100.2 1667.2,1098.1 1668.6,1095.9 1670.0,1093.6 1671.4,1091.4 1672.8,1089.3 1674.2,1087.2 1675.6,1085.2 1677.0,1083.2 1678.4,1081.0 1679.8,1078.4 1681.2,1075.4 1682.6,1072.1 1684.0,1068.6 1685.4,1064.9 1686.8,1061.0 1688.2,1056.8 1689.6,1052.4 1691.0,1048.1 1692.4,1043.6 1693.8,1039.0 1695.2,1034.5 1696.6,1030.2 1698.0,1026.3 1699.4,1022.6 1700.8,1019.1 1702.2,1016.3 1703.5,1013.9 1704.9,1011.8 1706.3,1010.2 1707.7,1009.1 1709.1,1008.2 1710.5,1007.6 1711.9,1007.6 1713.3,1007.8 1714.7,1008.1 1716.1,1008.7 1717.5,1009.6 1718.9,1010.9 1720.3,1012.5 1721.7,1014.7 1723.1,1017.2 1724.5,1020.0 1725.9,1023.3 1727.3,1027.0 1728.7,1031.0 1730.1,1035.2 1731.5,1039.7 1732.9,1044.6 1734.3,1049.7 1735.7,1054.8 1737.1,1059.9 1738.5,1065.1 1739.9,1070.3 1741.2,1075.4 1742.6,1080.2 1744.0,1085.0 1745.4,1089.6 1746.8,1093.8 1748.2,1097.6 1749.6,1101.0 1751.0,1104.1 1752.4,1106.9 1753.8,1109.3 1755.2,1111.4 1756.6,1113.4 1758.0,1115.2 1759.4,1116.5 1760.8,1117.5 1762.2,1118.4 1763.6,1119.2 1765.0,1119.8 1766.4,1120.2 1767.8,1120.2 1769.2,1120.0 1770.6,1119.8 1772.0,1119.5 1773.4,1119.1 1774.8,1118.5 1776.2,1117.7 1777.6,1117.0 1778.9,1116.5 1780.3,1116.1 1781.7,1115.8 1783.1,1115.5 1784.5,1115.1 1785.9,1114.7 1787.3,1114.3 1788.7,1113.9 1790.1,1113.4 1791.5,1112.9 1792.9,1112.4 1794.3,1112.0 1795.7,1111.5 1797.1,1111.0 1798.5,1110.5 1799.9,1110.0 1801.3,1109.6 1802.7,1109.1 1804.1,1108.6 1805.5,1108.1 1806.9,1107.6 1808.3,1107.1 1809.7,1106.6 1811.1,1106.1 1812.5,1105.7 1813.9,1105.3 1815.2,1104.9 1816.6,1104.6 1818.0,1104.3 1819.4,1103.9 1820.8,1103.6 1822.2,1103.3 1823.6,1103.1 1825.0,1102.8 1826.4,1102.6 1827.8,1102.4 1829.2,1102.3 1830.6,1102.1 1832.0,1102.0 1833.4,1101.9 1834.8,1101.8 1836.2,1101.8 1837.6,1101.8 1839.0,1101.9 1840.4,1102.0 1841.8,1102.1 1843.2,1102.2 1844.6,1102.4 1846.0,1102.5 1847.4,1102.7 1848.8,1102.9 1850.2,1103.2 1851.6,1103.4 1852.9,1103.8 1854.3,1104.1 1855.7,1104.4 1857.1,1104.7 1858.5,1105.1 1859.9,1105.4 1861.3,1105.7 1862.7,1106.0 1864.1,1106.4 1865.5,1106.7 1866.9,1107.1 1868.3,1107.5 1869.7,1107.8 1871.1,1108.2 1872.5,1108.6 1873.9,1109.0 1875.3,1109.3 1876.7,1109.7 1878.1,1110.1 1879.5,1110.5 1880.9,1110.8 1882.3,1111.2 1883.7,1111.6 1885.1,1112.1 1886.5,1112.5 1887.9,1112.9 1889.3,1113.3 1890.6,1113.7 1892.0,1114.1 1893.4,1114.5 1894.8,1114.9 1896.2,1115.2 1897.6,1115.5 1899.0,1115.8 1900.4,1116.1 1901.8,1116.3 1903.2,1116.5 1904.6,1116.8 1906.0,1117.0 1907.4,1117.2 1908.8,1117.4 1910.2,1117.6 1911.6,1117.8 1913.0,1118.0 1914.4,1118.1 1915.8,1118.1 1917.2,1118.2 1918.6,1118.2 1920.0,1118.2 1921.4,1118.1 1922.8,1118.0 1924.2,1117.9 1925.6,1117.7 1927.0,1117.6 1928.3,1117.4 1929.7,1117.2 1931.1,1117.1 1932.5,1116.9 1933.9,1116.6 1935.3,1116.4 1936.7,1116.1 1938.1,1115.8 1939.5,1115.5 1940.9,1115.1 1942.3,1114.8 1943.7,1114.4 1945.1,1114.0 1946.5,1113.6" fill="none" stroke="#000" stroke-width="2.5" stroke-linejoin="round" />
<polyline points="970.5,1006.6 971.9,1006.6 973.3,1006.5 974.7,1006.5 976.1,1006.5 977.5,1006.5 978.9,1006.4 980.3,1006.4 981.7,1006.4 983.1,1006.3 984.5,1006.3 985.9,1006.2 987.3,1006.2 988.7,1006.2 990.0,1006.1 991.4,1006.1 992.8,1006.0 994.2,1006.0 995.6,1005.9 997.0,1005.9 998.4,1005.9 999.8,1005.8 1001.2,1005.8 1002.6,1005.7 1004.0,1005.6 1005.4,1005.6 1006.8,1005.5 1008.2,1005.4 1009.6,1005.4 1011.0,1005.3 1012.4,1005.2 1013.8,1005.1 1015.2,1005.0 1016.6,1005.0 1018.0,1004.9 1019.4,1004.8 1020.8,1004.8 1022.2,1004.7 1023.6,1004.6 1025.0,1004.6 1026.4,1004.5 1027.7,1004.5 1029.1,1004.4 1030.5,1004.4 1031.9,1004.4 1033.3,1004.3 1034.7,1004.3 1036.1,1004.3 1037.5,1004.2 1038.9,1004.2 1040.3,1004.2 1041.7,1004.1 1043.1,1004.1 1044.5,1004.1 1045.9,1004.1 1047.3,1004.1 1048.7,1004.0 1050.1,1004.0 1051.5,1004.0 1052.9,1004.0 1054.3,1004.0 1055.7,1004.0 1057.1,1004.0 1058.5,1004.1 1059.9,1004.2 1061.3,1004.3 1062.7,1004.5 1064.1,1004.6 1065.4,1004.8 1066.8,1004.9 1068.2,1005.1 1069.6,1005.3 1071.0,1005.4 1072.4,1005.6 1073.8,1005.7 1075.2,1005.8 1076.6,1005.9 1078.0,1006.0 1079.4,1006.2 1080.8,1006.3 1082.2,1006.4 1083.6,1006.5 1085.0,1006.5 1086.4,1006.6 1087.8,1006.6 1089.2,1006.6 1090.6,1006.5 1092.0,1006.4 1093.4,1006.2 1094.8,1006.0 1096.2,1005.7 1097.6,1005.4 1099.0,1005.1 1100.4,1004.9 1101.8,1004.6 1103.1,1004.3 1104.5,1004.1 1105.9,1003.8 1107.3,1003.6 1108.7,1003.5 1110.1,1003.4 1111.5,1003.3 1112.9,1003.3 1114.3,1003.2 1115.7,1003.1 1117.1,1003.1 1118.5,1003.0 1119.9,1003.0 1121.3,1003.0 1122.7,1003.0 1124.1,1003.0 1125.5,1003.1 1126.9,1003.2 1128.3,1003.4 1129.7,1003.5 1131.1,1003.7 1132.5,1003.9 1133.9,1004.1 1135.3,1004.3 1136.7,1004.5 1138.1,1004.7 1139.4,1004.9 1140.8,1005.1 1142.2,1005.4 1143.6,1005.8 1145.0,1006.1 1146.4,1006.4 1147.8,1006.5 1149.2,1006.6 1150.6,1006.4 1152.0,1006.0 1153.4,1005.4 1154.8,1004.6 1156.2,1003.9 1157.6,1002.9 1159.0,1001.6 1160.4,1000.1 1161.8,998.5 1163.2,996.9 1164.6,995.4 1166.0,993.8 1167.4,992.2 1168.8,990.5 1170.2,988.9 1171.6,987.4 1173.0,986.1 1174.4,984.7 1175.8,983.4 1177.1,982.1 1178.5,981.0 1179.9,980.0 1181.3,979.2 1182.7,978.4 1184.1,977.6 1185.5,977.0 1186.9,976.5 1188.3,976.1 1189.7,975.9 1191.1,975.7 1192.5,975.6 1193.9,975.7 1195.3,975.9 1196.7,976.3 1198.1,976.6 1199.5,977.2 1200.9,977.9 1202.3,978.8 1203.7,979.8 1205.1,980.9 1206.5,982.0 1207.9,983.1 1209.3,984.4 1210.7,985.8 1212.1,987.2 1213.5,988.5 1214.8,989.9 1216.2,991.2 1217.6,992.5 1219.0,993.8 1220.4,995.1 1221.8,996.3 1223.2,997.4 1224.6,998.4 1226.0,999.3 1227.4,1000.2 1228.8,1001.1 1230.2,1001.8 1231.6,1002.5 1233.0,1003.0 1234.4,1003.5 1235.8,1003.9 1237.2,1004.3 1238.6,1004.7 1240.0,1005.0 1241.4,1005.4 1242.8,1005.6 1244.2,1005.9 1245.6,1006.1 1247.0,1006.3 1248.4,1006.5 1249.8,1006.7 1251.2,1006.9 1252.5,1007.1 1253.9,1007.2 1255.3,1007.4 1256.7,1007.6 1258.1,1007.7 1259.5,1007.8 1260.9,1007.9 1262.3,1008.0 1263.7,1008.1 1265.1,1008.1 1266.5,1008.1 1267.9,1008.1 1269.3,1008.0 1270.7,1008.0 1272.1,1007.9 1273.5,1007.8 1274.9,1007.7 1276.3,1007.6 1277.7,1007.4 1279.1,1007.3 1280.5,1007.1 1281.9,1007.0 1283.3,1006.8 1284.7,1006.6 1286.1,1006.5 1287.5,1006.3 1288.9,1006.1 1290.2,1006.0 1291.6,1005.8 1293.0,1005.6 1294.4,1005.4 1295.8,1005.2 1297.2,1005.0 1298.6,1004.7 1300.0,1004.5 1301.4,1004.2 1302.8,1004.0 1304.2,1003.8 1305.6,1003.6 1307.0,1003.4 1308.4,1003.2 1309.8,1003.1 1311.2,1002.9 1312.6,1002.8 1314.0,1002.7 1315.4,1002.6 1316.8,1002.5 1318.2,1002.4 1319.6,1002.3 1321.0,1002.2 1322.4,1002.1 1323.8,1002.0 1325.2,1001.9 1326.6,1001.8 1327.9,1001.8 1329.3,1001.7 1330.7,1001.6 1332.1,1001.5 1333.5,1001.5 1334.9,1001.4 1336.3,1001.3 1337.7,1001.2 1339.1,1001.2 1340.5,1001.1 1341.9,1001.0 1343.3,1001.0 1344.7,1000.9 1346.1,1000.8 1347.5,1000.7 1348.9,1000.7 1350.3,1000.6 1351.7,1000.5 1353.1,1000.4 1354.5,1000.3 1355.9,1000.2 1357.3,1000.2 1358.7,1000.1 1360.1,1000.0 1361.5,999.9 1362.9,999.8 1364.3,999.7 1365.6,999.6 1367.0,999.5 1368.4,999.4 1369.8,999.3 1371.2,999.2 1372.6,999.1 1374.0,999.1 1375.4,999.0 1376.8,998.9 1378.2,998.8 1379.6,998.8 1381.0,998.7 1382.4,998.7 1383.8,998.6 1385.2,998.6 1386.6,998.5 1388.0,998.5 1389.4,998.5 1390.8,998.5 1392.2,998.5 1393.6,998.5 1395.0,998.5 1396.4,998.6 1397.8,998.6 1399.2,998.7 1400.6,998.7 1402.0,998.8 1403.3,998.9 1404.7,998.9 1406.1,999.0 1407.5,999.1 1408.9,999.2 1410.3,999.3 1411.7,999.4 1413.1,999.5 1414.5,999.6 1415.9,999.7 1417.3,999.8 1418.7,999.9 1420.1,1000.0 1421.5,1000.1 1422.9,1000.3 1424.3,1000.4 1425.7,1000.6 1427.1,1000.8 1428.5,1001.0 1429.9,1001.2 1431.3,1001.4 1432.7,1001.7 1434.1,1001.9 1435.5,1002.1 1436.9,1002.4 1438.3,1002.6 1439.7,1002.9 1441.0,1003.1 1442.4,1003.3 1443.8,1003.5 1445.2,1003.8 1446.6,1004.0 1448.0,1004.2 1449.4,1004.3 1450.8,1004.5 1452.2,1004.7 1453.6,1004.8 1455.0,1005.0 1456.4,1005.2 1457.8,1005.4 1459.2,1005.6 1460.6,1005.7 1462.0,1005.9 1463.4,1006.1 1464.8,1006.2 1466.2,1006.3 1467.6,1006.4 1469.0,1006.5 1470.4,1006.5 1471.8,1006.5 1473.2,1006.5 1474.6,1006.5 1476.0,1006.5 1477.3,1006.5 1478.7,1006.4 1480.1,1006.4 1481.5,1006.4 1482.9,1006.4 1484.3,1006.4 1485.7,1006.3 1487.1,1006.3 1488.5,1006.3 1489.9,1006.2 1491.3,1006.2 1492.7,1006.2 1494.1,1006.1 1495.5,1006.1 1496.9,1006.1 1498.3,1006.0 1499.7,1006.0 1501.1,1006.0 1502.5,1005.9 1503.9,1005.9 1505.3,1005.9 1506.7,1005.9 1508.1,1005.8 1509.5,1005.8 1510.9,1005.8 1512.3,1005.7 1513.7,1005.7 1515.0,1005.7 1516.4,1005.6 1517.8,1005.6 1519.2,1005.5 1520.6,1005.5 1522.0,1005.4 1523.4,1005.4 1524.8,1005.3 1526.2,1005.3 1527.6,1005.2 1529.0,1005.2 1530.4,1005.1 1531.8,1005.0 1533.2,1004.9 1534.6,1004.7 1536.0,1004.6 1537.4,1004.3 1538.8,1004.1 1540.2,1003.8 1541.6,1003.5 1543.0,1003.2 1544.4,1002.9 1545.8,1002.6 1547.2,1002.2 1548.6,1001.9 1550.0,1001.6 1551.4,1001.3 1552.7,1000.9 1554.1,1000.5 1555.5,1000.1 1556.9,999.6 1558.3,999.2 1559.7,998.8 1561.1,998.4 1562.5,998.1 1563.9,997.8 1565.3,997.6 1566.7,997.3 1568.1,997.1 1569.5,996.9 1570.9,996.7 1572.3,996.5 1573.7,996.4 1575.1,996.2 1576.5,996.1 1577.9,996.0 1579.3,996.0 1580.7,996.0 1582.1,996.0 1583.5,996.1 1584.9,996.2 1586.3,996.3 1587.7,996.4 1589.1,996.5 1590.4,996.7 1591.8,996.8 1593.2,997.0 1594.6,997.2 1596.0,997.3 1597.4,997.5 1598.8,997.8 1600.2,998.0 1601.6,998.3 1603.0,998.6 1604.4,998.9 1605.8,999.2 1607.2,999.5 1608.6,999.9 1610.0,1000.2 1611.4,1000.5 1612.8,1000.8 1614.2,1001.1 1615.6,1001.3 1617.0,1001.5 1618.4,1001.8 1619.8,1002.0 1621.2,1002.3 1622.6,1002.5 1624.0,1002.7 1625.4,1002.9 1626.8,1003.1 1628.1,1003.3 1629.5,1003.5 1630.9,1003.7 1632.3,1004.0 1633.7,1004.2 1635.1,1004.4 1636.5,1004.4 1637.9,1004.3 1639.3,1004.2 1640.7,1004.0 1642.1,1003.7 1643.5,1003.4 1644.9,1003.0 1646.3,1002.6 1647.7,1001.9 1649.1,1001.1 1650.5,1000.1 1651.9,999.0 1653.3,997.9 1654.7,996.7 1656.1,995.4 1657.5,994.0 1658.9,992.4 1660.3,990.6 1661.7,988.8 1663.1,986.8 1664.5,984.8 1665.8,982.7 1667.2,980.5 1668.6,978.1 1670.0,975.6 1671.4,973.0 1672.8,970.3 1674.2,967.6 1675.6,964.7 1677.0,961.7 1678.4,958.6 1679.8,955.4 1681.2,952.1 1682.6,948.7 1684.0,945.4 1685.4,942.1 1686.8,938.6 1688.2,935.1 1689.6,931.6 1691.0,928.1 1692.4,924.9 1693.8,921.9 1695.2,918.9 1696.6,916.2 1698.0,913.5 1699.4,911.1 1700.8,908.8 1702.2,906.6 1703.5,904.5 1704.9,902.7 1706.3,901.3 1707.7,900.1 1709.1,899.0 1710.5,898.1 1711.9,897.4 1713.3,896.9 1714.7,896.5 1716.1,896.2 1717.5,896.0 1718.9,896.1 1720.3,896.3 1721.7,896.7 1723.1,897.2 1724.5,898.1 1725.9,899.5 1727.3,901.1 1728.7,902.9 1730.1,905.1 1731.5,907.7 1732.9,910.6 1734.3,913.6 1735.7,916.9 1737.1,920.6 1738.5,924.6 1739.9,928.6 1741.2,932.7 1742.6,937.0 1744.0,941.5 1745.4,946.0 1746.8,950.5 1748.2,954.7 1749.6,958.7 1751.0,962.6 1752.4,966.3 1753.8,970.0 1755.2,973.5 1756.6,977.0 1758.0,980.4 1759.4,983.6 1760.8,986.6 1762.2,989.4 1763.6,991.9 1765.0,994.4 1766.4,996.7 1767.8,998.6 1769.2,1000.2 1770.6,1001.5 1772.0,1002.7 1773.4,1003.7 1774.8,1004.5 1776.2,1005.0 1777.6,1005.4 1778.9,1005.7 1780.3,1006.0 1781.7,1006.2 1783.1,1006.4 1784.5,1006.4 1785.9,1006.4 1787.3,1006.5 1788.7,1006.5 1790.1,1006.5 1791.5,1006.5 1792.9,1006.6 1794.3,1006.6 1795.7,1006.6 1797.1,1006.6 1798.5,1006.6 1799.9,1006.6 1801.3,1006.6 1802.7,1006.6 1804.1,1006.6 1805.5,1006.6 1806.9,1006.6 1808.3,1006.6 1809.7,1006.6 1811.1,1006.6 1812.5,1006.6 1813.9,1006.6 1815.2,1006.6 1816.6,1006.6 1818.0,1006.6 1819.4,1006.6 1820.8,1006.6 1822.2,1006.6 1823.6,1006.6 1825.0,1006.6 1826.4,1006.6 1827.8,1006.6 1829.2,1006.6 1830.6,1006.6 1832.0,1006.6 1833.4,1006.6 1834.8,1006.6 1836.2,1006.6 1837.6,1006.6 1839.0,1006.5 1840.4,1006.5 1841.8,1006.5 1843.2,1006.5 1844.6,1006.4 1846.0,1006.4 1847.4,1006.4 1848.8,1006.3 1850.2,1006.3 1851.6,1006.3 1852.9,1006.2 1854.3,1006.2 1855.7,1006.1 1857.1,1006.1 1858.5,1006.1 1859.9,1006.0 1861.3,1005.9 1862.7,1005.9 1864.1,1005.8 1865.5,1005.6 1866.9,1005.5 1868.3,1005.3 1869.7,1005.2 1871.1,1005.0 1872.5,1004.8 1873.9,1004.6 1875.3,1004.4 1876.7,1004.2 1878.1,1003.9 1879.5,1003.7 1880.9,1003.4 1882.3,1003.2 1883.7,1002.8 1885.1,1002.5 1886.5,1002.1 1887.9,1001.6 1889.3,1001.2 1890.6,1000.7 1892.0,1000.3 1893.4,999.8 1894.8,999.3 1896.2,998.8 1897.6,998.3 1899.0,997.7 1900.4,997.2 1901.8,996.7 1903.2,996.2 1904.6,995.6 1906.0,995.0 1907.4,994.5 1908.8,993.9 1910.2,993.2 1911.6,992.6 1913.0,992.0 1914.4,991.4 1915.8,990.8 1917.2,990.2 1918.6,989.6 1920.0,989.0 1921.4,988.4 1922.8,987.8 1924.2,987.2 1925.6,986.6 1927.0,985.9 1928.3,985.3 1929.7,984.8 1931.1,984.2 1932.5,983.7 1933.9,983.3 1935.3,982.9 1936.7,982.6 1938.1,982.2 1939.5,981.9 1940.9,981.6 1942.3,981.4 1943.7,981.2 1945.1,981.0 1946.5,980.8" fill="none" stroke="#0a820a" stroke-width="2.5" stroke-linejoin="round" />
<polyline points="970.5,896.2 971.9,896.2 973.3,896.2 974.7,896.2 976.1,896.1 977.5,896.1 978.9,896.1 980.3,896.1 981.7,896.1 983.1,896.1 984.5,896.0 985.9,896.0 987.3,896.0 988.7,896.0 990.0,896.0 991.4,895.9 992.8,895.9 994.2,895.9 995.6,895.9 997.0,895.9 998.4,895.8 999.8,895.8 1001.2,895.8 1002.6,895.8 1004.0,895.7 1005.4,895.7 1006.8,895.7 1008.2,895.6 1009.6,895.6 1011.0,895.6 1012.4,895.5 1013.8,895.5 1015.2,895.4 1016.6,895.4 1018.0,895.4 1019.4,895.3 1020.8,895.3 1022.2,895.2 1023.6,895.2 1025.0,895.2 1026.4,895.1 1027.7,895.1 1029.1,895.0 1030.5,895.0 1031.9,895.0 1033.3,894.9 1034.7,894.9 1036.1,894.8 1037.5,894.8 1038.9,894.7 1040.3,894.7 1041.7,894.6 1043.1,894.6 1044.5,894.5 1045.9,894.5 1047.3,894.4 1048.7,894.4 1050.1,894.3 1051.5,894.2 1052.9,894.2 1054.3,894.1 1055.7,894.1 1057.1,894.0 1058.5,894.0 1059.9,893.9 1061.3,893.9 1062.7,893.8 1064.1,893.8 1065.4,893.7 1066.8,893.7 1068.2,893.7 1069.6,893.6 1071.0,893.6 1072.4,893.6 1073.8,893.6 1075.2,893.6 1076.6,893.6 1078.0,893.7 1079.4,893.8 1080.8,893.9 1082.2,894.1 1083.6,894.2 1085.0,894.3 1086.4,894.5 1087.8,894.6 1089.2,894.7 1090.6,894.8 1092.0,894.9 1093.4,895.1 1094.8,895.2 1096.2,895.3 1097.6,895.3 1099.0,895.4 1100.4,895.4 1101.8,895.4 1103.1,895.3 1104.5,895.2 1105.9,895.1 1107.3,895.0 1108.7,894.8 1110.1,894.7 1111.5,894.5 1112.9,894.3 1114.3,894.2 1115.7,894.0 1117.1,893.9 1118.5,893.7 1119.9,893.6 1121.3,893.5 1122.7,893.4 1124.1,893.4 1125.5,893.4 1126.9,893.4 1128.3,893.4 1129.7,893.5 1131.1,893.5 1132.5,893.5 1133.9,893.6 1135.3,893.6 1136.7,893.7 1138.1,893.7 1139.4,893.8 1140.8,893.9 1142.2,894.0 1143.6,894.0 1145.0,894.1 1146.4,894.2 1147.8,894.3 1149.2,894.4 1150.6,894.4 1152.0,894.6 1153.4,894.7 1154.8,894.9 1156.2,895.1 1157.6,895.2 1159.0,895.2 1160.4,895.1 1161.8,894.7 1163.2,894.2 1164.6,893.6 1166.0,893.0 1167.4,892.2 1168.8,891.1 1170.2,889.9 1171.6,888.5 1173.0,887.0 1174.4,885.6 1175.8,884.3 1177.1,882.9 1178.5,881.5 1179.9,880.0 1181.3,878.5 1182.7,877.1 1184.1,875.8 1185.5,874.5 1186.9,873.3 1188.3,872.0 1189.7,870.7 1191.1,869.6 1192.5,868.5 1193.9,867.6 1195.3,866.9 1196.7,866.2 1198.1,865.5 1199.5,864.9 1200.9,864.4 1202.3,864.1 1203.7,864.0 1205.1,864.2 1206.5,864.5 1207.9,865.0 1209.3,865.7 1210.7,866.3 1212.1,867.1 1213.5,868.2 1214.8,869.5 1216.2,870.9 1217.6,872.4 1219.0,874.0 1220.4,875.5 1221.8,877.1 1223.2,878.8 1224.6,880.7 1226.0,882.5 1227.4,884.2 1228.8,885.8 1230.2,887.2 1231.6,888.5 1233.0,889.8 1234.4,890.9 1235.8,892.0 1237.2,892.8 1238.6,893.4 1240.0,894.0 1241.4,894.5 1242.8,894.9 1244.2,895.3 1245.6,895.5 1247.0,895.6 1248.4,895.6 1249.8,895.7 1251.2,895.7 1252.5,895.8 1253.9,895.8 1255.3,895.9 1256.7,895.9 1258.1,895.9 1259.5,896.0 1260.9,896.0 1262.3,896.0 1263.7,896.0 1265.1,896.0 1266.5,896.0 1267.9,896.0 1269.3,896.0 1270.7,896.0 1272.1,896.0 1273.5,896.0 1274.9,896.0 1276.3,896.0 1277.7,896.0 1279.1,896.0 1280.5,896.0 1281.9,896.0 1283.3,896.0 1284.7,896.0 1286.1,896.0 1287.5,896.0 1288.9,896.0 1290.2,896.0 1291.6,896.0 1293.0,896.0 1294.4,895.9 1295.8,895.9 1297.2,895.8 1298.6,895.7 1300.0,895.6 1301.4,895.5 1302.8,895.3 1304.2,895.2 1305.6,895.0 1307.0,894.9 1308.4,894.7 1309.8,894.6 1311.2,894.4 1312.6,894.2 1314.0,894.0 1315.4,893.8 1316.8,893.6 1318.2,893.5 1319.6,893.3 1321.0,893.1 1322.4,892.9 1323.8,892.7 1325.2,892.6 1326.6,892.4 1327.9,892.3 1329.3,892.1 1330.7,892.0 1332.1,891.9 1333.5,891.7 1334.9,891.6 1336.3,891.4 1337.7,891.3 1339.1,891.2 1340.5,891.0 1341.9,890.9 1343.3,890.7 1344.7,890.6 1346.1,890.5 1347.5,890.3 1348.9,890.2 1350.3,890.0 1351.7,889.9 1353.1,889.8 1354.5,889.7 1355.9,889.5 1357.3,889.4 1358.7,889.3 1360.1,889.2 1361.5,889.1 1362.9,889.0 1364.3,888.9 1365.6,888.8 1367.0,888.7 1368.4,888.7 1369.8,888.6 1371.2,888.5 1372.6,888.5 1374.0,888.4 1375.4,888.4 1376.8,888.3 1378.2,888.3 1379.6,888.2 1381.0,888.2 1382.4,888.1 1383.8,888.1 1385.2,888.1 1386.6,888.0 1388.0,888.0 1389.4,888.0 1390.8,888.0 1392.2,888.0 1393.6,888.0 1395.0,888.1 1396.4,888.2 1397.8,888.3 1399.2,888.4 1400.6,888.5 1402.0,888.6 1403.3,888.7 1404.7,888.9 1406.1,889.0 1407.5,889.2 1408.9,889.3 1410.3,889.4 1411.7,889.6 1413.1,889.7 1414.5,889.9 1415.9,890.1 1417.3,890.3 1418.7,890.5 1420.1,890.7 1421.5,891.0 1422.9,891.2 1424.3,891.4 1425.7,891.6 1427.1,891.8 1428.5,892.0 1429.9,892.2 1431.3,892.4 1432.7,892.6 1434.1,892.8 1435.5,893.0 1436.9,893.2 1438.3,893.3 1439.7,893.5 1441.0,893.7 1442.4,893.9 1443.8,894.1 1445.2,894.2 1446.6,894.4 1448.0,894.6 1449.4,894.7 1450.8,894.9 1452.2,895.0 1453.6,895.1 1455.0,895.2 1456.4,895.3 1457.8,895.4 1459.2,895.5 1460.6,895.6 1462.0,895.7 1463.4,895.7 1464.8,895.8 1466.2,895.9 1467.6,895.9 1469.0,896.0 1470.4,896.0 1471.8,896.0 1473.2,896.0 1474.6,896.0 1476.0,896.0 1477.3,896.0 1478.7,896.0 1480.1,895.9 1481.5,895.9 1482.9,895.9 1484.3,895.9 1485.7,895.9 1487.1,895.8 1488.5,895.8 1489.9,895.8 1491.3,895.8 1492.7,895.7 1494.1,895.7 1495.5,895.7 1496.9,895.7 1498.3,895.6 1499.7,895.6 1501.1,895.6 1502.5,895.5 1503.9,895.5 1505.3,895.5 1506.7,895.5 1508.1,895.4 1509.5,895.4 1510.9,895.3 1512.3,895.3 1513.7,895.3 1515.0,895.2 1516.4,895.2 1517.8,895.1 1519.2,895.1 1520.6,895.0 1522.0,895.0 1523.4,894.9 1524.8,894.8 1526.2,894.7 1527.6,894.7 1529.0,894.6 1530.4,894.5 1531.8,894.4 1533.2,894.3 1534.6,894.1 1536.0,893.9 1537.4,893.6 1538.8,893.3 1540.2,893.0 1541.6,892.6 1543.0,892.3 1544.4,891.9 1545.8,891.6 1547.2,891.2 1548.6,890.9 1550.0,890.5 1551.4,890.1 1552.7,889.6 1554.1,889.2 1555.5,888.7 1556.9,888.3 1558.3,888.0 1559.7,887.7 1561.1,887.4 1562.5,887.1 1563.9,886.9 1565.3,886.6 1566.7,886.4 1568.1,886.2 1569.5,886.1 1570.9,886.0 1572.3,886.0 1573.7,886.0 1575.1,886.1 1576.5,886.2 1577.9,886.3 1579.3,886.4 1580.7,886.5 1582.1,886.7 1583.5,886.8 1584.9,887.0 1586.3,887.1 1587.7,887.3 1589.1,887.6 1590.4,887.8 1591.8,888.1 1593.2,888.3 1594.6,888.6 1596.0,888.9 1597.4,889.2 1598.8,889.4 1600.2,889.6 1601.6,889.9 1603.0,890.1 1604.4,890.3 1605.8,890.6 1607.2,890.8 1608.6,891.0 1610.0,891.2 1611.4,891.4 1612.8,891.7 1614.2,891.9 1615.6,892.1 1617.0,892.2 1618.4,892.4 1619.8,892.6 1621.2,892.7 1622.6,892.9 1624.0,893.1 1625.4,893.2 1626.8,893.4 1628.1,893.5 1629.5,893.7 1630.9,893.8 1632.3,893.9 1633.7,893.9 1635.1,894.0 1636.5,894.0 1637.9,893.9 1639.3,893.8 1640.7,893.6 1642.1,893.3 1643.5,893.0 1644.9,892.6 1646.3,892.2 1647.7,891.5 1649.1,890.7 1650.5,889.7 1651.9,888.6 1653.3,887.5 1654.7,886.3 1656.1,885.0 1657.5,883.5 1658.9,881.8 1660.3,880.0 1661.7,878.0 1663.1,876.0 1664.5,873.8 1665.8,871.7 1667.2,869.3 1668.6,866.8 1670.0,864.2 1671.4,861.4 1672.8,858.6 1674.2,855.6 1675.6,852.7 1677.0,849.5 1678.4,846.2 1679.8,842.8 1681.2,839.3 1682.6,835.9 1684.0,832.4 1685.4,829.1 1686.8,825.7 1688.2,822.3 1689.6,818.9 1691.0,815.6 1692.4,812.4 1693.8,809.3 1695.2,806.3 1696.6,803.4 1698.0,800.6 1699.4,798.1 1700.8,795.8 1702.2,793.7 1703.5,791.8 1704.9,790.1 1706.3,788.7 1707.7,787.4 1709.1,786.3 1710.5,785.5 1711.9,784.9 1713.3,784.4 1714.7,784.1 1716.1,783.8 1717.5,783.8 1718.9,784.0 1720.3,784.4 1721.7,784.9 1723.1,785.6 1724.5,786.9 1725.9,788.6 1727.3,790.4 1728.7,792.5 1730.1,795.0 1731.5,797.7 1732.9,800.7 1734.3,803.9 1735.7,807.6 1737.1,811.4 1738.5,815.5 1739.9,819.6 1741.2,823.8 1742.6,828.2 1744.0,832.7 1745.4,837.2 1746.8,841.5 1748.2,845.7 1749.6,849.8 1751.0,853.9 1752.4,857.8 1753.8,861.5 1755.2,865.0 1756.6,868.5 1758.0,871.7 1759.4,874.8 1760.8,877.6 1762.2,880.2 1763.6,882.7 1765.0,885.1 1766.4,887.1 1767.8,888.8 1769.2,890.1 1770.6,891.3 1772.0,892.4 1773.4,893.3 1774.8,893.9 1776.2,894.4 1777.6,894.7 1778.9,895.1 1780.3,895.3 1781.7,895.5 1783.1,895.6 1784.5,895.7 1785.9,895.7 1787.3,895.8 1788.7,895.8 1790.1,895.9 1791.5,895.9 1792.9,895.9 1794.3,896.0 1795.7,896.0 1797.1,896.0 1798.5,896.0 1799.9,896.0 1801.3,896.0 1802.7,896.0 1804.1,896.0 1805.5,896.0 1806.9,896.0 1808.3,896.0 1809.7,896.0 1811.1,896.0 1812.5,896.0 1813.9,895.9 1815.2,895.9 1816.6,895.9 1818.0,895.9 1819.4,895.9 1820.8,895.9 1822.2,895.9 1823.6,895.9 1825.0,895.8 1826.4,895.8 1827.8,895.8 1829.2,895.8 1830.6,895.8 1832.0,895.8 1833.4,895.8 1834.8,895.7 1836.2,895.7 1837.6,895.7 1839.0,895.7 1840.4,895.7 1841.8,895.7 1843.2,895.6 1844.6,895.6 1846.0,895.6 1847.4,895.5 1848.8,895.5 1850.2,895.5 1851.6,895.5 1852.9,895.4 1854.3,895.4 1855.7,895.3 1857.1,895.3 1858.5,895.3 1859.9,895.2 1861.3,895.1 1862.7,895.1 1864.1,895.0 1865.5,894.9 1866.9,894.7 1868.3,894.6 1869.7,894.4 1871.1,894.3 1872.5,894.1 1873.9,893.9 1875.3,893.7 1876.7,893.5 1878.1,893.3 1879.5,893.1 1880.9,892.9 1882.3,892.6 1883.7,892.3 1885.1,892.0 1886.5,891.7 1887.9,891.4 1889.3,891.0 1890.6,890.7 1892.0,890.3 1893.4,889.9 1894.8,889.5 1896.2,889.1 1897.6,888.7 1899.0,888.3 1900.4,887.9 1901.8,887.4 1903.2,887.0 1904.6,886.5 1906.0,886.0 1907.4,885.5 1908.8,885.0 1910.2,884.5 1911.6,884.0 1913.0,883.5 1914.4,882.9 1915.8,882.4 1917.2,881.9 1918.6,881.5 1920.0,881.0 1921.4,880.6 1922.8,880.1 1924.2,879.6 1925.6,879.2 1927.0,878.7 1928.3,878.3 1929.7,877.9 1931.1,877.5 1932.5,877.1 1933.9,876.8 1935.3,876.5 1936.7,876.3 1938.1,876.0 1939.5,875.8 1940.9,875.6 1942.3,875.4 1943.7,875.3 1945.1,875.1 1946.5,875.0" fill="none" stroke="#f87a08" stroke-width="2.5" stroke-linejoin="round" />
<line x1="1200.5" y1="790.5" x2="1200.5" y2="1106.0" stroke="#000" stroke-width="2.5" stroke-dasharray="14 13.6"/>
<line x1="1200.5" y1="1119.5" x2="1200.5" y2="1130.9" stroke="#000" stroke-width="2.5" />
<line x1="1711.6" y1="748.0" x2="1711.6" y2="1117.5" stroke="#0a0a9c" stroke-width="2.5" stroke-dasharray="13.7 13.5"/>
<rect x="969.5" y="684.0" width="978.3" height="446.9" fill="none" stroke="#000" stroke-width="2.6"/>
<path d="M1037.8 1130.9L1037.8 1136.5M1151.5 1130.9L1151.5 1141.5M1265.2 1130.9L1265.2 1136.5M1378.9 1130.9L1378.9 1141.5M1492.7 1130.9L1492.7 1136.5M1606.4 1130.9L1606.4 1141.5M1720.1 1130.9L1720.1 1136.5M1833.8 1130.9L1833.8 1141.5M1947.5 1130.9L1947.5 1136.5" stroke="#000" stroke-width="2.6" fill="none"/>
<text x="1151.5" y="1179.6" font-size="36" text-anchor="middle">700</text>
<text x="1378.9" y="1179.6" font-size="36" text-anchor="middle">800</text>
<text x="1606.4" y="1179.6" font-size="36" text-anchor="middle">900</text>
<text x="1833.8" y="1179.6" font-size="36" text-anchor="middle">1000</text>
<text x="1459.0" y="1214.4" font-size="36" text-anchor="middle">Raman shift (cm<tspan font-size="24" dy="-11">-1</tspan><tspan dy="11">)</tspan></text>
<text x="947.5" y="906.5" font-size="36" text-anchor="middle" transform="rotate(-90 947.5 906.5)">Intensity (a.u.)</text>
<text x="982.0" y="883.5" font-size="30">ACE</text>
<text x="982.0" y="994.0" font-size="30">CEE</text>
<text x="982.0" y="1108.1" font-size="30">THF</text>
<text x="1131.0" y="771.8" font-size="30">Free FSI<tspan font-size="20" dy="-9">-</tspan></text>
<text x="1553.5" y="789.3" font-size="30" fill="#0a0a9c">Free THF</text>
<text x="1566.0" y="721.5" font-size="30.4" fill="#808080">THF ring breathing</text>
<text x="891.0" y="687.0" font-size="57" font-weight="bold">e</text>
<polyline points="185.2,1522.4 186.2,1522.4 187.2,1522.4 188.2,1522.4 189.2,1522.4 190.1,1522.3 191.1,1522.3 192.1,1522.3 193.1,1522.3 194.1,1522.3 195.1,1522.3 196.1,1522.3 197.1,1522.3 198.1,1522.2 199.0,1522.2 200.0,1522.2 201.0,1522.2 202.0,1522.2 203.0,1522.2 204.0,1522.2 205.0,1522.2 206.0,1522.1 207.0,1522.1 207.9,1522.1 208.9,1522.1 209.9,1522.1 210.9,1522.1 211.9,1522.0 212.9,1522.0 213.9,1522.0 214.9,1522.0 215.9,1522.0 216.8,1522.0 217.8,1521.9 218.8,1521.9 219.8,1521.9 220.8,1521.9 221.8,1521.9 222.8,1521.8 223.8,1521.8 224.8,1521.8 225.7,1521.8 226.7,1521.7 227.7,1521.7 228.7,1521.7 229.7,1521.6 230.7,1521.6 231.7,1521.6 232.7,1521.6 233.7,1521.5 234.6,1521.5 235.6,1521.5 236.6,1521.5 237.6,1521.5 238.6,1521.5 239.6,1521.4 240.6,1521.4 241.6,1521.4 242.6,1521.4 243.5,1521.4 244.5,1521.4 245.5,1521.4 246.5,1521.4 247.5,1521.4 248.5,1521.4 249.5,1521.4 250.5,1521.4 251.5,1521.4 252.4,1521.4 253.4,1521.4 254.4,1521.4 255.4,1521.5 256.4,1521.5 257.4,1521.5 258.4,1521.5 259.4,1521.5 260.4,1521.5 261.3,1521.5 262.3,1521.5 263.3,1521.5 264.3,1521.5 265.3,1521.6 266.3,1521.6 267.3,1521.6 268.3,1521.6 269.3,1521.6 270.2,1521.6 271.2,1521.6 272.2,1521.6 273.2,1521.6 274.2,1521.6 275.2,1521.6 276.2,1521.6 277.2,1521.6 278.2,1521.6 279.1,1521.6 280.1,1521.6 281.1,1521.6 282.1,1521.6 283.1,1521.6 284.1,1521.6 285.1,1521.6 286.1,1521.6 287.1,1521.5 288.0,1521.5 289.0,1521.5 290.0,1521.5 291.0,1521.5 292.0,1521.5 293.0,1521.5 294.0,1521.5 295.0,1521.5 296.0,1521.5 296.9,1521.4 297.9,1521.4 298.9,1521.4 299.9,1521.4 300.9,1521.4 301.9,1521.4 302.9,1521.4 303.9,1521.4 304.9,1521.4 305.8,1521.3 306.8,1521.3 307.8,1521.3 308.8,1521.3 309.8,1521.3 310.8,1521.3 311.8,1521.2 312.8,1521.2 313.8,1521.2 314.7,1521.2 315.7,1521.1 316.7,1521.1 317.7,1521.1 318.7,1521.1 319.7,1521.0 320.7,1521.0 321.7,1521.0 322.7,1521.0 323.6,1520.9 324.6,1520.9 325.6,1520.9 326.6,1520.9 327.6,1520.8 328.6,1520.8 329.6,1520.8 330.6,1520.7 331.6,1520.7 332.5,1520.7 333.5,1520.6 334.5,1520.6 335.5,1520.6 336.5,1520.6 337.5,1520.5 338.5,1520.5 339.5,1520.4 340.5,1520.4 341.4,1520.4 342.4,1520.3 343.4,1520.3 344.4,1520.2 345.4,1520.2 346.4,1520.2 347.4,1520.1 348.4,1520.1 349.4,1520.0 350.3,1520.0 351.3,1519.9 352.3,1519.9 353.3,1519.8 354.3,1519.8 355.3,1519.7 356.3,1519.7 357.3,1519.6 358.3,1519.6 359.2,1519.5 360.2,1519.5 361.2,1519.4 362.2,1519.4 363.2,1519.3 364.2,1519.3 365.2,1519.2 366.2,1519.2 367.2,1519.1 368.1,1519.1 369.1,1519.0 370.1,1519.0 371.1,1518.9 372.1,1518.9 373.1,1518.8 374.1,1518.7 375.1,1518.7 376.1,1518.6 377.0,1518.5 378.0,1518.5 379.0,1518.4 380.0,1518.3 381.0,1518.2 382.0,1518.1 383.0,1518.0 384.0,1517.9 385.0,1517.7 385.9,1517.6 386.9,1517.4 387.9,1517.3 388.9,1517.1 389.9,1516.9 390.9,1516.7 391.9,1516.5 392.9,1516.3 393.9,1516.1 394.8,1515.9 395.8,1515.6 396.8,1515.4 397.8,1515.1 398.8,1514.8 399.8,1514.5 400.8,1514.1 401.8,1513.8 402.8,1513.4 403.7,1512.9 404.7,1512.5 405.7,1512.0 406.7,1511.4 407.7,1510.8 408.7,1510.0 409.7,1509.2 410.7,1508.3 411.6,1507.4 412.6,1506.5 413.6,1505.6 414.6,1504.6 415.6,1503.4 416.6,1502.3 417.6,1501.2 418.6,1500.3 419.6,1499.5 420.5,1498.9 421.5,1498.4 422.5,1497.9 423.5,1497.5 424.5,1496.9 425.5,1496.3 426.5,1495.6 427.5,1494.8 428.5,1493.9 429.4,1493.0 430.4,1491.9 431.4,1490.7 432.4,1489.3 433.4,1487.6 434.4,1485.6 435.4,1483.4 436.4,1481.1 437.4,1478.6 438.3,1476.0 439.3,1472.9 440.3,1469.6 441.3,1466.0 442.3,1462.1 443.3,1457.7 444.3,1452.8 445.3,1447.5 446.3,1441.5 447.2,1434.6 448.2,1427.6 449.2,1421.1 450.2,1414.8 451.2,1409.0 452.2,1403.9 453.2,1399.2 454.2,1396.5 455.2,1395.0 456.1,1394.7 457.1,1396.1 458.1,1398.5 459.1,1403.0 460.1,1408.5 461.1,1414.9 462.1,1422.2 463.1,1429.5 464.1,1436.6 465.0,1443.7 466.0,1450.4 467.0,1456.8 468.0,1462.9 469.0,1468.3 470.0,1473.3 471.0,1477.8 472.0,1481.7 473.0,1485.2 473.9,1488.4 474.9,1491.3 475.9,1493.9 476.9,1496.1 477.9,1498.0 478.9,1499.8 479.9,1501.5 480.9,1503.0 481.9,1504.3 482.8,1505.5 483.8,1506.6 484.8,1507.6 485.8,1508.6 486.8,1509.5 487.8,1510.3 488.8,1511.1 489.8,1511.7 490.8,1512.3 491.7,1512.9 492.7,1513.4 493.7,1513.9 494.7,1514.3 495.7,1514.8 496.7,1515.2 497.7,1515.5 498.7,1515.9 499.7,1516.2 500.6,1516.5 501.6,1516.8 502.6,1517.0 503.6,1517.3 504.6,1517.5 505.6,1517.8 506.6,1518.0 507.6,1518.2 508.6,1518.4 509.5,1518.6 510.5,1518.8 511.5,1519.0 512.5,1519.2 513.5,1519.3 514.5,1519.4 515.5,1519.6 516.5,1519.7 517.5,1519.8 518.4,1519.9 519.4,1520.0 520.4,1520.1 521.4,1520.2 522.4,1520.2 523.4,1520.3 524.4,1520.4 525.4,1520.5 526.4,1520.5 527.3,1520.6 528.3,1520.7 529.3,1520.7 530.3,1520.8 531.3,1520.8 532.3,1520.9 533.3,1520.9 534.3,1521.0 535.3,1521.0 536.2,1521.0 537.2,1521.1 538.2,1521.1 539.2,1521.2 540.2,1521.2 541.2,1521.2 542.2,1521.3 543.2,1521.3 544.2,1521.3 545.1,1521.4 546.1,1521.4 547.1,1521.4 548.1,1521.5 549.1,1521.5 550.1,1521.5 551.1,1521.6 552.1,1521.6 553.1,1521.6 554.0,1521.6 555.0,1521.7 556.0,1521.7 557.0,1521.7 558.0,1521.7 559.0,1521.8 560.0,1521.8 561.0,1521.8 562.0,1521.8 562.9,1521.8 563.9,1521.9 564.9,1521.9 565.9,1521.9 566.9,1521.9 567.9,1522.0 568.9,1522.0 569.9,1522.0 570.9,1522.0 571.8,1522.0 572.8,1522.1 573.8,1522.1 574.8,1522.1 575.8,1522.1 576.8,1522.1 577.8,1522.2 578.8,1522.2 579.8,1522.2 580.7,1522.2 581.7,1522.2 582.7,1522.2 583.7,1522.3 584.7,1522.3 585.7,1522.3 586.7,1522.3 587.7,1522.3 588.7,1522.3 589.6,1522.3 590.6,1522.3 591.6,1522.3 592.6,1522.3 593.6,1522.3 594.6,1522.3 595.6,1522.3 596.6,1522.3 597.6,1522.3 598.5,1522.3 599.5,1522.3 600.5,1522.3 601.5,1522.3 602.5,1522.3 603.5,1522.3 604.5,1522.3 605.5,1522.3 606.5,1522.3 607.4,1522.3 608.4,1522.3 609.4,1522.3 610.4,1522.3 611.4,1522.3 612.4,1522.3 613.4,1522.3 614.4,1522.3 615.4,1522.3 616.3,1522.3 617.3,1522.3 618.3,1522.3 619.3,1522.3 620.3,1522.3 621.3,1522.3 622.3,1522.3 623.3,1522.3 624.3,1522.3 625.2,1522.3 626.2,1522.3 627.2,1522.3 628.2,1522.3 629.2,1522.3" fill="none" stroke="#f87a08" stroke-width="2.5" stroke-linejoin="round" />
<polyline points="185.2,1714.4 186.2,1714.4 187.2,1714.4 188.2,1714.4 189.2,1714.4 190.1,1714.3 191.1,1714.3 192.1,1714.3 193.1,1714.3 194.1,1714.3 195.1,1714.3 196.1,1714.3 197.1,1714.3 198.1,1714.2 199.0,1714.2 200.0,1714.2 201.0,1714.2 202.0,1714.2 203.0,1714.2 204.0,1714.2 205.0,1714.2 206.0,1714.1 207.0,1714.1 207.9,1714.1 208.9,1714.1 209.9,1714.1 210.9,1714.1 211.9,1714.0 212.9,1714.0 213.9,1714.0 214.9,1714.0 215.9,1714.0 216.8,1714.0 217.8,1714.0 218.8,1713.9 219.8,1713.9 220.8,1713.9 221.8,1713.9 222.8,1713.9 223.8,1713.8 224.8,1713.8 225.7,1713.8 226.7,1713.8 227.7,1713.8 228.7,1713.7 229.7,1713.7 230.7,1713.7 231.7,1713.7 232.7,1713.6 233.7,1713.6 234.6,1713.6 235.6,1713.6 236.6,1713.6 237.6,1713.5 238.6,1713.5 239.6,1713.5 240.6,1713.5 241.6,1713.5 242.6,1713.4 243.5,1713.4 244.5,1713.4 245.5,1713.4 246.5,1713.4 247.5,1713.4 248.5,1713.3 249.5,1713.3 250.5,1713.3 251.5,1713.3 252.4,1713.2 253.4,1713.2 254.4,1713.2 255.4,1713.2 256.4,1713.2 257.4,1713.1 258.4,1713.1 259.4,1713.1 260.4,1713.1 261.3,1713.1 262.3,1713.1 263.3,1713.0 264.3,1713.0 265.3,1713.0 266.3,1713.0 267.3,1713.0 268.3,1713.0 269.3,1713.0 270.2,1713.0 271.2,1713.0 272.2,1713.0 273.2,1713.0 274.2,1713.0 275.2,1713.0 276.2,1713.0 277.2,1713.0 278.2,1713.0 279.1,1713.0 280.1,1713.0 281.1,1713.1 282.1,1713.1 283.1,1713.1 284.1,1713.1 285.1,1713.1 286.1,1713.1 287.1,1713.1 288.0,1713.1 289.0,1713.1 290.0,1713.1 291.0,1713.1 292.0,1713.2 293.0,1713.2 294.0,1713.2 295.0,1713.2 296.0,1713.2 296.9,1713.2 297.9,1713.2 298.9,1713.2 299.9,1713.2 300.9,1713.2 301.9,1713.2 302.9,1713.2 303.9,1713.2 304.9,1713.2 305.8,1713.2 306.8,1713.2 307.8,1713.2 308.8,1713.2 309.8,1713.2 310.8,1713.2 311.8,1713.1 312.8,1713.1 313.8,1713.1 314.7,1713.1 315.7,1713.1 316.7,1713.1 317.7,1713.1 318.7,1713.1 319.7,1713.1 320.7,1713.0 321.7,1713.0 322.7,1713.0 323.6,1713.0 324.6,1713.0 325.6,1713.0 326.6,1712.9 327.6,1712.9 328.6,1712.9 329.6,1712.9 330.6,1712.9 331.6,1712.9 332.5,1712.8 333.5,1712.8 334.5,1712.8 335.5,1712.8 336.5,1712.8 337.5,1712.8 338.5,1712.7 339.5,1712.7 340.5,1712.7 341.4,1712.7 342.4,1712.6 343.4,1712.6 344.4,1712.6 345.4,1712.6 346.4,1712.5 347.4,1712.5 348.4,1712.5 349.4,1712.4 350.3,1712.4 351.3,1712.4 352.3,1712.3 353.3,1712.3 354.3,1712.3 355.3,1712.2 356.3,1712.2 357.3,1712.2 358.3,1712.1 359.2,1712.1 360.2,1712.1 361.2,1712.0 362.2,1712.0 363.2,1711.9 364.2,1711.9 365.2,1711.9 366.2,1711.8 367.2,1711.8 368.1,1711.7 369.1,1711.7 370.1,1711.6 371.1,1711.6 372.1,1711.5 373.1,1711.5 374.1,1711.4 375.1,1711.4 376.1,1711.3 377.0,1711.2 378.0,1711.2 379.0,1711.1 380.0,1711.0 381.0,1710.9 382.0,1710.8 383.0,1710.6 384.0,1710.5 385.0,1710.3 385.9,1710.1 386.9,1709.9 387.9,1709.7 388.9,1709.4 389.9,1709.2 390.9,1708.9 391.9,1708.7 392.9,1708.4 393.9,1708.1 394.8,1707.9 395.8,1707.6 396.8,1707.3 397.8,1707.0 398.8,1706.7 399.8,1706.4 400.8,1706.1 401.8,1705.7 402.8,1705.4 403.7,1705.0 404.7,1704.6 405.7,1704.2 406.7,1703.8 407.7,1703.4 408.7,1702.9 409.7,1702.5 410.7,1702.0 411.6,1701.5 412.6,1700.9 413.6,1700.4 414.6,1699.8 415.6,1699.1 416.6,1698.5 417.6,1697.8 418.6,1697.0 419.6,1696.3 420.5,1695.4 421.5,1694.6 422.5,1693.7 423.5,1692.7 424.5,1691.6 425.5,1690.4 426.5,1689.2 427.5,1687.8 428.5,1686.4 429.4,1684.8 430.4,1683.2 431.4,1681.6 432.4,1679.7 433.4,1677.7 434.4,1675.5 435.4,1673.1 436.4,1670.7 437.4,1668.1 438.3,1665.6 439.3,1662.8 440.3,1659.9 441.3,1656.7 442.3,1653.2 443.3,1649.2 444.3,1644.7 445.3,1639.8 446.3,1634.4 447.2,1628.1 448.2,1621.5 449.2,1615.0 450.2,1608.1 451.2,1601.6 452.2,1596.2 453.2,1591.4 454.2,1588.7 455.2,1587.2 456.1,1586.9 457.1,1588.5 458.1,1591.3 459.1,1597.2 460.1,1604.1 461.1,1611.2 462.1,1618.8 463.1,1626.6 464.1,1634.7 465.0,1643.0 466.0,1650.5 467.0,1657.2 468.0,1663.3 469.0,1668.3 470.0,1672.3 471.0,1675.9 472.0,1679.0 473.0,1681.7 473.9,1684.3 474.9,1686.6 475.9,1688.8 476.9,1690.9 477.9,1692.7 478.9,1694.4 479.9,1695.8 480.9,1697.1 481.9,1698.3 482.8,1699.5 483.8,1700.6 484.8,1701.6 485.8,1702.5 486.8,1703.3 487.8,1704.0 488.8,1704.6 489.8,1705.1 490.8,1705.6 491.7,1706.1 492.7,1706.5 493.7,1706.9 494.7,1707.2 495.7,1707.6 496.7,1707.9 497.7,1708.2 498.7,1708.5 499.7,1708.7 500.6,1709.0 501.6,1709.2 502.6,1709.5 503.6,1709.7 504.6,1709.9 505.6,1710.1 506.6,1710.3 507.6,1710.5 508.6,1710.7 509.5,1710.8 510.5,1711.0 511.5,1711.2 512.5,1711.3 513.5,1711.4 514.5,1711.6 515.5,1711.7 516.5,1711.8 517.5,1711.9 518.4,1712.0 519.4,1712.0 520.4,1712.1 521.4,1712.2 522.4,1712.3 523.4,1712.4 524.4,1712.4 525.4,1712.5 526.4,1712.6 527.3,1712.6 528.3,1712.7 529.3,1712.7 530.3,1712.8 531.3,1712.8 532.3,1712.9 533.3,1712.9 534.3,1713.0 535.3,1713.0 536.2,1713.0 537.2,1713.1 538.2,1713.1 539.2,1713.2 540.2,1713.2 541.2,1713.2 542.2,1713.3 543.2,1713.3 544.2,1713.3 545.1,1713.4 546.1,1713.4 547.1,1713.4 548.1,1713.5 549.1,1713.5 550.1,1713.5 551.1,1713.6 552.1,1713.6 553.1,1713.6 554.0,1713.6 555.0,1713.7 556.0,1713.7 557.0,1713.7 558.0,1713.7 559.0,1713.8 560.0,1713.8 561.0,1713.8 562.0,1713.8 562.9,1713.8 563.9,1713.9 564.9,1713.9 565.9,1713.9 566.9,1713.9 567.9,1713.9 568.9,1713.9 569.9,1714.0 570.9,1714.0 571.8,1714.0 572.8,1714.0 573.8,1714.0 574.8,1714.0 575.8,1714.1 576.8,1714.1 577.8,1714.1 578.8,1714.1 579.8,1714.1 580.7,1714.1 581.7,1714.2 582.7,1714.2 583.7,1714.2 584.7,1714.2 585.7,1714.2 586.7,1714.2 587.7,1714.3 588.7,1714.3 589.6,1714.3 590.6,1714.3 591.6,1714.3 592.6,1714.3 593.6,1714.3 594.6,1714.3 595.6,1714.4 596.6,1714.4 597.6,1714.4 598.5,1714.4 599.5,1714.4 600.5,1714.4 601.5,1714.4 602.5,1714.4 603.5,1714.5 604.5,1714.5 605.5,1714.5 606.5,1714.5 607.4,1714.5 608.4,1714.5 609.4,1714.5 610.4,1714.5 611.4,1714.5 612.4,1714.5 613.4,1714.5 614.4,1714.5 615.4,1714.6 616.3,1714.6 617.3,1714.6 618.3,1714.6 619.3,1714.6 620.3,1714.6 621.3,1714.6 622.3,1714.6 623.3,1714.6 624.3,1714.6 625.2,1714.6 626.2,1714.6 627.2,1714.6 628.2,1714.6 629.2,1714.6" fill="none" stroke="#0a820a" stroke-width="2.5" stroke-linejoin="round" />
<rect x="183.8" y="1331.5" width="446.8" height="447.3" fill="none" stroke="#000" stroke-width="2.6"/>
<path d="M272.8 1778.8L272.8 1789.4M451.2 1778.8L451.2 1789.4M183.8 1778.8L183.8 1784.4M362.0 1778.8L362.0 1784.4M540.4 1778.8L540.4 1784.4M630.6 1778.8L630.6 1784.4" stroke="#000" stroke-width="2.6" fill="none"/>
<text x="272.8" y="1822.5" font-size="36" text-anchor="middle">0.0</text>
<text x="451.2" y="1822.5" font-size="36" text-anchor="middle">–0.5</text>
<text x="406.0" y="1863.7" font-size="36" text-anchor="middle">Chemical shift (ppm)</text>
<text x="161.5" y="1555.5" font-size="36" text-anchor="middle" transform="rotate(-90 161.5 1555.5)">Intensity (a.u.)</text>
<text x="194.0" y="1372.9" font-size="35" font-weight="bold"><tspan font-size="23" dy="-10.5">7</tspan><tspan dy="10.5">Li</tspan></text>
<text x="394.3" y="1392.2" font-size="30.8" text-anchor="middle" fill="#f87a08">LiFSI</text>
<text x="394.3" y="1428.8" font-size="30.8" text-anchor="middle" fill="#f87a08">–0.469</text>
<text x="394.3" y="1582.6" font-size="30.8" text-anchor="middle" fill="#0a820a">LiFSI</text>
<text x="394.3" y="1619.2" font-size="30.8" text-anchor="middle" fill="#0a820a">–0.408</text>
<text x="246.5" y="1507.3" font-size="30.8">LiCl</text>
<text x="246.5" y="1698.7" font-size="30.8">LiCl</text>
<text x="569.6" y="1560.0" font-size="33.5" text-anchor="middle" fill="#f87a08">ACE</text>
<text x="569.6" y="1751.6" font-size="33.5" text-anchor="middle" fill="#0a820a">CEE</text>
<text x="104.0" y="1333.3" font-size="57" font-weight="bold">f</text>
<line x1="844.8" y1="1523.4" x2="1288.7" y2="1523.4" stroke="#f87a08" stroke-width="2.6" />
<path d="M914.7 1523.4L914.7 1396.6L916.0 1395.6L917.3 1396.6L917.3 1523.4Z" fill="#f87a08"/>
<path d="M1101.0 1523.4L1101.0 1438.0L1102.8 1437.0L1103.0 1432.5L1104.2 1432.0L1105.2 1433.0L1105.4 1523.4Z" fill="#f87a08"/>
<line x1="844.8" y1="1715.2" x2="1288.7" y2="1715.2" stroke="#0a820a" stroke-width="2.6" />
<path d="M914.7 1715.2L914.7 1588.0L916.0 1587.0L917.3 1588.0L917.3 1715.2Z" fill="#0a820a"/>
<path d="M1101.0 1715.2L1101.0 1644.4L1102.8 1643.4L1103.0 1638.9L1104.2 1638.4L1105.2 1639.4L1105.4 1715.2Z" fill="#0a820a"/>
<path d="M1223.2 1523L1224.4 1519.6L1225.6 1523Z" fill="#f87a08" stroke="#f87a08" stroke-width="0.8"/>
<rect x="843.8" y="1332.5" width="445.9" height="446.7" fill="none" stroke="#000" stroke-width="2.6"/>
<path d="M843.8 1779.2L843.8 1789.8M992.1 1779.2L992.1 1789.8M1140.4 1779.2L1140.4 1789.8M1289.7 1779.2L1289.7 1789.8M918.0 1779.2L918.0 1784.8M1066.2 1779.2L1066.2 1784.8M1214.5 1779.2L1214.5 1784.8" stroke="#000" stroke-width="2.6" fill="none"/>
<text x="843.8" y="1822.5" font-size="36" text-anchor="middle">100</text>
<text x="992.1" y="1822.5" font-size="36" text-anchor="middle">0</text>
<text x="1140.4" y="1822.5" font-size="36" text-anchor="middle">–100</text>
<text x="1289.7" y="1822.5" font-size="36" text-anchor="middle">–200</text>
<text x="1066.0" y="1863.7" font-size="36" text-anchor="middle">Chemical shift (ppm)</text>
<text x="823.0" y="1555.5" font-size="36" text-anchor="middle" transform="rotate(-90 823.0 1555.5)">Intensity (a.u.)</text>
<text x="854.5" y="1373.5" font-size="35" font-weight="bold"><tspan font-size="23" dy="-10.5">19</tspan><tspan dy="10.5">F</tspan></text>
<text x="976.7" y="1389.6" font-size="30.8" text-anchor="middle" fill="#f87a08">LiFSI</text>
<text x="976.7" y="1426.8" font-size="30.8" text-anchor="middle" fill="#f87a08">51.17</text>
<text x="976.7" y="1580.2" font-size="30.8" text-anchor="middle" fill="#0a820a">LiFSI</text>
<text x="976.7" y="1617.2" font-size="30.8" text-anchor="middle" fill="#0a820a">51.17</text>
<text x="1066.0" y="1417.7" font-size="30.8">LiPF<tspan font-size="20" dy="7.5">6</tspan></text>
<text x="1066.0" y="1624.3" font-size="30.8">LiPF<tspan font-size="20" dy="7.5">6</tspan></text>
<text x="1221.0" y="1472.0" font-size="30.8" text-anchor="middle" fill="#f87a08">TBATFB</text>
<text x="1221.0" y="1509.5" font-size="30.8" text-anchor="middle" fill="#f87a08">–0.408</text>
<text x="1229.6" y="1560.0" font-size="33.5" text-anchor="middle" fill="#f87a08">ACE</text>
<text x="1229.6" y="1751.6" font-size="33.5" text-anchor="middle" fill="#0a820a">CEE</text>
<text x="762.5" y="1333.3" font-size="57" font-weight="bold">g</text>
<polyline points="1500.5,1515.5 1501.0,1515.5 1501.5,1514.9 1502.0,1514.6 1502.5,1514.6 1503.0,1514.6 1503.5,1515.3 1504.0,1515.9 1504.5,1515.1 1505.0,1514.8 1505.5,1515.2 1506.0,1515.5 1506.5,1515.1 1507.0,1515.1 1507.5,1515.5 1508.0,1515.6 1508.5,1514.9 1509.0,1514.5 1509.5,1514.2 1510.0,1513.9 1510.5,1514.3 1511.0,1514.8 1511.5,1515.4 1512.0,1515.9 1512.5,1516.0 1513.0,1515.3 1513.5,1514.6 1514.0,1515.1 1514.5,1516.1 1515.0,1515.8 1515.5,1515.1 1516.0,1515.0 1516.5,1514.9 1517.0,1515.1 1517.5,1515.7 1518.0,1515.4 1518.5,1515.4 1519.0,1515.6 1519.5,1515.0 1520.0,1515.2 1520.5,1515.1 1521.0,1514.9 1521.5,1514.3 1522.0,1514.8 1522.5,1515.3 1523.0,1514.6 1523.5,1514.6 1524.0,1514.6 1524.5,1514.7 1525.0,1515.8 1525.5,1515.4 1526.0,1514.3 1526.5,1514.5 1527.0,1514.8 1527.5,1514.7 1528.0,1514.5 1528.5,1514.5 1529.0,1514.8 1529.5,1514.8 1530.0,1513.8 1530.5,1513.5 1531.0,1513.2 1531.5,1513.0 1532.0,1512.6 1532.5,1512.5 1533.0,1513.1 1533.5,1513.9 1534.0,1513.7 1534.5,1512.0 1535.0,1511.6 1535.5,1511.3 1536.0,1510.4 1536.5,1510.2 1537.0,1510.3 1537.5,1510.0 1538.0,1508.9 1538.5,1507.2 1539.0,1505.7 1539.5,1504.6 1540.0,1503.1 1540.5,1500.4 1541.0,1497.4 1541.5,1494.6 1542.0,1490.9 1542.5,1487.2 1543.0,1483.9 1543.5,1482.4 1544.0,1482.3 1544.5,1484.0 1545.0,1486.4 1545.5,1489.1 1546.0,1492.0 1546.5,1494.8 1547.0,1498.1 1547.5,1500.8 1548.0,1502.5 1548.5,1503.7 1549.0,1505.1 1549.5,1505.6 1550.0,1506.3 1550.5,1507.9 1551.0,1509.2 1551.5,1510.7 1552.0,1512.1 1552.5,1511.4 1553.0,1511.5 1553.5,1512.2 1554.0,1512.8 1554.5,1512.9 1555.0,1513.2 1555.6,1513.9 1556.1,1513.9 1556.6,1513.7 1557.1,1514.0 1557.6,1514.3 1558.1,1514.2 1558.6,1514.6 1559.1,1515.0 1559.6,1515.5 1560.1,1515.6 1560.6,1515.2 1561.1,1514.9 1561.6,1514.5 1562.1,1513.9 1562.6,1514.2 1563.1,1514.5 1563.6,1514.3 1564.1,1514.5 1564.6,1514.6 1565.1,1514.7 1565.6,1515.1 1566.1,1515.4 1566.6,1514.8 1567.1,1514.3 1567.6,1515.1 1568.1,1515.2 1568.6,1514.1 1569.1,1513.7 1569.6,1513.5 1570.1,1513.8 1570.6,1514.0 1571.1,1513.9 1571.6,1513.5 1572.1,1513.3 1572.6,1513.3 1573.1,1514.0 1573.6,1515.1 1574.1,1515.4 1574.6,1515.3 1575.1,1515.1 1575.6,1514.5 1576.1,1514.6 1576.6,1514.9 1577.1,1515.5 1577.6,1515.4 1578.1,1515.2 1578.6,1515.1 1579.1,1515.5 1579.6,1516.5 1580.1,1515.6 1580.6,1515.2 1581.1,1516.1 1581.6,1516.7 1582.1,1515.9 1582.6,1515.5 1583.1,1514.9 1583.6,1514.8 1584.1,1515.8 1584.6,1516.1 1585.1,1515.6 1585.6,1515.6 1586.1,1515.8 1586.6,1515.7 1587.1,1515.0 1587.6,1514.6 1588.1,1514.9 1588.6,1515.4 1589.1,1515.5 1589.6,1515.3 1590.1,1515.4 1590.6,1515.5 1591.1,1515.8 1591.6,1515.7 1592.1,1515.5 1592.6,1515.6 1593.1,1516.1 1593.6,1516.6 1594.1,1516.4 1594.6,1515.7 1595.1,1515.2 1595.6,1514.7 1596.1,1515.5 1596.6,1515.9 1597.1,1515.6 1597.6,1515.9 1598.1,1516.4 1598.6,1516.8 1599.1,1516.5 1599.6,1516.1 1600.1,1516.0 1600.6,1515.3 1601.1,1515.4 1601.6,1516.1 1602.1,1516.2 1602.6,1516.6 1603.1,1516.1 1603.6,1514.6 1604.1,1514.1 1604.6,1515.3 1605.1,1515.4 1605.6,1515.8 1606.1,1516.0 1606.6,1515.1 1607.1,1514.9 1607.6,1516.1 1608.1,1516.4 1608.6,1516.2 1609.1,1515.9 1609.6,1515.5 1610.1,1515.3 1610.6,1515.7 1611.1,1515.3 1611.6,1515.1 1612.1,1516.0 1612.6,1516.4 1613.1,1515.9 1613.6,1515.4 1614.1,1515.2 1614.6,1514.9 1615.1,1514.9 1615.6,1515.4 1616.1,1515.3 1616.6,1515.3 1617.1,1515.9 1617.6,1515.7 1618.1,1515.0 1618.6,1515.0 1619.1,1515.0 1619.6,1514.2 1620.1,1513.5 1620.6,1513.9 1621.1,1514.4 1621.6,1514.5 1622.1,1514.0 1622.6,1514.0 1623.1,1514.1 1623.6,1512.8 1624.1,1511.5 1624.6,1511.4 1625.1,1510.7 1625.6,1510.2 1626.1,1511.7 1626.6,1513.5 1627.1,1512.9 1627.6,1512.2 1628.1,1512.6 1628.6,1514.0 1629.1,1514.4 1629.6,1514.2 1630.1,1514.4 1630.6,1514.9 1631.1,1515.4 1631.6,1515.2 1632.1,1514.8 1632.6,1514.8 1633.1,1515.1 1633.6,1515.8 1634.1,1516.2 1634.6,1515.5 1635.1,1515.5 1635.6,1515.7 1636.1,1516.1 1636.6,1517.3 1637.1,1517.4 1637.6,1516.5 1638.1,1516.3 1638.6,1515.2 1639.1,1514.1 1639.6,1514.8 1640.1,1515.3 1640.6,1514.9 1641.1,1514.6 1641.6,1514.9 1642.1,1515.5 1642.6,1516.1 1643.1,1515.7 1643.6,1515.5 1644.1,1515.6 1644.6,1514.7 1645.1,1513.8 1645.6,1514.0 1646.1,1515.1 1646.6,1515.4 1647.1,1515.1 1647.6,1514.8 1648.1,1514.6 1648.6,1514.2 1649.1,1513.8 1649.6,1513.5 1650.1,1514.0 1650.6,1514.5 1651.1,1514.2 1651.6,1513.3 1652.1,1512.7 1652.6,1513.2 1653.1,1514.3 1653.6,1514.4 1654.1,1513.7 1654.6,1513.3 1655.1,1513.1 1655.6,1513.9 1656.1,1514.3 1656.6,1514.1 1657.1,1513.9 1657.6,1514.2 1658.1,1513.9 1658.6,1513.7 1659.1,1514.0 1659.6,1514.9 1660.1,1515.6 1660.6,1515.6 1661.1,1516.2 1661.6,1516.5 1662.1,1515.9 1662.6,1515.4 1663.1,1515.7 1663.6,1515.7 1664.1,1515.4 1664.6,1516.3 1665.1,1516.9 1665.7,1515.8 1666.2,1515.1 1666.7,1515.2 1667.2,1515.4 1667.7,1514.9 1668.2,1515.5 1668.7,1516.6 1669.2,1516.6 1669.7,1517.0 1670.2,1517.3 1670.7,1516.9 1671.2,1517.2 1671.7,1517.8 1672.2,1517.0 1672.7,1516.2 1673.2,1516.2 1673.7,1517.0 1674.2,1517.9 1674.7,1517.7 1675.2,1516.7 1675.7,1516.4 1676.2,1517.2 1676.7,1517.4 1677.2,1517.3 1677.7,1517.8 1678.2,1517.8 1678.7,1517.5 1679.2,1517.7 1679.7,1518.0 1680.2,1518.2 1680.7,1518.5 1681.2,1518.9 1681.7,1518.2 1682.2,1516.8 1682.7,1516.2 1683.2,1516.2 1683.7,1515.5 1684.2,1515.8 1684.7,1517.4 1685.2,1517.7 1685.7,1516.6 1686.2,1515.8 1686.7,1516.1 1687.2,1516.7 1687.7,1517.7 1688.2,1518.3 1688.7,1517.2 1689.2,1515.9 1689.7,1515.7 1690.2,1516.0 1690.7,1516.4 1691.2,1516.2 1691.7,1516.7 1692.2,1517.1 1692.7,1518.1 1693.2,1518.6 1693.7,1518.2 1694.2,1517.8 1694.7,1517.6 1695.2,1517.7 1695.7,1517.6 1696.2,1517.2 1696.7,1516.5 1697.2,1517.0 1697.7,1517.9 1698.2,1518.3 1698.7,1518.7 1699.2,1518.6 1699.7,1517.6 1700.2,1517.8 1700.7,1518.4 1701.2,1518.4 1701.7,1517.9 1702.2,1518.5 1702.7,1517.8 1703.2,1517.0 1703.7,1517.4 1704.2,1518.5 1704.7,1518.1 1705.2,1517.4 1705.7,1518.3 1706.2,1519.1 1706.7,1518.9 1707.2,1518.1 1707.7,1517.3 1708.2,1517.9 1708.7,1518.7 1709.2,1518.6 1709.7,1517.9 1710.2,1517.4 1710.7,1517.0 1711.2,1516.7 1711.7,1517.6 1712.2,1517.7 1712.7,1517.7 1713.2,1518.0 1713.7,1517.8 1714.2,1516.8 1714.7,1516.3 1715.2,1516.5 1715.7,1516.6 1716.2,1516.6 1716.7,1516.5 1717.2,1516.6 1717.7,1516.1 1718.2,1516.1 1718.7,1517.4 1719.2,1517.5 1719.7,1517.0 1720.2,1516.8 1720.7,1516.7 1721.2,1517.2 1721.7,1517.8 1722.2,1518.4 1722.7,1518.5 1723.2,1518.1 1723.7,1518.0 1724.2,1517.7 1724.7,1517.9 1725.2,1518.4 1725.7,1518.7 1726.2,1518.5 1726.7,1518.1 1727.2,1517.5 1727.7,1517.8 1728.2,1518.2 1728.7,1517.9 1729.2,1517.2 1729.7,1516.6 1730.2,1516.7 1730.7,1516.7 1731.2,1515.7 1731.7,1515.0 1732.2,1515.9 1732.7,1516.3 1733.2,1515.7 1733.7,1514.9 1734.2,1515.2 1734.7,1515.6 1735.2,1516.0 1735.7,1515.6 1736.2,1515.8 1736.7,1516.1 1737.2,1516.0 1737.7,1515.9 1738.2,1515.4 1738.7,1514.8 1739.2,1515.4 1739.7,1516.7 1740.2,1516.8 1740.7,1516.8 1741.2,1516.9 1741.7,1517.2 1742.2,1517.7 1742.7,1517.6 1743.2,1516.0 1743.7,1515.3 1744.2,1515.4 1744.7,1515.5 1745.2,1516.6 1745.7,1516.8 1746.2,1515.7 1746.7,1515.0 1747.2,1516.4 1747.7,1516.5 1748.2,1515.7 1748.7,1516.0 1749.2,1516.9 1749.7,1517.2 1750.2,1516.5 1750.7,1516.0 1751.2,1515.7 1751.7,1515.8 1752.2,1517.4 1752.7,1517.6 1753.2,1516.9 1753.7,1515.8 1754.2,1515.7 1754.7,1516.8 1755.2,1517.6 1755.7,1517.5 1756.2,1516.7 1756.7,1516.6 1757.2,1516.2 1757.7,1516.7 1758.2,1517.4 1758.7,1517.1 1759.2,1515.7 1759.7,1514.8 1760.2,1515.1 1760.7,1514.8 1761.2,1514.7 1761.7,1515.0 1762.2,1514.3 1762.7,1514.3 1763.2,1514.0 1763.7,1513.4 1764.2,1512.4 1764.7,1511.0 1765.2,1510.1 1765.7,1509.8 1766.2,1509.1 1766.7,1508.4 1767.2,1507.0 1767.7,1505.0 1768.2,1503.0 1768.7,1500.8 1769.2,1498.4 1769.7,1494.9 1770.2,1490.3 1770.7,1486.4 1771.2,1482.2 1771.7,1477.6 1772.2,1474.5 1772.7,1473.4 1773.2,1474.6 1773.7,1478.1 1774.2,1482.7 1774.7,1487.2 1775.2,1491.4 1775.8,1495.2 1776.3,1498.8 1776.8,1501.1 1777.3,1503.4 1777.8,1505.2 1778.3,1506.3 1778.8,1507.7 1779.3,1508.7 1779.8,1509.5 1780.3,1510.2 1780.8,1510.4 1781.3,1511.0 1781.8,1511.9 1782.3,1512.0 1782.8,1511.7 1783.3,1511.2 1783.8,1511.9 1784.3,1513.1 1784.8,1513.4 1785.3,1512.3 1785.8,1511.8 1786.3,1512.1 1786.8,1511.4 1787.3,1510.0 1787.8,1509.8 1788.3,1509.2 1788.8,1508.4 1789.3,1508.6 1789.8,1508.0 1790.3,1506.4 1790.8,1504.4 1791.3,1502.8 1791.8,1498.7 1792.3,1493.0 1792.8,1485.7 1793.3,1476.2 1793.8,1464.4 1794.3,1447.5 1794.8,1425.7 1795.3,1404.4 1795.8,1393.9 1796.3,1401.6 1796.8,1422.5 1797.3,1445.5 1797.8,1463.7 1798.3,1476.8 1798.8,1485.9 1799.3,1492.1 1799.8,1497.0 1800.3,1499.9 1800.8,1502.8 1801.3,1505.8 1801.8,1508.1 1802.3,1509.0 1802.8,1509.1 1803.3,1510.1 1803.8,1510.9 1804.3,1510.8 1804.8,1511.3 1805.3,1512.7 1805.8,1514.1 1806.3,1514.1 1806.8,1514.0 1807.3,1514.4 1807.8,1514.5 1808.3,1513.9 1808.8,1514.8 1809.3,1516.0 1809.8,1516.6 1810.3,1517.0 1810.8,1516.5 1811.3,1516.0 1811.8,1516.1 1812.3,1516.1 1812.8,1515.8 1813.3,1516.2 1813.8,1516.9 1814.3,1517.1 1814.8,1515.9 1815.3,1515.2 1815.8,1515.4 1816.3,1515.7 1816.8,1515.2 1817.3,1514.8 1817.8,1513.5 1818.3,1513.3 1818.8,1513.7 1819.3,1514.4 1819.8,1514.1 1820.3,1512.7 1820.8,1513.1 1821.3,1513.8 1821.8,1513.2 1822.3,1513.4 1822.8,1515.1 1823.3,1515.3 1823.8,1515.4 1824.3,1515.6 1824.8,1516.2 1825.3,1516.8 1825.8,1516.7 1826.3,1516.3 1826.8,1516.4 1827.3,1516.8 1827.8,1517.3 1828.3,1517.6 1828.8,1517.3 1829.3,1517.1 1829.8,1517.2 1830.3,1517.8 1830.8,1517.8 1831.3,1517.5 1831.8,1517.9 1832.3,1518.8 1832.8,1519.4 1833.3,1519.2 1833.8,1518.0 1834.3,1518.1 1834.8,1518.3 1835.3,1517.3 1835.8,1517.0 1836.3,1517.5 1836.8,1517.7 1837.3,1517.0 1837.8,1516.2 1838.3,1516.7 1838.8,1517.8 1839.3,1517.7 1839.8,1517.9 1840.3,1518.3 1840.8,1518.5 1841.3,1518.2 1841.8,1518.3 1842.3,1518.3 1842.8,1517.9 1843.3,1518.4 1843.8,1519.2 1844.3,1518.9 1844.8,1518.4 1845.3,1518.6 1845.8,1518.8 1846.3,1518.5 1846.8,1517.3 1847.3,1517.2 1847.8,1518.6 1848.3,1520.0 1848.8,1519.7 1849.3,1518.9 1849.8,1519.4 1850.3,1520.0 1850.8,1519.2 1851.3,1519.0 1851.8,1519.5 1852.3,1519.6 1852.8,1519.3 1853.3,1519.4 1853.8,1520.3 1854.3,1520.2 1854.8,1519.5 1855.3,1518.6 1855.8,1517.8 1856.3,1518.3 1856.8,1518.9 1857.3,1519.0 1857.8,1519.1 1858.3,1518.1 1858.8,1517.5 1859.3,1517.7 1859.8,1517.8 1860.3,1517.5 1860.8,1517.4 1861.3,1516.9 1861.8,1516.9 1862.3,1518.0 1862.8,1518.7 1863.3,1519.2 1863.8,1519.5 1864.3,1518.2 1864.8,1516.8 1865.3,1516.6 1865.8,1516.8 1866.3,1517.4 1866.8,1517.3 1867.3,1517.0 1867.8,1517.1 1868.3,1517.4 1868.8,1517.7 1869.3,1518.0 1869.8,1517.9 1870.3,1517.9 1870.8,1517.9 1871.3,1517.4 1871.8,1517.1 1872.3,1518.1 1872.8,1519.8 1873.3,1520.3 1873.8,1519.5 1874.3,1518.9 1874.8,1518.8 1875.3,1519.3 1875.8,1519.2 1876.3,1518.7 1876.8,1518.7 1877.3,1518.6 1877.8,1518.9 1878.3,1518.6 1878.8,1518.2 1879.3,1519.1 1879.8,1520.1 1880.3,1519.4 1880.8,1518.8 1881.3,1519.6 1881.8,1519.5 1882.3,1519.1 1882.8,1519.4 1883.3,1520.1 1883.8,1519.9 1884.3,1520.0 1884.8,1520.0 1885.3,1519.4 1885.9,1518.8 1886.4,1519.5 1886.9,1519.5 1887.4,1518.6 1887.9,1518.0 1888.4,1518.8 1888.9,1519.6 1889.4,1520.1 1889.9,1519.6 1890.4,1518.8 1890.9,1518.9 1891.4,1518.6 1891.9,1518.3 1892.4,1518.2 1892.9,1517.4 1893.4,1516.9 1893.9,1517.2 1894.4,1517.6 1894.9,1518.1 1895.4,1518.9 1895.9,1519.9 1896.4,1519.8 1896.9,1518.6 1897.4,1517.5 1897.9,1517.5 1898.4,1517.5 1898.9,1517.6 1899.4,1518.4 1899.9,1517.7 1900.4,1517.4 1900.9,1518.1 1901.4,1518.5 1901.9,1518.5 1902.4,1518.6 1902.9,1518.5 1903.4,1518.4 1903.9,1518.8 1904.4,1518.5 1904.9,1518.3 1905.4,1517.7 1905.9,1516.8 1906.4,1517.1 1906.9,1517.8 1907.4,1517.5 1907.9,1517.8 1908.4,1518.6 1908.9,1518.2 1909.4,1516.9 1909.9,1517.1 1910.4,1517.8 1910.9,1518.5 1911.4,1518.5 1911.9,1518.8 1912.4,1519.2 1912.9,1519.5 1913.4,1519.7 1913.9,1520.0 1914.4,1521.1 1914.9,1521.1 1915.4,1519.8 1915.9,1519.2 1916.4,1519.6 1916.9,1519.9 1917.4,1519.8 1917.9,1519.6 1918.4,1519.5 1918.9,1519.3 1919.4,1519.2 1919.9,1518.8 1920.4,1518.2 1920.9,1517.9 1921.4,1518.9 1921.9,1519.2 1922.4,1518.7 1922.9,1517.8 1923.4,1518.4 1923.9,1519.3 1924.4,1519.4 1924.9,1518.8 1925.4,1518.6 1925.9,1519.1 1926.4,1518.7 1926.9,1518.0 1927.4,1518.6 1927.9,1519.4 1928.4,1520.1 1928.9,1520.0 1929.4,1519.6 1929.9,1519.4 1930.4,1519.2 1930.9,1520.2 1931.4,1521.3 1931.9,1521.0 1932.4,1519.7 1932.9,1519.9 1933.4,1520.3 1933.9,1520.2 1934.4,1519.2 1934.9,1518.5 1935.4,1519.4 1935.9,1519.8 1936.4,1520.3 1936.9,1520.8 1937.4,1520.8 1937.9,1520.4 1938.4,1519.9 1938.9,1520.6 1939.4,1521.5 1939.9,1521.2 1940.4,1520.4" fill="none" stroke="#f87a08" stroke-width="2.5" stroke-linejoin="round" />
<polyline points="1500.5,1706.9 1501.0,1707.8 1501.5,1707.5 1502.0,1706.3 1502.5,1705.8 1503.0,1706.0 1503.5,1706.5 1504.0,1707.0 1504.5,1706.4 1505.0,1706.4 1505.5,1707.3 1506.0,1707.9 1506.5,1707.7 1507.0,1707.8 1507.5,1707.7 1508.0,1708.3 1508.5,1708.6 1509.0,1707.9 1509.5,1707.8 1510.0,1707.8 1510.5,1707.0 1511.0,1706.6 1511.5,1707.1 1512.0,1707.2 1512.5,1706.4 1513.0,1706.9 1513.5,1706.8 1514.0,1706.2 1514.5,1706.3 1515.0,1707.0 1515.5,1707.3 1516.0,1706.4 1516.5,1705.9 1517.0,1706.1 1517.5,1706.4 1518.0,1706.0 1518.5,1706.0 1519.0,1706.2 1519.5,1705.4 1520.0,1705.0 1520.5,1705.3 1521.0,1705.8 1521.5,1705.8 1522.0,1704.8 1522.5,1704.4 1523.0,1704.1 1523.5,1704.3 1524.0,1704.9 1524.5,1705.4 1525.0,1705.4 1525.5,1706.1 1526.0,1706.7 1526.5,1706.6 1527.0,1706.6 1527.5,1706.2 1528.0,1705.9 1528.5,1706.3 1529.0,1706.2 1529.5,1705.5 1530.0,1705.7 1530.5,1706.3 1531.0,1706.2 1531.5,1705.8 1532.0,1705.7 1532.5,1705.8 1533.0,1705.3 1533.5,1705.5 1534.0,1705.7 1534.5,1705.1 1535.0,1705.0 1535.5,1705.2 1536.0,1704.4 1536.5,1703.6 1537.0,1703.2 1537.5,1703.1 1538.0,1701.5 1538.5,1699.6 1539.0,1698.6 1539.5,1697.1 1540.0,1694.5 1540.5,1692.6 1541.0,1690.4 1541.5,1687.1 1542.0,1684.5 1542.5,1681.4 1543.0,1677.7 1543.5,1675.2 1544.0,1674.8 1544.5,1676.5 1545.0,1679.7 1545.5,1682.1 1546.0,1683.5 1546.5,1686.2 1547.0,1690.1 1547.5,1693.1 1548.0,1694.7 1548.5,1695.8 1549.0,1697.3 1549.5,1698.4 1550.0,1699.3 1550.5,1699.8 1551.0,1700.9 1551.5,1701.7 1552.0,1701.8 1552.5,1701.6 1553.0,1701.4 1553.5,1702.6 1554.0,1703.7 1554.5,1703.3 1555.0,1703.5 1555.6,1704.6 1556.1,1705.7 1556.6,1706.1 1557.1,1705.5 1557.6,1704.5 1558.1,1704.7 1558.6,1706.3 1559.1,1707.3 1559.6,1706.2 1560.1,1705.7 1560.6,1705.7 1561.1,1705.9 1561.6,1705.9 1562.1,1706.2 1562.6,1706.7 1563.1,1707.1 1563.6,1707.2 1564.1,1706.7 1564.6,1706.4 1565.1,1705.7 1565.6,1704.8 1566.1,1705.2 1566.6,1706.4 1567.1,1707.0 1567.6,1707.1 1568.1,1707.4 1568.6,1707.7 1569.1,1707.9 1569.6,1707.6 1570.1,1707.2 1570.6,1707.0 1571.1,1706.4 1571.6,1706.5 1572.1,1706.6 1572.6,1707.3 1573.1,1707.9 1573.6,1707.8 1574.1,1707.3 1574.6,1706.8 1575.1,1707.5 1575.6,1708.5 1576.1,1708.6 1576.6,1708.3 1577.1,1707.1 1577.6,1707.7 1578.1,1709.0 1578.6,1709.3 1579.1,1709.5 1579.6,1709.2 1580.1,1707.9 1580.6,1707.8 1581.1,1708.4 1581.6,1708.3 1582.1,1707.7 1582.6,1707.4 1583.1,1706.9 1583.6,1706.6 1584.1,1706.9 1584.6,1707.2 1585.1,1707.3 1585.6,1707.4 1586.1,1708.1 1586.6,1708.1 1587.1,1708.1 1587.6,1707.7 1588.1,1707.4 1588.6,1707.2 1589.1,1707.1 1589.6,1707.3 1590.1,1707.7 1590.6,1708.1 1591.1,1707.8 1591.6,1707.9 1592.1,1708.3 1592.6,1708.0 1593.1,1707.7 1593.6,1707.7 1594.1,1708.0 1594.6,1708.3 1595.1,1707.8 1595.6,1707.3 1596.1,1708.0 1596.6,1709.2 1597.1,1708.8 1597.6,1708.4 1598.1,1708.4 1598.6,1708.7 1599.1,1709.1 1599.6,1708.7 1600.1,1708.6 1600.6,1708.5 1601.1,1707.8 1601.6,1708.0 1602.1,1708.8 1602.6,1708.8 1603.1,1708.9 1603.6,1709.2 1604.1,1708.9 1604.6,1708.3 1605.1,1708.4 1605.6,1708.3 1606.1,1708.0 1606.6,1708.1 1607.1,1707.5 1607.6,1707.1 1608.1,1708.0 1608.6,1708.9 1609.1,1708.3 1609.6,1707.6 1610.1,1707.6 1610.6,1707.3 1611.1,1707.3 1611.6,1706.9 1612.1,1706.2 1612.6,1706.2 1613.1,1706.2 1613.6,1705.8 1614.1,1705.6 1614.6,1705.5 1615.1,1706.1 1615.6,1707.6 1616.1,1708.1 1616.6,1707.7 1617.1,1707.3 1617.6,1706.1 1618.1,1705.4 1618.6,1706.2 1619.1,1706.8 1619.6,1706.4 1620.1,1706.3 1620.6,1706.1 1621.1,1705.0 1621.6,1704.6 1622.1,1705.2 1622.6,1705.7 1623.1,1706.0 1623.6,1706.9 1624.1,1707.0 1624.6,1706.1 1625.1,1706.4 1625.6,1706.6 1626.1,1706.5 1626.6,1706.3 1627.1,1706.0 1627.6,1706.7 1628.1,1707.5 1628.6,1706.9 1629.1,1706.2 1629.6,1706.7 1630.1,1707.8 1630.6,1707.2 1631.1,1707.1 1631.6,1707.0 1632.1,1706.5 1632.6,1706.4 1633.1,1706.2 1633.6,1706.0 1634.1,1706.8 1634.6,1707.0 1635.1,1706.3 1635.6,1706.6 1636.1,1706.1 1636.6,1705.3 1637.1,1705.8 1637.6,1706.8 1638.1,1707.2 1638.6,1707.1 1639.1,1706.9 1639.6,1707.0 1640.1,1707.0 1640.6,1707.3 1641.1,1707.2 1641.6,1707.1 1642.1,1707.1 1642.6,1706.2 1643.1,1706.8 1643.6,1707.7 1644.1,1707.7 1644.6,1707.0 1645.1,1707.1 1645.6,1707.0 1646.1,1707.1 1646.6,1707.3 1647.1,1707.1 1647.6,1707.2 1648.1,1707.5 1648.6,1706.4 1649.1,1705.7 1649.6,1706.1 1650.1,1706.6 1650.6,1706.6 1651.1,1706.4 1651.6,1707.7 1652.1,1708.3 1652.6,1707.1 1653.1,1706.0 1653.6,1706.5 1654.1,1705.6 1654.6,1704.8 1655.1,1705.0 1655.6,1705.9 1656.1,1706.4 1656.6,1706.4 1657.1,1705.6 1657.6,1706.3 1658.1,1707.6 1658.6,1706.7 1659.1,1705.9 1659.6,1706.3 1660.1,1706.7 1660.6,1706.8 1661.1,1706.5 1661.6,1706.3 1662.1,1707.1 1662.6,1708.4 1663.1,1707.3 1663.6,1705.4 1664.1,1705.8 1664.6,1706.7 1665.1,1707.3 1665.7,1707.8 1666.2,1708.8 1666.7,1708.9 1667.2,1708.6 1667.7,1708.4 1668.2,1707.8 1668.7,1708.1 1669.2,1708.8 1669.7,1708.3 1670.2,1708.1 1670.7,1708.7 1671.2,1708.6 1671.7,1707.9 1672.2,1707.5 1672.7,1707.5 1673.2,1707.4 1673.7,1707.5 1674.2,1708.7 1674.7,1709.3 1675.2,1709.1 1675.7,1709.6 1676.2,1709.5 1676.7,1708.5 1677.2,1707.6 1677.7,1708.2 1678.2,1709.5 1678.7,1710.5 1679.2,1710.7 1679.7,1710.0 1680.2,1708.4 1680.7,1708.1 1681.2,1709.2 1681.7,1709.9 1682.2,1710.1 1682.7,1709.9 1683.2,1709.2 1683.7,1708.9 1684.2,1709.4 1684.7,1709.6 1685.2,1710.0 1685.7,1710.2 1686.2,1710.0 1686.7,1710.3 1687.2,1710.2 1687.7,1710.5 1688.2,1710.4 1688.7,1709.7 1689.2,1710.0 1689.7,1710.7 1690.2,1710.3 1690.7,1710.1 1691.2,1709.7 1691.7,1709.0 1692.2,1709.0 1692.7,1709.5 1693.2,1709.8 1693.7,1709.4 1694.2,1708.5 1694.7,1708.5 1695.2,1709.2 1695.7,1708.9 1696.2,1707.7 1696.7,1707.8 1697.2,1708.3 1697.7,1708.5 1698.2,1708.6 1698.7,1709.2 1699.2,1709.7 1699.7,1709.7 1700.2,1709.6 1700.7,1709.3 1701.2,1708.9 1701.7,1709.1 1702.2,1708.9 1702.7,1708.7 1703.2,1708.6 1703.7,1708.9 1704.2,1709.5 1704.7,1709.1 1705.2,1709.2 1705.7,1710.1 1706.2,1710.3 1706.7,1710.1 1707.2,1709.9 1707.7,1708.9 1708.2,1708.4 1708.7,1708.8 1709.2,1709.3 1709.7,1708.7 1710.2,1708.2 1710.7,1708.2 1711.2,1708.4 1711.7,1708.3 1712.2,1708.1 1712.7,1708.0 1713.2,1709.0 1713.7,1709.0 1714.2,1708.5 1714.7,1709.8 1715.2,1710.1 1715.7,1709.3 1716.2,1709.7 1716.7,1709.4 1717.2,1708.6 1717.7,1708.6 1718.2,1709.0 1718.7,1710.0 1719.2,1709.8 1719.7,1708.7 1720.2,1708.3 1720.7,1708.1 1721.2,1708.7 1721.7,1709.2 1722.2,1708.3 1722.7,1708.4 1723.2,1709.1 1723.7,1709.4 1724.2,1709.5 1724.7,1708.3 1725.2,1708.1 1725.7,1708.7 1726.2,1708.6 1726.7,1708.6 1727.2,1709.8 1727.7,1710.1 1728.2,1709.5 1728.7,1709.1 1729.2,1708.7 1729.7,1707.9 1730.2,1707.9 1730.7,1708.9 1731.2,1710.2 1731.7,1710.1 1732.2,1709.2 1732.7,1708.3 1733.2,1707.6 1733.7,1709.1 1734.2,1709.7 1734.7,1709.4 1735.2,1709.4 1735.7,1709.4 1736.2,1708.8 1736.7,1709.5 1737.2,1710.2 1737.7,1709.3 1738.2,1708.8 1738.7,1708.4 1739.2,1707.5 1739.7,1707.9 1740.2,1707.9 1740.7,1707.1 1741.2,1707.0 1741.7,1706.5 1742.2,1706.1 1742.7,1707.0 1743.2,1707.9 1743.7,1708.4 1744.2,1709.0 1744.7,1709.4 1745.2,1709.7 1745.7,1709.6 1746.2,1709.2 1746.7,1710.0 1747.2,1710.4 1747.7,1710.2 1748.2,1709.1 1748.7,1708.7 1749.2,1709.6 1749.7,1709.9 1750.2,1709.1 1750.7,1708.6 1751.2,1708.1 1751.7,1708.0 1752.2,1708.5 1752.7,1709.0 1753.2,1709.1 1753.7,1708.8 1754.2,1709.1 1754.7,1709.1 1755.2,1708.8 1755.7,1708.5 1756.2,1708.2 1756.7,1707.8 1757.2,1707.8 1757.7,1707.8 1758.2,1707.5 1758.7,1707.6 1759.2,1708.0 1759.7,1707.4 1760.2,1706.9 1760.7,1706.8 1761.2,1707.7 1761.7,1708.1 1762.2,1707.7 1762.7,1706.7 1763.2,1705.1 1763.7,1704.5 1764.2,1704.0 1764.7,1703.9 1765.2,1703.8 1765.7,1703.0 1766.2,1702.0 1766.7,1701.0 1767.2,1699.2 1767.7,1697.6 1768.2,1696.4 1768.7,1694.7 1769.2,1692.0 1769.7,1689.3 1770.2,1685.2 1770.7,1680.5 1771.2,1676.4 1771.7,1673.3 1772.2,1671.3 1772.7,1671.5 1773.2,1674.5 1773.7,1678.5 1774.2,1682.7 1774.7,1686.3 1775.2,1689.7 1775.8,1693.3 1776.3,1695.5 1776.8,1697.8 1777.3,1699.9 1777.8,1700.4 1778.3,1701.1 1778.8,1702.6 1779.3,1703.9 1779.8,1704.7 1780.3,1705.0 1780.8,1704.7 1781.3,1704.1 1781.8,1704.2 1782.3,1704.9 1782.8,1704.8 1783.3,1704.4 1783.8,1704.6 1784.3,1704.6 1784.8,1704.6 1785.3,1704.9 1785.8,1705.5 1786.3,1706.2 1786.8,1705.6 1787.3,1705.1 1787.8,1704.0 1788.3,1702.6 1788.8,1701.8 1789.3,1701.3 1789.8,1699.9 1790.3,1698.5 1790.8,1697.0 1791.3,1693.9 1791.8,1689.4 1792.3,1685.5 1792.8,1679.4 1793.3,1669.9 1793.8,1656.9 1794.3,1639.3 1794.8,1617.3 1795.3,1595.8 1795.8,1585.2 1796.3,1592.5 1796.8,1613.0 1797.3,1637.3 1797.8,1656.4 1798.3,1668.9 1798.8,1678.2 1799.3,1685.0 1799.8,1689.9 1800.3,1694.1 1800.8,1696.8 1801.3,1697.9 1801.8,1699.8 1802.3,1700.7 1802.8,1701.7 1803.3,1703.8 1803.8,1704.4 1804.3,1704.0 1804.8,1704.7 1805.3,1705.0 1805.8,1705.2 1806.3,1705.9 1806.8,1705.8 1807.3,1705.9 1807.8,1706.7 1808.3,1706.7 1808.8,1705.7 1809.3,1704.2 1809.8,1704.1 1810.3,1704.9 1810.8,1704.9 1811.3,1704.4 1811.8,1704.0 1812.3,1703.6 1812.8,1703.7 1813.3,1703.6 1813.8,1702.8 1814.3,1702.4 1814.8,1702.6 1815.3,1702.4 1815.8,1701.5 1816.3,1701.3 1816.8,1701.6 1817.3,1701.9 1817.8,1702.1 1818.3,1702.1 1818.8,1702.5 1819.3,1702.8 1819.8,1703.5 1820.3,1703.6 1820.8,1703.7 1821.3,1704.6 1821.8,1706.2 1822.3,1707.1 1822.8,1706.8 1823.3,1707.2 1823.8,1707.5 1824.3,1706.0 1824.8,1705.5 1825.3,1706.4 1825.8,1707.8 1826.3,1708.9 1826.8,1709.0 1827.3,1708.5 1827.8,1707.2 1828.3,1705.6 1828.8,1706.0 1829.3,1707.6 1829.8,1707.6 1830.3,1707.6 1830.8,1708.0 1831.3,1708.0 1831.8,1708.8 1832.3,1709.3 1832.8,1708.2 1833.3,1708.3 1833.8,1708.7 1834.3,1709.0 1834.8,1709.3 1835.3,1709.3 1835.8,1709.8 1836.3,1710.1 1836.8,1709.6 1837.3,1709.7 1837.8,1709.6 1838.3,1709.3 1838.8,1709.5 1839.3,1710.4 1839.8,1710.3 1840.3,1710.3 1840.8,1710.7 1841.3,1710.2 1841.8,1710.0 1842.3,1711.2 1842.8,1711.4 1843.3,1710.2 1843.8,1709.6 1844.3,1709.6 1844.8,1709.5 1845.3,1710.3 1845.8,1711.3 1846.3,1711.1 1846.8,1710.6 1847.3,1710.6 1847.8,1710.5 1848.3,1711.0 1848.8,1710.9 1849.3,1710.6 1849.8,1711.2 1850.3,1712.2 1850.8,1711.9 1851.3,1711.5 1851.8,1711.9 1852.3,1711.3 1852.8,1710.8 1853.3,1710.8 1853.8,1710.5 1854.3,1710.4 1854.8,1710.8 1855.3,1710.3 1855.8,1710.1 1856.3,1710.0 1856.8,1710.6 1857.3,1711.0 1857.8,1710.7 1858.3,1711.0 1858.8,1711.8 1859.3,1711.6 1859.8,1712.1 1860.3,1712.0 1860.8,1710.7 1861.3,1710.6 1861.8,1711.4 1862.3,1711.9 1862.8,1711.9 1863.3,1712.1 1863.8,1712.8 1864.3,1712.8 1864.8,1712.4 1865.3,1712.9 1865.8,1712.6 1866.3,1711.9 1866.8,1712.7 1867.3,1713.5 1867.8,1712.7 1868.3,1711.5 1868.8,1711.9 1869.3,1712.0 1869.8,1712.1 1870.3,1711.8 1870.8,1711.7 1871.3,1712.1 1871.8,1712.0 1872.3,1711.7 1872.8,1711.5 1873.3,1711.8 1873.8,1712.2 1874.3,1712.0 1874.8,1711.3 1875.3,1710.7 1875.8,1711.0 1876.3,1711.8 1876.8,1711.5 1877.3,1711.5 1877.8,1711.3 1878.3,1711.1 1878.8,1711.1 1879.3,1711.0 1879.8,1711.6 1880.3,1711.0 1880.8,1711.0 1881.3,1711.9 1881.8,1711.8 1882.3,1711.3 1882.8,1710.6 1883.3,1710.5 1883.8,1711.6 1884.3,1712.0 1884.8,1711.7 1885.3,1711.8 1885.9,1711.5 1886.4,1711.3 1886.9,1712.0 1887.4,1712.3 1887.9,1712.0 1888.4,1711.3 1888.9,1710.3 1889.4,1710.0 1889.9,1710.3 1890.4,1710.6 1890.9,1710.7 1891.4,1710.9 1891.9,1710.7 1892.4,1710.8 1892.9,1712.0 1893.4,1710.8 1893.9,1710.3 1894.4,1711.6 1894.9,1711.5 1895.4,1710.2 1895.9,1709.4 1896.4,1710.0 1896.9,1710.9 1897.4,1710.6 1897.9,1710.2 1898.4,1711.3 1898.9,1711.4 1899.4,1710.6 1899.9,1710.1 1900.4,1711.0 1900.9,1712.7 1901.4,1713.2 1901.9,1712.0 1902.4,1711.6 1902.9,1710.9 1903.4,1710.6 1903.9,1710.8 1904.4,1710.4 1904.9,1710.2 1905.4,1710.8 1905.9,1711.4 1906.4,1712.0 1906.9,1712.3 1907.4,1711.9 1907.9,1711.7 1908.4,1711.8 1908.9,1712.1 1909.4,1712.1 1909.9,1711.0 1910.4,1710.2 1910.9,1711.8 1911.4,1713.8 1911.9,1713.5 1912.4,1713.0 1912.9,1713.3 1913.4,1713.1 1913.9,1712.8 1914.4,1712.5 1914.9,1712.8 1915.4,1712.5 1915.9,1712.0 1916.4,1712.0 1916.9,1712.7 1917.4,1713.3 1917.9,1713.3 1918.4,1713.6 1918.9,1714.0 1919.4,1714.5 1919.9,1713.8 1920.4,1713.5 1920.9,1713.7 1921.4,1712.7 1921.9,1712.6 1922.4,1713.3 1922.9,1713.4 1923.4,1712.9 1923.9,1712.5 1924.4,1712.0 1924.9,1711.8 1925.4,1712.5 1925.9,1711.9 1926.4,1711.4 1926.9,1711.3 1927.4,1711.1 1927.9,1711.2 1928.4,1711.2 1928.9,1711.6 1929.4,1711.7 1929.9,1711.4 1930.4,1711.7 1930.9,1712.5 1931.4,1713.0 1931.9,1713.0 1932.4,1712.2 1932.9,1712.2 1933.4,1712.2 1933.9,1712.3 1934.4,1712.1 1934.9,1712.1 1935.4,1712.0 1935.9,1711.7 1936.4,1712.0 1936.9,1712.6 1937.4,1711.9 1937.9,1711.7 1938.4,1712.2 1938.9,1712.4 1939.4,1712.5 1939.9,1712.5 1940.4,1712.7" fill="none" stroke="#0a820a" stroke-width="2.5" stroke-linejoin="round" />
<rect x="1498.7" y="1331.0" width="446.0" height="447.0" fill="none" stroke="#000" stroke-width="2.6"/>
<path d="M1498.7 1778.0L1498.7 1788.6M1647.2 1778.0L1647.2 1788.6M1795.8 1778.0L1795.8 1788.6M1944.7 1778.0L1944.7 1788.6M1572.9 1778.0L1572.9 1783.6M1721.5 1778.0L1721.5 1783.6M1870.1 1778.0L1870.1 1783.6" stroke="#000" stroke-width="2.6" fill="none"/>
<text x="1498.7" y="1822.5" font-size="36" text-anchor="middle">200</text>
<text x="1647.2" y="1822.5" font-size="36" text-anchor="middle">100</text>
<text x="1795.8" y="1822.5" font-size="36" text-anchor="middle">0</text>
<text x="1944.7" y="1822.5" font-size="36" text-anchor="middle">–100</text>
<text x="1721.0" y="1863.7" font-size="36" text-anchor="middle">Chemical shift (ppm)</text>
<text x="1477.5" y="1555.5" font-size="36" text-anchor="middle" transform="rotate(-90 1477.5 1555.5)">Intensity (a.u.)</text>
<text x="1509.5" y="1372.9" font-size="35" font-weight="bold"><tspan font-size="23" dy="-10.5">17</tspan><tspan dy="10.5">O</tspan></text>
<text x="1547.0" y="1428.4" font-size="30.8" text-anchor="middle" fill="#f87a08">LiFSI</text>
<text x="1547.0" y="1465.7" font-size="30.8" text-anchor="middle" fill="#f87a08">169.0</text>
<text x="1547.0" y="1623.3" font-size="30.8" text-anchor="middle" fill="#0a820a">LiFSI</text>
<text x="1547.0" y="1660.5" font-size="30.8" text-anchor="middle" fill="#0a820a">169.0</text>
<text x="1760.5" y="1420.4" font-size="30.8" text-anchor="middle" fill="#f87a08">THF</text>
<text x="1761.0" y="1458.0" font-size="30.8" text-anchor="middle" fill="#f87a08">15.4</text>
<text x="1760.5" y="1615.2" font-size="30.8" text-anchor="middle" fill="#0a820a">THF</text>
<text x="1761.0" y="1652.4" font-size="30.8" text-anchor="middle" fill="#0a820a">15.5</text>
<text x="1769.0" y="1381.0" font-size="31.6">D<tspan font-size="20" dy="7.2">2</tspan><tspan dy="-7.2">O</tspan></text>
<text x="1769.0" y="1573.7" font-size="31.6">D<tspan font-size="20" dy="7.2">2</tspan><tspan dy="-7.2">O</tspan></text>
<text x="1887.1" y="1558.2" font-size="33.5" text-anchor="middle" fill="#f87a08">ACE</text>
<text x="1887.1" y="1750.2" font-size="33.5" text-anchor="middle" fill="#0a820a">CEE</text>
<text x="1417.6" y="1334.2" font-size="57" font-weight="bold">h</text>
</svg>
</body>
</html>
